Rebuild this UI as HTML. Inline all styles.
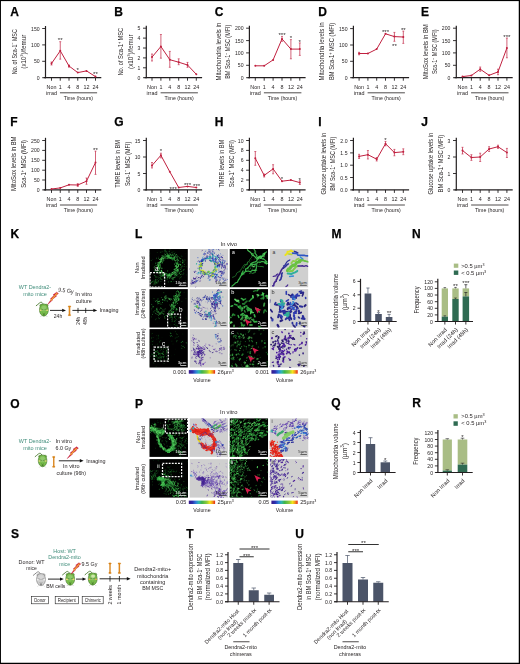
<!DOCTYPE html>
<html><head><meta charset="utf-8"><title>Figure</title>
<style>
html,body{margin:0;padding:0;background:#fff;}
body{width:520px;height:664px;overflow:hidden;position:relative;}
svg{display:block;position:absolute;left:0;top:0;font-family:"Liberation Sans",sans-serif;}
</style></head><body>
<svg width="520" height="664" viewBox="0 0 520 664">
<rect x="0" y="0" width="520" height="664" fill="#fff"/>
<g opacity="0.999">
<text x="10.30" y="16.25" font-size="12" font-weight="bold" fill="#000" stroke="#000" stroke-width="0.25">A</text>
<line x1="45.50" y1="26.00" x2="45.50" y2="78.30" stroke="#231f20" stroke-width="1.2" stroke-linecap="butt"/>
<line x1="43.70" y1="77.70" x2="101.30" y2="77.70" stroke="#231f20" stroke-width="1.2" stroke-linecap="butt"/>
<line x1="42.20" y1="28.50" x2="45.50" y2="28.50" stroke="#231f20" stroke-width="0.9" stroke-linecap="butt"/>
<text x="39.60" y="30.55" font-size="5.8" text-anchor="end" fill="#231f20" textLength="8.55" lengthAdjust="spacingAndGlyphs">150</text>
<line x1="42.20" y1="44.90" x2="45.50" y2="44.90" stroke="#231f20" stroke-width="0.9" stroke-linecap="butt"/>
<text x="39.60" y="46.95" font-size="5.8" text-anchor="end" fill="#231f20" textLength="8.55" lengthAdjust="spacingAndGlyphs">100</text>
<line x1="42.20" y1="61.30" x2="45.50" y2="61.30" stroke="#231f20" stroke-width="0.9" stroke-linecap="butt"/>
<text x="39.60" y="63.35" font-size="5.8" text-anchor="end" fill="#231f20" textLength="5.70" lengthAdjust="spacingAndGlyphs">50</text>
<line x1="42.20" y1="77.70" x2="45.50" y2="77.70" stroke="#231f20" stroke-width="0.9" stroke-linecap="butt"/>
<text x="39.60" y="79.75" font-size="5.8" text-anchor="end" fill="#231f20" textLength="2.85" lengthAdjust="spacingAndGlyphs">0</text>
<line x1="51.50" y1="77.70" x2="51.50" y2="80.70" stroke="#231f20" stroke-width="0.9" stroke-linecap="butt"/>
<line x1="60.25" y1="77.70" x2="60.25" y2="80.70" stroke="#231f20" stroke-width="0.9" stroke-linecap="butt"/>
<line x1="69.00" y1="77.70" x2="69.00" y2="80.70" stroke="#231f20" stroke-width="0.9" stroke-linecap="butt"/>
<line x1="77.75" y1="77.70" x2="77.75" y2="80.70" stroke="#231f20" stroke-width="0.9" stroke-linecap="butt"/>
<line x1="86.50" y1="77.70" x2="86.50" y2="80.70" stroke="#231f20" stroke-width="0.9" stroke-linecap="butt"/>
<line x1="95.50" y1="77.70" x2="95.50" y2="80.70" stroke="#231f20" stroke-width="0.9" stroke-linecap="butt"/>
<text x="51.50" y="88.50" font-size="5.4" text-anchor="middle" fill="#231f20">Non</text>
<text x="60.25" y="88.50" font-size="5.4" text-anchor="middle" fill="#231f20">1</text>
<text x="69.00" y="88.50" font-size="5.4" text-anchor="middle" fill="#231f20">4</text>
<text x="77.75" y="88.50" font-size="5.4" text-anchor="middle" fill="#231f20">8</text>
<text x="86.50" y="88.50" font-size="5.4" text-anchor="middle" fill="#231f20">12</text>
<text x="95.50" y="88.50" font-size="5.4" text-anchor="middle" fill="#231f20">24</text>
<text x="51.50" y="94.50" font-size="5.4" text-anchor="middle" fill="#231f20">irrad</text>
<line x1="59.95" y1="92.80" x2="97.10" y2="92.80" stroke="#231f20" stroke-width="0.8" stroke-linecap="butt"/>
<text x="78.38" y="100.10" font-size="5.4" text-anchor="middle" fill="#231f20" textLength="29.40" lengthAdjust="spacingAndGlyphs">Time (hours)</text>
<line x1="51.50" y1="62.00" x2="51.50" y2="65.00" stroke="#c0203f" stroke-width="0.7" stroke-linecap="butt"/>
<line x1="50.50" y1="62.00" x2="52.50" y2="62.00" stroke="#c0203f" stroke-width="0.6" stroke-linecap="butt"/>
<line x1="50.50" y1="65.00" x2="52.50" y2="65.00" stroke="#c0203f" stroke-width="0.6" stroke-linecap="butt"/>
<line x1="60.25" y1="41.70" x2="60.25" y2="59.20" stroke="#c0203f" stroke-width="0.7" stroke-linecap="butt"/>
<line x1="59.25" y1="41.70" x2="61.25" y2="41.70" stroke="#c0203f" stroke-width="0.6" stroke-linecap="butt"/>
<line x1="59.25" y1="59.20" x2="61.25" y2="59.20" stroke="#c0203f" stroke-width="0.6" stroke-linecap="butt"/>
<line x1="69.00" y1="65.00" x2="69.00" y2="67.20" stroke="#c0203f" stroke-width="0.7" stroke-linecap="butt"/>
<line x1="68.00" y1="65.00" x2="70.00" y2="65.00" stroke="#c0203f" stroke-width="0.6" stroke-linecap="butt"/>
<line x1="68.00" y1="67.20" x2="70.00" y2="67.20" stroke="#c0203f" stroke-width="0.6" stroke-linecap="butt"/>
<path d="M51.50 63.50 L60.25 50.80 L69.00 66.00 L77.75 72.60 L86.50 70.90 L95.50 76.60" fill="none" stroke="#c0203f" stroke-width="1.0" stroke-linejoin="round"/>
<circle cx="51.50" cy="63.50" r="1.0" fill="#c0203f"/>
<circle cx="60.25" cy="50.80" r="1.0" fill="#c0203f"/>
<circle cx="69.00" cy="66.00" r="1.0" fill="#c0203f"/>
<circle cx="77.75" cy="72.60" r="1.0" fill="#c0203f"/>
<circle cx="86.50" cy="70.90" r="1.0" fill="#c0203f"/>
<circle cx="95.50" cy="76.60" r="1.0" fill="#c0203f"/>
<text x="60.25" y="42.20" font-size="6.2" text-anchor="middle" fill="#231f20">**</text>
<text x="77.75" y="72.10" font-size="6.2" text-anchor="middle" fill="#231f20">*</text>
<text x="95.50" y="75.90" font-size="6.2" text-anchor="middle" fill="#231f20">**</text>
<text x="16.90" y="51.70" font-size="7.7" text-anchor="middle" fill="#231f20" textLength="45.00" lengthAdjust="spacingAndGlyphs" transform="rotate(-90 16.90 51.70)">No. of Sca-1<tspan font-size="4.8" dy="-2.6">−</tspan><tspan dy="2.6"> MSC</tspan></text>
<text x="26.10" y="51.70" font-size="7.7" text-anchor="middle" fill="#231f20" textLength="34.00" lengthAdjust="spacingAndGlyphs" transform="rotate(-90 26.10 51.70)">(x10<tspan font-size="4.4" dy="-2.6">3</tspan><tspan dy="2.6">)/femur</tspan></text>
<text x="114.20" y="16.25" font-size="12" font-weight="bold" fill="#000" stroke="#000" stroke-width="0.25">B</text>
<line x1="146.30" y1="25.80" x2="146.30" y2="78.30" stroke="#231f20" stroke-width="1.2" stroke-linecap="butt"/>
<line x1="144.50" y1="77.70" x2="202.10" y2="77.70" stroke="#231f20" stroke-width="1.2" stroke-linecap="butt"/>
<line x1="143.00" y1="28.20" x2="146.30" y2="28.20" stroke="#231f20" stroke-width="0.9" stroke-linecap="butt"/>
<text x="140.40" y="30.25" font-size="5.8" text-anchor="end" fill="#231f20" textLength="2.85" lengthAdjust="spacingAndGlyphs">5</text>
<line x1="143.00" y1="38.10" x2="146.30" y2="38.10" stroke="#231f20" stroke-width="0.9" stroke-linecap="butt"/>
<text x="140.40" y="40.15" font-size="5.8" text-anchor="end" fill="#231f20" textLength="2.85" lengthAdjust="spacingAndGlyphs">4</text>
<line x1="143.00" y1="48.00" x2="146.30" y2="48.00" stroke="#231f20" stroke-width="0.9" stroke-linecap="butt"/>
<text x="140.40" y="50.05" font-size="5.8" text-anchor="end" fill="#231f20" textLength="2.85" lengthAdjust="spacingAndGlyphs">3</text>
<line x1="143.00" y1="57.90" x2="146.30" y2="57.90" stroke="#231f20" stroke-width="0.9" stroke-linecap="butt"/>
<text x="140.40" y="59.95" font-size="5.8" text-anchor="end" fill="#231f20" textLength="2.85" lengthAdjust="spacingAndGlyphs">2</text>
<line x1="143.00" y1="67.80" x2="146.30" y2="67.80" stroke="#231f20" stroke-width="0.9" stroke-linecap="butt"/>
<text x="140.40" y="69.85" font-size="5.8" text-anchor="end" fill="#231f20" textLength="2.85" lengthAdjust="spacingAndGlyphs">1</text>
<line x1="143.00" y1="77.70" x2="146.30" y2="77.70" stroke="#231f20" stroke-width="0.9" stroke-linecap="butt"/>
<text x="140.40" y="79.75" font-size="5.8" text-anchor="end" fill="#231f20" textLength="2.85" lengthAdjust="spacingAndGlyphs">0</text>
<line x1="152.00" y1="77.70" x2="152.00" y2="80.70" stroke="#231f20" stroke-width="0.9" stroke-linecap="butt"/>
<line x1="160.90" y1="77.70" x2="160.90" y2="80.70" stroke="#231f20" stroke-width="0.9" stroke-linecap="butt"/>
<line x1="169.80" y1="77.70" x2="169.80" y2="80.70" stroke="#231f20" stroke-width="0.9" stroke-linecap="butt"/>
<line x1="178.70" y1="77.70" x2="178.70" y2="80.70" stroke="#231f20" stroke-width="0.9" stroke-linecap="butt"/>
<line x1="187.50" y1="77.70" x2="187.50" y2="80.70" stroke="#231f20" stroke-width="0.9" stroke-linecap="butt"/>
<line x1="196.30" y1="77.70" x2="196.30" y2="80.70" stroke="#231f20" stroke-width="0.9" stroke-linecap="butt"/>
<text x="152.00" y="88.50" font-size="5.4" text-anchor="middle" fill="#231f20">Non</text>
<text x="160.90" y="88.50" font-size="5.4" text-anchor="middle" fill="#231f20">1</text>
<text x="169.80" y="88.50" font-size="5.4" text-anchor="middle" fill="#231f20">4</text>
<text x="178.70" y="88.50" font-size="5.4" text-anchor="middle" fill="#231f20">8</text>
<text x="187.50" y="88.50" font-size="5.4" text-anchor="middle" fill="#231f20">12</text>
<text x="196.30" y="88.50" font-size="5.4" text-anchor="middle" fill="#231f20">24</text>
<text x="152.00" y="94.50" font-size="5.4" text-anchor="middle" fill="#231f20">irrad</text>
<line x1="160.60" y1="92.80" x2="197.90" y2="92.80" stroke="#231f20" stroke-width="0.8" stroke-linecap="butt"/>
<text x="179.10" y="100.10" font-size="5.4" text-anchor="middle" fill="#231f20" textLength="29.40" lengthAdjust="spacingAndGlyphs">Time (hours)</text>
<line x1="152.00" y1="54.00" x2="152.00" y2="61.00" stroke="#c0203f" stroke-width="0.7" stroke-linecap="butt"/>
<line x1="151.00" y1="54.00" x2="153.00" y2="54.00" stroke="#c0203f" stroke-width="0.6" stroke-linecap="butt"/>
<line x1="151.00" y1="61.00" x2="153.00" y2="61.00" stroke="#c0203f" stroke-width="0.6" stroke-linecap="butt"/>
<line x1="160.90" y1="34.50" x2="160.90" y2="58.20" stroke="#c0203f" stroke-width="0.7" stroke-linecap="butt"/>
<line x1="159.90" y1="34.50" x2="161.90" y2="34.50" stroke="#c0203f" stroke-width="0.6" stroke-linecap="butt"/>
<line x1="159.90" y1="58.20" x2="161.90" y2="58.20" stroke="#c0203f" stroke-width="0.6" stroke-linecap="butt"/>
<line x1="169.80" y1="51.40" x2="169.80" y2="67.30" stroke="#c0203f" stroke-width="0.7" stroke-linecap="butt"/>
<line x1="168.80" y1="51.40" x2="170.80" y2="51.40" stroke="#c0203f" stroke-width="0.6" stroke-linecap="butt"/>
<line x1="168.80" y1="67.30" x2="170.80" y2="67.30" stroke="#c0203f" stroke-width="0.6" stroke-linecap="butt"/>
<line x1="178.70" y1="58.80" x2="178.70" y2="64.70" stroke="#c0203f" stroke-width="0.7" stroke-linecap="butt"/>
<line x1="177.70" y1="58.80" x2="179.70" y2="58.80" stroke="#c0203f" stroke-width="0.6" stroke-linecap="butt"/>
<line x1="177.70" y1="64.70" x2="179.70" y2="64.70" stroke="#c0203f" stroke-width="0.6" stroke-linecap="butt"/>
<line x1="187.50" y1="62.40" x2="187.50" y2="67.30" stroke="#c0203f" stroke-width="0.7" stroke-linecap="butt"/>
<line x1="186.50" y1="62.40" x2="188.50" y2="62.40" stroke="#c0203f" stroke-width="0.6" stroke-linecap="butt"/>
<line x1="186.50" y1="67.30" x2="188.50" y2="67.30" stroke="#c0203f" stroke-width="0.6" stroke-linecap="butt"/>
<path d="M152.00 57.10 L160.90 46.50 L169.80 59.70 L178.70 62.20 L187.50 65.00 L196.30 74.30" fill="none" stroke="#c0203f" stroke-width="1.0" stroke-linejoin="round"/>
<circle cx="152.00" cy="57.10" r="1.0" fill="#c0203f"/>
<circle cx="160.90" cy="46.50" r="1.0" fill="#c0203f"/>
<circle cx="169.80" cy="59.70" r="1.0" fill="#c0203f"/>
<circle cx="178.70" cy="62.20" r="1.0" fill="#c0203f"/>
<circle cx="187.50" cy="65.00" r="1.0" fill="#c0203f"/>
<circle cx="196.30" cy="74.30" r="1.0" fill="#c0203f"/>
<text x="123.40" y="51.70" font-size="7.7" text-anchor="middle" fill="#231f20" textLength="47.80" lengthAdjust="spacingAndGlyphs" transform="rotate(-90 123.40 51.70)">No. of Sca-1<tspan font-size="4.8" dy="-2.6">+</tspan><tspan dy="2.6"> MSC</tspan></text>
<text x="132.60" y="51.70" font-size="7.7" text-anchor="middle" fill="#231f20" textLength="34.50" lengthAdjust="spacingAndGlyphs" transform="rotate(-90 132.60 51.70)">(x10<tspan font-size="4.4" dy="-2.6">3</tspan><tspan dy="2.6">)/femur</tspan></text>
<text x="214.80" y="16.25" font-size="12" font-weight="bold" fill="#000" stroke="#000" stroke-width="0.25">C</text>
<line x1="249.40" y1="25.80" x2="249.40" y2="78.30" stroke="#231f20" stroke-width="1.2" stroke-linecap="butt"/>
<line x1="247.60" y1="77.70" x2="305.60" y2="77.70" stroke="#231f20" stroke-width="1.2" stroke-linecap="butt"/>
<line x1="246.10" y1="28.20" x2="249.40" y2="28.20" stroke="#231f20" stroke-width="0.9" stroke-linecap="butt"/>
<text x="243.50" y="30.25" font-size="5.8" text-anchor="end" fill="#231f20" textLength="8.55" lengthAdjust="spacingAndGlyphs">200</text>
<line x1="246.10" y1="40.60" x2="249.40" y2="40.60" stroke="#231f20" stroke-width="0.9" stroke-linecap="butt"/>
<text x="243.50" y="42.65" font-size="5.8" text-anchor="end" fill="#231f20" textLength="8.55" lengthAdjust="spacingAndGlyphs">150</text>
<line x1="246.10" y1="52.90" x2="249.40" y2="52.90" stroke="#231f20" stroke-width="0.9" stroke-linecap="butt"/>
<text x="243.50" y="54.95" font-size="5.8" text-anchor="end" fill="#231f20" textLength="8.55" lengthAdjust="spacingAndGlyphs">100</text>
<line x1="246.10" y1="65.30" x2="249.40" y2="65.30" stroke="#231f20" stroke-width="0.9" stroke-linecap="butt"/>
<text x="243.50" y="67.35" font-size="5.8" text-anchor="end" fill="#231f20" textLength="5.70" lengthAdjust="spacingAndGlyphs">50</text>
<line x1="246.10" y1="77.70" x2="249.40" y2="77.70" stroke="#231f20" stroke-width="0.9" stroke-linecap="butt"/>
<text x="243.50" y="79.75" font-size="5.8" text-anchor="end" fill="#231f20" textLength="2.85" lengthAdjust="spacingAndGlyphs">0</text>
<line x1="255.30" y1="77.70" x2="255.30" y2="80.70" stroke="#231f20" stroke-width="0.9" stroke-linecap="butt"/>
<line x1="264.20" y1="77.70" x2="264.20" y2="80.70" stroke="#231f20" stroke-width="0.9" stroke-linecap="butt"/>
<line x1="273.10" y1="77.70" x2="273.10" y2="80.70" stroke="#231f20" stroke-width="0.9" stroke-linecap="butt"/>
<line x1="282.00" y1="77.70" x2="282.00" y2="80.70" stroke="#231f20" stroke-width="0.9" stroke-linecap="butt"/>
<line x1="290.90" y1="77.70" x2="290.90" y2="80.70" stroke="#231f20" stroke-width="0.9" stroke-linecap="butt"/>
<line x1="299.80" y1="77.70" x2="299.80" y2="80.70" stroke="#231f20" stroke-width="0.9" stroke-linecap="butt"/>
<text x="255.30" y="88.50" font-size="5.4" text-anchor="middle" fill="#231f20">Non</text>
<text x="264.20" y="88.50" font-size="5.4" text-anchor="middle" fill="#231f20">1</text>
<text x="273.10" y="88.50" font-size="5.4" text-anchor="middle" fill="#231f20">4</text>
<text x="282.00" y="88.50" font-size="5.4" text-anchor="middle" fill="#231f20">8</text>
<text x="290.90" y="88.50" font-size="5.4" text-anchor="middle" fill="#231f20">12</text>
<text x="299.80" y="88.50" font-size="5.4" text-anchor="middle" fill="#231f20">24</text>
<text x="255.30" y="94.50" font-size="5.4" text-anchor="middle" fill="#231f20">irrad</text>
<line x1="263.90" y1="92.80" x2="301.40" y2="92.80" stroke="#231f20" stroke-width="0.8" stroke-linecap="butt"/>
<text x="282.50" y="100.10" font-size="5.4" text-anchor="middle" fill="#231f20" textLength="29.40" lengthAdjust="spacingAndGlyphs">Time (hours)</text>
<line x1="282.00" y1="36.40" x2="282.00" y2="41.30" stroke="#c0203f" stroke-width="0.7" stroke-linecap="butt"/>
<line x1="281.00" y1="36.40" x2="283.00" y2="36.40" stroke="#c0203f" stroke-width="0.6" stroke-linecap="butt"/>
<line x1="281.00" y1="41.30" x2="283.00" y2="41.30" stroke="#c0203f" stroke-width="0.6" stroke-linecap="butt"/>
<line x1="290.90" y1="39.60" x2="290.90" y2="58.80" stroke="#c0203f" stroke-width="0.7" stroke-linecap="butt"/>
<line x1="289.90" y1="39.60" x2="291.90" y2="39.60" stroke="#c0203f" stroke-width="0.6" stroke-linecap="butt"/>
<line x1="289.90" y1="58.80" x2="291.90" y2="58.80" stroke="#c0203f" stroke-width="0.6" stroke-linecap="butt"/>
<line x1="299.80" y1="42.90" x2="299.80" y2="55.40" stroke="#c0203f" stroke-width="0.7" stroke-linecap="butt"/>
<line x1="298.80" y1="42.90" x2="300.80" y2="42.90" stroke="#c0203f" stroke-width="0.6" stroke-linecap="butt"/>
<line x1="298.80" y1="55.40" x2="300.80" y2="55.40" stroke="#c0203f" stroke-width="0.6" stroke-linecap="butt"/>
<path d="M255.30 65.80 L264.20 65.80 L273.10 59.90 L282.00 38.90 L290.90 49.10 L299.80 49.10" fill="none" stroke="#c0203f" stroke-width="1.0" stroke-linejoin="round"/>
<circle cx="255.30" cy="65.80" r="1.0" fill="#c0203f"/>
<circle cx="264.20" cy="65.80" r="1.0" fill="#c0203f"/>
<circle cx="273.10" cy="59.90" r="1.0" fill="#c0203f"/>
<circle cx="282.00" cy="38.90" r="1.0" fill="#c0203f"/>
<circle cx="290.90" cy="49.10" r="1.0" fill="#c0203f"/>
<circle cx="299.80" cy="49.10" r="1.0" fill="#c0203f"/>
<text x="282.00" y="36.70" font-size="6.2" text-anchor="middle" fill="#231f20">***</text>
<text x="290.90" y="39.90" font-size="6.2" text-anchor="middle" fill="#231f20">*</text>
<text x="299.80" y="43.70" font-size="6.2" text-anchor="middle" fill="#231f20">*</text>
<text x="220.70" y="51.70" font-size="7.7" text-anchor="middle" fill="#231f20" textLength="57.80" lengthAdjust="spacingAndGlyphs" transform="rotate(-90 220.70 51.70)">Mitochondria levels in</text>
<text x="230.30" y="51.70" font-size="7.7" text-anchor="middle" fill="#231f20" textLength="54.20" lengthAdjust="spacingAndGlyphs" transform="rotate(-90 230.30 51.70)">BM Sca-1<tspan font-size="4.8" dy="-2.6">−</tspan><tspan dy="2.6"> MSC (MFI)</tspan></text>
<text x="318.30" y="16.25" font-size="12" font-weight="bold" fill="#000" stroke="#000" stroke-width="0.25">D</text>
<line x1="353.40" y1="25.80" x2="353.40" y2="78.30" stroke="#231f20" stroke-width="1.2" stroke-linecap="butt"/>
<line x1="351.60" y1="77.70" x2="409.10" y2="77.70" stroke="#231f20" stroke-width="1.2" stroke-linecap="butt"/>
<line x1="350.10" y1="28.60" x2="353.40" y2="28.60" stroke="#231f20" stroke-width="0.9" stroke-linecap="butt"/>
<text x="347.50" y="30.65" font-size="5.8" text-anchor="end" fill="#231f20" textLength="8.55" lengthAdjust="spacingAndGlyphs">150</text>
<line x1="350.10" y1="45.00" x2="353.40" y2="45.00" stroke="#231f20" stroke-width="0.9" stroke-linecap="butt"/>
<text x="347.50" y="47.05" font-size="5.8" text-anchor="end" fill="#231f20" textLength="8.55" lengthAdjust="spacingAndGlyphs">100</text>
<line x1="350.10" y1="61.30" x2="353.40" y2="61.30" stroke="#231f20" stroke-width="0.9" stroke-linecap="butt"/>
<text x="347.50" y="63.35" font-size="5.8" text-anchor="end" fill="#231f20" textLength="5.70" lengthAdjust="spacingAndGlyphs">50</text>
<line x1="350.10" y1="77.70" x2="353.40" y2="77.70" stroke="#231f20" stroke-width="0.9" stroke-linecap="butt"/>
<text x="347.50" y="79.75" font-size="5.8" text-anchor="end" fill="#231f20" textLength="2.85" lengthAdjust="spacingAndGlyphs">0</text>
<line x1="359.10" y1="77.70" x2="359.10" y2="80.70" stroke="#231f20" stroke-width="0.9" stroke-linecap="butt"/>
<line x1="367.90" y1="77.70" x2="367.90" y2="80.70" stroke="#231f20" stroke-width="0.9" stroke-linecap="butt"/>
<line x1="376.70" y1="77.70" x2="376.70" y2="80.70" stroke="#231f20" stroke-width="0.9" stroke-linecap="butt"/>
<line x1="385.50" y1="77.70" x2="385.50" y2="80.70" stroke="#231f20" stroke-width="0.9" stroke-linecap="butt"/>
<line x1="394.40" y1="77.70" x2="394.40" y2="80.70" stroke="#231f20" stroke-width="0.9" stroke-linecap="butt"/>
<line x1="403.30" y1="77.70" x2="403.30" y2="80.70" stroke="#231f20" stroke-width="0.9" stroke-linecap="butt"/>
<text x="359.10" y="88.50" font-size="5.4" text-anchor="middle" fill="#231f20">Non</text>
<text x="367.90" y="88.50" font-size="5.4" text-anchor="middle" fill="#231f20">1</text>
<text x="376.70" y="88.50" font-size="5.4" text-anchor="middle" fill="#231f20">4</text>
<text x="385.50" y="88.50" font-size="5.4" text-anchor="middle" fill="#231f20">8</text>
<text x="394.40" y="88.50" font-size="5.4" text-anchor="middle" fill="#231f20">12</text>
<text x="403.30" y="88.50" font-size="5.4" text-anchor="middle" fill="#231f20">24</text>
<text x="359.10" y="94.50" font-size="5.4" text-anchor="middle" fill="#231f20">irrad</text>
<line x1="367.60" y1="92.80" x2="404.90" y2="92.80" stroke="#231f20" stroke-width="0.8" stroke-linecap="butt"/>
<text x="386.10" y="100.10" font-size="5.4" text-anchor="middle" fill="#231f20" textLength="29.40" lengthAdjust="spacingAndGlyphs">Time (hours)</text>
<line x1="359.10" y1="52.30" x2="359.10" y2="54.80" stroke="#c0203f" stroke-width="0.7" stroke-linecap="butt"/>
<line x1="358.10" y1="52.30" x2="360.10" y2="52.30" stroke="#c0203f" stroke-width="0.6" stroke-linecap="butt"/>
<line x1="358.10" y1="54.80" x2="360.10" y2="54.80" stroke="#c0203f" stroke-width="0.6" stroke-linecap="butt"/>
<line x1="394.40" y1="32.40" x2="394.40" y2="41.30" stroke="#c0203f" stroke-width="0.7" stroke-linecap="butt"/>
<line x1="393.40" y1="32.40" x2="395.40" y2="32.40" stroke="#c0203f" stroke-width="0.6" stroke-linecap="butt"/>
<line x1="393.40" y1="41.30" x2="395.40" y2="41.30" stroke="#c0203f" stroke-width="0.6" stroke-linecap="butt"/>
<line x1="403.30" y1="31.10" x2="403.30" y2="43.40" stroke="#c0203f" stroke-width="0.7" stroke-linecap="butt"/>
<line x1="402.30" y1="31.10" x2="404.30" y2="31.10" stroke="#c0203f" stroke-width="0.6" stroke-linecap="butt"/>
<line x1="402.30" y1="43.40" x2="404.30" y2="43.40" stroke="#c0203f" stroke-width="0.6" stroke-linecap="butt"/>
<path d="M359.10 53.50 L367.90 53.50 L376.70 49.10 L385.50 33.80 L394.40 36.60 L403.30 37.00" fill="none" stroke="#c0203f" stroke-width="1.0" stroke-linejoin="round"/>
<circle cx="359.10" cy="53.50" r="1.0" fill="#c0203f"/>
<circle cx="367.90" cy="53.50" r="1.0" fill="#c0203f"/>
<circle cx="376.70" cy="49.10" r="1.0" fill="#c0203f"/>
<circle cx="385.50" cy="33.80" r="1.0" fill="#c0203f"/>
<circle cx="394.40" cy="36.60" r="1.0" fill="#c0203f"/>
<circle cx="403.30" cy="37.00" r="1.0" fill="#c0203f"/>
<text x="385.50" y="33.80" font-size="6.2" text-anchor="middle" fill="#231f20">***</text>
<text x="394.40" y="48.30" font-size="6.2" text-anchor="middle" fill="#231f20">**</text>
<text x="403.30" y="32.10" font-size="6.2" text-anchor="middle" fill="#231f20">**</text>
<text x="324.40" y="51.40" font-size="7.7" text-anchor="middle" fill="#231f20" textLength="58.10" lengthAdjust="spacingAndGlyphs" transform="rotate(-90 324.40 51.40)">Mitochondria levels in</text>
<text x="334.30" y="51.40" font-size="7.7" text-anchor="middle" fill="#231f20" textLength="57.40" lengthAdjust="spacingAndGlyphs" transform="rotate(-90 334.30 51.40)">BM Sca-1<tspan font-size="4.8" dy="-2.6">+</tspan><tspan dy="2.6"> MSC (MFI)</tspan></text>
<text x="421.00" y="16.25" font-size="12" font-weight="bold" fill="#000" stroke="#000" stroke-width="0.25">E</text>
<line x1="456.30" y1="25.80" x2="456.30" y2="78.30" stroke="#231f20" stroke-width="1.2" stroke-linecap="butt"/>
<line x1="454.50" y1="77.70" x2="512.70" y2="77.70" stroke="#231f20" stroke-width="1.2" stroke-linecap="butt"/>
<line x1="453.00" y1="28.20" x2="456.30" y2="28.20" stroke="#231f20" stroke-width="0.9" stroke-linecap="butt"/>
<text x="450.40" y="30.25" font-size="5.8" text-anchor="end" fill="#231f20" textLength="8.55" lengthAdjust="spacingAndGlyphs">200</text>
<line x1="453.00" y1="40.60" x2="456.30" y2="40.60" stroke="#231f20" stroke-width="0.9" stroke-linecap="butt"/>
<text x="450.40" y="42.65" font-size="5.8" text-anchor="end" fill="#231f20" textLength="8.55" lengthAdjust="spacingAndGlyphs">150</text>
<line x1="453.00" y1="52.90" x2="456.30" y2="52.90" stroke="#231f20" stroke-width="0.9" stroke-linecap="butt"/>
<text x="450.40" y="54.95" font-size="5.8" text-anchor="end" fill="#231f20" textLength="8.55" lengthAdjust="spacingAndGlyphs">100</text>
<line x1="453.00" y1="65.30" x2="456.30" y2="65.30" stroke="#231f20" stroke-width="0.9" stroke-linecap="butt"/>
<text x="450.40" y="67.35" font-size="5.8" text-anchor="end" fill="#231f20" textLength="5.70" lengthAdjust="spacingAndGlyphs">50</text>
<line x1="453.00" y1="77.70" x2="456.30" y2="77.70" stroke="#231f20" stroke-width="0.9" stroke-linecap="butt"/>
<text x="450.40" y="79.75" font-size="5.8" text-anchor="end" fill="#231f20" textLength="2.85" lengthAdjust="spacingAndGlyphs">0</text>
<line x1="462.50" y1="77.70" x2="462.50" y2="80.70" stroke="#231f20" stroke-width="0.9" stroke-linecap="butt"/>
<line x1="471.40" y1="77.70" x2="471.40" y2="80.70" stroke="#231f20" stroke-width="0.9" stroke-linecap="butt"/>
<line x1="480.20" y1="77.70" x2="480.20" y2="80.70" stroke="#231f20" stroke-width="0.9" stroke-linecap="butt"/>
<line x1="489.10" y1="77.70" x2="489.10" y2="80.70" stroke="#231f20" stroke-width="0.9" stroke-linecap="butt"/>
<line x1="498.00" y1="77.70" x2="498.00" y2="80.70" stroke="#231f20" stroke-width="0.9" stroke-linecap="butt"/>
<line x1="506.90" y1="77.70" x2="506.90" y2="80.70" stroke="#231f20" stroke-width="0.9" stroke-linecap="butt"/>
<text x="462.50" y="88.50" font-size="5.4" text-anchor="middle" fill="#231f20">Non</text>
<text x="471.40" y="88.50" font-size="5.4" text-anchor="middle" fill="#231f20">1</text>
<text x="480.20" y="88.50" font-size="5.4" text-anchor="middle" fill="#231f20">4</text>
<text x="489.10" y="88.50" font-size="5.4" text-anchor="middle" fill="#231f20">8</text>
<text x="498.00" y="88.50" font-size="5.4" text-anchor="middle" fill="#231f20">12</text>
<text x="506.90" y="88.50" font-size="5.4" text-anchor="middle" fill="#231f20">24</text>
<text x="462.50" y="94.50" font-size="5.4" text-anchor="middle" fill="#231f20">irrad</text>
<line x1="471.10" y1="92.80" x2="508.50" y2="92.80" stroke="#231f20" stroke-width="0.8" stroke-linecap="butt"/>
<text x="489.65" y="100.10" font-size="5.4" text-anchor="middle" fill="#231f20" textLength="29.40" lengthAdjust="spacingAndGlyphs">Time (hours)</text>
<line x1="480.20" y1="67.00" x2="480.20" y2="71.30" stroke="#c0203f" stroke-width="0.7" stroke-linecap="butt"/>
<line x1="479.20" y1="67.00" x2="481.20" y2="67.00" stroke="#c0203f" stroke-width="0.6" stroke-linecap="butt"/>
<line x1="479.20" y1="71.30" x2="481.20" y2="71.30" stroke="#c0203f" stroke-width="0.6" stroke-linecap="butt"/>
<line x1="498.00" y1="69.20" x2="498.00" y2="74.70" stroke="#c0203f" stroke-width="0.7" stroke-linecap="butt"/>
<line x1="497.00" y1="69.20" x2="499.00" y2="69.20" stroke="#c0203f" stroke-width="0.6" stroke-linecap="butt"/>
<line x1="497.00" y1="74.70" x2="499.00" y2="74.70" stroke="#c0203f" stroke-width="0.6" stroke-linecap="butt"/>
<line x1="506.90" y1="38.00" x2="506.90" y2="57.80" stroke="#c0203f" stroke-width="0.7" stroke-linecap="butt"/>
<line x1="505.90" y1="38.00" x2="507.90" y2="38.00" stroke="#c0203f" stroke-width="0.6" stroke-linecap="butt"/>
<line x1="505.90" y1="57.80" x2="507.90" y2="57.80" stroke="#c0203f" stroke-width="0.6" stroke-linecap="butt"/>
<path d="M462.50 76.60 L471.40 75.50 L480.20 69.20 L489.10 75.30 L498.00 71.90 L506.90 48.00" fill="none" stroke="#c0203f" stroke-width="1.0" stroke-linejoin="round"/>
<circle cx="462.50" cy="76.60" r="1.0" fill="#c0203f"/>
<circle cx="471.40" cy="75.50" r="1.0" fill="#c0203f"/>
<circle cx="480.20" cy="69.20" r="1.0" fill="#c0203f"/>
<circle cx="489.10" cy="75.30" r="1.0" fill="#c0203f"/>
<circle cx="498.00" cy="71.90" r="1.0" fill="#c0203f"/>
<circle cx="506.90" cy="48.00" r="1.0" fill="#c0203f"/>
<text x="506.90" y="39.00" font-size="6.2" text-anchor="middle" fill="#231f20">***</text>
<text x="427.90" y="51.70" font-size="7.7" text-anchor="middle" fill="#231f20" textLength="55.00" lengthAdjust="spacingAndGlyphs" transform="rotate(-90 427.90 51.70)">MitoSox levels in BM</text>
<text x="437.30" y="51.70" font-size="7.7" text-anchor="middle" fill="#231f20" textLength="44.70" lengthAdjust="spacingAndGlyphs" transform="rotate(-90 437.30 51.70)">Sca-1<tspan font-size="4.8" dy="-2.6">−</tspan><tspan dy="2.6"> MSC (MFI)</tspan></text>
<text x="10.30" y="126.05" font-size="12" font-weight="bold" fill="#000" stroke="#000" stroke-width="0.25">F</text>
<line x1="45.50" y1="137.80" x2="45.50" y2="190.50" stroke="#231f20" stroke-width="1.2" stroke-linecap="butt"/>
<line x1="43.70" y1="189.90" x2="101.30" y2="189.90" stroke="#231f20" stroke-width="1.2" stroke-linecap="butt"/>
<line x1="42.20" y1="140.50" x2="45.50" y2="140.50" stroke="#231f20" stroke-width="0.9" stroke-linecap="butt"/>
<text x="39.60" y="142.55" font-size="5.8" text-anchor="end" fill="#231f20" textLength="8.55" lengthAdjust="spacingAndGlyphs">250</text>
<line x1="42.20" y1="150.40" x2="45.50" y2="150.40" stroke="#231f20" stroke-width="0.9" stroke-linecap="butt"/>
<text x="39.60" y="152.45" font-size="5.8" text-anchor="end" fill="#231f20" textLength="8.55" lengthAdjust="spacingAndGlyphs">200</text>
<line x1="42.20" y1="160.30" x2="45.50" y2="160.30" stroke="#231f20" stroke-width="0.9" stroke-linecap="butt"/>
<text x="39.60" y="162.35" font-size="5.8" text-anchor="end" fill="#231f20" textLength="8.55" lengthAdjust="spacingAndGlyphs">150</text>
<line x1="42.20" y1="170.20" x2="45.50" y2="170.20" stroke="#231f20" stroke-width="0.9" stroke-linecap="butt"/>
<text x="39.60" y="172.25" font-size="5.8" text-anchor="end" fill="#231f20" textLength="8.55" lengthAdjust="spacingAndGlyphs">100</text>
<line x1="42.20" y1="180.00" x2="45.50" y2="180.00" stroke="#231f20" stroke-width="0.9" stroke-linecap="butt"/>
<text x="39.60" y="182.05" font-size="5.8" text-anchor="end" fill="#231f20" textLength="5.70" lengthAdjust="spacingAndGlyphs">50</text>
<line x1="42.20" y1="189.90" x2="45.50" y2="189.90" stroke="#231f20" stroke-width="0.9" stroke-linecap="butt"/>
<text x="39.60" y="191.95" font-size="5.8" text-anchor="end" fill="#231f20" textLength="2.85" lengthAdjust="spacingAndGlyphs">0</text>
<line x1="51.50" y1="189.90" x2="51.50" y2="192.90" stroke="#231f20" stroke-width="0.9" stroke-linecap="butt"/>
<line x1="60.25" y1="189.90" x2="60.25" y2="192.90" stroke="#231f20" stroke-width="0.9" stroke-linecap="butt"/>
<line x1="69.00" y1="189.90" x2="69.00" y2="192.90" stroke="#231f20" stroke-width="0.9" stroke-linecap="butt"/>
<line x1="77.75" y1="189.90" x2="77.75" y2="192.90" stroke="#231f20" stroke-width="0.9" stroke-linecap="butt"/>
<line x1="86.50" y1="189.90" x2="86.50" y2="192.90" stroke="#231f20" stroke-width="0.9" stroke-linecap="butt"/>
<line x1="95.50" y1="189.90" x2="95.50" y2="192.90" stroke="#231f20" stroke-width="0.9" stroke-linecap="butt"/>
<text x="51.50" y="200.70" font-size="5.4" text-anchor="middle" fill="#231f20">Non</text>
<text x="60.25" y="200.70" font-size="5.4" text-anchor="middle" fill="#231f20">1</text>
<text x="69.00" y="200.70" font-size="5.4" text-anchor="middle" fill="#231f20">4</text>
<text x="77.75" y="200.70" font-size="5.4" text-anchor="middle" fill="#231f20">8</text>
<text x="86.50" y="200.70" font-size="5.4" text-anchor="middle" fill="#231f20">12</text>
<text x="95.50" y="200.70" font-size="5.4" text-anchor="middle" fill="#231f20">24</text>
<text x="51.50" y="206.70" font-size="5.4" text-anchor="middle" fill="#231f20">irrad</text>
<line x1="59.95" y1="205.00" x2="97.10" y2="205.00" stroke="#231f20" stroke-width="0.8" stroke-linecap="butt"/>
<text x="78.38" y="212.30" font-size="5.4" text-anchor="middle" fill="#231f20" textLength="29.40" lengthAdjust="spacingAndGlyphs">Time (hours)</text>
<line x1="77.75" y1="183.60" x2="77.75" y2="186.40" stroke="#c0203f" stroke-width="0.7" stroke-linecap="butt"/>
<line x1="76.75" y1="183.60" x2="78.75" y2="183.60" stroke="#c0203f" stroke-width="0.6" stroke-linecap="butt"/>
<line x1="76.75" y1="186.40" x2="78.75" y2="186.40" stroke="#c0203f" stroke-width="0.6" stroke-linecap="butt"/>
<line x1="86.50" y1="178.00" x2="86.50" y2="184.30" stroke="#c0203f" stroke-width="0.7" stroke-linecap="butt"/>
<line x1="85.50" y1="178.00" x2="87.50" y2="178.00" stroke="#c0203f" stroke-width="0.6" stroke-linecap="butt"/>
<line x1="85.50" y1="184.30" x2="87.50" y2="184.30" stroke="#c0203f" stroke-width="0.6" stroke-linecap="butt"/>
<line x1="95.50" y1="151.10" x2="95.50" y2="174.40" stroke="#c0203f" stroke-width="0.7" stroke-linecap="butt"/>
<line x1="94.50" y1="151.10" x2="96.50" y2="151.10" stroke="#c0203f" stroke-width="0.6" stroke-linecap="butt"/>
<line x1="94.50" y1="174.40" x2="96.50" y2="174.40" stroke="#c0203f" stroke-width="0.6" stroke-linecap="butt"/>
<path d="M51.50 189.00 L60.25 187.90 L69.00 184.80 L77.75 185.00 L86.50 181.20 L95.50 162.50" fill="none" stroke="#c0203f" stroke-width="1.0" stroke-linejoin="round"/>
<circle cx="51.50" cy="189.00" r="1.0" fill="#c0203f"/>
<circle cx="60.25" cy="187.90" r="1.0" fill="#c0203f"/>
<circle cx="69.00" cy="184.80" r="1.0" fill="#c0203f"/>
<circle cx="77.75" cy="185.00" r="1.0" fill="#c0203f"/>
<circle cx="86.50" cy="181.20" r="1.0" fill="#c0203f"/>
<circle cx="95.50" cy="162.50" r="1.0" fill="#c0203f"/>
<text x="95.50" y="152.30" font-size="6.2" text-anchor="middle" fill="#231f20">**</text>
<text x="16.40" y="163.80" font-size="7.7" text-anchor="middle" fill="#231f20" textLength="54.60" lengthAdjust="spacingAndGlyphs" transform="rotate(-90 16.40 163.80)">MitoSox levels in BM</text>
<text x="26.30" y="163.80" font-size="7.7" text-anchor="middle" fill="#231f20" textLength="47.70" lengthAdjust="spacingAndGlyphs" transform="rotate(-90 26.30 163.80)">Sca-1<tspan font-size="4.8" dy="-2.6">+</tspan><tspan dy="2.6"> MSC (MFI)</tspan></text>
<text x="114.20" y="126.05" font-size="12" font-weight="bold" fill="#000" stroke="#000" stroke-width="0.25">G</text>
<line x1="146.30" y1="137.80" x2="146.30" y2="190.50" stroke="#231f20" stroke-width="1.2" stroke-linecap="butt"/>
<line x1="144.50" y1="189.90" x2="202.10" y2="189.90" stroke="#231f20" stroke-width="1.2" stroke-linecap="butt"/>
<line x1="143.00" y1="140.50" x2="146.30" y2="140.50" stroke="#231f20" stroke-width="0.9" stroke-linecap="butt"/>
<text x="140.40" y="142.55" font-size="5.8" text-anchor="end" fill="#231f20" textLength="5.70" lengthAdjust="spacingAndGlyphs">15</text>
<line x1="143.00" y1="157.00" x2="146.30" y2="157.00" stroke="#231f20" stroke-width="0.9" stroke-linecap="butt"/>
<text x="140.40" y="159.05" font-size="5.8" text-anchor="end" fill="#231f20" textLength="5.70" lengthAdjust="spacingAndGlyphs">10</text>
<line x1="143.00" y1="173.50" x2="146.30" y2="173.50" stroke="#231f20" stroke-width="0.9" stroke-linecap="butt"/>
<text x="140.40" y="175.55" font-size="5.8" text-anchor="end" fill="#231f20" textLength="2.85" lengthAdjust="spacingAndGlyphs">5</text>
<line x1="143.00" y1="189.90" x2="146.30" y2="189.90" stroke="#231f20" stroke-width="0.9" stroke-linecap="butt"/>
<text x="140.40" y="191.95" font-size="5.8" text-anchor="end" fill="#231f20" textLength="2.85" lengthAdjust="spacingAndGlyphs">0</text>
<line x1="152.00" y1="189.90" x2="152.00" y2="192.90" stroke="#231f20" stroke-width="0.9" stroke-linecap="butt"/>
<line x1="160.90" y1="189.90" x2="160.90" y2="192.90" stroke="#231f20" stroke-width="0.9" stroke-linecap="butt"/>
<line x1="169.80" y1="189.90" x2="169.80" y2="192.90" stroke="#231f20" stroke-width="0.9" stroke-linecap="butt"/>
<line x1="178.70" y1="189.90" x2="178.70" y2="192.90" stroke="#231f20" stroke-width="0.9" stroke-linecap="butt"/>
<line x1="187.50" y1="189.90" x2="187.50" y2="192.90" stroke="#231f20" stroke-width="0.9" stroke-linecap="butt"/>
<line x1="196.30" y1="189.90" x2="196.30" y2="192.90" stroke="#231f20" stroke-width="0.9" stroke-linecap="butt"/>
<text x="152.00" y="200.70" font-size="5.4" text-anchor="middle" fill="#231f20">Non</text>
<text x="160.90" y="200.70" font-size="5.4" text-anchor="middle" fill="#231f20">1</text>
<text x="169.80" y="200.70" font-size="5.4" text-anchor="middle" fill="#231f20">4</text>
<text x="178.70" y="200.70" font-size="5.4" text-anchor="middle" fill="#231f20">8</text>
<text x="187.50" y="200.70" font-size="5.4" text-anchor="middle" fill="#231f20">12</text>
<text x="196.30" y="200.70" font-size="5.4" text-anchor="middle" fill="#231f20">24</text>
<text x="152.00" y="206.70" font-size="5.4" text-anchor="middle" fill="#231f20">irrad</text>
<line x1="160.60" y1="205.00" x2="197.90" y2="205.00" stroke="#231f20" stroke-width="0.8" stroke-linecap="butt"/>
<text x="179.10" y="212.30" font-size="5.4" text-anchor="middle" fill="#231f20" textLength="29.40" lengthAdjust="spacingAndGlyphs">Time (hours)</text>
<line x1="152.00" y1="162.50" x2="152.00" y2="168.00" stroke="#c0203f" stroke-width="0.7" stroke-linecap="butt"/>
<line x1="151.00" y1="162.50" x2="153.00" y2="162.50" stroke="#c0203f" stroke-width="0.6" stroke-linecap="butt"/>
<line x1="151.00" y1="168.00" x2="153.00" y2="168.00" stroke="#c0203f" stroke-width="0.6" stroke-linecap="butt"/>
<line x1="160.90" y1="153.20" x2="160.90" y2="157.90" stroke="#c0203f" stroke-width="0.7" stroke-linecap="butt"/>
<line x1="159.90" y1="153.20" x2="161.90" y2="153.20" stroke="#c0203f" stroke-width="0.6" stroke-linecap="butt"/>
<line x1="159.90" y1="157.90" x2="161.90" y2="157.90" stroke="#c0203f" stroke-width="0.6" stroke-linecap="butt"/>
<path d="M152.00 165.50 L160.90 155.30 L169.80 171.80 L178.70 187.50 L187.50 186.40 L196.30 187.50" fill="none" stroke="#c0203f" stroke-width="1.0" stroke-linejoin="round"/>
<circle cx="152.00" cy="165.50" r="1.0" fill="#c0203f"/>
<circle cx="160.90" cy="155.30" r="1.0" fill="#c0203f"/>
<circle cx="169.80" cy="171.80" r="1.0" fill="#c0203f"/>
<circle cx="178.70" cy="187.50" r="1.0" fill="#c0203f"/>
<circle cx="187.50" cy="186.40" r="1.0" fill="#c0203f"/>
<circle cx="196.30" cy="187.50" r="1.0" fill="#c0203f"/>
<text x="160.90" y="152.90" font-size="6.2" text-anchor="middle" fill="#231f20">*</text>
<text x="173.20" y="191.10" font-size="6.2" text-anchor="middle" fill="#231f20">***</text>
<text x="187.50" y="186.50" font-size="6.2" text-anchor="middle" fill="#231f20">***</text>
<text x="196.60" y="188.10" font-size="6.2" text-anchor="middle" fill="#231f20">***</text>
<text x="120.40" y="163.90" font-size="7.7" text-anchor="middle" fill="#231f20" textLength="47.70" lengthAdjust="spacingAndGlyphs" transform="rotate(-90 120.40 163.90)">TMRE levels in BM</text>
<text x="129.80" y="163.90" font-size="7.7" text-anchor="middle" fill="#231f20" textLength="44.20" lengthAdjust="spacingAndGlyphs" transform="rotate(-90 129.80 163.90)">Sca-1<tspan font-size="4.8" dy="-2.6">−</tspan><tspan dy="2.6"> MSC (MFI)</tspan></text>
<text x="214.80" y="126.05" font-size="12" font-weight="bold" fill="#000" stroke="#000" stroke-width="0.25">H</text>
<line x1="249.40" y1="137.80" x2="249.40" y2="190.50" stroke="#231f20" stroke-width="1.2" stroke-linecap="butt"/>
<line x1="247.60" y1="189.90" x2="305.60" y2="189.90" stroke="#231f20" stroke-width="1.2" stroke-linecap="butt"/>
<line x1="246.10" y1="140.50" x2="249.40" y2="140.50" stroke="#231f20" stroke-width="0.9" stroke-linecap="butt"/>
<text x="243.50" y="142.55" font-size="5.8" text-anchor="end" fill="#231f20" textLength="5.70" lengthAdjust="spacingAndGlyphs">10</text>
<line x1="246.10" y1="150.40" x2="249.40" y2="150.40" stroke="#231f20" stroke-width="0.9" stroke-linecap="butt"/>
<text x="243.50" y="152.45" font-size="5.8" text-anchor="end" fill="#231f20" textLength="2.85" lengthAdjust="spacingAndGlyphs">8</text>
<line x1="246.10" y1="160.30" x2="249.40" y2="160.30" stroke="#231f20" stroke-width="0.9" stroke-linecap="butt"/>
<text x="243.50" y="162.35" font-size="5.8" text-anchor="end" fill="#231f20" textLength="2.85" lengthAdjust="spacingAndGlyphs">6</text>
<line x1="246.10" y1="170.20" x2="249.40" y2="170.20" stroke="#231f20" stroke-width="0.9" stroke-linecap="butt"/>
<text x="243.50" y="172.25" font-size="5.8" text-anchor="end" fill="#231f20" textLength="2.85" lengthAdjust="spacingAndGlyphs">4</text>
<line x1="246.10" y1="180.00" x2="249.40" y2="180.00" stroke="#231f20" stroke-width="0.9" stroke-linecap="butt"/>
<text x="243.50" y="182.05" font-size="5.8" text-anchor="end" fill="#231f20" textLength="2.85" lengthAdjust="spacingAndGlyphs">2</text>
<line x1="246.10" y1="189.90" x2="249.40" y2="189.90" stroke="#231f20" stroke-width="0.9" stroke-linecap="butt"/>
<text x="243.50" y="191.95" font-size="5.8" text-anchor="end" fill="#231f20" textLength="2.85" lengthAdjust="spacingAndGlyphs">0</text>
<line x1="255.30" y1="189.90" x2="255.30" y2="192.90" stroke="#231f20" stroke-width="0.9" stroke-linecap="butt"/>
<line x1="264.20" y1="189.90" x2="264.20" y2="192.90" stroke="#231f20" stroke-width="0.9" stroke-linecap="butt"/>
<line x1="273.10" y1="189.90" x2="273.10" y2="192.90" stroke="#231f20" stroke-width="0.9" stroke-linecap="butt"/>
<line x1="282.00" y1="189.90" x2="282.00" y2="192.90" stroke="#231f20" stroke-width="0.9" stroke-linecap="butt"/>
<line x1="290.90" y1="189.90" x2="290.90" y2="192.90" stroke="#231f20" stroke-width="0.9" stroke-linecap="butt"/>
<line x1="299.80" y1="189.90" x2="299.80" y2="192.90" stroke="#231f20" stroke-width="0.9" stroke-linecap="butt"/>
<text x="255.30" y="200.70" font-size="5.4" text-anchor="middle" fill="#231f20">Non</text>
<text x="264.20" y="200.70" font-size="5.4" text-anchor="middle" fill="#231f20">1</text>
<text x="273.10" y="200.70" font-size="5.4" text-anchor="middle" fill="#231f20">4</text>
<text x="282.00" y="200.70" font-size="5.4" text-anchor="middle" fill="#231f20">8</text>
<text x="290.90" y="200.70" font-size="5.4" text-anchor="middle" fill="#231f20">12</text>
<text x="299.80" y="200.70" font-size="5.4" text-anchor="middle" fill="#231f20">24</text>
<text x="255.30" y="206.70" font-size="5.4" text-anchor="middle" fill="#231f20">irrad</text>
<line x1="263.90" y1="205.00" x2="301.40" y2="205.00" stroke="#231f20" stroke-width="0.8" stroke-linecap="butt"/>
<text x="282.50" y="212.30" font-size="5.4" text-anchor="middle" fill="#231f20" textLength="29.40" lengthAdjust="spacingAndGlyphs">Time (hours)</text>
<line x1="255.30" y1="151.50" x2="255.30" y2="165.30" stroke="#c0203f" stroke-width="0.7" stroke-linecap="butt"/>
<line x1="254.30" y1="151.50" x2="256.30" y2="151.50" stroke="#c0203f" stroke-width="0.6" stroke-linecap="butt"/>
<line x1="254.30" y1="165.30" x2="256.30" y2="165.30" stroke="#c0203f" stroke-width="0.6" stroke-linecap="butt"/>
<line x1="264.20" y1="174.00" x2="264.20" y2="177.00" stroke="#c0203f" stroke-width="0.7" stroke-linecap="butt"/>
<line x1="263.20" y1="174.00" x2="265.20" y2="174.00" stroke="#c0203f" stroke-width="0.6" stroke-linecap="butt"/>
<line x1="263.20" y1="177.00" x2="265.20" y2="177.00" stroke="#c0203f" stroke-width="0.6" stroke-linecap="butt"/>
<line x1="273.10" y1="164.70" x2="273.10" y2="173.80" stroke="#c0203f" stroke-width="0.7" stroke-linecap="butt"/>
<line x1="272.10" y1="164.70" x2="274.10" y2="164.70" stroke="#c0203f" stroke-width="0.6" stroke-linecap="butt"/>
<line x1="272.10" y1="173.80" x2="274.10" y2="173.80" stroke="#c0203f" stroke-width="0.6" stroke-linecap="butt"/>
<line x1="299.80" y1="180.70" x2="299.80" y2="184.50" stroke="#c0203f" stroke-width="0.7" stroke-linecap="butt"/>
<line x1="298.80" y1="180.70" x2="300.80" y2="180.70" stroke="#c0203f" stroke-width="0.6" stroke-linecap="butt"/>
<line x1="298.80" y1="184.50" x2="300.80" y2="184.50" stroke="#c0203f" stroke-width="0.6" stroke-linecap="butt"/>
<path d="M255.30 158.30 L264.20 175.40 L273.10 168.90 L282.00 181.20 L290.90 180.10 L299.80 182.60" fill="none" stroke="#c0203f" stroke-width="1.0" stroke-linejoin="round"/>
<circle cx="255.30" cy="158.30" r="1.0" fill="#c0203f"/>
<circle cx="264.20" cy="175.40" r="1.0" fill="#c0203f"/>
<circle cx="273.10" cy="168.90" r="1.0" fill="#c0203f"/>
<circle cx="282.00" cy="181.20" r="1.0" fill="#c0203f"/>
<circle cx="290.90" cy="180.10" r="1.0" fill="#c0203f"/>
<circle cx="299.80" cy="182.60" r="1.0" fill="#c0203f"/>
<text x="282.00" y="181.10" font-size="6.2" text-anchor="middle" fill="#231f20">*</text>
<text x="299.80" y="181.90" font-size="6.2" text-anchor="middle" fill="#231f20">*</text>
<text x="224.40" y="163.70" font-size="7.7" text-anchor="middle" fill="#231f20" textLength="47.70" lengthAdjust="spacingAndGlyphs" transform="rotate(-90 224.40 163.70)">TMRE levels in BM</text>
<text x="233.60" y="163.70" font-size="7.7" text-anchor="middle" fill="#231f20" textLength="47.20" lengthAdjust="spacingAndGlyphs" transform="rotate(-90 233.60 163.70)">Sca-1<tspan font-size="4.8" dy="-2.6">+</tspan><tspan dy="2.6"> MSC (MFI)</tspan></text>
<text x="318.30" y="126.05" font-size="12" font-weight="bold" fill="#000" stroke="#000" stroke-width="0.25">I</text>
<line x1="353.40" y1="137.80" x2="353.40" y2="190.50" stroke="#231f20" stroke-width="1.2" stroke-linecap="butt"/>
<line x1="351.60" y1="189.90" x2="409.10" y2="189.90" stroke="#231f20" stroke-width="1.2" stroke-linecap="butt"/>
<line x1="350.10" y1="140.50" x2="353.40" y2="140.50" stroke="#231f20" stroke-width="0.9" stroke-linecap="butt"/>
<text x="347.50" y="142.55" font-size="5.8" text-anchor="end" fill="#231f20" textLength="7.15" lengthAdjust="spacingAndGlyphs">2.0</text>
<line x1="350.10" y1="152.90" x2="353.40" y2="152.90" stroke="#231f20" stroke-width="0.9" stroke-linecap="butt"/>
<text x="347.50" y="154.95" font-size="5.8" text-anchor="end" fill="#231f20" textLength="7.15" lengthAdjust="spacingAndGlyphs">1.5</text>
<line x1="350.10" y1="165.20" x2="353.40" y2="165.20" stroke="#231f20" stroke-width="0.9" stroke-linecap="butt"/>
<text x="347.50" y="167.25" font-size="5.8" text-anchor="end" fill="#231f20" textLength="7.15" lengthAdjust="spacingAndGlyphs">1.0</text>
<line x1="350.10" y1="177.50" x2="353.40" y2="177.50" stroke="#231f20" stroke-width="0.9" stroke-linecap="butt"/>
<text x="347.50" y="179.55" font-size="5.8" text-anchor="end" fill="#231f20" textLength="7.15" lengthAdjust="spacingAndGlyphs">0.5</text>
<line x1="350.10" y1="189.90" x2="353.40" y2="189.90" stroke="#231f20" stroke-width="0.9" stroke-linecap="butt"/>
<text x="347.50" y="191.95" font-size="5.8" text-anchor="end" fill="#231f20" textLength="7.15" lengthAdjust="spacingAndGlyphs">0.0</text>
<line x1="359.10" y1="189.90" x2="359.10" y2="192.90" stroke="#231f20" stroke-width="0.9" stroke-linecap="butt"/>
<line x1="367.90" y1="189.90" x2="367.90" y2="192.90" stroke="#231f20" stroke-width="0.9" stroke-linecap="butt"/>
<line x1="376.70" y1="189.90" x2="376.70" y2="192.90" stroke="#231f20" stroke-width="0.9" stroke-linecap="butt"/>
<line x1="385.50" y1="189.90" x2="385.50" y2="192.90" stroke="#231f20" stroke-width="0.9" stroke-linecap="butt"/>
<line x1="394.40" y1="189.90" x2="394.40" y2="192.90" stroke="#231f20" stroke-width="0.9" stroke-linecap="butt"/>
<line x1="403.30" y1="189.90" x2="403.30" y2="192.90" stroke="#231f20" stroke-width="0.9" stroke-linecap="butt"/>
<text x="359.10" y="200.70" font-size="5.4" text-anchor="middle" fill="#231f20">Non</text>
<text x="367.90" y="200.70" font-size="5.4" text-anchor="middle" fill="#231f20">1</text>
<text x="376.70" y="200.70" font-size="5.4" text-anchor="middle" fill="#231f20">4</text>
<text x="385.50" y="200.70" font-size="5.4" text-anchor="middle" fill="#231f20">8</text>
<text x="394.40" y="200.70" font-size="5.4" text-anchor="middle" fill="#231f20">12</text>
<text x="403.30" y="200.70" font-size="5.4" text-anchor="middle" fill="#231f20">24</text>
<text x="359.10" y="206.70" font-size="5.4" text-anchor="middle" fill="#231f20">irrad</text>
<line x1="367.60" y1="205.00" x2="404.90" y2="205.00" stroke="#231f20" stroke-width="0.8" stroke-linecap="butt"/>
<text x="386.10" y="212.30" font-size="5.4" text-anchor="middle" fill="#231f20" textLength="29.40" lengthAdjust="spacingAndGlyphs">Time (hours)</text>
<line x1="359.10" y1="154.30" x2="359.10" y2="158.50" stroke="#c0203f" stroke-width="0.7" stroke-linecap="butt"/>
<line x1="358.10" y1="154.30" x2="360.10" y2="154.30" stroke="#c0203f" stroke-width="0.6" stroke-linecap="butt"/>
<line x1="358.10" y1="158.50" x2="360.10" y2="158.50" stroke="#c0203f" stroke-width="0.6" stroke-linecap="butt"/>
<line x1="367.90" y1="150.50" x2="367.90" y2="159.00" stroke="#c0203f" stroke-width="0.7" stroke-linecap="butt"/>
<line x1="366.90" y1="150.50" x2="368.90" y2="150.50" stroke="#c0203f" stroke-width="0.6" stroke-linecap="butt"/>
<line x1="366.90" y1="159.00" x2="368.90" y2="159.00" stroke="#c0203f" stroke-width="0.6" stroke-linecap="butt"/>
<line x1="376.70" y1="157.50" x2="376.70" y2="161.00" stroke="#c0203f" stroke-width="0.7" stroke-linecap="butt"/>
<line x1="375.70" y1="157.50" x2="377.70" y2="157.50" stroke="#c0203f" stroke-width="0.6" stroke-linecap="butt"/>
<line x1="375.70" y1="161.00" x2="377.70" y2="161.00" stroke="#c0203f" stroke-width="0.6" stroke-linecap="butt"/>
<line x1="385.50" y1="141.40" x2="385.50" y2="145.80" stroke="#c0203f" stroke-width="0.7" stroke-linecap="butt"/>
<line x1="384.50" y1="141.40" x2="386.50" y2="141.40" stroke="#c0203f" stroke-width="0.6" stroke-linecap="butt"/>
<line x1="384.50" y1="145.80" x2="386.50" y2="145.80" stroke="#c0203f" stroke-width="0.6" stroke-linecap="butt"/>
<line x1="394.40" y1="149.40" x2="394.40" y2="155.80" stroke="#c0203f" stroke-width="0.7" stroke-linecap="butt"/>
<line x1="393.40" y1="149.40" x2="395.40" y2="149.40" stroke="#c0203f" stroke-width="0.6" stroke-linecap="butt"/>
<line x1="393.40" y1="155.80" x2="395.40" y2="155.80" stroke="#c0203f" stroke-width="0.6" stroke-linecap="butt"/>
<line x1="403.30" y1="148.80" x2="403.30" y2="154.70" stroke="#c0203f" stroke-width="0.7" stroke-linecap="butt"/>
<line x1="402.30" y1="148.80" x2="404.30" y2="148.80" stroke="#c0203f" stroke-width="0.6" stroke-linecap="butt"/>
<line x1="402.30" y1="154.70" x2="404.30" y2="154.70" stroke="#c0203f" stroke-width="0.6" stroke-linecap="butt"/>
<path d="M359.10 156.40 L367.90 154.70 L376.70 159.20 L385.50 143.70 L394.40 152.60 L403.30 151.80" fill="none" stroke="#c0203f" stroke-width="1.0" stroke-linejoin="round"/>
<circle cx="359.10" cy="156.40" r="1.0" fill="#c0203f"/>
<circle cx="367.90" cy="154.70" r="1.0" fill="#c0203f"/>
<circle cx="376.70" cy="159.20" r="1.0" fill="#c0203f"/>
<circle cx="385.50" cy="143.70" r="1.0" fill="#c0203f"/>
<circle cx="394.40" cy="152.60" r="1.0" fill="#c0203f"/>
<circle cx="403.30" cy="151.80" r="1.0" fill="#c0203f"/>
<text x="385.50" y="141.70" font-size="6.2" text-anchor="middle" fill="#231f20">*</text>
<text x="326.00" y="163.70" font-size="7.7" text-anchor="middle" fill="#231f20" textLength="61.60" lengthAdjust="spacingAndGlyphs" transform="rotate(-90 326.00 163.70)">Glucose uptake levels in</text>
<text x="335.30" y="163.70" font-size="7.7" text-anchor="middle" fill="#231f20" textLength="54.20" lengthAdjust="spacingAndGlyphs" transform="rotate(-90 335.30 163.70)">BM Sca-1<tspan font-size="4.8" dy="-2.6">−</tspan><tspan dy="2.6"> MSC (MFI)</tspan></text>
<text x="421.30" y="126.05" font-size="12" font-weight="bold" fill="#000" stroke="#000" stroke-width="0.25">J</text>
<line x1="456.30" y1="137.80" x2="456.30" y2="190.50" stroke="#231f20" stroke-width="1.2" stroke-linecap="butt"/>
<line x1="454.50" y1="189.90" x2="512.70" y2="189.90" stroke="#231f20" stroke-width="1.2" stroke-linecap="butt"/>
<line x1="453.00" y1="140.50" x2="456.30" y2="140.50" stroke="#231f20" stroke-width="0.9" stroke-linecap="butt"/>
<text x="450.40" y="142.55" font-size="5.8" text-anchor="end" fill="#231f20" textLength="2.85" lengthAdjust="spacingAndGlyphs">3</text>
<line x1="453.00" y1="157.00" x2="456.30" y2="157.00" stroke="#231f20" stroke-width="0.9" stroke-linecap="butt"/>
<text x="450.40" y="159.05" font-size="5.8" text-anchor="end" fill="#231f20" textLength="2.85" lengthAdjust="spacingAndGlyphs">2</text>
<line x1="453.00" y1="173.50" x2="456.30" y2="173.50" stroke="#231f20" stroke-width="0.9" stroke-linecap="butt"/>
<text x="450.40" y="175.55" font-size="5.8" text-anchor="end" fill="#231f20" textLength="2.85" lengthAdjust="spacingAndGlyphs">1</text>
<line x1="453.00" y1="189.90" x2="456.30" y2="189.90" stroke="#231f20" stroke-width="0.9" stroke-linecap="butt"/>
<text x="450.40" y="191.95" font-size="5.8" text-anchor="end" fill="#231f20" textLength="2.85" lengthAdjust="spacingAndGlyphs">0</text>
<line x1="462.50" y1="189.90" x2="462.50" y2="192.90" stroke="#231f20" stroke-width="0.9" stroke-linecap="butt"/>
<line x1="471.40" y1="189.90" x2="471.40" y2="192.90" stroke="#231f20" stroke-width="0.9" stroke-linecap="butt"/>
<line x1="480.20" y1="189.90" x2="480.20" y2="192.90" stroke="#231f20" stroke-width="0.9" stroke-linecap="butt"/>
<line x1="489.10" y1="189.90" x2="489.10" y2="192.90" stroke="#231f20" stroke-width="0.9" stroke-linecap="butt"/>
<line x1="498.00" y1="189.90" x2="498.00" y2="192.90" stroke="#231f20" stroke-width="0.9" stroke-linecap="butt"/>
<line x1="506.90" y1="189.90" x2="506.90" y2="192.90" stroke="#231f20" stroke-width="0.9" stroke-linecap="butt"/>
<text x="462.50" y="200.70" font-size="5.4" text-anchor="middle" fill="#231f20">Non</text>
<text x="471.40" y="200.70" font-size="5.4" text-anchor="middle" fill="#231f20">1</text>
<text x="480.20" y="200.70" font-size="5.4" text-anchor="middle" fill="#231f20">4</text>
<text x="489.10" y="200.70" font-size="5.4" text-anchor="middle" fill="#231f20">8</text>
<text x="498.00" y="200.70" font-size="5.4" text-anchor="middle" fill="#231f20">12</text>
<text x="506.90" y="200.70" font-size="5.4" text-anchor="middle" fill="#231f20">24</text>
<text x="462.50" y="206.70" font-size="5.4" text-anchor="middle" fill="#231f20">irrad</text>
<line x1="471.10" y1="205.00" x2="508.50" y2="205.00" stroke="#231f20" stroke-width="0.8" stroke-linecap="butt"/>
<text x="489.65" y="212.30" font-size="5.4" text-anchor="middle" fill="#231f20" textLength="29.40" lengthAdjust="spacingAndGlyphs">Time (hours)</text>
<line x1="462.50" y1="147.30" x2="462.50" y2="154.00" stroke="#c0203f" stroke-width="0.7" stroke-linecap="butt"/>
<line x1="461.50" y1="147.30" x2="463.50" y2="147.30" stroke="#c0203f" stroke-width="0.6" stroke-linecap="butt"/>
<line x1="461.50" y1="154.00" x2="463.50" y2="154.00" stroke="#c0203f" stroke-width="0.6" stroke-linecap="butt"/>
<line x1="471.40" y1="154.70" x2="471.40" y2="160.40" stroke="#c0203f" stroke-width="0.7" stroke-linecap="butt"/>
<line x1="470.40" y1="154.70" x2="472.40" y2="154.70" stroke="#c0203f" stroke-width="0.6" stroke-linecap="butt"/>
<line x1="470.40" y1="160.40" x2="472.40" y2="160.40" stroke="#c0203f" stroke-width="0.6" stroke-linecap="butt"/>
<line x1="480.20" y1="153.20" x2="480.20" y2="161.50" stroke="#c0203f" stroke-width="0.7" stroke-linecap="butt"/>
<line x1="479.20" y1="153.20" x2="481.20" y2="153.20" stroke="#c0203f" stroke-width="0.6" stroke-linecap="butt"/>
<line x1="479.20" y1="161.50" x2="481.20" y2="161.50" stroke="#c0203f" stroke-width="0.6" stroke-linecap="butt"/>
<line x1="489.10" y1="146.70" x2="489.10" y2="151.50" stroke="#c0203f" stroke-width="0.7" stroke-linecap="butt"/>
<line x1="488.10" y1="146.70" x2="490.10" y2="146.70" stroke="#c0203f" stroke-width="0.6" stroke-linecap="butt"/>
<line x1="488.10" y1="151.50" x2="490.10" y2="151.50" stroke="#c0203f" stroke-width="0.6" stroke-linecap="butt"/>
<line x1="498.00" y1="145.20" x2="498.00" y2="148.40" stroke="#c0203f" stroke-width="0.7" stroke-linecap="butt"/>
<line x1="497.00" y1="145.20" x2="499.00" y2="145.20" stroke="#c0203f" stroke-width="0.6" stroke-linecap="butt"/>
<line x1="497.00" y1="148.40" x2="499.00" y2="148.40" stroke="#c0203f" stroke-width="0.6" stroke-linecap="butt"/>
<line x1="506.90" y1="148.40" x2="506.90" y2="157.50" stroke="#c0203f" stroke-width="0.7" stroke-linecap="butt"/>
<line x1="505.90" y1="148.40" x2="507.90" y2="148.40" stroke="#c0203f" stroke-width="0.6" stroke-linecap="butt"/>
<line x1="505.90" y1="157.50" x2="507.90" y2="157.50" stroke="#c0203f" stroke-width="0.6" stroke-linecap="butt"/>
<path d="M462.50 150.50 L471.40 157.50 L480.20 157.00 L489.10 149.00 L498.00 146.70 L506.90 152.60" fill="none" stroke="#c0203f" stroke-width="1.0" stroke-linejoin="round"/>
<circle cx="462.50" cy="150.50" r="1.0" fill="#c0203f"/>
<circle cx="471.40" cy="157.50" r="1.0" fill="#c0203f"/>
<circle cx="480.20" cy="157.00" r="1.0" fill="#c0203f"/>
<circle cx="489.10" cy="149.00" r="1.0" fill="#c0203f"/>
<circle cx="498.00" cy="146.70" r="1.0" fill="#c0203f"/>
<circle cx="506.90" cy="152.60" r="1.0" fill="#c0203f"/>
<text x="433.50" y="163.60" font-size="7.7" text-anchor="middle" fill="#231f20" textLength="61.60" lengthAdjust="spacingAndGlyphs" transform="rotate(-90 433.50 163.60)">Glucose uptake levels in</text>
<text x="443.20" y="163.60" font-size="7.7" text-anchor="middle" fill="#231f20" textLength="57.60" lengthAdjust="spacingAndGlyphs" transform="rotate(-90 443.20 163.60)">BM Sca-1<tspan font-size="4.8" dy="-2.6">+</tspan><tspan dy="2.6"> MSC (MFI)</tspan></text>
<text x="331.50" y="238.15" font-size="12" font-weight="bold" fill="#000" stroke="#000" stroke-width="0.25">M</text>
<rect x="364.60" y="293.50" width="6.70" height="28.00" fill="#4b5468"/>
<line x1="367.95" y1="288.00" x2="367.95" y2="293.50" stroke="#4b5468" stroke-width="0.7" stroke-linecap="butt"/>
<line x1="366.35" y1="288.00" x2="369.55" y2="288.00" stroke="#4b5468" stroke-width="0.7" stroke-linecap="butt"/>
<rect x="375.20" y="314.00" width="6.60" height="7.50" fill="#4b5468"/>
<line x1="378.50" y1="312.70" x2="378.50" y2="314.00" stroke="#4b5468" stroke-width="0.7" stroke-linecap="butt"/>
<line x1="376.90" y1="312.70" x2="380.10" y2="312.70" stroke="#4b5468" stroke-width="0.7" stroke-linecap="butt"/>
<rect x="385.80" y="317.00" width="6.60" height="4.50" fill="#4b5468"/>
<line x1="389.10" y1="314.40" x2="389.10" y2="317.00" stroke="#4b5468" stroke-width="0.7" stroke-linecap="butt"/>
<line x1="387.50" y1="314.40" x2="390.70" y2="314.40" stroke="#4b5468" stroke-width="0.7" stroke-linecap="butt"/>
<line x1="360.50" y1="278.80" x2="360.50" y2="322.10" stroke="#231f20" stroke-width="1.2" stroke-linecap="butt"/>
<line x1="358.20" y1="321.50" x2="396.70" y2="321.50" stroke="#231f20" stroke-width="1.2" stroke-linecap="butt"/>
<line x1="357.50" y1="281.40" x2="360.50" y2="281.40" stroke="#231f20" stroke-width="0.9" stroke-linecap="butt"/>
<text x="355.60" y="283.45" font-size="5.8" text-anchor="end" fill="#231f20" textLength="2.85" lengthAdjust="spacingAndGlyphs">6</text>
<line x1="357.50" y1="294.80" x2="360.50" y2="294.80" stroke="#231f20" stroke-width="0.9" stroke-linecap="butt"/>
<text x="355.60" y="296.85" font-size="5.8" text-anchor="end" fill="#231f20" textLength="2.85" lengthAdjust="spacingAndGlyphs">4</text>
<line x1="357.50" y1="308.20" x2="360.50" y2="308.20" stroke="#231f20" stroke-width="0.9" stroke-linecap="butt"/>
<text x="355.60" y="310.25" font-size="5.8" text-anchor="end" fill="#231f20" textLength="2.85" lengthAdjust="spacingAndGlyphs">2</text>
<line x1="357.50" y1="321.50" x2="360.50" y2="321.50" stroke="#231f20" stroke-width="0.9" stroke-linecap="butt"/>
<text x="355.60" y="323.55" font-size="5.8" text-anchor="end" fill="#231f20" textLength="2.85" lengthAdjust="spacingAndGlyphs">0</text>
<line x1="367.95" y1="321.50" x2="367.95" y2="324.50" stroke="#231f20" stroke-width="0.9" stroke-linecap="butt"/>
<line x1="378.50" y1="321.50" x2="378.50" y2="324.50" stroke="#231f20" stroke-width="0.9" stroke-linecap="butt"/>
<line x1="389.10" y1="321.50" x2="389.10" y2="324.50" stroke="#231f20" stroke-width="0.9" stroke-linecap="butt"/>
<text x="378.50" y="314.00" font-size="6.2" text-anchor="middle" fill="#231f20">*</text>
<text x="389.10" y="315.20" font-size="6.2" text-anchor="middle" fill="#231f20">**</text>
<text x="370.45" y="330.20" font-size="5.7" text-anchor="end" fill="#231f20" transform="rotate(-45 370.45 330.20)">Non Irrad</text>
<text x="381.00" y="330.20" font-size="5.7" text-anchor="end" fill="#231f20" transform="rotate(-45 381.00 330.20)">Irrad (24h)</text>
<text x="391.60" y="330.20" font-size="5.7" text-anchor="end" fill="#231f20" transform="rotate(-45 391.60 330.20)">Irrad (48h)</text>
<text x="338.30" y="301.80" font-size="7.7" text-anchor="middle" fill="#231f20" textLength="55.90" lengthAdjust="spacingAndGlyphs" transform="rotate(-90 338.30 301.80)">Mitochondria volume</text>
<text x="346.60" y="302.00" font-size="7.7" text-anchor="middle" fill="#231f20" textLength="16.50" lengthAdjust="spacingAndGlyphs" transform="rotate(-90 346.60 302.00)">(µm<tspan font-size="4.6" dy="-2.6">3</tspan><tspan dy="2.6">)</tspan></text>
<text x="412.00" y="238.15" font-size="12" font-weight="bold" fill="#000" stroke="#000" stroke-width="0.25">N</text>
<rect x="441.70" y="288.40" width="6.30" height="28.20" fill="#a9bd85"/>
<rect x="441.70" y="316.60" width="6.30" height="4.90" fill="#2f6b52"/>
<rect x="452.30" y="288.40" width="6.40" height="10.60" fill="#a9bd85"/>
<rect x="452.30" y="299.00" width="6.40" height="22.50" fill="#2f6b52"/>
<rect x="462.60" y="288.40" width="6.50" height="8.00" fill="#a9bd85"/>
<rect x="462.60" y="296.40" width="6.50" height="25.10" fill="#2f6b52"/>
<line x1="444.85" y1="287.60" x2="444.85" y2="288.40" stroke="#222" stroke-width="0.6" stroke-linecap="butt"/>
<line x1="443.55" y1="287.60" x2="446.15" y2="287.60" stroke="#222" stroke-width="0.6" stroke-linecap="butt"/>
<line x1="444.85" y1="315.80" x2="444.85" y2="316.60" stroke="#222" stroke-width="0.6" stroke-linecap="butt"/>
<line x1="443.55" y1="315.80" x2="446.15" y2="315.80" stroke="#222" stroke-width="0.6" stroke-linecap="butt"/>
<line x1="455.50" y1="287.40" x2="455.50" y2="288.40" stroke="#222" stroke-width="0.6" stroke-linecap="butt"/>
<line x1="454.20" y1="287.40" x2="456.80" y2="287.40" stroke="#222" stroke-width="0.6" stroke-linecap="butt"/>
<line x1="455.50" y1="298.00" x2="455.50" y2="299.00" stroke="#222" stroke-width="0.6" stroke-linecap="butt"/>
<line x1="454.20" y1="298.00" x2="456.80" y2="298.00" stroke="#222" stroke-width="0.6" stroke-linecap="butt"/>
<line x1="465.85" y1="284.70" x2="465.85" y2="288.40" stroke="#222" stroke-width="0.7" stroke-linecap="butt"/>
<line x1="464.35" y1="284.70" x2="467.35" y2="284.70" stroke="#222" stroke-width="0.7" stroke-linecap="butt"/>
<line x1="465.85" y1="292.50" x2="465.85" y2="296.40" stroke="#222" stroke-width="0.7" stroke-linecap="butt"/>
<line x1="464.35" y1="292.50" x2="467.35" y2="292.50" stroke="#222" stroke-width="0.7" stroke-linecap="butt"/>
<line x1="437.80" y1="278.80" x2="437.80" y2="322.10" stroke="#231f20" stroke-width="1.2" stroke-linecap="butt"/>
<line x1="435.20" y1="321.50" x2="473.00" y2="321.50" stroke="#231f20" stroke-width="1.2" stroke-linecap="butt"/>
<line x1="434.80" y1="281.80" x2="437.80" y2="281.80" stroke="#231f20" stroke-width="0.9" stroke-linecap="butt"/>
<text x="432.90" y="283.85" font-size="5.8" text-anchor="end" fill="#231f20" textLength="8.55" lengthAdjust="spacingAndGlyphs">120</text>
<line x1="434.80" y1="288.40" x2="437.80" y2="288.40" stroke="#231f20" stroke-width="0.9" stroke-linecap="butt"/>
<text x="432.90" y="290.45" font-size="5.8" text-anchor="end" fill="#231f20" textLength="8.55" lengthAdjust="spacingAndGlyphs">100</text>
<line x1="434.80" y1="295.00" x2="437.80" y2="295.00" stroke="#231f20" stroke-width="0.9" stroke-linecap="butt"/>
<text x="432.90" y="297.05" font-size="5.8" text-anchor="end" fill="#231f20" textLength="5.70" lengthAdjust="spacingAndGlyphs">80</text>
<line x1="434.80" y1="301.70" x2="437.80" y2="301.70" stroke="#231f20" stroke-width="0.9" stroke-linecap="butt"/>
<text x="432.90" y="303.75" font-size="5.8" text-anchor="end" fill="#231f20" textLength="5.70" lengthAdjust="spacingAndGlyphs">60</text>
<line x1="434.80" y1="308.30" x2="437.80" y2="308.30" stroke="#231f20" stroke-width="0.9" stroke-linecap="butt"/>
<text x="432.90" y="310.35" font-size="5.8" text-anchor="end" fill="#231f20" textLength="5.70" lengthAdjust="spacingAndGlyphs">40</text>
<line x1="434.80" y1="314.90" x2="437.80" y2="314.90" stroke="#231f20" stroke-width="0.9" stroke-linecap="butt"/>
<text x="432.90" y="316.95" font-size="5.8" text-anchor="end" fill="#231f20" textLength="5.70" lengthAdjust="spacingAndGlyphs">20</text>
<line x1="434.80" y1="321.50" x2="437.80" y2="321.50" stroke="#231f20" stroke-width="0.9" stroke-linecap="butt"/>
<text x="432.90" y="323.55" font-size="5.8" text-anchor="end" fill="#231f20" textLength="2.85" lengthAdjust="spacingAndGlyphs">0</text>
<line x1="444.85" y1="321.50" x2="444.85" y2="324.50" stroke="#231f20" stroke-width="0.9" stroke-linecap="butt"/>
<line x1="455.50" y1="321.50" x2="455.50" y2="324.50" stroke="#231f20" stroke-width="0.9" stroke-linecap="butt"/>
<line x1="465.85" y1="321.50" x2="465.85" y2="324.50" stroke="#231f20" stroke-width="0.9" stroke-linecap="butt"/>
<text x="455.50" y="288.00" font-size="6.2" text-anchor="middle" fill="#231f20">**</text>
<text x="465.85" y="285.00" font-size="6.2" text-anchor="middle" fill="#231f20">***</text>
<text x="447.35" y="330.20" font-size="5.7" text-anchor="end" fill="#231f20" transform="rotate(-45 447.35 330.20)">Non Irrad</text>
<text x="458.00" y="330.20" font-size="5.7" text-anchor="end" fill="#231f20" transform="rotate(-45 458.00 330.20)">Irrad (24h)</text>
<text x="468.35" y="330.20" font-size="5.7" text-anchor="end" fill="#231f20" transform="rotate(-45 468.35 330.20)">Irrad (48h)</text>
<text x="419.30" y="300.00" font-size="7.7" text-anchor="middle" fill="#231f20" textLength="27.20" lengthAdjust="spacingAndGlyphs" transform="rotate(-90 419.30 300.00)">Frequency</text>
<rect x="453.80" y="263.60" width="4.50" height="4.20" fill="#a9bd85"/>
<rect x="453.80" y="270.50" width="4.50" height="4.40" fill="#2f6b52"/>
<text x="461.20" y="267.60" font-size="5.8" text-anchor="start" fill="#231f20">>0.5 µm<tspan font-size="3.6" dy="-2">3</tspan></text>
<text x="461.20" y="274.60" font-size="5.8" text-anchor="start" fill="#231f20">&lt; 0.5 µm<tspan font-size="3.8" dy="-2">3</tspan></text>
<text x="331.30" y="407.35" font-size="12" font-weight="bold" fill="#000" stroke="#000" stroke-width="0.25">Q</text>
<rect x="365.80" y="444.00" width="9.40" height="28.50" fill="#4b5468"/>
<line x1="370.50" y1="437.70" x2="370.50" y2="444.00" stroke="#4b5468" stroke-width="0.7" stroke-linecap="butt"/>
<line x1="368.50" y1="437.70" x2="372.50" y2="437.70" stroke="#4b5468" stroke-width="0.7" stroke-linecap="butt"/>
<rect x="380.60" y="462.30" width="9.40" height="10.20" fill="#4b5468"/>
<line x1="385.30" y1="461.00" x2="385.30" y2="462.30" stroke="#4b5468" stroke-width="0.7" stroke-linecap="butt"/>
<line x1="383.30" y1="461.00" x2="387.30" y2="461.00" stroke="#4b5468" stroke-width="0.7" stroke-linecap="butt"/>
<line x1="360.40" y1="430.00" x2="360.40" y2="473.10" stroke="#231f20" stroke-width="1.2" stroke-linecap="butt"/>
<line x1="357.90" y1="472.50" x2="395.60" y2="472.50" stroke="#231f20" stroke-width="1.2" stroke-linecap="butt"/>
<line x1="357.40" y1="432.50" x2="360.40" y2="432.50" stroke="#231f20" stroke-width="0.9" stroke-linecap="butt"/>
<text x="355.50" y="434.55" font-size="5.8" text-anchor="end" fill="#231f20" textLength="2.85" lengthAdjust="spacingAndGlyphs">4</text>
<line x1="357.40" y1="442.50" x2="360.40" y2="442.50" stroke="#231f20" stroke-width="0.9" stroke-linecap="butt"/>
<text x="355.50" y="444.55" font-size="5.8" text-anchor="end" fill="#231f20" textLength="2.85" lengthAdjust="spacingAndGlyphs">3</text>
<line x1="357.40" y1="452.50" x2="360.40" y2="452.50" stroke="#231f20" stroke-width="0.9" stroke-linecap="butt"/>
<text x="355.50" y="454.55" font-size="5.8" text-anchor="end" fill="#231f20" textLength="2.85" lengthAdjust="spacingAndGlyphs">2</text>
<line x1="357.40" y1="462.50" x2="360.40" y2="462.50" stroke="#231f20" stroke-width="0.9" stroke-linecap="butt"/>
<text x="355.50" y="464.55" font-size="5.8" text-anchor="end" fill="#231f20" textLength="2.85" lengthAdjust="spacingAndGlyphs">1</text>
<line x1="357.40" y1="472.50" x2="360.40" y2="472.50" stroke="#231f20" stroke-width="0.9" stroke-linecap="butt"/>
<text x="355.50" y="474.55" font-size="5.8" text-anchor="end" fill="#231f20" textLength="2.85" lengthAdjust="spacingAndGlyphs">0</text>
<line x1="370.50" y1="472.50" x2="370.50" y2="475.50" stroke="#231f20" stroke-width="0.9" stroke-linecap="butt"/>
<line x1="385.30" y1="472.50" x2="385.30" y2="475.50" stroke="#231f20" stroke-width="0.9" stroke-linecap="butt"/>
<text x="385.30" y="462.20" font-size="6.2" text-anchor="middle" fill="#231f20">*</text>
<text x="373.10" y="481.20" font-size="5.7" text-anchor="end" fill="#231f20" transform="rotate(-45 373.10 481.20)">Non Irrad</text>
<text x="387.90" y="481.20" font-size="5.7" text-anchor="end" fill="#231f20" transform="rotate(-45 387.90 481.20)">Irrad</text>
<text x="338.10" y="451.30" font-size="7.7" text-anchor="middle" fill="#231f20" textLength="55.90" lengthAdjust="spacingAndGlyphs" transform="rotate(-90 338.10 451.30)">Mitochondria volume</text>
<text x="346.80" y="451.30" font-size="7.7" text-anchor="middle" fill="#231f20" textLength="16.50" lengthAdjust="spacingAndGlyphs" transform="rotate(-90 346.80 451.30)">(µm<tspan font-size="4.6" dy="-2.6">3</tspan><tspan dy="2.6">)</tspan></text>
<text x="412.30" y="407.35" font-size="12" font-weight="bold" fill="#000" stroke="#000" stroke-width="0.25">R</text>
<rect x="442.70" y="439.50" width="9.20" height="31.10" fill="#a9bd85"/>
<rect x="442.70" y="470.60" width="9.20" height="1.90" fill="#2f6b52"/>
<rect x="457.70" y="439.50" width="9.60" height="25.10" fill="#a9bd85"/>
<rect x="457.70" y="464.60" width="9.60" height="7.90" fill="#2f6b52"/>
<line x1="447.30" y1="438.70" x2="447.30" y2="439.50" stroke="#222" stroke-width="0.6" stroke-linecap="butt"/>
<line x1="445.50" y1="438.70" x2="449.10" y2="438.70" stroke="#222" stroke-width="0.6" stroke-linecap="butt"/>
<line x1="447.30" y1="469.80" x2="447.30" y2="470.60" stroke="#222" stroke-width="0.6" stroke-linecap="butt"/>
<line x1="445.50" y1="469.80" x2="449.10" y2="469.80" stroke="#222" stroke-width="0.6" stroke-linecap="butt"/>
<line x1="462.50" y1="438.20" x2="462.50" y2="439.50" stroke="#222" stroke-width="0.6" stroke-linecap="butt"/>
<line x1="460.70" y1="438.20" x2="464.30" y2="438.20" stroke="#222" stroke-width="0.6" stroke-linecap="butt"/>
<line x1="462.50" y1="463.20" x2="462.50" y2="464.60" stroke="#222" stroke-width="0.6" stroke-linecap="butt"/>
<line x1="460.70" y1="463.20" x2="464.30" y2="463.20" stroke="#222" stroke-width="0.6" stroke-linecap="butt"/>
<line x1="437.90" y1="430.00" x2="437.90" y2="473.10" stroke="#231f20" stroke-width="1.2" stroke-linecap="butt"/>
<line x1="435.60" y1="472.50" x2="472.70" y2="472.50" stroke="#231f20" stroke-width="1.2" stroke-linecap="butt"/>
<line x1="434.90" y1="432.90" x2="437.90" y2="432.90" stroke="#231f20" stroke-width="0.9" stroke-linecap="butt"/>
<text x="433.00" y="434.95" font-size="5.8" text-anchor="end" fill="#231f20" textLength="8.55" lengthAdjust="spacingAndGlyphs">120</text>
<line x1="434.90" y1="439.50" x2="437.90" y2="439.50" stroke="#231f20" stroke-width="0.9" stroke-linecap="butt"/>
<text x="433.00" y="441.55" font-size="5.8" text-anchor="end" fill="#231f20" textLength="8.55" lengthAdjust="spacingAndGlyphs">100</text>
<line x1="434.90" y1="446.10" x2="437.90" y2="446.10" stroke="#231f20" stroke-width="0.9" stroke-linecap="butt"/>
<text x="433.00" y="448.15" font-size="5.8" text-anchor="end" fill="#231f20" textLength="5.70" lengthAdjust="spacingAndGlyphs">80</text>
<line x1="434.90" y1="452.70" x2="437.90" y2="452.70" stroke="#231f20" stroke-width="0.9" stroke-linecap="butt"/>
<text x="433.00" y="454.75" font-size="5.8" text-anchor="end" fill="#231f20" textLength="5.70" lengthAdjust="spacingAndGlyphs">60</text>
<line x1="434.90" y1="459.30" x2="437.90" y2="459.30" stroke="#231f20" stroke-width="0.9" stroke-linecap="butt"/>
<text x="433.00" y="461.35" font-size="5.8" text-anchor="end" fill="#231f20" textLength="5.70" lengthAdjust="spacingAndGlyphs">40</text>
<line x1="434.90" y1="465.90" x2="437.90" y2="465.90" stroke="#231f20" stroke-width="0.9" stroke-linecap="butt"/>
<text x="433.00" y="467.95" font-size="5.8" text-anchor="end" fill="#231f20" textLength="5.70" lengthAdjust="spacingAndGlyphs">20</text>
<line x1="434.90" y1="472.50" x2="437.90" y2="472.50" stroke="#231f20" stroke-width="0.9" stroke-linecap="butt"/>
<text x="433.00" y="474.55" font-size="5.8" text-anchor="end" fill="#231f20" textLength="2.85" lengthAdjust="spacingAndGlyphs">0</text>
<line x1="447.30" y1="472.50" x2="447.30" y2="475.50" stroke="#231f20" stroke-width="0.9" stroke-linecap="butt"/>
<line x1="462.50" y1="472.50" x2="462.50" y2="475.50" stroke="#231f20" stroke-width="0.9" stroke-linecap="butt"/>
<text x="462.50" y="438.60" font-size="6.2" text-anchor="middle" fill="#231f20">*</text>
<text x="449.90" y="481.20" font-size="5.7" text-anchor="end" fill="#231f20" transform="rotate(-45 449.90 481.20)">Non Irrad</text>
<text x="465.10" y="481.20" font-size="5.7" text-anchor="end" fill="#231f20" transform="rotate(-45 465.10 481.20)">Irrad</text>
<text x="418.40" y="451.10" font-size="7.7" text-anchor="middle" fill="#231f20" textLength="27.20" lengthAdjust="spacingAndGlyphs" transform="rotate(-90 418.40 451.10)">Frequency</text>
<rect x="453.50" y="414.20" width="4.30" height="4.30" fill="#a9bd85"/>
<rect x="453.50" y="421.30" width="4.30" height="4.50" fill="#2f6b52"/>
<text x="461.30" y="418.30" font-size="5.8" text-anchor="start" fill="#231f20">>0.5 µm<tspan font-size="3.8" dy="-2">3</tspan></text>
<text x="461.30" y="425.40" font-size="5.8" text-anchor="start" fill="#231f20">&lt; 0.5 µm<tspan font-size="3.8" dy="-2">3</tspan></text>
<text x="186.30" y="537.85" font-size="12" font-weight="bold" fill="#000" stroke="#000" stroke-width="0.25">T</text>
<rect x="233.25" y="563.00" width="10.00" height="38.75" fill="#4b5468"/>
<line x1="238.25" y1="559.50" x2="238.25" y2="563.00" stroke="#4b5468" stroke-width="0.7" stroke-linecap="butt"/>
<line x1="236.05" y1="559.50" x2="240.45" y2="559.50" stroke="#4b5468" stroke-width="0.7" stroke-linecap="butt"/>
<rect x="248.75" y="590.25" width="10.00" height="11.50" fill="#4b5468"/>
<line x1="253.75" y1="588.00" x2="253.75" y2="590.25" stroke="#4b5468" stroke-width="0.7" stroke-linecap="butt"/>
<line x1="251.55" y1="588.00" x2="255.95" y2="588.00" stroke="#4b5468" stroke-width="0.7" stroke-linecap="butt"/>
<rect x="264.25" y="594.75" width="9.75" height="7.00" fill="#4b5468"/>
<line x1="269.12" y1="593.00" x2="269.12" y2="594.75" stroke="#4b5468" stroke-width="0.7" stroke-linecap="butt"/>
<line x1="266.93" y1="593.00" x2="271.32" y2="593.00" stroke="#4b5468" stroke-width="0.7" stroke-linecap="butt"/>
<line x1="228.00" y1="552.00" x2="228.00" y2="602.35" stroke="#231f20" stroke-width="1.2" stroke-linecap="butt"/>
<line x1="225.00" y1="601.75" x2="279.50" y2="601.75" stroke="#231f20" stroke-width="1.2" stroke-linecap="butt"/>
<line x1="225.00" y1="554.75" x2="228.00" y2="554.75" stroke="#231f20" stroke-width="0.9" stroke-linecap="butt"/>
<text x="223.10" y="556.80" font-size="5.8" text-anchor="end" fill="#231f20" textLength="7.15" lengthAdjust="spacingAndGlyphs">1.2</text>
<line x1="225.00" y1="562.60" x2="228.00" y2="562.60" stroke="#231f20" stroke-width="0.9" stroke-linecap="butt"/>
<text x="223.10" y="564.65" font-size="5.8" text-anchor="end" fill="#231f20" textLength="7.15" lengthAdjust="spacingAndGlyphs">1.0</text>
<line x1="225.00" y1="570.40" x2="228.00" y2="570.40" stroke="#231f20" stroke-width="0.9" stroke-linecap="butt"/>
<text x="223.10" y="572.45" font-size="5.8" text-anchor="end" fill="#231f20" textLength="7.15" lengthAdjust="spacingAndGlyphs">0.8</text>
<line x1="225.00" y1="578.25" x2="228.00" y2="578.25" stroke="#231f20" stroke-width="0.9" stroke-linecap="butt"/>
<text x="223.10" y="580.30" font-size="5.8" text-anchor="end" fill="#231f20" textLength="7.15" lengthAdjust="spacingAndGlyphs">0.6</text>
<line x1="225.00" y1="586.10" x2="228.00" y2="586.10" stroke="#231f20" stroke-width="0.9" stroke-linecap="butt"/>
<text x="223.10" y="588.15" font-size="5.8" text-anchor="end" fill="#231f20" textLength="7.15" lengthAdjust="spacingAndGlyphs">0.4</text>
<line x1="225.00" y1="593.90" x2="228.00" y2="593.90" stroke="#231f20" stroke-width="0.9" stroke-linecap="butt"/>
<text x="223.10" y="595.95" font-size="5.8" text-anchor="end" fill="#231f20" textLength="7.15" lengthAdjust="spacingAndGlyphs">0.2</text>
<line x1="225.00" y1="601.75" x2="228.00" y2="601.75" stroke="#231f20" stroke-width="0.9" stroke-linecap="butt"/>
<text x="223.10" y="603.80" font-size="5.8" text-anchor="end" fill="#231f20" textLength="7.15" lengthAdjust="spacingAndGlyphs">0.0</text>
<line x1="238.25" y1="601.75" x2="238.25" y2="604.75" stroke="#231f20" stroke-width="0.9" stroke-linecap="butt"/>
<line x1="253.75" y1="601.75" x2="253.75" y2="604.75" stroke="#231f20" stroke-width="0.9" stroke-linecap="butt"/>
<line x1="269.12" y1="601.75" x2="269.12" y2="604.75" stroke="#231f20" stroke-width="0.9" stroke-linecap="butt"/>
<line x1="239.50" y1="549.00" x2="269.50" y2="549.00" stroke="#333" stroke-width="1.0" stroke-linecap="butt"/>
<text x="254.50" y="549.90" font-size="6.2" text-anchor="middle" fill="#231f20">***</text>
<line x1="239.50" y1="556.75" x2="253.75" y2="556.75" stroke="#333" stroke-width="1.0" stroke-linecap="butt"/>
<text x="246.62" y="557.65" font-size="6.2" text-anchor="middle" fill="#231f20">***</text>
<text x="239.45" y="611.60" font-size="5.5" text-anchor="end" fill="#231f20" transform="rotate(-45 239.45 611.60)">Dendra2-mito Host</text>
<text x="237.85" y="621.80" font-size="5.5" text-anchor="end" fill="#231f20" transform="rotate(-45 237.85 621.80)">(non Irrad)</text>
<text x="256.55" y="610.60" font-size="5.5" text-anchor="end" fill="#231f20" transform="rotate(-45 256.55 610.60)">2 weeks post-tx</text>
<text x="271.93" y="610.60" font-size="5.5" text-anchor="end" fill="#231f20" transform="rotate(-45 271.93 610.60)">1 month post-tx</text>
<line x1="233.25" y1="641.75" x2="249.50" y2="641.75" stroke="#231f20" stroke-width="0.8" stroke-linecap="butt"/>
<text x="240.75" y="649.40" font-size="5.4" text-anchor="middle" fill="#231f20">Dendra2-mito</text>
<text x="240.75" y="655.70" font-size="5.4" text-anchor="middle" fill="#231f20">chimeras</text>
<text x="193.40" y="577.00" font-size="7.7" text-anchor="middle" fill="#231f20" textLength="66.00" lengthAdjust="spacingAndGlyphs" transform="rotate(-90 193.40 577.00)">Dendra2-mito expression</text>
<text x="202.15" y="577.00" font-size="7.7" text-anchor="middle" fill="#231f20" textLength="46.50" lengthAdjust="spacingAndGlyphs" transform="rotate(-90 202.15 577.00)">in BM Sca-1<tspan font-size="4.5" dy="-2.2">−</tspan><tspan dy="2.2"> MSC</tspan></text>
<text x="210.40" y="577.00" font-size="7.7" text-anchor="middle" fill="#231f20" textLength="47.00" lengthAdjust="spacingAndGlyphs" transform="rotate(-90 210.40 577.00)">(normalized MFI)</text>
<text x="295.30" y="537.85" font-size="12" font-weight="bold" fill="#000" stroke="#000" stroke-width="0.25">U</text>
<rect x="342.50" y="563.00" width="10.00" height="38.75" fill="#4b5468"/>
<line x1="347.50" y1="555.50" x2="347.50" y2="563.00" stroke="#4b5468" stroke-width="0.7" stroke-linecap="butt"/>
<line x1="345.30" y1="555.50" x2="349.70" y2="555.50" stroke="#4b5468" stroke-width="0.7" stroke-linecap="butt"/>
<rect x="358.00" y="579.50" width="10.00" height="22.25" fill="#4b5468"/>
<line x1="363.00" y1="577.50" x2="363.00" y2="579.50" stroke="#4b5468" stroke-width="0.7" stroke-linecap="butt"/>
<line x1="360.80" y1="577.50" x2="365.20" y2="577.50" stroke="#4b5468" stroke-width="0.7" stroke-linecap="butt"/>
<rect x="373.25" y="582.75" width="10.00" height="19.00" fill="#4b5468"/>
<line x1="378.25" y1="581.75" x2="378.25" y2="582.75" stroke="#4b5468" stroke-width="0.7" stroke-linecap="butt"/>
<line x1="376.05" y1="581.75" x2="380.45" y2="581.75" stroke="#4b5468" stroke-width="0.7" stroke-linecap="butt"/>
<line x1="337.00" y1="552.00" x2="337.00" y2="602.35" stroke="#231f20" stroke-width="1.2" stroke-linecap="butt"/>
<line x1="334.25" y1="601.75" x2="388.75" y2="601.75" stroke="#231f20" stroke-width="1.2" stroke-linecap="butt"/>
<line x1="334.00" y1="554.75" x2="337.00" y2="554.75" stroke="#231f20" stroke-width="0.9" stroke-linecap="butt"/>
<text x="332.10" y="556.80" font-size="5.8" text-anchor="end" fill="#231f20" textLength="7.15" lengthAdjust="spacingAndGlyphs">1.2</text>
<line x1="334.00" y1="562.60" x2="337.00" y2="562.60" stroke="#231f20" stroke-width="0.9" stroke-linecap="butt"/>
<text x="332.10" y="564.65" font-size="5.8" text-anchor="end" fill="#231f20" textLength="7.15" lengthAdjust="spacingAndGlyphs">1.0</text>
<line x1="334.00" y1="570.40" x2="337.00" y2="570.40" stroke="#231f20" stroke-width="0.9" stroke-linecap="butt"/>
<text x="332.10" y="572.45" font-size="5.8" text-anchor="end" fill="#231f20" textLength="7.15" lengthAdjust="spacingAndGlyphs">0.8</text>
<line x1="334.00" y1="578.25" x2="337.00" y2="578.25" stroke="#231f20" stroke-width="0.9" stroke-linecap="butt"/>
<text x="332.10" y="580.30" font-size="5.8" text-anchor="end" fill="#231f20" textLength="7.15" lengthAdjust="spacingAndGlyphs">0.6</text>
<line x1="334.00" y1="586.10" x2="337.00" y2="586.10" stroke="#231f20" stroke-width="0.9" stroke-linecap="butt"/>
<text x="332.10" y="588.15" font-size="5.8" text-anchor="end" fill="#231f20" textLength="7.15" lengthAdjust="spacingAndGlyphs">0.4</text>
<line x1="334.00" y1="593.90" x2="337.00" y2="593.90" stroke="#231f20" stroke-width="0.9" stroke-linecap="butt"/>
<text x="332.10" y="595.95" font-size="5.8" text-anchor="end" fill="#231f20" textLength="7.15" lengthAdjust="spacingAndGlyphs">0.2</text>
<line x1="334.00" y1="601.75" x2="337.00" y2="601.75" stroke="#231f20" stroke-width="0.9" stroke-linecap="butt"/>
<text x="332.10" y="603.80" font-size="5.8" text-anchor="end" fill="#231f20" textLength="7.15" lengthAdjust="spacingAndGlyphs">0.0</text>
<line x1="347.50" y1="601.75" x2="347.50" y2="604.75" stroke="#231f20" stroke-width="0.9" stroke-linecap="butt"/>
<line x1="363.00" y1="601.75" x2="363.00" y2="604.75" stroke="#231f20" stroke-width="0.9" stroke-linecap="butt"/>
<line x1="378.25" y1="601.75" x2="378.25" y2="604.75" stroke="#231f20" stroke-width="0.9" stroke-linecap="butt"/>
<line x1="348.25" y1="544.50" x2="378.75" y2="544.50" stroke="#333" stroke-width="1.0" stroke-linecap="butt"/>
<text x="363.50" y="545.40" font-size="6.2" text-anchor="middle" fill="#231f20">**</text>
<line x1="348.25" y1="551.75" x2="363.00" y2="551.75" stroke="#333" stroke-width="1.0" stroke-linecap="butt"/>
<text x="355.62" y="552.65" font-size="6.2" text-anchor="middle" fill="#231f20">***</text>
<text x="348.70" y="611.60" font-size="5.5" text-anchor="end" fill="#231f20" transform="rotate(-45 348.70 611.60)">Dendra2-mito Host</text>
<text x="347.10" y="621.80" font-size="5.5" text-anchor="end" fill="#231f20" transform="rotate(-45 347.10 621.80)">(non Irrad)</text>
<text x="365.80" y="610.60" font-size="5.5" text-anchor="end" fill="#231f20" transform="rotate(-45 365.80 610.60)">2 weeks post-tx</text>
<text x="381.05" y="610.60" font-size="5.5" text-anchor="end" fill="#231f20" transform="rotate(-45 381.05 610.60)">1 month post-tx</text>
<line x1="342.50" y1="641.75" x2="358.75" y2="641.75" stroke="#231f20" stroke-width="0.8" stroke-linecap="butt"/>
<text x="350.00" y="649.40" font-size="5.4" text-anchor="middle" fill="#231f20">Dendra2-mito</text>
<text x="350.00" y="655.70" font-size="5.4" text-anchor="middle" fill="#231f20">chimeras</text>
<text x="302.15" y="577.00" font-size="7.7" text-anchor="middle" fill="#231f20" textLength="66.00" lengthAdjust="spacingAndGlyphs" transform="rotate(-90 302.15 577.00)">Dendra2-mito expression</text>
<text x="310.90" y="577.00" font-size="7.7" text-anchor="middle" fill="#231f20" textLength="46.50" lengthAdjust="spacingAndGlyphs" transform="rotate(-90 310.90 577.00)">in BM Sca-1<tspan font-size="4.5" dy="-2.2">+</tspan><tspan dy="2.2"> MSC</tspan></text>
<text x="319.65" y="577.00" font-size="7.7" text-anchor="middle" fill="#231f20" textLength="47.00" lengthAdjust="spacingAndGlyphs" transform="rotate(-90 319.65 577.00)">(normalized MFI)</text>
<text x="10.40" y="238.15" font-size="12" font-weight="bold" fill="#000" stroke="#000" stroke-width="0.25">K</text>
<text x="35.00" y="288.90" font-size="5.8" text-anchor="middle" fill="#3f8c7a" textLength="32.30" lengthAdjust="spacingAndGlyphs">WT Dendra2-</text>
<text x="35.00" y="296.00" font-size="5.8" text-anchor="middle" fill="#3f8c7a" textLength="23.50" lengthAdjust="spacingAndGlyphs">mito mice</text>
<g transform="translate(43.90 310.00) scale(0.98)"><path d="M-0.8 -6.0 C-1.6 -8.2 -3.0 -8.4 -4.4 -7.2 C-5.8 -6.0 -6.8 -5.2 -7.8 -4.4" fill="none" stroke="#44752a" stroke-width="0.9" stroke-linecap="round"/><ellipse cx="-2.6" cy="-4.6" rx="1.6" ry="1.3" fill="#79bd4c" stroke="#44752a" stroke-width="0.5"/><ellipse cx="2.6" cy="-4.6" rx="1.6" ry="1.3" fill="#79bd4c" stroke="#44752a" stroke-width="0.5"/><path d="M0 -6.1 C3.6 -6.1 4.6 -2.6 4.5 0.4 C4.4 3.2 2.6 6.0 0 6.3 C-2.6 6.0 -4.4 3.2 -4.5 0.4 C-4.6 -2.6 -3.6 -6.1 0 -6.1 Z" fill="#79bd4c" stroke="#44752a" stroke-width="0.6"/><ellipse cx="0" cy="-1.6" rx="2.6" ry="2.8" fill="#fff" opacity="0.18"/><ellipse cx="-3.3" cy="0.2" rx="1.1" ry="0.8" fill="#ecd77a"/><ellipse cx="3.3" cy="0.2" rx="1.1" ry="0.8" fill="#ecd77a"/><path d="M-2.4 -0.9 L-0.8 -0.3 M2.4 -0.9 L0.8 -0.3" stroke="#44752a" stroke-width="0.55" stroke-linecap="round"/><path d="M-1.5 3.0 Q0 4.6 1.5 3.0" fill="none" stroke="#44752a" stroke-width="0.5"/><ellipse cx="0" cy="4.9" rx="1.0" ry="0.9" fill="#44752a" opacity="0.85"/><path d="M-2.6 6.0 L-3.4 7.0 M2.6 6.0 L3.4 7.0" stroke="#888" stroke-width="0.4"/></g>
<path d="M47.60 304.60 L52.78 299.84 L51.86 299.72 L56.63 296.00 L55.64 295.63 L58.43 293.50 L56.68 292.16 L53.10 294.84 L54.08 295.21 L50.33 298.93 L51.23 299.23 Z" fill="#d4203c" stroke="#c01838" stroke-width="0.4" stroke-linejoin="round"/>
<path d="M50.89 300.33 L56.93 293.32" stroke="#f2b632" stroke-width="1.1" stroke-linecap="round" stroke-dasharray="1.4 0.9"/>
<text x="58.00" y="291.40" font-size="5.8" text-anchor="start" fill="#231f20" textLength="15.50" lengthAdjust="spacingAndGlyphs" transform="rotate(8 58.00 291.40)">9.5 Gy</text>
<line x1="50.00" y1="310.40" x2="62.80" y2="310.40" stroke="#111" stroke-width="0.9" stroke-linecap="butt"/>
<path d="M66.00 310.40 L62.20 308.70 L62.20 312.10 Z" fill="#111"/>
<text x="58.00" y="318.00" font-size="5.8" text-anchor="middle" fill="#231f20" textLength="8.40" lengthAdjust="spacingAndGlyphs">24h</text>
<g fill="#e08a1e" stroke="#c87410" stroke-width="0.2"><rect x="68.90" y="306.50" width="1.2" height="8.60"/><ellipse cx="68.95" cy="306.45" rx="0.8" ry="0.7"/><ellipse cx="70.05" cy="306.45" rx="0.8" ry="0.7"/><ellipse cx="68.95" cy="315.15" rx="0.8" ry="0.7"/><ellipse cx="70.05" cy="315.15" rx="0.8" ry="0.7"/></g>
<line x1="72.40" y1="310.40" x2="94.00" y2="310.40" stroke="#111" stroke-width="0.9" stroke-linecap="butt"/>
<path d="M97.20 310.40 L93.40 308.70 L93.40 312.10 Z" fill="#111"/>
<line x1="78.00" y1="307.90" x2="78.00" y2="313.00" stroke="#111" stroke-width="0.8" stroke-linecap="butt"/>
<line x1="85.70" y1="307.90" x2="85.70" y2="313.00" stroke="#111" stroke-width="0.8" stroke-linecap="butt"/>
<text x="79.60" y="320.80" font-size="4.6" text-anchor="middle" fill="#231f20" transform="rotate(-90 79.60 320.80)">24h</text>
<text x="87.30" y="320.80" font-size="4.6" text-anchor="middle" fill="#231f20" transform="rotate(-90 87.30 320.80)">48h</text>
<text x="83.70" y="296.00" font-size="5.8" text-anchor="middle" fill="#231f20" textLength="17.00" lengthAdjust="spacingAndGlyphs">In vitro</text>
<text x="83.70" y="302.70" font-size="5.8" text-anchor="middle" fill="#231f20" textLength="16.00" lengthAdjust="spacingAndGlyphs">culture</text>
<text x="99.40" y="312.30" font-size="5.8" text-anchor="start" fill="#231f20" textLength="19.20" lengthAdjust="spacingAndGlyphs">Imaging</text>
<text x="10.20" y="407.55" font-size="12" font-weight="bold" fill="#000" stroke="#000" stroke-width="0.25">O</text>
<text x="35.00" y="442.70" font-size="5.8" text-anchor="middle" fill="#3f8c7a" textLength="32.30" lengthAdjust="spacingAndGlyphs">WT Dendra2-</text>
<text x="35.00" y="449.50" font-size="5.8" text-anchor="middle" fill="#3f8c7a" textLength="23.50" lengthAdjust="spacingAndGlyphs">mito mice</text>
<text x="55.50" y="442.70" font-size="5.8" text-anchor="start" fill="#231f20" textLength="16.50" lengthAdjust="spacingAndGlyphs">In vitro</text>
<text x="55.50" y="449.50" font-size="5.8" text-anchor="start" fill="#231f20" textLength="15.80" lengthAdjust="spacingAndGlyphs">6.0 Gy</text>
<g transform="translate(42.60 460.80) scale(0.95)"><path d="M-0.8 -6.0 C-1.6 -8.2 -3.0 -8.4 -4.4 -7.2 C-5.8 -6.0 -6.8 -5.2 -7.8 -4.4" fill="none" stroke="#44752a" stroke-width="0.9" stroke-linecap="round"/><ellipse cx="-2.6" cy="-4.6" rx="1.6" ry="1.3" fill="#79bd4c" stroke="#44752a" stroke-width="0.5"/><ellipse cx="2.6" cy="-4.6" rx="1.6" ry="1.3" fill="#79bd4c" stroke="#44752a" stroke-width="0.5"/><path d="M0 -6.1 C3.6 -6.1 4.6 -2.6 4.5 0.4 C4.4 3.2 2.6 6.0 0 6.3 C-2.6 6.0 -4.4 3.2 -4.5 0.4 C-4.6 -2.6 -3.6 -6.1 0 -6.1 Z" fill="#79bd4c" stroke="#44752a" stroke-width="0.6"/><ellipse cx="0" cy="-1.6" rx="2.6" ry="2.8" fill="#fff" opacity="0.18"/><ellipse cx="-3.3" cy="0.2" rx="1.1" ry="0.8" fill="#ecd77a"/><ellipse cx="3.3" cy="0.2" rx="1.1" ry="0.8" fill="#ecd77a"/><path d="M-2.4 -0.9 L-0.8 -0.3 M2.4 -0.9 L0.8 -0.3" stroke="#44752a" stroke-width="0.55" stroke-linecap="round"/><path d="M-1.5 3.0 Q0 4.6 1.5 3.0" fill="none" stroke="#44752a" stroke-width="0.5"/><ellipse cx="0" cy="4.9" rx="1.0" ry="0.9" fill="#44752a" opacity="0.85"/><path d="M-2.6 6.0 L-3.4 7.0 M2.6 6.0 L3.4 7.0" stroke="#888" stroke-width="0.4"/></g>
<g fill="#e08a1e" stroke="#c87410" stroke-width="0.2"><rect x="53.10" y="457.00" width="1.2" height="9.70"/><ellipse cx="53.15" cy="456.95" rx="0.8" ry="0.7"/><ellipse cx="54.25" cy="456.95" rx="0.8" ry="0.7"/><ellipse cx="53.15" cy="466.75" rx="0.8" ry="0.7"/><ellipse cx="54.25" cy="466.75" rx="0.8" ry="0.7"/></g>
<line x1="58.80" y1="460.80" x2="80.40" y2="460.80" stroke="#111" stroke-width="0.9" stroke-linecap="butt"/>
<path d="M83.60 460.80 L79.80 459.10 L79.80 462.50 Z" fill="#111"/>
<path d="M67.20 458.60 L72.53 454.15 L71.62 453.99 L76.49 450.55 L75.53 450.13 L78.37 448.16 L76.69 446.74 L73.03 449.22 L73.99 449.63 L70.13 453.12 L71.01 453.47 Z" fill="#d4203c" stroke="#c01838" stroke-width="0.4" stroke-linejoin="round"/>
<path d="M70.63 454.54 L76.89 447.90" stroke="#f2b632" stroke-width="1.1" stroke-linecap="round" stroke-dasharray="1.4 0.9"/>
<text x="86.20" y="462.50" font-size="5.8" text-anchor="start" fill="#231f20" textLength="19.40" lengthAdjust="spacingAndGlyphs">Imaging</text>
<text x="71.30" y="468.30" font-size="5.8" text-anchor="middle" fill="#231f20" textLength="16.50" lengthAdjust="spacingAndGlyphs">In vitro</text>
<text x="71.30" y="475.00" font-size="5.8" text-anchor="middle" fill="#231f20" textLength="29.50" lengthAdjust="spacingAndGlyphs">culture (96h)</text>
<text x="10.90" y="537.75" font-size="12" font-weight="bold" fill="#000" stroke="#000" stroke-width="0.25">S</text>
<text x="31.60" y="564.20" font-size="5.8" text-anchor="middle" fill="#231f20" textLength="26.00" lengthAdjust="spacingAndGlyphs">Donor: WT</text>
<text x="31.60" y="570.40" font-size="5.8" text-anchor="middle" fill="#231f20" textLength="10.50" lengthAdjust="spacingAndGlyphs">mice</text>
<text x="64.60" y="553.00" font-size="5.8" text-anchor="middle" fill="#3f8c7a" textLength="22.50" lengthAdjust="spacingAndGlyphs">Host: WT</text>
<text x="64.60" y="559.40" font-size="5.8" text-anchor="middle" fill="#3f8c7a" textLength="32.50" lengthAdjust="spacingAndGlyphs">Dendra2-mito</text>
<text x="64.60" y="565.60" font-size="5.8" text-anchor="middle" fill="#3f8c7a" textLength="10.80" lengthAdjust="spacingAndGlyphs">mice</text>
<g transform="translate(41.00 579.60) scale(0.98)"><path d="M-0.8 -6.0 C-1.6 -8.2 -3.0 -8.4 -4.4 -7.2 C-5.8 -6.0 -6.8 -5.2 -7.8 -4.4" fill="none" stroke="#777" stroke-width="0.9" stroke-linecap="round"/><ellipse cx="-2.6" cy="-4.6" rx="1.6" ry="1.3" fill="#cfcfcf" stroke="#777" stroke-width="0.5"/><ellipse cx="2.6" cy="-4.6" rx="1.6" ry="1.3" fill="#cfcfcf" stroke="#777" stroke-width="0.5"/><path d="M0 -6.1 C3.6 -6.1 4.6 -2.6 4.5 0.4 C4.4 3.2 2.6 6.0 0 6.3 C-2.6 6.0 -4.4 3.2 -4.5 0.4 C-4.6 -2.6 -3.6 -6.1 0 -6.1 Z" fill="#cfcfcf" stroke="#777" stroke-width="0.6"/><ellipse cx="0" cy="-1.6" rx="2.6" ry="2.8" fill="#fff" opacity="0.18"/><ellipse cx="-3.3" cy="0.2" rx="1.1" ry="0.8" fill="#f2f2f2"/><ellipse cx="3.3" cy="0.2" rx="1.1" ry="0.8" fill="#f2f2f2"/><path d="M-2.4 -0.9 L-0.8 -0.3 M2.4 -0.9 L0.8 -0.3" stroke="#777" stroke-width="0.55" stroke-linecap="round"/><path d="M-1.5 3.0 Q0 4.6 1.5 3.0" fill="none" stroke="#777" stroke-width="0.5"/><ellipse cx="0" cy="4.9" rx="1.0" ry="0.9" fill="#777" opacity="0.85"/><path d="M-2.6 6.0 L-3.4 7.0 M2.6 6.0 L3.4 7.0" stroke="#888" stroke-width="0.4"/></g>
<line x1="48.00" y1="579.10" x2="60.60" y2="579.10" stroke="#111" stroke-width="0.9" stroke-linecap="butt"/>
<path d="M63.80 579.10 L60.00 577.40 L60.00 580.80 Z" fill="#111"/>
<g transform="translate(70.20 579.20) scale(0.98)"><path d="M-0.8 -6.0 C-1.6 -8.2 -3.0 -8.4 -4.4 -7.2 C-5.8 -6.0 -6.8 -5.2 -7.8 -4.4" fill="none" stroke="#44752a" stroke-width="0.9" stroke-linecap="round"/><ellipse cx="-2.6" cy="-4.6" rx="1.6" ry="1.3" fill="#79bd4c" stroke="#44752a" stroke-width="0.5"/><ellipse cx="2.6" cy="-4.6" rx="1.6" ry="1.3" fill="#79bd4c" stroke="#44752a" stroke-width="0.5"/><path d="M0 -6.1 C3.6 -6.1 4.6 -2.6 4.5 0.4 C4.4 3.2 2.6 6.0 0 6.3 C-2.6 6.0 -4.4 3.2 -4.5 0.4 C-4.6 -2.6 -3.6 -6.1 0 -6.1 Z" fill="#79bd4c" stroke="#44752a" stroke-width="0.6"/><ellipse cx="0" cy="-1.6" rx="2.6" ry="2.8" fill="#fff" opacity="0.18"/><ellipse cx="-3.3" cy="0.2" rx="1.1" ry="0.8" fill="#ecd77a"/><ellipse cx="3.3" cy="0.2" rx="1.1" ry="0.8" fill="#ecd77a"/><path d="M-2.4 -0.9 L-0.8 -0.3 M2.4 -0.9 L0.8 -0.3" stroke="#44752a" stroke-width="0.55" stroke-linecap="round"/><path d="M-1.5 3.0 Q0 4.6 1.5 3.0" fill="none" stroke="#44752a" stroke-width="0.5"/><ellipse cx="0" cy="4.9" rx="1.0" ry="0.9" fill="#44752a" opacity="0.85"/><path d="M-2.6 6.0 L-3.4 7.0 M2.6 6.0 L3.4 7.0" stroke="#888" stroke-width="0.4"/></g>
<path d="M71.00 574.20 L75.70 569.87 L74.81 569.73 L79.17 566.37 L78.20 566.00 L80.75 564.07 L78.98 562.76 L75.69 565.18 L76.66 565.55 L73.28 568.95 L74.16 569.26 Z" fill="#d4203c" stroke="#c01838" stroke-width="0.4" stroke-linejoin="round"/>
<path d="M73.91 570.28 L79.29 563.86" stroke="#f2b632" stroke-width="1.1" stroke-linecap="round" stroke-dasharray="1.4 0.9"/>
<text x="81.60" y="565.60" font-size="5.8" text-anchor="start" fill="#231f20" textLength="15.80" lengthAdjust="spacingAndGlyphs">9.5 Gy</text>
<line x1="76.00" y1="579.10" x2="83.10" y2="579.10" stroke="#111" stroke-width="0.9" stroke-linecap="butt"/>
<path d="M86.30 579.10 L82.50 577.40 L82.50 580.80 Z" fill="#111"/>
<g transform="translate(92.70 579.00) scale(0.98)"><path d="M-0.8 -6.0 C-1.6 -8.2 -3.0 -8.4 -4.4 -7.2 C-5.8 -6.0 -6.8 -5.2 -7.8 -4.4" fill="none" stroke="#44752a" stroke-width="0.9" stroke-linecap="round"/><ellipse cx="-2.6" cy="-4.6" rx="1.6" ry="1.3" fill="#79bd4c" stroke="#44752a" stroke-width="0.5"/><ellipse cx="2.6" cy="-4.6" rx="1.6" ry="1.3" fill="#79bd4c" stroke="#44752a" stroke-width="0.5"/><path d="M0 -6.1 C3.6 -6.1 4.6 -2.6 4.5 0.4 C4.4 3.2 2.6 6.0 0 6.3 C-2.6 6.0 -4.4 3.2 -4.5 0.4 C-4.6 -2.6 -3.6 -6.1 0 -6.1 Z" fill="#79bd4c" stroke="#44752a" stroke-width="0.6"/><ellipse cx="0" cy="-1.6" rx="2.6" ry="2.8" fill="#fff" opacity="0.18"/><ellipse cx="0.4" cy="-3.0" rx="2.0" ry="1.6" fill="#d4e8b0" opacity="0.9"/><ellipse cx="-3.3" cy="0.2" rx="1.1" ry="0.8" fill="#f0b050"/><ellipse cx="3.3" cy="0.2" rx="1.1" ry="0.8" fill="#f0b050"/><path d="M-2.4 -0.9 L-0.8 -0.3 M2.4 -0.9 L0.8 -0.3" stroke="#44752a" stroke-width="0.55" stroke-linecap="round"/><path d="M-1.5 3.0 Q0 4.6 1.5 3.0" fill="none" stroke="#44752a" stroke-width="0.5"/><ellipse cx="0" cy="4.9" rx="1.0" ry="0.9" fill="#44752a" opacity="0.85"/><path d="M-2.6 6.0 L-3.4 7.0 M2.6 6.0 L3.4 7.0" stroke="#888" stroke-width="0.4"/></g>
<text x="55.80" y="588.40" font-size="5.8" text-anchor="middle" fill="#231f20" textLength="19.20" lengthAdjust="spacingAndGlyphs">BM cells</text>
<rect x="31.60" y="596.50" width="16.80" height="7.30" fill="none" stroke="#222" stroke-width="0.6"/>
<text x="40.00" y="601.90" font-size="4.6" text-anchor="middle" fill="#231f20" textLength="11.50" lengthAdjust="spacingAndGlyphs">Donor</text>
<rect x="55.20" y="596.50" width="23.20" height="7.30" fill="none" stroke="#222" stroke-width="0.6"/>
<text x="66.80" y="601.90" font-size="4.6" text-anchor="middle" fill="#231f20" textLength="18.00" lengthAdjust="spacingAndGlyphs">Recipient</text>
<rect x="82.20" y="596.50" width="21.00" height="7.30" fill="none" stroke="#222" stroke-width="0.6"/>
<text x="92.70" y="601.90" font-size="4.6" text-anchor="middle" fill="#231f20" textLength="16.00" lengthAdjust="spacingAndGlyphs">Chimeric</text>
<line x1="99.60" y1="578.80" x2="127.40" y2="578.80" stroke="#111" stroke-width="0.9" stroke-linecap="butt"/>
<path d="M130.60 578.80 L126.80 577.10 L126.80 580.50 Z" fill="#111"/>
<line x1="110.00" y1="576.00" x2="110.00" y2="581.60" stroke="#111" stroke-width="0.8" stroke-linecap="butt"/>
<g fill="#e08a1e" stroke="#c87410" stroke-width="0.2"><rect x="109.40" y="563.50" width="1.2" height="9.40"/><ellipse cx="109.45" cy="563.45" rx="0.8" ry="0.7"/><ellipse cx="110.55" cy="563.45" rx="0.8" ry="0.7"/><ellipse cx="109.45" cy="572.95" rx="0.8" ry="0.7"/><ellipse cx="110.55" cy="572.95" rx="0.8" ry="0.7"/></g>
<text x="111.90" y="604.60" font-size="5.6" text-anchor="start" fill="#231f20" textLength="19.60" lengthAdjust="spacingAndGlyphs" transform="rotate(-90 111.90 604.60)">2 weeks</text>
<line x1="119.40" y1="576.00" x2="119.40" y2="581.60" stroke="#111" stroke-width="0.8" stroke-linecap="butt"/>
<g fill="#e08a1e" stroke="#c87410" stroke-width="0.2"><rect x="118.80" y="563.50" width="1.2" height="9.40"/><ellipse cx="118.85" cy="563.45" rx="0.8" ry="0.7"/><ellipse cx="119.95" cy="563.45" rx="0.8" ry="0.7"/><ellipse cx="118.85" cy="572.95" rx="0.8" ry="0.7"/><ellipse cx="119.95" cy="572.95" rx="0.8" ry="0.7"/></g>
<text x="121.30" y="604.60" font-size="5.6" text-anchor="start" fill="#231f20" textLength="19.60" lengthAdjust="spacingAndGlyphs" transform="rotate(-90 121.30 604.60)">1 month</text>
<text x="152.70" y="571.20" font-size="5.8" text-anchor="middle" fill="#231f20" textLength="37.00" lengthAdjust="spacingAndGlyphs">Dendra2-mito+</text>
<text x="152.70" y="577.60" font-size="5.8" text-anchor="middle" fill="#231f20" textLength="31.50" lengthAdjust="spacingAndGlyphs">mitochondria</text>
<text x="152.70" y="583.90" font-size="5.8" text-anchor="middle" fill="#231f20" textLength="25.50" lengthAdjust="spacingAndGlyphs">containing</text>
<text x="152.70" y="590.20" font-size="5.8" text-anchor="middle" fill="#231f20" textLength="21.00" lengthAdjust="spacingAndGlyphs">BM MSC</text>
<defs><filter id="b2" x="-5%" y="-5%" width="110%" height="110%"><feGaussianBlur stdDeviation="0.22"/></filter><filter id="bb5"><feGaussianBlur stdDeviation="0.5"/></filter><filter id="bb8"><feGaussianBlur stdDeviation="0.8"/></filter><filter id="bb12"><feGaussianBlur stdDeviation="1.2"/></filter><filter id="b3" x="-5%" y="-5%" width="110%" height="110%"><feGaussianBlur stdDeviation="0.3"/></filter><linearGradient id="cbar" x1="0" x2="1" y1="0" y2="0"><stop offset="0" stop-color="#3a1a8a"/><stop offset="0.14" stop-color="#2b2fb0"/><stop offset="0.27" stop-color="#2f7fd8"/><stop offset="0.38" stop-color="#2fb6b0"/><stop offset="0.5" stop-color="#3fb54a"/><stop offset="0.68" stop-color="#8fca3a"/><stop offset="0.8" stop-color="#f2e81c"/><stop offset="0.9" stop-color="#f39a1c"/><stop offset="1" stop-color="#e2231a"/></linearGradient></defs>
<text x="135.00" y="238.15" font-size="12" font-weight="bold" fill="#000" stroke="#000" stroke-width="0.25">L</text>
<text x="228.80" y="245.60" font-size="5.5" text-anchor="middle" fill="#231f20" textLength="16.50" lengthAdjust="spacingAndGlyphs">In vivo</text>
<text x="139.50" y="267.80" font-size="5.5" text-anchor="middle" fill="#231f20" textLength="10.90" lengthAdjust="spacingAndGlyphs" transform="rotate(-90 139.50 267.80)">Non</text>
<text x="145.40" y="267.80" font-size="5.5" text-anchor="middle" fill="#231f20" textLength="22.90" lengthAdjust="spacingAndGlyphs" transform="rotate(-90 145.40 267.80)">Irradiated</text>
<text x="139.50" y="303.60" font-size="5.5" text-anchor="middle" fill="#231f20" textLength="22.90" lengthAdjust="spacingAndGlyphs" transform="rotate(-90 139.50 303.60)">Irradiated</text>
<text x="145.40" y="303.60" font-size="5.5" text-anchor="middle" fill="#231f20" textLength="29.80" lengthAdjust="spacingAndGlyphs" transform="rotate(-90 145.40 303.60)">(24h culture)</text>
<text x="139.50" y="343.50" font-size="5.5" text-anchor="middle" fill="#231f20" textLength="22.90" lengthAdjust="spacingAndGlyphs" transform="rotate(-90 139.50 343.50)">Irradiated</text>
<text x="145.40" y="343.50" font-size="5.5" text-anchor="middle" fill="#231f20" textLength="30.20" lengthAdjust="spacingAndGlyphs" transform="rotate(-90 145.40 343.50)">(48h culture)</text>
<svg x="149.30" y="248.90" width="38.6" height="38.6" viewBox="0 0 38.6 38.6">
<rect width="38.6" height="38.6" fill="#000"/>
<g fill="none" stroke-linecap="round" stroke-linejoin="round" filter="url(#b2)">
<path d="M22.4 9.1l0.8 0.4M12.2 10.4l0.4 -0.4M8.2 22.5l-0.3 -0.6M20.5 8.7l0.9 0.2M21.7 6.8l0.7 0.2M9.5 15.8h0M25.4 25.8h0M24.9 4.8h0M28.0 10.2h0M25.3 7.5h0" stroke="#38b048" stroke-width="0.8"/>
<path d="M27.4 18.7l-0.2 0.7M25.8 23.9h0M29.1 15.8l0.1 0.8M26.0 17.3l-0.0 0.5" stroke="#5fd065" stroke-width="0.8"/>
<path d="M9.4 13.5h0M25.6 20.8h0M9.1 17.5l0.0 -0.7M29.1 16.7l-0.0 1.0M10.0 19.1l-0.2 -0.9M9.5 15.0l0.2 -0.8M9.8 24.3h0" stroke="#5fd065" stroke-width="1.2" opacity="0.75"/>
<path d="M10.4 13.4l0.2 -0.5M25.2 20.4h0M9.5 18.9l-0.1 -0.7M13.6 10.8l0.5 -0.4M10.9 14.2l0.2 -0.5M12.3 8.8l0.9 -0.6M27.7 17.7l-0.1 0.5M27.5 18.6h0M10.1 19.6h0M15.7 7.9h0M11.3 9.7l0.8 -0.7M19.8 9.0h0M20.2 8.5l0.8 0.2M19.9 26.6h0M27.5 14.4h0M26.6 24.9l-0.5 0.4M26.2 23.6l-0.6 0.6M22.7 25.9l-0.5 0.2M6.9 16.7h0M19.3 6.4l0.5 0.0" stroke="#5fd065" stroke-width="1" opacity="0.75"/>
<path d="M13.6 12.3l0.4 -0.4M26.9 19.1l-0.3 0.9M21.8 9.7l0.5 0.2M25.1 10.5h0M20.6 26.9h0M11.2 17.3l0.0 -0.6M14.3 12.0l0.4 -0.3M16.9 24.5l-0.5 -0.1M12.6 7.0h0M18.9 26.5h0M10.2 14.0h0M27.7 17.9h0M24.9 23.9l-0.7 0.6M18.6 27.7h0M10.1 20.0l-0.2 -0.7M12.6 8.9l0.6 -0.4M26.1 11.9h0M32.3 22.4h0M27.1 5.5l0.5 0.4M29.0 11.2l0.4 0.7M30.6 23.3h0M25.6 28.5l-0.4 0.2" stroke="#4cc457" stroke-width="0.8" opacity="0.75"/>
<path d="M15.2 9.7l0.5 -0.2M10.0 19.9l-0.2 -0.7M17.5 26.9h0M25.5 22.2l-0.5 0.6M25.7 23.2l-0.5 0.6M14.9 8.5l0.9 -0.4M30.2 15.5h0M14.0 27.6l-0.7 -0.3M15.5 25.6l-0.5 -0.2M28.2 20.4l-0.3 0.8M23.8 23.5h0M29.6 19.9l-0.2 0.6M28.3 12.7l0.3 0.7M30.8 15.4l0.1 0.7M8.2 16.2l0.1 -0.8M22.5 29.5h0M18.4 28.0l-0.5 -0.0M31.5 20.1l-0.2 0.7M28.1 11.0l0.4 0.7M35.0 15.5h0M5.3 26.7h0M34.8 17.5h0M6.6 30.5h0M10.8 26.4h0M7.7 34.3h0M9.1 31.8h0M2.3 33.1l-0.2 0.5M7.3 33.1l-0.4 0.5M6.3 32.2l-0.5 0.3" stroke="#38b048" stroke-width="0.8" opacity="0.75"/>
<path d="M28.0 14.4h0M8.4 19.4l-0.2 -0.9M14.2 9.6h0M22.6 25.3h0M27.5 14.9l0.2 0.7M10.4 13.5l0.2 -0.4" stroke="#4cc457" stroke-width="1"/>
<path d="M18.6 9.7h0M12.9 23.1h0M10.3 13.8l0.2 -0.4M24.1 9.0h0M22.1 8.6l0.4 0.2M18.9 25.4h0" stroke="#38b048" stroke-width="1.2" opacity="0.75"/>
<path d="M27.7 18.2l-0.1 0.6M11.4 13.0l0.5 -0.9M24.4 22.8l-0.5 0.5M27.0 16.9l-0.0 0.5M23.3 25.3h0" stroke="#5fd065" stroke-width="1"/>
<path d="M10.9 18.1h0M28.1 15.1h0M27.4 18.6l-0.1 0.4M15.2 25.3l-0.8 -0.4M27.2 18.3h0M26.6 17.7h0M12.8 19.4h0M23.9 25.0h0M10.0 14.2h0M23.6 9.4l0.8 0.6M21.0 9.5l1.0 0.4M26.2 19.9h0M28.1 14.1h0M8.4 15.3h0M18.4 22.1h0M23.1 10.8l0.4 0.3" stroke="#2b9a3a" stroke-width="1"/>
<path d="M18.6 26.5l-1.1 -0.1M9.7 16.2l0.1 -0.8M27.5 22.5h0M27.6 18.1l-0.2 0.9M25.1 8.3l0.7 0.5M14.6 8.9h0M22.3 25.9l-1.0 0.3M28.3 20.4h0M15.7 25.3l-0.9 -0.4M12.5 10.0l0.7 -0.6M28.9 21.2l-0.2 0.4M18.6 28.8h0M10.2 19.9l-0.2 -0.8M11.1 15.4h0M13.0 23.5h0M13.2 24.9l-0.4 -0.3M23.7 23.2l-0.7 0.5M17.4 9.2l0.8 -0.1M21.7 28.0l-0.5 0.1M11.7 25.0l-0.5 -0.5M19.9 2.8h0M23.8 28.9l-0.6 0.2M26.8 24.8l-0.6 0.6" stroke="#5fd065" stroke-width="0.8" opacity="0.75"/>
<path d="M29.3 15.4h0M20.6 25.3l-0.9 0.1M20.3 26.2l-0.8 0.1M27.8 21.2h0" stroke="#38b048" stroke-width="1.2"/>
<path d="M15.2 26.0l-1.0 -0.5M25.4 11.3l0.5 0.7M14.3 25.7h0M19.0 8.2l1.1 0.1M24.6 9.0l0.7 0.6M19.1 6.5l0.9 0.1M11.7 11.7l0.3 -0.4M10.1 10.7l0.3 -0.4M26.8 11.7h0M18.8 7.9l0.8 0.0M9.0 17.2l0.0 -0.9M9.4 18.4l-0.1 -0.7M21.2 27.9l-1.0 0.2M12.3 10.6l0.8 -0.7M20.1 26.8l-0.9 0.1M20.5 26.4l-0.7 0.1M25.1 24.3l-0.5 0.4M22.7 23.9l-0.5 0.3M13.5 26.6l-0.7 -0.4M25.2 8.6h0M9.7 21.5h0M28.6 22.7l-0.3 0.4M26.2 7.0l0.5 0.4M12.6 30.7h0" stroke="#4cc457" stroke-width="1" opacity="0.75"/>
<path d="M12.8 14.1l0.3 -0.6M17.1 7.6l0.7 -0.1M13.3 8.6h0" stroke="#2b9a3a" stroke-width="1.2" opacity="0.75"/>
<path d="M20.0 8.9l0.8 0.1M10.2 19.9l-0.1 -0.5M26.8 21.3l-0.4 0.7M26.7 16.6h0M9.1 17.6l-0.0 -0.8" stroke="#4cc457" stroke-width="1.2" opacity="0.75"/>
<path d="M17.9 7.4h0M23.4 23.6h0M11.9 19.5l-0.2 -0.6M28.1 18.2h0M20.0 29.3h0" stroke="#4cc457" stroke-width="0.8"/>
<path d="M26.5 23.0l-0.7 0.8M24.5 9.5h0M10.3 16.4l0.1 -0.6M17.3 25.0l-0.7 -0.2M18.8 26.3l-0.5 -0.0M18.4 8.9l0.7 -0.0M10.3 22.9l-0.4 -0.6M21.1 8.4l0.5 0.2M27.9 20.7l-0.3 0.7M21.5 27.3l-0.5 0.1M20.7 9.4h0M26.5 13.5l0.3 0.7M25.0 10.3l0.5 0.4M14.4 7.3h0M22.1 27.1h0M14.1 26.1l-0.4 -0.2M26.7 8.3l0.5 0.5M19.0 33.0h0M25.4 5.2l0.4 0.2M29.3 15.9h0M32.4 17.8l-0.0 0.5M14.3 7.5h0M24.3 6.3h0M28.3 22.7l-0.3 0.5M24.0 30.4l-0.5 0.2M12.1 27.1l-0.5 -0.4M26.2 7.4h0M33.4 10.8l0.2 0.5M20.6 29.2h0M24.2 29.9l-0.6 0.2M34.6 20.6h0M31.1 28.4h0M34.7 13.0h0M1.9 11.7h0M6.1 27.3h0M6.1 30.8h0M10.9 28.6h0" stroke="#2b9a3a" stroke-width="0.8" opacity="0.75"/>
<path d="M19.0 8.5h0M17.9 7.2l0.7 -0.0M27.8 10.5h0M28.3 18.7h0M22.8 5.9l0.9 0.3M21.0 25.1l-0.8 0.2M19.3 26.8h0M18.3 7.8l1.1 -0.0M11.9 23.3h0M12.5 23.6l-0.5 -0.5M9.7 24.0h0M27.2 26.7h0M33.2 13.2l0.2 0.8M15.8 2.9h0" stroke="#38b048" stroke-width="1" opacity="0.75"/>
<path d="M11.4 13.1l0.4 -0.7M18.9 26.9h0M20.4 26.4h0M15.5 25.2l-0.7 -0.3" stroke="#4cc457" stroke-width="1.2"/>
<path d="M25.0 20.2l-0.3 0.5M28.6 20.2l-0.3 0.8M28.2 17.5l-0.1 0.9M19.9 7.7l0.5 0.1M23.9 24.5l-0.4 0.3M17.9 26.3h0M13.7 10.8h0M14.0 8.0h0M18.1 6.1l0.5 -0.0M20.0 8.0l0.8 0.1M22.9 30.0h0M27.6 25.2h0M17.6 4.4l0.5 -0.0M27.1 25.4l-0.5 0.5" stroke="#2b9a3a" stroke-width="1" opacity="0.75"/>
<path d="M28.3 20.7l-0.2 0.5M15.0 24.2l-0.9 -0.6M28.9 21.6l-0.2 0.5M25.2 15.2h0M26.9 16.8h0M15.8 6.0l0.6 -0.1M17.6 6.5l0.7 -0.1M31.3 15.5l0.1 0.6M15.0 29.4h0" stroke="#38b048" stroke-width="1"/>
<path d="M11.6 10.6l0.5 -0.5M14.5 26.6h0M12.4 22.2l-0.5 -0.7" stroke="#5fd065" stroke-width="1.2"/>
<path d="M22.0 26.4l-1.0 0.3M24.6 10.2h0" stroke="#2b9a3a" stroke-width="1.2"/>
<path d="M16.1 8.3h0M26.2 16.8h0M18.3 25.3l-0.7 -0.1M26.8 14.3l0.2 0.6M20.4 5.0l0.6 0.1M30.4 24.3l-0.4 0.6M18.7 5.6h0M9.3 9.3h0M7.0 22.8h0" stroke="#2b9a3a" stroke-width="0.8"/>
<path d="M9.8 15.3h0M26.2 26.1l-0.6 0.5M13.3 11.8l0.5 -0.5M22.1 32.7l-0.6 0.1M30.8 9.5h0M18.4 5.3h0M8.4 20.6h0M6.3 14.7l0.2 -0.8M30.1 8.6l0.5 0.7" stroke="#1f7a2c" stroke-width="1" opacity="0.75"/>
<path d="M12.9 10.0h0M11.2 12.1l0.5 -0.7M27.7 26.0l-0.3 0.3M30.9 12.5l0.3 0.7M5.3 18.0l-0.0 -0.6" stroke="#4cc457" stroke-width="0.8" opacity="0.5"/>
<path d="M8.1 14.3l0.3 -0.8M19.0 7.9h0M31.5 9.7h0M4.7 18.4h0M25.0 28.3l-0.8 0.4M27.6 6.9l0.6 0.5" stroke="#5fd065" stroke-width="0.8" opacity="0.5"/>
<path d="M16.5 9.9h0M11.9 23.3h0M13.2 23.2l-0.6 -0.6M5.1 21.1h0M28.1 20.4l-0.3 0.8M18.0 28.5h0M31.6 25.3l-0.5 0.7" stroke="#5fd065" stroke-width="1" opacity="0.5"/>
<path d="M15.1 4.5h0M26.5 25.0l-0.4 0.4M10.3 22.9l-0.4 -0.6M9.9 20.8h0M27.7 14.7l0.1 0.6M25.7 20.8l-0.4 0.7M20.0 28.4l-0.6 0.0M15.2 28.6l-0.7 -0.2M17.4 6.9l0.5 -0.1M31.0 18.5h0M5.2 22.4l-0.2 -0.7M28.4 9.9l0.4 0.5M23.0 9.3l0.6 0.4M7.0 20.8l-0.2 -0.6M6.1 16.3h0M28.0 26.4l-0.6 0.6M33.3 14.2h0M34.0 13.2h0M30.5 29.6h0M33.8 25.8h0M3.5 32.5l-0.5 0.5M10.4 26.2h0M16.2 1.1h0" stroke="#2b9a3a" stroke-width="0.8" opacity="0.5"/>
<path d="M19.5 26.8l-0.8 0.0M11.5 11.4h0M11.0 3.3h0" stroke="#38b048" stroke-width="1" opacity="0.5"/>
<path d="M22.3 26.7h0M9.3 21.4l-0.3 -0.7M10.2 20.6l-0.2 -0.6M25.7 21.9l-0.5 0.7M24.3 7.9h0M9.8 18.6h0M22.5 3.8l0.6 0.2M29.7 23.9h0M25.6 26.6h0M27.8 25.3h0M28.0 23.0l-0.5 0.6M5.2 19.7l-0.1 -0.6M29.0 25.0h0M23.0 5.9l0.6 0.2M36.9 17.9h0M24.6 32.5h0M32.7 25.3h0M0.0 31.3h0M10.7 30.7h0M3.0 33.0h0M5.2 33.2h0M12.4 27.1l-0.7 0.1M9.7 29.0h0" stroke="#1f7a2c" stroke-width="0.8" opacity="0.75"/>
<path d="M11.7 23.4l-0.5 -0.6M23.2 24.0h0M28.8 7.2l0.3 0.3M16.3 29.2l-0.6 -0.1M9.3 23.9h0M26.2 28.2h0M33.0 16.9l-0.0 0.5M32.1 27.9h0M33.3 11.6h0M35.6 11.0h0M33.7 21.6h0M22.0 32.7h0M7.5 28.1l-0.7 0.1M5.3 34.9h0M11.6 32.6h0" stroke="#38b048" stroke-width="0.8" opacity="0.5"/>
<path d="M13.0 7.0l0.6 -0.3M20.9 5.6l0.5 0.1M7.3 9.3h0M27.7 8.0l0.5 0.5" stroke="#4cc457" stroke-width="1" opacity="0.5"/>
<path d="M19.8 9.2h0M17.4 3.0h0M18.2 30.1l-0.5 -0.0" stroke="#1f7a2c" stroke-width="0.8"/>
<path d="M20.6 24.7l-0.9 0.1M6.6 23.6l-0.2 -0.5M29.6 14.5l0.2 0.8M26.7 10.1l0.3 0.4" stroke="#1f7a2c" stroke-width="1" opacity="0.5"/>
<path d="M8.2 17.7l-0.0 -0.5M10.1 16.9l0.0 -0.7M27.3 13.9h0M28.7 27.9h0" stroke="#2b9a3a" stroke-width="1" opacity="0.5"/>
<path d="M14.7 6.4l0.7 -0.2M28.6 7.4h0M33.2 11.6h0M27.4 9.1l0.5 0.5M32.4 19.2h0M7.9 3.6h0M34.0 24.4h0M7.9 30.6h0M6.3 31.7l-0.5 0.2M6.2 28.7h0M11.0 25.8h0M13.6 3.0h0" stroke="#1f7a2c" stroke-width="0.8" opacity="0.5"/>
<path d="M31.9 22.7h0M11.2 29.7h0M30.0 23.8h0M15.1 1.2h0M20.6 0.5h0" stroke="#2b9a3a" stroke-width="0.6" opacity="0.75"/>
<path d="M35.4 20.3h0M33.9 12.0h0M8.8 27.8l-0.4 0.3M9.8 29.0l-0.4 0.2M3.9 32.3h0M11.9 29.7l-0.6 0.2M4.7 33.3h0" stroke="#38b048" stroke-width="0.6" opacity="0.5"/>
<path d="M34.3 21.2h0M30.9 22.5h0M9.2 32.9l-0.7 0.3M5.5 35.1h0M6.5 33.4h0" stroke="#38b048" stroke-width="0.6" opacity="0.75"/>
<path d="M30.9 25.8h0M32.7 7.7h0M7.1 34.0l-0.4 0.2" stroke="#1f7a2c" stroke-width="0.6" opacity="0.75"/>
<path d="M35.8 11.4h0M30.1 28.2h0M2.2 33.7l-0.2 0.6M6.4 34.6l-0.1 0.7M7.3 33.1l-0.3 0.5M7.9 31.3l-0.6 0.5M16.3 1.7h0M15.0 1.8h0M12.7 2.4h0M11.5 37.1h0M36.3 31.9h0M13.1 23.0h0M31.8 7.1h0" stroke="#2b9a3a" stroke-width="0.6" opacity="0.5"/>
<path d="M34.7 24.8h0M3.6 15.2h0M11.6 27.4l-0.4 0.4M4.0 35.3l-0.2 0.7M11.6 27.8l-0.3 0.3M7.5 33.0l-0.5 0.5M5.7 31.8h0M5.9 33.4l-0.5 0.3M4.7 34.7l-0.6 0.3M4.5 31.9h0M16.0 2.0h0M16.8 4.1h0M17.5 2.3h0M37.3 26.0h0M9.1 19.0h0M0.6 4.3h0M0.0 6.8h0" stroke="#1f7a2c" stroke-width="0.6" opacity="0.5"/>
<path d="M21.9 1.9h0M23.6 3.0h0M23.8 2.8h0M11.9 3.6h0M24.6 2.4h0M26.5 27.4h0M16.2 23.3h0M3.4 10.5h0M34.3 23.6h0M19.6 38.2h0" stroke="#17601f" stroke-width="0.6" opacity="0.5"/>
<path d="M18.6 4.3h0M25.9 3.5h0" stroke="#17601f" stroke-width="0.8" opacity="0.5"/>
<path d="M20.5 1.7h0" stroke="#17601f" stroke-width="0.6" opacity="0.75"/>
<path d="M23.4 3.1h0M32.6 23.9h0" stroke="#17601f" stroke-width="0.6" opacity="0.25"/>
<path d="M17.1 2.5h0M34.9 28.8h0M31.0 22.8h0M9.0 7.6h0M3.4 25.2h0M12.9 8.2h0M17.1 25.5h0M4.7 26.4h0M15.2 19.3h0M32.1 6.3h0" stroke="#1f7a2c" stroke-width="0.6" opacity="0.25"/>
<path d="M5.2 32.0h0M31.9 30.3h0M36.5 4.5h0M30.4 9.7h0M30.3 30.6h0M30.6 0.2h0M37.0 14.0h0" stroke="#2b9a3a" stroke-width="0.6" opacity="0.25"/>
</g>
<rect x="0.7" y="23.7" width="14.6" height="14.6" fill="none" stroke="#f6f6f6" stroke-width="1.25" stroke-dasharray="1.9 1.2"/>
<text x="5.6" y="22.4" font-size="6.4" fill="#fff">a</text>
<text x="37.0" y="35.2" font-size="4.4" text-anchor="end" fill="#fff">10µm</text>
<rect x="29.5" y="36.0" width="7.5" height="0.7" fill="#fff"/>
</svg>
<svg x="189.50" y="248.90" width="38.6" height="38.6" viewBox="0 0 38.6 38.6">
<rect width="38.6" height="38.6" fill="#cfcfcf"/>
<g fill="none" stroke-linecap="round" stroke-linejoin="round" filter="url(#b2)">
<path d="M25.6 17.9l-0.2 1.1M17.0 25.4h0M16.4 24.6l-0.5 -0.2M25.2 14.1l0.4 1.0M20.4 24.4h0M16.7 24.5l-0.6 -0.2" stroke="#69c243" stroke-width="1.4"/>
<path d="M12.8 22.1l-0.5 -0.6M23.1 23.6l-1.0 0.5M19.3 23.2l-0.9 -0.0M11.3 17.7l0.0 -1.3M24.7 22.3l-0.9 0.8M12.0 16.5l0.2 -1.0M19.5 22.7l-0.7 0.0M10.1 20.5l-0.2 -0.6" stroke="#69c243" stroke-width="1.6"/>
<path d="M13.5 11.5l0.4 -0.3M16.8 9.2l1.1 -0.2M15.9 12.0h0M20.4 11.5l1.2 0.4" stroke="#2b2f9a" stroke-width="1.4"/>
<path d="M26.0 12.5l0.5 0.8M20.2 9.0h0M16.4 9.7h0M23.0 7.1h0M25.5 25.2l-0.4 0.3M19.2 26.7h0M23.7 27.1l-0.9 0.4M28.4 13.1l0.3 0.6" stroke="#2f55c4" stroke-width="1.2"/>
<path d="M28.0 16.9l-0.0 0.9M24.9 12.8l0.3 0.4" stroke="#3c8ed2" stroke-width="1.6"/>
<path d="M25.3 20.0l-0.5 0.9M12.8 22.5l-0.7 -1.0M19.4 25.9h0M22.3 26.4l-0.5 0.2M12.6 14.7h0M11.4 14.4l0.2 -0.5M24.6 22.7l-0.5 0.4M14.1 23.1l-0.5 -0.5M9.9 18.5l-0.1 -0.9M26.0 19.3l-0.4 1.1M12.0 21.7h0M25.4 14.1l0.3 0.8M19.7 23.9h0" stroke="#b9d63a" stroke-width="1.4"/>
<path d="M15.1 23.9l-0.8 -0.6M15.4 23.7l-0.8 -0.5M12.0 21.9l-0.3 -0.5" stroke="#ece31f" stroke-width="1.4"/>
<path d="M14.5 22.3l-0.7 -0.8M10.9 15.1h0" stroke="#ece31f" stroke-width="1.2"/>
<path d="M13.4 12.0l0.9 -0.8M17.5 9.7l0.5 -0.1M26.5 17.2l-0.1 1.1M25.3 14.8l0.3 1.0M19.2 9.7l1.0 0.1M16.6 9.5l0.7 -0.2M13.1 10.6h0" stroke="#2fae9e" stroke-width="1.4"/>
<path d="M24.3 21.2l-0.5 0.6M15.1 24.9h0M23.9 25.8l-0.9 0.5M27.3 20.4l-0.5 1.0M26.0 14.6l0.3 0.9M13.8 23.6l-0.3 -0.3M11.9 22.7l-0.3 -0.4M12.0 17.6h0M16.3 23.7l-0.7 -0.3M21.7 27.6h0M26.0 21.4h0M17.6 25.3l-0.9 -0.2M28.7 14.4l0.2 1.0" stroke="#b9d63a" stroke-width="1.6"/>
<path d="M20.2 7.9l0.5 0.1M11.5 12.6l0.4 -0.7M23.6 10.1h0M15.8 9.8l0.8 -0.3M23.4 11.1l0.5 0.4M12.4 10.9l0.6 -0.5" stroke="#2f55c4" stroke-width="1.6"/>
<path d="M23.7 10.9l0.5 0.4M27.9 17.3l-0.0 0.7M32.8 12.9l0.3 1.1M9.2 24.1l-0.4 -0.6" stroke="#3c8ed2" stroke-width="1.2"/>
<path d="M23.1 9.2h0M12.3 12.5l0.6 -0.7M25.9 10.0l0.6 0.6" stroke="#2b2f9a" stroke-width="1.6"/>
<path d="M19.9 9.5l0.6 0.1M17.9 25.2l-0.7 -0.1M20.6 24.6l-0.5 0.1" stroke="#2fae9e" stroke-width="1.2"/>
<path d="M16.0 25.2h0M24.5 13.2h0M21.5 12.1l0.5 0.3M20.2 8.2l1.2 0.3M14.1 10.5l0.4 -0.3" stroke="#2fae9e" stroke-width="1.6"/>
<path d="M10.1 18.1l-0.0 -1.3M11.4 14.3l0.2 -0.5" stroke="#b9d63a" stroke-width="1.2"/>
<path d="M12.9 11.1l0.8 -0.7" stroke="#2f55c4" stroke-width="1.4"/>
<path d="M10.8 14.9h0" stroke="#ece31f" stroke-width="1.6"/>
<path d="M14.4 25.3l-0.9 -0.6" stroke="#69c243" stroke-width="1.2"/>
<path d="M25.3 10.1h0M18.8 26.6h0M24.7 20.2l-0.2 0.4M19.5 7.5h0M12.9 15.3l0.3 -0.7M8.2 25.4l-0.7 -0.9M23.0 7.6l0.6 0.3" stroke="#3c8ed2" stroke-width="0.8"/>
<path d="M26.2 10.7l0.4 0.4M14.4 22.9h0M12.4 28.3l-0.6 -0.4M10.1 13.7l0.3 -0.7M9.7 16.0l0.1 -0.5M21.3 10.3h0M22.6 5.0l0.9 0.3M28.0 7.8l0.7 0.8M27.0 22.4h0M23.5 7.9l0.5 0.3" stroke="#3c8ed2" stroke-width="1"/>
<path d="M11.5 15.5l0.1 -0.6M15.5 25.4l-0.6 -0.3M32.9 23.1l-0.5 1.0M27.4 25.6l-0.5 0.4M33.5 16.6l0.0 0.5M32.7 22.5l-0.3 0.8M34.6 14.4h0M33.9 11.4h0M11.3 29.3l-0.5 0.4M20.9 4.1l0.5 0.6M22.6 1.0h0M24.9 4.5h0M23.2 2.3l0.5 -0.0" stroke="#2b2f9a" stroke-width="0.8"/>
<path d="M21.5 23.4l-0.9 0.3M19.5 9.8h0M25.8 12.8l0.4 0.7M25.9 20.1l-0.3 0.6M13.0 8.5l0.7 -0.4" stroke="#3c8ed2" stroke-width="1" opacity="0.75"/>
<path d="M12.9 16.8l0.0 -0.5M25.8 12.8l0.3 0.5M16.3 24.5l-0.4 -0.2M14.6 9.3l0.7 -0.3M27.2 12.3h0M32.0 22.6l-0.2 0.4M36.0 17.2l-0.0 0.5M34.4 17.7l-0.1 1.0M12.5 1.8l0.4 -0.2M34.5 24.6l-0.3 0.6M33.1 9.0h0M28.5 7.8l0.5 0.5M20.7 30.8l-0.6 0.1M35.4 20.3l-0.1 0.6M33.0 13.4l0.2 1.0M29.0 5.8l0.5 0.4M33.7 25.0h0M10.5 31.2h0M34.7 13.0l0.1 0.6M30.1 22.4l-0.4 0.8M26.7 29.0h0M32.9 17.0l-0.0 0.7M10.2 28.8h0M7.5 28.0l-1.0 0.3M6.4 32.9l-0.8 0.0M5.3 34.2h0M5.5 29.9h0M6.2 38.1l-0.2 0.5M2.9 31.9l-0.7 0.5M10.9 28.2l-0.4 0.7M2.0 34.8l0.0 0.5M13.3 26.3l-0.8 0.2M10.8 32.1l-0.5 0.7M5.0 30.1h0M6.4 29.4l-1.0 0.3M4.4 33.6l-0.8 0.8M3.2 34.4h0M2.8 33.2h0M2.9 33.4h0M6.3 33.1l-0.1 0.8M21.0 3.1h0M19.5 2.9h0M15.8 5.3l0.6 -0.1M27.6 31.0l0.6 0.2M30.5 31.4h0M26.2 31.2l0.8 0.2M26.0 32.5l0.2 0.7" stroke="#43268f" stroke-width="0.8" opacity="0.75"/>
<path d="M27.7 14.0l0.2 0.7M10.1 19.0h0M26.7 13.9h0M6.3 22.7l-0.2 -0.5M25.7 29.0l-0.5 0.3M19.1 3.0l0.7 0.0M32.2 18.5l-0.1 0.9M28.8 0.6l0.8 0.5M31.0 14.8l0.2 1.0M29.0 27.4l-0.7 0.7M9.1 28.6l-0.6 0.7M4.4 32.8l-0.3 1.1" stroke="#2b2f9a" stroke-width="1" opacity="0.75"/>
<path d="M14.9 23.6l-0.7 -0.5M28.8 15.9l0.1 0.7M13.0 14.9l0.2 -0.5M19.9 28.0l-0.9 0.0M30.7 12.5l0.4 1.1M31.2 22.2l-0.5 1.0M22.4 5.4l1.0 0.3M29.3 10.6h0M27.6 25.5h0M3.2 33.5h0" stroke="#2b2f9a" stroke-width="1"/>
<path d="M21.5 9.4l0.4 0.2M20.0 6.0l0.9 0.1M16.8 7.3l1.0 -0.2M21.6 26.9l-0.5 0.1M30.0 17.5h0M35.4 16.1l0.0 0.8M32.7 8.3l0.4 0.6M4.7 34.1l-0.3 0.4M7.4 32.0l-0.6 0.4M5.3 32.3l-0.7 0.7M9.3 28.4l-0.5 0.5" stroke="#43268f" stroke-width="1" opacity="0.75"/>
<path d="M23.4 25.5h0M11.2 22.6l-0.5 -0.7M18.8 25.5h0M25.5 10.9h0M12.1 19.5l-0.2 -0.7M22.9 6.3l0.9 0.4M23.3 11.7h0M29.1 15.8l0.1 0.5M30.8 30.3l-0.6 0.5M35.3 11.6l0.3 0.9M33.3 15.6h0M31.8 26.2l-0.5 0.6M29.9 9.4l0.4 0.6M7.8 32.1h0M18.2 4.3h0M31.1 34.7l0.5 0.5M33.6 33.3l0.6 -0.6" stroke="#2f55c4" stroke-width="0.8"/>
<path d="M14.8 6.0h0M25.2 14.7l0.2 0.6M23.5 12.4h0M26.2 27.6l-0.8 0.5M29.9 15.2l0.1 0.9M30.2 16.5l0.0 0.7M32.4 14.7l0.1 0.7M37.5 14.5l0.1 0.8M5.1 23.6l-0.3 -0.8M5.9 29.6l-1.1 0.3" stroke="#43268f" stroke-width="1"/>
<path d="M26.4 15.4l0.1 0.7M18.6 23.8l-0.9 -0.1M19.3 29.4l-0.9 -0.0M29.2 23.3l-0.3 0.4M33.4 6.5h0M28.0 7.4l0.7 0.7M37.6 20.1h0M28.8 6.0l0.7 0.6M30.9 4.8l0.5 0.5M30.3 8.1l0.6 0.8M34.9 18.2h0M28.8 6.7h0M34.2 29.7l-0.4 0.5M15.3 4.9l0.8 -0.2M30.7 31.2l-0.6 0.5M3.5 31.3l-0.4 0.5M23.4 0.8l0.9 -0.3M26.5 -0.2l0.6 0.5M13.8 5.3l0.8 -0.3M14.1 5.2l0.7 -0.5M20.3 4.0h0M33.6 30.3h0M37.4 31.0l0.6 -0.4M29.6 27.9l0.3 0.4M33.9 30.6h0" stroke="#2f55c4" stroke-width="0.8" opacity="0.75"/>
<path d="M10.5 18.6h0M24.4 21.0l-0.5 0.6M8.5 19.4h0M12.5 25.1h0M11.7 19.2h0M26.9 26.6l-0.6 0.5M27.4 6.3l0.8 0.7M26.4 8.9l0.4 0.3M23.6 11.1h0M12.4 22.9l-0.6 -0.7M11.0 24.9h0M29.5 11.3l0.4 0.8M29.4 15.3h0M27.4 27.9l-1.0 0.7M8.4 8.8h0M33.8 23.9l-0.2 0.5M32.5 26.1l-0.5 0.8" stroke="#2f55c4" stroke-width="1"/>
<path d="M15.1 10.0l0.5 -0.3M17.6 7.4l0.5 -0.1M8.4 12.8l0.5 -1.0M26.2 27.9l-0.9 0.6M31.6 22.3l-0.3 0.7M34.9 13.3h0M35.0 16.6l0.0 0.6M34.5 21.4l-0.2 0.8M32.6 11.3l0.4 0.9M31.5 7.3l0.3 0.4M35.0 23.2l-0.2 0.6M33.4 14.2l0.1 0.5M8.6 31.1l-0.3 0.6M6.2 30.7l0.0 0.5M13.0 26.7l-1.0 0.5M6.9 31.5l-0.4 0.2M3.5 34.7l-0.8 0.2M17.9 4.0h0M18.7 4.6h0M23.4 4.7h0M20.2 2.4l0.6 0.5M32.4 29.2l0.8 -0.1" stroke="#2b2f9a" stroke-width="0.8" opacity="0.75"/>
<path d="M18.0 8.2l0.7 -0.1M22.7 9.5h0M26.4 21.5l-0.5 0.7M29.7 12.4l0.3 0.6M29.3 21.9h0M26.1 25.0l-0.5 0.4M21.3 26.7l-1.1 0.2M11.9 24.1l-0.6 -0.7M29.0 17.9h0M25.9 25.5l-0.7 0.6M26.8 8.0h0M37.3 15.7h0M33.2 10.8h0M32.0 8.5h0M4.3 33.7l-0.5 0.2M7.2 32.4l-0.8 0.3" stroke="#2f55c4" stroke-width="1" opacity="0.75"/>
<path d="M25.5 11.1l0.5 0.6M10.0 12.7l0.4 -0.7M15.0 25.9h0M23.0 24.8l-0.6 0.3M28.8 8.0l0.7 0.8M-0.4 20.4l-0.1 -0.7M32.3 17.4h0M35.9 18.5l-0.1 1.0M30.7 10.5l0.3 0.6M32.0 24.8l-0.3 0.5M28.8 8.1l0.7 0.8M27.8 6.6h0M32.1 7.9l0.5 0.7M31.7 27.9l-0.7 0.8M32.8 24.2l-0.3 0.6M4.0 28.9l-0.0 1.1M2.3 31.2h0M14.2 27.6l-0.5 0.3M1.8 34.2l-0.5 0.1M12.2 27.8l-0.5 0.1M3.9 33.6l-1.1 -0.0M35.6 31.2h0" stroke="#43268f" stroke-width="0.8"/>
<path d="M28.0 16.2l0.1 1.0M32.5 15.8l0.1 0.7" stroke="#2b2f9a" stroke-width="1.2"/>
<path d="M23.0 6.5l0.8 0.3M25.2 7.4l0.6 0.4M7.0 15.2l0.1 -0.6M9.3 24.2l-0.3 -0.4" stroke="#2fae9e" stroke-width="1"/>
<path d="M19.1 0.9l0.7 0.0M25.8 29.2l-0.4 0.2M29.4 20.1h0M24.3 24.4l-0.6 0.4" stroke="#2f55c4" stroke-width="1.2" opacity="0.75"/>
<path d="M28.1 9.6l0.4 0.6M32.3 13.5l0.2 0.9M23.7 27.9l-0.5 0.2" stroke="#2fae9e" stroke-width="1" opacity="0.75"/>
<path d="M24.6 27.3l-0.9 0.4M22.2 4.7l0.9 0.3" stroke="#2fae9e" stroke-width="0.8" opacity="0.75"/>
<path d="M11.0 24.1l-0.7 -0.9M26.6 22.7l-0.3 0.4M27.4 8.3l0.8 0.8" stroke="#2fae9e" stroke-width="1.2" opacity="0.75"/>
<path d="M34.3 18.4l-0.0 0.4M27.2 25.8h0" stroke="#2b2f9a" stroke-width="1.2" opacity="0.75"/>
<path d="M20.5 31.2l-0.7 0.1M28.1 25.9l-0.8 0.8" stroke="#3c8ed2" stroke-width="1.2" opacity="0.75"/>
<path d="M25.6 7.7l0.6 0.4M30.2 18.4h0" stroke="#2fae9e" stroke-width="0.8"/>
<path d="M26.0 7.6l0.9 0.7" stroke="#3c8ed2" stroke-width="0.8" opacity="0.75"/>
<path d="M15.1 4.1h0M36.3 31.0h0M29.3 28.4l0.8 0.4" stroke="#43268f" stroke-width="0.6"/>
<path d="M25.2 3.5h0M22.1 3.4l0.9 -0.5M15.7 2.5l0.6 -0.3M26.6 30.9l0.6 0.2M27.2 29.6h0" stroke="#2f55c4" stroke-width="0.6"/>
<path d="M17.7 3.5h0M20.5 1.0l0.9 0.4M34.6 29.1h0M34.5 32.0l0.3 -0.5M35.0 32.0l0.6 -0.2M36.4 29.9h0M39.1 32.4l0.6 -0.0" stroke="#2b2f9a" stroke-width="0.6" opacity="0.75"/>
<path d="M23.1 3.3l0.6 0.2M26.5 31.2l0.9 0.3" stroke="#43268f" stroke-width="0.6" opacity="0.75"/>
</g>
<text x="37.0" y="35.2" font-size="4.4" text-anchor="end" fill="#333">10µm</text>
<rect x="29.5" y="36.0" width="7.5" height="0.7" fill="#333"/>
</svg>
<svg x="229.50" y="248.90" width="38.6" height="38.6" viewBox="0 0 38.6 38.6">
<rect width="38.6" height="38.6" fill="#000"/>
<g fill="none" stroke-linecap="round" stroke-linejoin="round" filter="url(#b3)">
<path d="M2.3 37.3L5.5 34.7L5.7 34.1L7.9 33.4L9.1 30.5L9.7 30.3L11.2 27.1L13.2 25.5L12.2 24.7L13.5 22.0M11.9 26.4L12.0 25.2L14.5 24.0L15.1 23.6L16.2 21.7L16.0 20.3L18.7 19.0L19.0 18.0L20.9 16.5L21.2 14.8L23.2 13.7L25.5 13.0L27.0 12.4L27.7 10.7L29.0 9.2L28.9 8.0L30.9 7.2L33.0 7.1L33.7 4.9L35.9 3.9L37.0 3.0M15.8 22.8L19.0 22.1L20.8 22.9L22.7 21.7L22.6 21.3L25.5 21.6L26.9 19.4L26.9 18.8L26.7 16.1L26.7 14.9L25.4 15.5L22.8 15.3L23.0 15.4L20.9 15.9L19.3 17.7L18.0 19.0M24.4 0.1L25.7 2.1L25.4 4.2L27.0 6.0M27.5 14.3L28.3 13.1L30.8 13.4L32.2 12.5L35.6 13.3L36.3 14.7L38.0 14.5M31.7 8.8L33.3 10.2L34.4 10.2L36.4 12.0L37.5 13.0M27.1 7.2h0M13.4 24.4h0M30.5 8.0h0" stroke="#38b048" stroke-width="1.2"/>
<path d="M3.2 28.6L2.9 28.3L4.8 27.8L6.5 26.5L7.2 24.2L9.6 22.7L10.5 22.9L10.6 21.8L12.3 19.5L13.2 17.9L15.1 15.3L16.9 15.8L18.0 13.5M14.2 19.4L15.5 16.5L16.6 15.9L18.0 15.6L18.3 12.8L19.9 12.3L20.4 10.2L22.2 8.4L22.6 6.9L22.5 5.0" stroke="#2b9a3a" stroke-width="0.8" opacity="0.75"/>
<path d="M17.9 0.8L18.8 1.9L21.2 3.6L21.7 4.4L21.9 4.8L24.3 7.0L24.5 6.9L25.8 8.3L27.8 10.1L30.0 9.0M28.0 8.6L29.8 8.4L30.5 7.5L31.9 7.7L33.6 7.2L35.0 5.5M36.4 12.8l0.1 0.8M37.0 14.3l0.2 0.8" stroke="#4cc457" stroke-width="1.2"/>
<path d="M26.6 16.6L28.5 17.4L29.7 17.5L32.5 17.6L34.0 18.0M20.0 24.5L21.7 23.8L22.5 24.6L24.5 24.0L26.0 23.5M26.5 7.3l0.9 0.2M33.6 5.3l0.3 0.7M24.0 17.5l0.3 0.3M16.2 20.1l0.4 -0.8" stroke="#2b9a3a" stroke-width="1" opacity="0.75"/>
<path d="M22.8 4.5l-0.2 0.4M35.0 4.3l0.1 1.0" stroke="#4cc457" stroke-width="1"/>
<path d="M23.4 4.7l-0.2 0.5M35.8 4.8h0M36.3 13.3l-0.1 0.5M23.3 17.7l0.5 0.1" stroke="#2b9a3a" stroke-width="1.2" opacity="0.75"/>
<path d="M23.3 6.0l-0.5 0.2M35.0 4.7l-0.5 0.6M22.9 16.8h0" stroke="#5fd065" stroke-width="1.4" opacity="0.75"/>
<path d="M22.7 5.4l0.6 0.4M24.9 17.2l-0.3 0.4" stroke="#4cc457" stroke-width="1" opacity="0.75"/>
<path d="M23.6 5.3l-0.5 0.1M13.5 23.2h0" stroke="#2b9a3a" stroke-width="1.4"/>
<path d="M27.6 6.8l-0.1 0.5M36.2 13.6l-0.9 0.2" stroke="#38b048" stroke-width="1.2" opacity="0.75"/>
<path d="M26.4 8.4h0M14.1 24.9h0" stroke="#38b048" stroke-width="1"/>
<path d="M27.0 9.7l0.8 0.1M27.1 21.2h0M14.3 25.0h0" stroke="#38b048" stroke-width="1.4"/>
<path d="M34.9 7.1l-0.5 0.4M31.7 8.4l0.5 0.4" stroke="#5fd065" stroke-width="1.2" opacity="0.75"/>
<path d="M35.6 14.1h0" stroke="#5fd065" stroke-width="1.4"/>
<path d="M26.6 21.6l-0.4 0.2" stroke="#2b9a3a" stroke-width="1.2"/>
<path d="M26.1 21.1l-0.7 0.1M30.7 9.0l0.4 0.4M31.0 9.3h0" stroke="#5fd065" stroke-width="1"/>
<path d="M25.6 21.7l-0.0 0.5M31.4 8.9l-0.5 0.3" stroke="#4cc457" stroke-width="1.4"/>
<path d="M26.2 20.4l0.2 0.5" stroke="#2b9a3a" stroke-width="1.4" opacity="0.75"/>
<path d="M23.7 17.8l0.9 0.0" stroke="#5fd065" stroke-width="1.2"/>
<path d="M12.5 24.6l-0.0 0.5" stroke="#38b048" stroke-width="1.4" opacity="0.75"/>
<path d="M21.0 19.6l0.1 -0.6M30.0 12.3l0.3 -0.5M30.7 12.5h0" stroke="#1f7a2c" stroke-width="1" opacity="0.75"/>
<path d="M31.9 6.4h0M18.7 21.2l0.4 -0.2" stroke="#1f7a2c" stroke-width="0.8" opacity="0.75"/>
<path d="M26.0 3.7l0.7 -0.5M33.6 9.8l0.6 -0.8M23.9 24.2l0.3 -0.4M21.6 17.7l0.7 -0.2M35.4 14.1l0.3 -0.4M25.0 10.2h0" stroke="#38b048" stroke-width="0.8" opacity="0.5"/>
<path d="M23.0 19.7h0M29.8 11.1l0.4 -0.2M20.1 20.5l0.5 -0.7M25.5 8.0h0" stroke="#1f7a2c" stroke-width="0.8" opacity="0.5"/>
<path d="M31.9 9.8l0.5 -0.2" stroke="#38b048" stroke-width="1" opacity="0.75"/>
<path d="M26.3 13.3h0M24.8 17.0l0.1 -1.0M18.1 20.0h0M28.5 11.3l0.6 -0.6M34.0 9.7l0.3 -0.7M21.8 16.7l0.3 -0.4" stroke="#38b048" stroke-width="0.8" opacity="0.75"/>
<path d="M21.8 11.0h0M29.7 15.5l0.5 -0.3" stroke="#1f7a2c" stroke-width="1" opacity="0.5"/>
<path d="M29.7 8.9h0M20.0 13.6l0.4 -0.7M36.8 13.7h0M20.9 17.7h0" stroke="#2b9a3a" stroke-width="0.8" opacity="0.5"/>
<path d="M27.2 15.2l0.7 -0.1" stroke="#38b048" stroke-width="1" opacity="0.5"/>
</g>
<text x="2.6" y="5.0" font-size="5.0" fill="#fff">a</text>
<text x="37.0" y="35.2" font-size="4.4" text-anchor="end" fill="#fff">3µm</text>
<rect x="30.0" y="36.0" width="7.0" height="0.7" fill="#fff"/>
</svg>
<svg x="269.80" y="248.90" width="38.6" height="38.6" viewBox="0 0 38.6 38.6">
<rect width="38.6" height="38.6" fill="#cfcfcf"/>
<g fill="none" stroke-linecap="round" stroke-linejoin="round" filter="url(#b3)">
<path d="M3.0 37.0L3.9 36.8L4.2 34.6L5.7 32.3L6.4 32.4L6.5 30.7L7.2 30.1L7.9 27.6L8.6 26.7L9.7 25.4L10.9 22.8L11.2 21.9L12.0 20.4L12.8 19.6L14.0 18.0" stroke="#43268f" stroke-width="1.6"/>
<path d="M3.4 27.6L4.6 27.2L6.2 26.9L6.6 25.8L8.0 25.0M16.2 37.7L17.1 37.2L18.0 36.0" stroke="#43268f" stroke-width="1.2"/>
<path d="M10.0 31.4L11.2 30.1L11.4 28.5L11.9 27.6L11.9 25.1L12.5 24.0M13.6 19.3L14.8 18.1L15.5 17.7L17.2 15.9L18.5 15.0M24.4 2.5L26.1 3.1L28.0 4.0" stroke="#2b2f9a" stroke-width="1.6"/>
<path d="M17.6 21.7L18.6 20.0L20.4 19.5L20.8 18.1L22.4 17.0L23.1 16.1L24.4 16.6L25.9 15.1L26.7 13.6L29.9 12.9L29.7 11.9L32.0 11.2" stroke="#69c243" stroke-width="3"/>
<path d="M19.2 22.4L22.2 22.2L22.8 22.0L23.7 20.5L25.2 19.1L26.2 17.8L27.5 17.4" stroke="#7fcc4a" stroke-width="2"/>
<path d="M21.4 14.3L23.1 12.0L25.4 12.4L25.9 12.2L26.6 10.6L29.0 9.6" stroke="#8fd04a" stroke-width="1.6"/>
<path d="M15.6 6.1L17.4 4.6L17.7 2.9L19.9 2.5L21.2 1.6L23.0 3.0" stroke="#ece31f" stroke-width="2"/>
<path d="M18.7 5.1L20.1 5.2L22.0 5.5" stroke="#b9d63a" stroke-width="1.6"/>
<path d="M22.8 4.2L25.6 4.6L27.4 4.9L28.2 6.4L30.0 6.4L32.0 6.5L34.2 6.3L35.7 6.9L38.0 7.0" stroke="#2f55c4" stroke-width="1.6"/>
<path d="M30.4 7.9L31.0 8.7L33.0 10.0" stroke="#3c8ed2" stroke-width="1.4"/>
<path d="M17.9 24.7L20.2 24.8L21.4 25.1L23.2 24.2L24.8 23.7L26.6 22.8L27.5 22.0" stroke="#2fae9e" stroke-width="2"/>
<path d="M19.9 27.6L21.8 27.3L23.5 27.2" stroke="#3c8ed2" stroke-width="1.6"/>
<path d="M28.2 17.1L31.2 17.1L33.0 16.9L34.2 17.4L36.2 16.8L38.0 17.5" stroke="#43268f" stroke-width="1.4"/>
<path d="M33.5 11.4L34.2 11.9L35.4 12.1L38.5 13.0" stroke="#69c243" stroke-width="1.8"/>
<path d="M13.7 17.0L15.3 16.0L16.2 14.4L17.4 12.6L18.6 11.8L20.0 11.0" stroke="#2b2f9a" stroke-width="1.2"/>
</g>
<text x="2.6" y="5.0" font-size="5.0" fill="#333">a</text>
<text x="37.0" y="35.2" font-size="4.4" text-anchor="end" fill="#333">3µm</text>
<rect x="30.0" y="36.0" width="7.0" height="0.7" fill="#333"/>
</svg>
<svg x="149.30" y="289.10" width="38.6" height="38.6" viewBox="0 0 38.6 38.6">
<rect width="38.6" height="38.6" fill="#000"/>
<g fill="none" stroke-linecap="round" stroke-linejoin="round" filter="url(#b2)">
<path d="M26.2 16.3h0M24.5 14.9h0M31.2 2.8l-0.6 1.0" stroke="#38b048" stroke-width="0.8"/>
<path d="M8.3 22.4l-0.4 -0.8M12.5 15.1h0M13.8 21.0l-0.4 -0.4M10.7 24.7l-0.7 -0.6M22.9 23.3h0M10.2 20.2h0M12.2 24.6l-0.7 -0.5M26.4 14.7h0M30.3 9.7h0M30.7 3.6l-0.1 0.6" stroke="#2b9a3a" stroke-width="1" opacity="0.5"/>
<path d="M24.3 22.8h0M26.6 14.6l0.2 0.6M22.3 24.5h0M7.4 22.7l-0.4 -0.8M23.5 16.8l0.0 0.8M23.5 23.8l-0.3 0.4M8.5 9.6l0.5 -0.5M20.3 24.2h0M21.6 23.9l-0.6 0.4M30.3 6.9h0M20.5 22.1h0M23.1 16.0h0M25.3 28.0h0M3.8 17.4h0M6.9 29.7h0M2.0 27.8h0M3.8 18.2h0M6.3 30.6h0" stroke="#2b9a3a" stroke-width="0.8" opacity="0.5"/>
<path d="M15.7 9.8l0.6 -0.0M25.5 18.2l-0.1 0.5M25.0 17.5h0M19.9 24.3l-0.4 0.2M24.1 17.8l-0.1 1.0M12.4 8.5h0M7.8 19.1h0M21.6 24.9h0M13.0 23.7l-0.6 -0.4M10.9 24.4l-0.5 -0.4M29.2 9.7l-0.2 0.5M25.3 11.4l-0.6 0.9M23.6 17.0h0M23.1 25.2l-0.5 0.7M27.9 36.9h0M4.0 17.5h0M3.2 25.3h0" stroke="#38b048" stroke-width="0.8" opacity="0.75"/>
<path d="M27.2 19.6l-0.2 0.8M9.5 12.5l0.3 -0.4M24.0 22.7h0M21.6 9.6h0M8.3 13.0l0.3 -0.6M29.5 10.0l-0.0 1.1M26.8 4.1h0" stroke="#38b048" stroke-width="1"/>
<path d="M10.1 29.4l-0.7 -0.4M9.3 26.2l-0.5 -0.4M18.7 8.6h0M23.6 19.6h0M15.7 11.7h0M8.7 14.9l0.3 -0.7M17.6 11.8l0.7 0.2M20.8 23.7h0M26.4 13.6h0" stroke="#38b048" stroke-width="1" opacity="0.5"/>
<path d="M11.0 15.0h0M14.6 11.2l1.0 -0.2M8.9 26.0l-0.4 -0.3M13.5 22.2l-0.6 -0.5M7.8 11.4l0.6 -0.8M27.4 8.7l-0.1 0.5M27.2 11.1h0M25.4 10.5h0M27.7 6.2l-0.4 0.6" stroke="#1f7a2c" stroke-width="1" opacity="0.75"/>
<path d="M20.6 15.7l0.2 0.8M15.9 29.0l-0.7 -0.1" stroke="#5fd065" stroke-width="0.8" opacity="0.5"/>
<path d="M14.8 24.9h0M27.1 20.4l-0.1 0.5M15.1 20.8l-0.4 -0.2M10.3 25.4l-0.4 -0.3M25.9 13.8h0M16.7 8.8l0.8 0.1M29.3 2.1l-0.3 0.5M20.0 21.5l-0.5 0.3M23.7 16.0h0M23.2 25.4h0M25.9 31.1l-0.1 0.8M23.1 31.9l-0.6 0.1M22.4 28.1l-0.4 0.4M22.5 30.1l0.2 0.4M23.3 29.6h0M3.4 17.8h0M2.5 19.3h0" stroke="#38b048" stroke-width="0.8" opacity="0.5"/>
<path d="M14.5 3.6h0M28.1 20.1l-0.2 0.7M26.8 21.8h0M11.4 24.0h0M23.7 23.9l-0.6 0.6M21.7 17.0l-0.0 0.9M26.4 8.2l-0.0 0.8M22.6 18.6l0.3 0.9M21.2 17.3h0M30.2 28.2l-0.7 0.4M22.2 24.8h0M25.4 27.7l0.0 0.5M21.4 26.9h0M25.4 35.0l-0.5 0.5M2.3 15.3h0" stroke="#2b9a3a" stroke-width="0.8" opacity="0.75"/>
<path d="M22.6 20.8h0M20.7 28.5h0M6.4 12.4l0.4 -0.7M24.7 17.5l-0.0 0.8M15.9 9.2l0.9 -0.0M15.3 27.6h0M20.7 26.1l-0.8 0.4M22.3 10.4l0.4 0.3M9.5 23.0l-0.3 -0.5M11.7 19.5l-0.2 -0.7M19.6 23.0l-0.5 0.3M16.2 6.9l0.8 0.0M28.1 1.7l-0.6 0.9M29.2 3.6h0M22.5 19.3l-0.1 0.9M23.1 15.2l-0.2 0.9M25.2 16.5l-0.2 0.6" stroke="#38b048" stroke-width="1" opacity="0.75"/>
<path d="M9.7 12.7l0.5 -0.7M21.2 21.2h0M7.3 20.3l-0.1 -0.5M24.6 18.8h0M26.3 9.3l-0.4 0.6" stroke="#4cc457" stroke-width="0.8" opacity="0.75"/>
<path d="M15.9 19.8h0M21.4 21.0h0M23.0 25.5l-0.4 0.3M29.7 5.5l-0.7 0.4M27.8 11.9l-0.6 1.0" stroke="#5fd065" stroke-width="1" opacity="0.5"/>
<path d="M24.6 22.8l-0.5 0.7M31.0 6.4l-0.6 0.8M29.4 5.7l-0.4 0.2M22.2 17.5h0" stroke="#1f7a2c" stroke-width="0.8"/>
<path d="M12.2 22.9h0M24.6 6.6l-0.2 0.6M24.2 9.5h0M28.3 9.0l-0.7 0.7" stroke="#1f7a2c" stroke-width="1"/>
<path d="M17.2 8.3h0M26.2 18.8h0M28.2 7.5l-0.3 0.7" stroke="#1f7a2c" stroke-width="1" opacity="0.5"/>
<path d="M14.4 25.1h0M10.4 14.1l0.3 -0.4M24.9 17.1h0M22.9 17.0l0.0 0.7M27.8 7.4l-0.1 0.7M22.5 23.6h0M22.9 18.2l-0.5 0.6M22.9 16.8h0M21.8 21.6l-0.3 0.4M23.3 28.4h0M22.4 26.5h0M24.9 32.2l0.6 0.7M5.3 21.7h0" stroke="#1f7a2c" stroke-width="0.8" opacity="0.75"/>
<path d="M23.3 23.0l-0.4 0.5M26.9 7.8l-0.5 0.8M29.3 2.5h0" stroke="#2b9a3a" stroke-width="1"/>
<path d="M11.6 23.8h0M24.5 19.7l-0.3 0.9M9.5 14.2h0M17.4 26.4l-0.6 0.0M13.0 13.6l0.4 -0.4M28.8 9.6h0M30.2 5.7l-0.3 0.8M25.1 9.9l0.1 0.8" stroke="#2b9a3a" stroke-width="1" opacity="0.75"/>
<path d="M19.9 9.7l0.6 0.3M22.3 15.6l0.2 0.7" stroke="#5fd065" stroke-width="1"/>
<path d="M6.8 24.9l-0.5 -0.8M14.9 22.5l-0.5 -0.2M14.1 24.7l-0.5 -0.2M27.1 10.2l-0.2 0.5" stroke="#4cc457" stroke-width="1" opacity="0.5"/>
<path d="M20.4 10.4l0.6 0.4M10.7 25.0h0M26.8 6.0l-1.0 0.7" stroke="#5fd065" stroke-width="1" opacity="0.75"/>
<path d="M24.3 16.5l0.1 0.9M24.3 23.3h0M9.0 23.8l-0.5 -0.7M24.1 13.7l0.3 0.6" stroke="#5fd065" stroke-width="0.8" opacity="0.75"/>
<path d="M8.2 14.2l0.3 -0.6M8.4 21.4l-0.3 -0.7M22.2 14.3h0M27.3 12.0l-0.3 0.7M25.5 6.9l0.0 0.5M25.9 9.4l-0.2 0.5M25.0 11.4l-0.2 0.5M30.6 4.4l-0.3 0.6M23.9 14.6l0.0 1.0M24.7 20.0h0M23.8 16.7h0M27.6 27.0l-0.6 0.2M26.7 36.0h0M27.1 30.5h0M23.0 32.0h0M22.5 27.6h0M4.7 23.3h0M2.3 20.7h0" stroke="#1f7a2c" stroke-width="0.8" opacity="0.5"/>
<path d="M21.7 25.8l-0.5 0.3M20.3 22.5h0" stroke="#4cc457" stroke-width="0.8" opacity="0.5"/>
<path d="M22.1 24.9h0M22.8 22.1l-0.5 0.6M27.0 10.7l-0.8 0.4" stroke="#4cc457" stroke-width="0.8"/>
<path d="M7.7 20.4h0M28.7 7.7h0M26.6 12.2l-0.2 0.4" stroke="#2b9a3a" stroke-width="0.8"/>
<path d="M19.1 9.7h0M29.3 10.5l-0.5 1.1M25.7 10.5l-0.4 0.6" stroke="#4cc457" stroke-width="1" opacity="0.75"/>
<path d="M15.2 8.0l0.7 -0.1M27.3 12.6l-0.6 0.7" stroke="#5fd065" stroke-width="0.8"/>
<path d="M13.1 10.7l0.5 -0.2" stroke="#4cc457" stroke-width="1"/>
<path d="M27.6 5.3l-0.3 0.3M28.8 8.5l0.4 0.9M28.2 14.2h0" stroke="#2b9a3a" stroke-width="1.2" opacity="0.75"/>
<path d="M28.7 6.8l-0.7 0.5" stroke="#4cc457" stroke-width="1.2" opacity="0.75"/>
<path d="M25.0 9.9l-0.0 0.8M29.7 4.7h0" stroke="#38b048" stroke-width="1.2" opacity="0.5"/>
<path d="M27.5 9.8h0" stroke="#2b9a3a" stroke-width="1.2"/>
<path d="M26.7 11.2l-0.2 1.1" stroke="#1f7a2c" stroke-width="1.2" opacity="0.5"/>
<path d="M25.4 7.7l-0.6 0.4" stroke="#1f7a2c" stroke-width="1.2" opacity="0.75"/>
<path d="M26.5 6.5l-0.1 0.6" stroke="#38b048" stroke-width="1.2" opacity="0.75"/>
<path d="M26.1 12.9l-0.2 0.5" stroke="#1f7a2c" stroke-width="1.2"/>
<path d="M24.0 13.2l0.0 0.7" stroke="#38b048" stroke-width="1.2"/>
<path d="M26.3 29.3h0M7.4 21.5h0M4.4 22.5h0" stroke="#1f7a2c" stroke-width="0.6" opacity="0.75"/>
<path d="M26.6 36.5h0" stroke="#38b048" stroke-width="0.6" opacity="0.5"/>
<path d="M22.7 27.1h0M22.4 27.6h0M25.7 27.0h0" stroke="#2b9a3a" stroke-width="0.6" opacity="0.75"/>
<path d="M20.2 25.3h0M22.4 26.5h0M32.6 12.4h0M33.6 33.9h0M34.8 3.2h0M32.7 36.4h0M20.4 29.5h0M19.3 34.5h0M36.7 9.6h0M36.9 29.0h0" stroke="#2b9a3a" stroke-width="0.6" opacity="0.5"/>
<path d="M18.6 32.5h0M6.1 21.2h0M4.8 11.2h0M3.3 15.9h0M12.2 19.5h0M38.2 35.8h0M21.6 35.9h0M37.9 3.9h0" stroke="#1f7a2c" stroke-width="0.6" opacity="0.5"/>
<path d="M7.4 19.8h0M4.7 9.5h0" stroke="#38b048" stroke-width="0.6" opacity="0.75"/>
<path d="M10.6 6.0h0M4.2 23.0h0M24.5 32.6h0" stroke="#17601f" stroke-width="0.6" opacity="0.25"/>
<path d="M15.5 27.5h0M36.1 37.5h0M34.4 21.7h0M28.0 25.1h0M24.0 24.8h0M35.3 36.6h0M33.7 35.9h0" stroke="#17601f" stroke-width="0.6" opacity="0.5"/>
<path d="M13.3 13.0h0M24.1 18.9h0M20.2 22.4h0M7.9 33.2h0" stroke="#1f7a2c" stroke-width="0.6" opacity="0.25"/>
<path d="M35.9 27.8h0M24.5 15.4h0M11.0 28.4h0M2.8 23.0h0" stroke="#2b9a3a" stroke-width="0.6" opacity="0.25"/>
</g>
<rect x="18.3" y="24.9" width="12.9" height="13.5" fill="none" stroke="#f6f6f6" stroke-width="1.25" stroke-dasharray="1.9 1.2"/>
<text x="29.6" y="22.6" font-size="6.4" fill="#fff">b</text>
<text x="37.0" y="35.2" font-size="4.4" text-anchor="end" fill="#fff">3µm</text>
<rect x="31.0" y="36.0" width="6.0" height="0.7" fill="#fff"/>
</svg>
<svg x="189.50" y="289.10" width="38.6" height="38.6" viewBox="0 0 38.6 38.6">
<rect width="38.6" height="38.6" fill="#cfcfcf"/>
<g fill="none" stroke-linecap="round" stroke-linejoin="round" filter="url(#b2)">
<path d="M12.0 11.8l0.6 -0.4M25.5 14.3l0.3 0.6M25.8 13.3l0.3 0.5M25.1 8.5l0.8 0.7M20.8 22.9l-0.5 0.4M25.6 13.2l0.4 0.8M21.9 24.1l-0.7 0.6M22.4 16.9l0.2 1.1M15.9 27.0l-0.9 -0.1M14.7 7.8l1.0 -0.1M25.9 18.2l-0.0 1.0M12.3 27.3l-0.8 -0.4M21.4 26.6l-1.1 0.5M19.0 9.0l1.2 0.4M11.3 26.4l-0.5 -0.4M30.6 12.0l0.4 0.4M25.6 9.2l0.3 -1.2M26.2 14.8h0M27.6 5.5l0.3 -0.4M25.8 10.4l-0.1 -0.6M25.0 14.6l0.2 -0.4M27.7 2.0l1.0 -0.6M26.7 11.3l0.3 -0.9M26.9 31.9l0.0 0.9M24.6 30.0h0M21.4 28.0l0.6 0.9M26.2 34.2l0.3 0.8" stroke="#2b2f9a" stroke-width="0.8"/>
<path d="M25.4 11.5l0.4 0.5M27.8 16.9l0.1 0.7M17.4 7.6l0.7 0.1M10.0 26.0l-0.4 -0.4M16.7 29.5l-0.9 -0.0M11.1 22.2h0M20.4 28.7h0M26.7 6.0l0.6 -0.4" stroke="#25288a" stroke-width="1" opacity="0.75"/>
<path d="M26.3 21.9l-0.4 1.0M19.9 24.0l-0.8 0.4M25.9 17.4l0.0 0.6M11.3 24.6h0M13.5 8.6h0M26.5 17.3l0.1 0.7M16.9 9.0h0M25.0 14.5l0.2 0.5M18.0 27.3l-0.6 0.1M19.6 23.9l-0.9 0.4M29.8 9.8l-0.0 0.7M25.4 8.0h0M25.7 8.6l0.2 -0.6M24.4 28.2l0.2 0.8" stroke="#43268f" stroke-width="0.8"/>
<path d="M17.8 25.6l-0.8 0.1M23.1 14.7l0.4 0.7M24.5 14.4l0.5 1.0M21.9 15.4l0.4 0.8M26.0 8.8h0M27.2 7.7l0.5 -1.0M2.2 12.7h0M7.8 12.4l0.7 0.6M8.1 14.0h0M7.6 11.4h0" stroke="#25288a" stroke-width="0.8"/>
<path d="M27.6 14.8l0.3 1.1M23.2 14.8l0.2 0.5M17.7 25.9l-0.5 0.0M16.9 9.5l0.6 0.0M10.5 10.7l0.5 -0.4M19.2 10.0l1.1 0.4M9.6 24.1l-0.6 -0.8M17.6 27.4h0M20.7 11.7l0.8 0.5M9.4 18.6l0.0 -0.6M13.1 25.6l-0.7 -0.4" stroke="#25288a" stroke-width="1"/>
<path d="M22.0 26.9l-0.6 0.3M20.4 25.5l-1.0 0.4M13.8 10.3h0M17.0 25.2l-1.3 -0.1M11.9 26.2h0M9.0 9.1l0.5 -0.4M11.0 26.7l-0.4 -0.3M15.2 23.2l-0.5 -0.2M19.3 11.0h0M20.7 23.7l-0.5 0.4M7.0 22.2h0M8.8 19.9l-0.1 -0.6M21.0 25.4l-1.1 0.5M26.5 16.4h0M24.6 16.0l0.2 0.8M16.8 10.4l1.3 0.1M31.6 11.3l-0.9 0.3M30.4 7.6l-0.6 0.3M23.7 13.0h0M24.6 10.0l0.0 -0.6M28.4 4.3l0.4 -0.8M25.3 29.9l0.1 0.4" stroke="#2b2f9a" stroke-width="1" opacity="0.75"/>
<path d="M10.0 12.1l0.7 -0.7M21.6 13.8l0.8 1.0M21.2 19.2l-0.1 0.5M22.0 8.5l1.0 0.6M8.3 12.7l0.6 -0.8M25.5 11.2l0.3 0.5M31.7 15.5h0M10.8 26.0l-0.5 -0.4M6.5 14.1l0.2 -0.5M27.2 8.2l0.4 0.4M29.1 9.2l0.6 0.2M27.6 2.0l0.5 -0.7M24.4 10.3h0M27.4 33.5l-0.1 0.9M27.2 36.9h0M25.8 36.4h0M26.0 37.3h0M5.3 10.9h0M6.5 11.9l0.7 0.7M7.3 9.3l0.7 0.6M10.0 15.6l0.3 0.4M12.0 20.9l-0.2 0.7" stroke="#43268f" stroke-width="0.8" opacity="0.75"/>
<path d="M25.3 20.8l-0.2 0.7M13.7 30.2l-0.7 -0.2M19.3 27.4h0M22.8 14.6l0.4 0.6M16.9 30.3l-0.9 -0.0M15.8 6.3h0M28.0 3.7l-0.8 0.6M29.1 12.0l1.0 0.3M28.0 7.9l-0.2 0.5M31.2 12.5l-0.3 0.9M28.2 13.6l0.2 0.9M28.3 8.6h0M23.2 14.6h0M27.4 4.7l0.9 0.4" stroke="#2b2f9a" stroke-width="1"/>
<path d="M26.0 19.1l-0.1 0.8M26.6 24.3l-0.3 0.5M23.9 12.3l0.6 0.8M21.5 9.6l1.0 0.6M21.3 26.6l-0.5 0.3M5.2 21.7l-0.3 -1.1M8.7 19.3h0M23.5 22.7h0M18.8 25.8l-0.6 0.1M21.0 23.9l-0.9 0.6M18.1 28.0h0M25.2 15.3l0.3 1.0M21.9 14.0l0.6 0.8M17.4 25.8l-1.1 0.0M24.0 25.1l-0.9 0.9M23.0 17.2l0.1 0.8M8.1 14.3l0.3 -0.5M27.0 13.6l0.4 1.0M30.0 19.3l-0.7 0.4M24.4 13.0l0.4 -0.7M23.7 34.1h0" stroke="#43268f" stroke-width="1" opacity="0.75"/>
<path d="M15.7 25.8l-0.8 -0.2M17.2 10.2h0M19.9 8.0l0.7 0.3M25.0 16.1l0.2 1.1M7.9 23.6h0M10.0 15.9l0.4 -0.8M14.6 8.6l0.8 -0.1M27.6 9.1h0M24.8 10.0l0.3 1.2M25.2 5.5l0.4 0.6M33.2 16.5l0.0 0.6M30.0 7.2l0.8 0.7M25.9 11.9l0.9 0.8M28.1 11.6l0.3 -1.0M31.0 3.2h0M26.6 6.6l0.2 -0.8" stroke="#2f55c4" stroke-width="1" opacity="0.75"/>
<path d="M22.1 21.2l-0.6 1.0M7.4 9.1l0.7 -0.7M17.2 8.7l0.7 0.1M21.8 8.4h0M24.7 18.9l-0.2 1.2M25.0 18.4l-0.1 0.9M24.4 26.0l-0.9 0.8M17.5 27.8l-0.9 0.0M8.8 12.5l0.4 -0.5M26.8 4.3l0.4 -0.4M23.6 13.4l0.2 -0.4M26.5 6.1h0M4.4 14.9l0.9 0.0" stroke="#25288a" stroke-width="0.8" opacity="0.75"/>
<path d="M22.1 9.5l0.8 0.5M19.9 23.3l-0.7 0.4M14.1 8.3l1.1 -0.2M14.0 27.9h0M9.2 10.3l0.9 -0.8M25.5 21.6l-0.4 0.9M29.0 0.9l0.7 -0.6M28.8 0.2l0.2 -1.0M26.6 11.1l-0.0 -0.8M24.1 9.4l0.2 -0.5M29.7 1.9l0.8 -0.6M24.4 29.0l0.1 0.5M27.3 32.8l0.4 1.0M9.1 13.1l0.3 0.6M10.5 15.4l0.6 0.7M9.6 14.2l0.5 0.2" stroke="#2b2f9a" stroke-width="0.8" opacity="0.75"/>
<path d="M27.3 11.2h0M6.1 15.4l0.2 -0.7M28.4 18.4l-0.0 0.7M18.2 11.9l1.2 0.4M30.8 8.8l0.5 0.2" stroke="#2f55c4" stroke-width="0.8" opacity="0.75"/>
<path d="M11.4 10.7h0M7.2 18.2l0.1 -1.2M22.9 15.4h0M24.2 18.6h0M27.1 15.3l0.3 1.0M10.6 24.4l-0.4 -0.4M31.9 2.6l0.2 0.7M23.0 8.4h0M26.8 15.3l-0.3 0.5M31.3 14.3l-0.8 0.1M26.0 7.2l0.2 -0.8M23.9 27.0l0.4 0.7" stroke="#43268f" stroke-width="1"/>
<path d="M23.1 26.9h0M28.1 9.9l1.0 0.2M26.6 6.3l0.0 1.1M27.7 4.2l0.2 1.1M22.6 13.2h0M9.7 16.5h0" stroke="#2f55c4" stroke-width="0.8"/>
<path d="M6.1 24.1l-0.4 -0.8M30.5 8.2l0.1 0.7M24.0 5.9l0.1 0.9M26.0 6.5l-1.1 0.0M25.3 7.5l-0.6 0.1M26.5 12.6l-0.4 0.7M27.0 5.5l0.5 0.4M25.2 5.2l1.1 0.6M23.1 3.0h0" stroke="#2f55c4" stroke-width="1"/>
<path d="M27.8 3.3l1.0 0.3M33.4 7.9h0M28.9 7.3l-0.2 0.4M27.0 13.5l-1.0 0.2M30.6 3.7l-1.0 0.1M10.2 18.9l0.1 0.5M5.5 17.4h0M6.4 17.2l0.5 0.8M6.6 17.0l0.7 0.2M19.7 25.8l-0.9 0.1M16.4 22.0l-0.0 0.7M20.0 24.7l-0.9 0.1M17.2 25.3h0M20.4 24.6l0.4 0.6M19.6 28.6l0.8 0.1M25.5 37.3h0" stroke="#2fae9e" stroke-width="1"/>
<path d="M24.4 7.6l-0.3 1.1M30.5 10.3l0.7 1.0M26.4 8.4l-0.5 0.9M28.9 8.7l0.4 0.9M19.5 23.7h0M21.9 27.5l0.0 0.8M21.5 31.0l0.1 0.4" stroke="#3c8ed2" stroke-width="1"/>
<path d="M31.0 2.4l1.0 0.0" stroke="#2fae9e" stroke-width="0.8" opacity="0.75"/>
<path d="M30.4 6.2l0.0 0.6M20.5 24.8h0M19.1 26.5l-0.5 0.0M19.1 23.4l0.6 0.0M25.7 32.5l0.2 0.8" stroke="#2fae9e" stroke-width="0.8"/>
<path d="M28.9 4.4l-0.4 1.1M29.6 12.6l0.5 0.6" stroke="#3c8ed2" stroke-width="1" opacity="0.75"/>
<path d="M26.5 5.7l0.9 0.1M26.6 13.4l-0.5 0.1M20.8 24.0l-0.5 0.8M25.0 29.3l0.4 0.3M26.5 33.2l-0.4 1.0M21.8 29.3l0.5 1.0M26.9 36.5h0" stroke="#3c8ed2" stroke-width="0.8"/>
<path d="M29.0 7.5l-0.6 0.3M24.8 8.9l0.0 1.1M19.7 24.8h0M25.2 37.5h0M25.7 34.4l0.2 0.7" stroke="#2fae9e" stroke-width="1" opacity="0.75"/>
<path d="M7.2 17.5l0.5 0.3" stroke="#2fae9e" stroke-width="1.2"/>
<path d="M8.8 18.4l-0.7 0.1M7.0 17.6l0.5 0.6M7.6 16.4l-0.0 0.8" stroke="#69c243" stroke-width="1"/>
<path d="M7.9 17.4h0" stroke="#b9d63a" stroke-width="1"/>
<path d="M26.5 35.5h0M24.7 32.4h0" stroke="#3c8ed2" stroke-width="0.8" opacity="0.75"/>
<path d="M2.9 8.7h0M3.2 10.8l0.7 0.6" stroke="#25288a" stroke-width="0.6" opacity="0.75"/>
<path d="M4.8 14.1l0.4 0.2M17.6 19.2h0M11.1 19.0l0.6 0.6M13.6 18.2l0.6 0.3M18.0 13.7h0M15.1 18.7l0.6 0.3" stroke="#43268f" stroke-width="0.6" opacity="0.75"/>
<path d="M7.7 12.3l0.5 0.6M10.1 14.0h0" stroke="#2b2f9a" stroke-width="0.6" opacity="0.75"/>
<path d="M10.0 15.6l0.4 0.4M2.4 10.1l0.5 0.3" stroke="#2b2f9a" stroke-width="0.6"/>
<path d="M12.7 20.7l-0.4 0.6M13.5 18.2h0M12.0 19.1l0.5 0.2" stroke="#6a48b0" stroke-width="0.6" opacity="0.75"/>
<path d="M18.4 20.2h0M11.6 13.8h0M8.7 14.5h0" stroke="#6a48b0" stroke-width="0.6" opacity="0.5"/>
<path d="M8.3 18.0h0M15.6 24.3h0M11.2 10.5h0" stroke="#43268f" stroke-width="0.6" opacity="0.5"/>
<path d="M16.3 12.8h0" stroke="#6a48b0" stroke-width="0.8" opacity="0.5"/>
</g>
<text x="37.0" y="35.2" font-size="4.4" text-anchor="end" fill="#333">3µm</text>
<rect x="31.0" y="36.0" width="6.0" height="0.7" fill="#333"/>
</svg>
<svg x="229.50" y="289.10" width="38.6" height="38.6" viewBox="0 0 38.6 38.6">
<rect width="38.6" height="38.6" fill="#000"/>
<g fill="none" stroke-linecap="round" stroke-linejoin="round" filter="url(#b3)">
<path d="M5.1 15.2l2.4 0.8M15.2 25.5l-2.3 1.5M29.0 0.2l-1.4 1.5M21.2 32.1l-0.1 1.2M22.7 9.3l-1.4 1.3" stroke="#2b9a3a" stroke-width="1.6"/>
<path d="M13.2 14.8l1.8 0.1M17.3 16.7l-2.1 1.0M12.9 21.1l-1.0 0.7M-0.5 28.1l2.0 0.3M3.3 25.7l-0.5 0.9M13.4 19.4l-1.6 0.8M20.7 11.3l-1.0 0.8" stroke="#38b048" stroke-width="1.6" opacity="0.75"/>
<path d="M16.1 9.8l-2.5 1.2M15.2 36.0l-1.1 1.0M33.6 5.5l-1.9 0.4M30.5 -1.4l-0.0 1.1" stroke="#2b9a3a" stroke-width="1.4"/>
<path d="M19.4 19.5l-1.3 2.4M11.2 17.1l-2.2 1.1M15.0 21.5l0.7 1.5M33.9 7.3l-0.1 2.6" stroke="#38b048" stroke-width="1.4" opacity="0.75"/>
<path d="M12.9 28.4l-1.6 1.9" stroke="#5fd065" stroke-width="1.4" opacity="0.75"/>
<path d="M17.6 27.1l-1.6 1.6" stroke="#4cc457" stroke-width="2"/>
<path d="M24.8 25.7l0.6 1.9M17.6 17.9l2.1 1.7M8.7 17.3l0.7 0.9M14.7 17.6l0.1 1.1M3.1 16.6l-1.5 0.5" stroke="#38b048" stroke-width="1.6"/>
<path d="M10.8 17.3l-0.2 2.1M18.7 18.3l-1.6 1.5M11.2 18.3l0.5 1.5M13.6 28.6l-1.3 2.1M29.3 6.1l-1.1 1.5M35.5 20.6l1.3 1.7M26.1 1.6l-2.1 0.6" stroke="#2b9a3a" stroke-width="1.4" opacity="0.75"/>
<path d="M12.4 18.2l0.5 1.1M22.2 30.2l1.3 0.9" stroke="#4cc457" stroke-width="1.4" opacity="0.75"/>
<path d="M11.8 33.7l0.8 2.4M23.9 30.2l0.4 1.9M37.4 6.5l-1.5 0.5M40.1 12.9l1.5 0.5" stroke="#38b048" stroke-width="1.8" opacity="0.75"/>
<path d="M13.5 24.5l-2.0 1.3M20.9 20.1l-2.0 1.1M27.2 32.6l-2.4 0.1" stroke="#38b048" stroke-width="1.8"/>
<path d="M22.4 22.0l-1.1 0.8" stroke="#5fd065" stroke-width="1.6"/>
<path d="M3.5 25.0l1.6 0.9M8.0 11.1l1.5 2.2M10.1 38.5l-1.0 1.0M13.9 36.0l-1.7 0.6" stroke="#2b9a3a" stroke-width="1.8" opacity="0.75"/>
<path d="M21.7 20.4l-0.5 1.7M24.0 23.5l-1.9 0.0M17.4 26.4l-2.0 0.4M21.4 22.1l-0.3 2.5" stroke="#4cc457" stroke-width="1.4"/>
<path d="M10.5 16.5l-0.1 2.5M17.5 12.1l-2.0 1.7M34.8 21.3l-0.5 2.3" stroke="#2b9a3a" stroke-width="1.6" opacity="0.75"/>
<path d="M19.0 28.3l-1.2 0.8M27.7 20.9l2.0 1.8" stroke="#2b9a3a" stroke-width="1.8"/>
<path d="M18.1 20.1l1.9 1.0" stroke="#2b9a3a" stroke-width="2"/>
<path d="M8.6 26.3l0.8 2.2M11.8 9.3l2.2 1.3M33.0 3.7l0.8 2.7" stroke="#38b048" stroke-width="1.4"/>
<path d="M16.6 30.0l-2.0 1.6M37.5 6.6l0.4 2.4" stroke="#5fd065" stroke-width="1.8" opacity="0.75"/>
<path d="M29.4 37.3l2.0 1.6M34.9 14.2l-0.5 2.6" stroke="#4cc457" stroke-width="1.8" opacity="0.75"/>
<path d="M21.4 28.5l-1.7 1.3" stroke="#4cc457" stroke-width="1.6" opacity="0.75"/>
<path d="M4.6 36.3l-0.1 1.4" stroke="#5fd065" stroke-width="1.6" opacity="0.75"/>
<path d="M8.9 11.7l-1.1 0.3M2.1 33.2l-2.0 0.7" stroke="#5fd065" stroke-width="2"/>
<path d="M23.3 6.8l0.3 1.7M34.0 4.5l-0.8 0.6" stroke="#4cc457" stroke-width="1.8"/>
<path d="M5.5 10.3l1.8 1.5" stroke="#5fd065" stroke-width="1.8"/>
<path d="M22.4 36.0l-1.8 0.0" stroke="#4cc457" stroke-width="2" opacity="0.75"/>
<path d="M26.3 19.8l2.3 0.1" stroke="#4cc457" stroke-width="1.6"/>
<path d="M27.6 5.7l1.5 0.4" stroke="#5fd065" stroke-width="1.4"/>
<path d="M34.3 8.8l-2.6 0.7" stroke="#2b9a3a" stroke-width="2" opacity="0.75"/>
</g>
<path transform="translate(25.4 18.0)" d="M-0.3 -0.3 L6.6 3.0 L3.5 3.9 L2.7 6.7 Z" fill="#d41d4c"/>
<path transform="translate(15.4 30.2)" d="M-0.3 -0.3 L6.6 3.0 L3.5 3.9 L2.7 6.7 Z" fill="#d41d4c"/>
<text x="1.8" y="5.4" font-size="5.6" fill="#fff">b</text>
<text x="37.0" y="35.2" font-size="4.4" text-anchor="end" fill="#fff">2µm</text>
<rect x="31.0" y="36.0" width="6.0" height="0.7" fill="#fff"/>
</svg>
<svg x="269.80" y="289.10" width="38.6" height="38.6" viewBox="0 0 38.6 38.6">
<rect width="38.6" height="38.6" fill="#cfcfcf"/>
<g fill="none" stroke-linecap="round" stroke-linejoin="round" filter="url(#b3)">
<path d="M2.7 30.3l-0.1 1.1M24.2 26.0l0.0 1.2M24.7 28.5l-0.2 1.4" stroke="#2f3bb0" stroke-width="2.2"/>
<path d="M23.6 36.2l1.7 1.8M20.4 25.9l-0.3 2.4M33.7 37.0l1.2 0.6M17.5 22.5l-2.5 0.6M24.2 15.4l-1.1 1.1M26.7 17.9l1.4 1.2M12.8 16.3l-0.3 2.7M0.8 20.7l1.5 2.0" stroke="#2a2380" stroke-width="1.8"/>
<path d="M10.6 27.1l1.0 2.2M20.6 28.4l0.9 1.6M18.3 13.5l-0.8 2.1" stroke="#25288a" stroke-width="2"/>
<path d="M31.3 23.5l-2.3 0.6M10.3 18.6l-0.2 1.6M18.6 13.9l0.7 1.5M19.5 18.8l-1.6 1.0M6.3 15.6l2.1 0.1M10.1 20.7l1.0 2.1M35.9 16.0l-1.2 1.1M24.5 14.4l0.7 2.2" stroke="#2a2380" stroke-width="2"/>
<path d="M33.4 3.5l-2.4 0.4M12.4 15.0l1.3 2.2M22.5 5.5l-1.1 2.3M9.1 25.6l-0.7 2.5M13.7 23.5l2.5 0.5" stroke="#25288a" stroke-width="2.2"/>
<path d="M18.6 5.5l2.1 1.1M1.2 28.3l0.6 1.1M33.4 4.7l-0.9 2.0M18.7 27.4l-0.6 2.0M12.7 12.8l-0.1 1.8" stroke="#2a2380" stroke-width="1.6"/>
<path d="M22.3 19.8l-1.6 1.7M31.7 1.9l-2.2 0.8" stroke="#2b2f9a" stroke-width="1.6"/>
<path d="M30.1 33.6l0.0 1.1M10.9 11.3l0.3 1.3M26.9 33.7l-0.3 2.6M27.6 19.5l-1.2 0.8" stroke="#2f3bb0" stroke-width="1.8"/>
<path d="M32.0 29.4l2.7 0.4M33.1 27.0l0.6 1.8M11.2 16.7l2.0 1.3M19.5 22.8l-0.3 1.9M29.0 21.6l0.2 1.0M18.6 18.6l1.5 0.5M14.1 23.0l0.4 2.2" stroke="#2b2f9a" stroke-width="2.2"/>
<path d="M10.3 21.9l-0.8 1.0M16.9 28.9l-1.1 1.4M22.6 33.5l0.1 1.2M5.9 13.6l-0.9 1.7M18.7 28.6l1.1 2.5M14.2 23.6l1.8 0.2M10.9 15.8l-1.0 1.6" stroke="#2b2f9a" stroke-width="1.8"/>
<path d="M29.7 6.5l-2.2 0.3M16.5 2.5l-0.0 2.7M35.8 8.4l0.1 1.0M18.6 10.7l-2.1 1.4" stroke="#2f3bb0" stroke-width="1.6"/>
<path d="M12.3 31.2l-1.5 0.7M7.8 35.9l0.9 1.7M24.6 7.7l-0.3 1.0M14.6 -6.9l1.7 2.2M-0.4 10.9l-0.2 2.5" stroke="#2a2380" stroke-width="2.2"/>
<path d="M30.0 17.2l2.5 0.5M26.4 6.2l-0.1 2.7M26.6 21.9l-1.2 0.7M14.9 21.5l-2.6 0.6" stroke="#2b2f9a" stroke-width="2"/>
<path d="M26.3 23.9l-2.3 0.0M18.6 22.4l1.6 1.2M27.6 5.1l-0.9 1.5M11.0 26.2l1.3 1.5" stroke="#2f3bb0" stroke-width="2"/>
<path d="M26.1 13.8l2.1 1.6M28.7 28.0l0.8 0.8M23.1 39.6l-0.3 1.0" stroke="#25288a" stroke-width="1.6"/>
<path d="M21.6 22.5l-1.6 0.7M25.6 16.5l1.6 1.4" stroke="#25288a" stroke-width="1.8"/>
<path d="M14.4 14.2l-1.0 1.7M12.7 12.7l-1.0 0.9M11.9 13.5l0.0 1.2M16.9 24.0l0.5 1.6" stroke="#35b58a" stroke-width="2"/>
<path d="M12.4 19.2l-1.3 0.4M12.4 17.5l-0.0 1.3" stroke="#3c8ed2" stroke-width="2.2"/>
<path d="M11.4 11.1l1.1 0.5M8.8 14.9l1.2 0.2" stroke="#2fae9e" stroke-width="2.2"/>
<path d="M12.5 15.0l-1.4 1.2M23.4 14.0l-1.3 1.5" stroke="#3c8ed2" stroke-width="1.8"/>
<path d="M11.5 15.2l2.0 0.4" stroke="#2f9fb0" stroke-width="1.8"/>
<path d="M16.2 25.4l1.3 1.2" stroke="#35b58a" stroke-width="1.8"/>
<path d="M18.9 23.5l-0.4 1.8" stroke="#35b58a" stroke-width="2.2"/>
<path d="M17.1 25.5l-2.2 0.4" stroke="#2fae9e" stroke-width="2"/>
<path d="M18.5 26.7l-1.1 0.7" stroke="#2fae9e" stroke-width="1.8"/>
<path d="M23.7 6.2l0.6 1.4M22.2 7.8l0.9 1.8M23.1 19.3l1.2 1.1M20.4 17.4l2.0 0.4M24.3 18.6l-1.0 0.2" stroke="#2f55c4" stroke-width="1.8"/>
<path d="M24.8 9.8l-1.6 0.1" stroke="#2f55c4" stroke-width="2"/>
<path d="M23.2 12.5l0.8 0.9M24.4 9.1l0.4 1.4" stroke="#3c8ed2" stroke-width="1.6"/>
<path d="M20.7 13.4l0.2 2.2" stroke="#2f55c4" stroke-width="1.6"/>
</g>
<text x="1.8" y="5.4" font-size="5.6" fill="#333">b</text>
<text x="37.0" y="35.2" font-size="4.4" text-anchor="end" fill="#333">2µm</text>
<rect x="31.0" y="36.0" width="6.0" height="0.7" fill="#333"/>
</svg>
<svg x="149.30" y="329.10" width="38.6" height="38.6" viewBox="0 0 38.6 38.6">
<rect width="38.6" height="38.6" fill="#000"/>
<g fill="none" stroke-linecap="round" stroke-linejoin="round" filter="url(#b2)">
<path d="M17.1 23.0l0.4 0.3M6.6 26.8l-0.3 0.5M17.7 22.3h0M5.0 24.9h0M14.5 27.9h0M7.1 26.3l0.2 0.5M15.4 18.3h0M5.3 26.9l-0.1 0.6M17.2 27.6h0M18.2 30.5h0M6.7 22.7h0M5.7 22.0l0.4 0.5M5.2 24.1l-0.7 0.4" stroke="#38b048" stroke-width="0.8" opacity="0.75"/>
<path d="M8.5 18.9l0.5 0.2M1.0 27.1h0M11.6 28.0l0.5 0.1M8.8 31.9h0M12.8 24.3l0.6 0.5M18.1 19.4l-0.3 0.6M14.9 26.9h0M4.6 33.9h0M9.0 28.8l0.5 0.2M8.2 18.8h0M27.4 12.6h0M21.0 6.8l0.3 0.5M33.1 12.4h0" stroke="#38b048" stroke-width="0.8" opacity="0.5"/>
<path d="M-1.9 22.3h0M10.7 26.0l0.2 0.5M13.5 14.8h0M14.8 34.4h0M5.4 31.2h0M4.2 29.9h0M17.5 29.1h0M13.3 23.9h0M3.8 8.5h0M3.9 11.9h0M26.0 8.9h0M22.6 12.0h0" stroke="#1f7a2c" stroke-width="0.8" opacity="0.5"/>
<path d="M14.4 27.6l-0.2 0.6M14.6 25.2l-0.7 0.4M11.0 28.2l0.5 0.5M10.5 24.2h0" stroke="#38b048" stroke-width="0.6" opacity="0.5"/>
<path d="M-3.9 27.1h0M10.5 17.8h0M11.1 31.6h0M5.2 27.0l0.0 0.6M10.8 18.9h0M11.8 29.6h0M13.9 27.9h0M8.2 21.6h0M12.3 20.1h0M4.2 28.7h0M2.1 8.9h0M35.1 18.5h0M32.4 13.2h0" stroke="#2b9a3a" stroke-width="0.8" opacity="0.75"/>
<path d="M16.3 19.0l0.2 0.5M8.2 29.9h0M14.4 30.0l0.5 0.3M6.3 23.0h0M12.0 27.5l0.1 0.6M13.9 22.9h0M13.7 22.3l0.5 0.4M32.4 19.1l0.2 0.5" stroke="#2b9a3a" stroke-width="0.6" opacity="0.75"/>
<path d="M9.0 25.5h0M10.6 24.7h0M7.3 27.8l0.7 0.1M8.9 6.7h0M29.0 7.3h0M33.7 17.3h0M22.0 6.7h0" stroke="#1f7a2c" stroke-width="0.6" opacity="0.75"/>
<path d="M16.9 24.6l-0.0 0.6M6.5 22.1l0.7 0.1M10.1 28.9h0M10.5 12.6l-0.5 0.4M19.7 31.8h0M11.5 11.6h0M3.2 12.4h0M3.3 15.3h0M21.1 7.0h0M31.8 13.5h0" stroke="#2b9a3a" stroke-width="0.8" opacity="0.5"/>
<path d="M6.0 30.7h0M5.2 27.7l-0.5 0.1M6.4 25.1l0.7 0.3M9.0 6.1h0M7.5 10.0h0M32.1 13.2h0M6.8 37.4h0M2.5 20.1h0M23.7 14.9h0" stroke="#1f7a2c" stroke-width="0.6" opacity="0.5"/>
<path d="M8.5 23.6h0M2.6 24.9h0M5.6 26.8l-0.2 0.7M2.9 25.7h0M3.8 25.7h0M11.4 24.9h0M11.8 24.3l0.5 0.1M9.5 28.6h0M10.5 27.7h0M27.7 8.1h0M21.4 4.2l0.3 0.4M27.4 4.8l0.4 0.6" stroke="#1f7a2c" stroke-width="0.8" opacity="0.75"/>
<path d="M17.3 21.5h0M13.7 25.1h0" stroke="#38b048" stroke-width="0.8"/>
<path d="M9.1 24.2l0.6 0.1" stroke="#2b9a3a" stroke-width="0.6"/>
<path d="M8.7 23.0h0M14.4 19.9h0" stroke="#2b9a3a" stroke-width="0.8"/>
<path d="M14.1 25.5h0M4.8 21.2l0.3 0.4M19.5 16.2h0M6.0 30.5l-0.2 0.5M9.4 23.8l0.4 0.6M-2.3 5.6h0M3.0 4.4h0M34.1 17.0l0.3 0.7M0.5 15.5h0M8.3 15.0h0M11.1 21.2h0M26.2 2.3h0M11.0 30.6h0" stroke="#2b9a3a" stroke-width="0.6" opacity="0.5"/>
<path d="M13.5 27.6h0M9.8 25.0l-0.4 0.5M13.1 24.2l0.5 0.5M22.3 6.5l0.5 0.5M33.3 12.3l0.4 0.3M36.9 13.7l0.6 0.2M32.4 16.6l0.4 0.5" stroke="#38b048" stroke-width="0.6" opacity="0.75"/>
<path d="M9.1 7.1h0M0.6 13.1h0M8.7 8.9h0M2.5 4.9h0M38.4 19.2h0M2.4 12.0h0M25.7 9.0h0" stroke="#17601f" stroke-width="0.6" opacity="0.5"/>
<path d="M9.3 9.1h0" stroke="#17601f" stroke-width="0.6" opacity="0.75"/>
<path d="M6.8 15.7h0" stroke="#17601f" stroke-width="0.8" opacity="0.5"/>
<path d="M21.2 3.9l0.2 0.5M27.7 11.6h0" stroke="#1f7a2c" stroke-width="0.8"/>
<path d="M13.4 15.2h0M13.8 34.5h0M33.9 4.9h0M17.3 32.2h0M26.0 3.7h0M9.6 34.9h0M22.5 26.8h0" stroke="#17601f" stroke-width="0.6" opacity="0.25"/>
<path d="M15.6 22.1h0M12.7 8.6h0M26.0 20.1h0" stroke="#1f7a2c" stroke-width="0.6" opacity="0.25"/>
<path d="M0.4 36.0h0M25.1 25.6h0M33.1 4.9h0M7.4 6.4h0" stroke="#2b9a3a" stroke-width="0.6" opacity="0.25"/>
</g>
<rect x="4.8" y="18.1" width="14.2" height="13.9" fill="none" stroke="#f6f6f6" stroke-width="1.25" stroke-dasharray="1.9 1.2"/>
<text x="12.6" y="16.8" font-size="6.4" fill="#fff">c</text>
<text x="37.0" y="35.2" font-size="4.4" text-anchor="end" fill="#fff">3µm</text>
<rect x="31.0" y="36.0" width="6.0" height="0.7" fill="#fff"/>
</svg>
<svg x="189.50" y="329.10" width="38.6" height="38.6" viewBox="0 0 38.6 38.6">
<rect width="38.6" height="38.6" fill="#cfcfcf"/>
<g fill="none" stroke-linecap="round" stroke-linejoin="round" filter="url(#b2)">
<path d="M4.8 25.2l0.3 0.5M8.4 22.4l0.0 1.3M8.3 27.1l0.6 0.0M10.8 33.2l-0.7 0.1M4.4 24.5l-0.3 1.0M5.2 22.4l-0.6 0.6M5.3 32.2l1.2 0.1M9.7 23.4l1.0 0.7M9.4 28.2l1.2 0.6M29.6 21.4h0M31.3 19.0l0.8 -0.1" stroke="#3f1d8c" stroke-width="0.8"/>
<path d="M7.9 22.9l0.5 0.6M7.9 24.1l0.6 0.6M9.2 22.8l-1.0 0.8M10.3 23.5l0.9 0.1M12.2 21.3l-0.8 0.3M11.4 22.4l-0.4 0.8M3.4 10.1l0.8 0.3M11.4 34.5l-0.8 0.0M13.8 34.4l0.2 1.2M13.1 34.8l-0.2 0.5" stroke="#5a2aa8" stroke-width="0.8"/>
<path d="M10.3 21.6l0.8 1.0M8.9 34.1h0M11.9 28.8h0M8.5 23.8l0.9 0.2M9.2 19.2l0.4 0.7M9.2 26.0l-0.4 0.6M12.6 28.2l1.0 0.3M2.6 27.9l-0.2 1.2M13.5 28.0l-0.3 0.7M5.3 22.3l0.7 0.9M9.1 25.3l0.6 0.5M8.5 24.6l0.3 0.9M2.3 11.6h0M27.3 22.6l0.5 -0.1M26.1 22.2l0.9 -0.2M30.1 19.7h0M31.5 16.4h0M10.8 34.5l0.5 0.8" stroke="#3f1d8c" stroke-width="0.8" opacity="0.75"/>
<path d="M14.5 22.9l-0.9 0.6M5.9 24.6l0.7 0.8M8.5 16.7l-0.4 0.5M11.6 23.9l-0.3 0.6M10.5 18.6l-0.1 1.1M12.1 22.6h0M22.8 23.6l0.8 -0.3M17.6 18.7l0.5 0.8M6.4 33.4l0.6 0.9M9.4 34.7h0" stroke="#35207f" stroke-width="0.8"/>
<path d="M7.1 19.0l0.3 0.5" stroke="#35207f" stroke-width="1"/>
<path d="M12.8 25.9l-0.4 0.2M13.4 19.6h0M12.3 22.2l-0.4 1.0M10.6 21.2l-0.1 0.6M9.1 22.8l-0.1 0.7M9.6 23.0l0.4 0.5M5.1 22.9l-0.1 0.6M6.2 10.1h0M4.0 11.6l-0.5 0.4M27.3 7.9h0M29.1 9.3l0.5 0.2M19.9 21.6h0" stroke="#43268f" stroke-width="0.8" opacity="0.75"/>
<path d="M15.6 25.8l-0.4 0.3M4.2 15.8l0.2 0.5M8.7 18.9l0.6 0.1M10.9 17.9l0.6 0.8M12.1 29.3l-0.1 1.0M8.4 22.5l0.8 0.1M10.3 31.1l-0.2 0.7M11.4 17.9l0.8 0.7M5.7 25.0l-0.1 0.9" stroke="#5a2aa8" stroke-width="1" opacity="0.75"/>
<path d="M9.8 22.1l-0.3 0.8M9.8 26.9l0.6 0.7M10.9 23.5l-0.8 0.4M8.4 19.9h0M9.3 11.2l0.4 1.1M18.1 19.2h0M10.0 25.3l-0.5 0.5M8.6 15.9h0M10.9 19.7l-0.8 0.1M9.3 22.6l-0.7 0.5M13.2 24.3l1.1 0.2M11.8 19.5l0.8 0.0M11.9 28.0l-0.4 0.3M13.2 17.9l0.9 0.1M5.7 31.8l-0.8 0.3" stroke="#35207f" stroke-width="0.8" opacity="0.75"/>
<path d="M11.3 24.2l0.9 0.4M13.9 20.4l-0.4 0.2M7.2 25.5h0" stroke="#5a2aa8" stroke-width="1"/>
<path d="M7.7 22.3l0.1 1.0M9.3 25.9h0" stroke="#4b1f9a" stroke-width="1" opacity="0.75"/>
<path d="M8.7 26.4l0.3 0.6M12.5 21.5h0M12.6 19.3h0" stroke="#4b1f9a" stroke-width="1"/>
<path d="M8.2 15.6h0M20.7 28.7h0M9.9 22.2l0.1 0.8M15.1 18.8l0.4 1.2M6.4 27.1h0M4.6 20.5l-0.1 0.7M9.5 19.1l-0.1 0.9M8.8 18.4l-0.3 1.2M9.0 19.7l-0.1 0.9M12.4 20.9l0.9 0.8M29.9 19.9l1.0 0.3M24.8 20.3l0.8 -0.3" stroke="#4b1f9a" stroke-width="0.8" opacity="0.75"/>
<path d="M15.4 16.5l0.3 0.5M2.3 21.6h0M8.2 25.5l1.0 0.1M10.8 21.3l0.7 0.7M15.0 25.5h0M4.7 9.2l0.0 0.8M31.6 20.2h0M11.1 35.9l0.5 0.9" stroke="#4b1f9a" stroke-width="0.8"/>
<path d="M9.8 21.3l-0.6 1.1M9.3 24.5l-0.1 0.7M16.3 15.0h0M10.9 33.0l-0.7 0.5M11.3 25.0h0M3.2 8.4l-0.2 0.4M19.8 15.8l0.8 0.3M15.9 33.3l-0.9 0.7" stroke="#5a2aa8" stroke-width="0.8" opacity="0.75"/>
<path d="M13.3 30.4l-0.7 0.7M13.6 22.7l-0.9 0.8M12.0 26.3h0M4.1 13.6l0.7 0.3M9.0 22.6l-0.2 0.5M7.6 13.4h0" stroke="#3f1d8c" stroke-width="1"/>
<path d="M6.4 23.3l0.5 0.9M9.5 16.9l0.1 0.4M12.7 25.4l-0.1 0.7M10.1 32.8l1.3 0.1" stroke="#43268f" stroke-width="0.8"/>
<path d="M14.6 24.9h0M6.8 19.3l0.3 0.7M7.8 26.7l-0.9 0.7M8.0 25.8l0.9 0.1M4.0 20.1l0.3 1.0M8.8 24.5l1.0 0.3M5.4 20.4l0.3 0.9M12.4 24.3l-1.0 0.5M11.7 20.7l0.4 0.6M28.6 4.5h0" stroke="#43268f" stroke-width="1" opacity="0.75"/>
<path d="M8.9 25.0l0.1 0.5M14.5 20.0l0.7 0.4M8.4 17.1l-0.5 0.6M6.2 28.5l0.4 0.9" stroke="#3f1d8c" stroke-width="1" opacity="0.75"/>
<path d="M10.3 21.2l-0.9 0.7M10.8 31.1l1.0 0.4M3.9 18.9l0.5 0.9" stroke="#35207f" stroke-width="1" opacity="0.75"/>
<path d="M10.2 22.0l-0.5 0.3M8.9 27.4h0M28.5 6.4h0" stroke="#43268f" stroke-width="1"/>
<path d="M3.8 6.0l0.2 0.4M32.2 21.3l0.4 -0.5M19.2 15.9l0.6 0.4M31.7 24.6l1.0 -0.0" stroke="#43268f" stroke-width="0.6" opacity="0.75"/>
<path d="M6.9 9.9h0M32.4 19.0h0M34.7 20.3l0.7 -0.5M33.7 18.8l0.9 0.5M22.7 17.2l0.6 -0.1" stroke="#5a2aa8" stroke-width="0.6" opacity="0.75"/>
<path d="M4.5 8.8l0.6 0.6" stroke="#3f1d8c" stroke-width="0.6" opacity="0.75"/>
<path d="M31.1 10.9l0.2 0.5M31.2 9.8h0M28.2 9.7l0.0 0.5M32.0 11.8h0M28.0 7.4l0.4 0.4" stroke="#2b2f9a" stroke-width="0.8"/>
<path d="M27.8 6.2l0.5 1.0M26.6 7.7h0M28.6 12.4l0.6 0.8" stroke="#2b2f9a" stroke-width="0.8" opacity="0.75"/>
<path d="M25.7 5.4l0.3 0.8M26.2 8.6l0.2 0.5" stroke="#3c8ed2" stroke-width="0.8"/>
<path d="M26.3 5.2l0.4 0.6M30.3 12.6l0.5 0.1" stroke="#2b2f9a" stroke-width="1"/>
<path d="M25.6 7.1l1.0 0.7" stroke="#3c8ed2" stroke-width="0.8" opacity="0.75"/>
<path d="M29.7 12.6l-0.1 0.5" stroke="#3c8ed2" stroke-width="1" opacity="0.75"/>
<path d="M20.3 22.3l1.0 0.4M19.6 21.2h0" stroke="#35207f" stroke-width="0.6"/>
<path d="M34.1 18.7l0.6 0.0M29.7 23.7l0.9 -0.1M34.0 20.4l0.8 -0.3" stroke="#35207f" stroke-width="0.6" opacity="0.75"/>
<path d="M26.7 14.7h0M30.1 19.3l0.5 -0.1" stroke="#4b1f9a" stroke-width="0.6" opacity="0.75"/>
<path d="M34.4 18.0h0" stroke="#5a2aa8" stroke-width="0.6"/>
<path d="M16.7 18.3l0.6 0.4M23.8 20.2l0.8 0.5" stroke="#4b1f9a" stroke-width="0.6"/>
</g>
<text x="37.0" y="35.2" font-size="4.4" text-anchor="end" fill="#333">3µm</text>
<rect x="31.0" y="36.0" width="6.0" height="0.7" fill="#333"/>
</svg>
<svg x="229.50" y="329.10" width="38.6" height="38.6" viewBox="0 0 38.6 38.6">
<rect width="38.6" height="38.6" fill="#000"/>
<g fill="none" stroke-linecap="round" stroke-linejoin="round" filter="url(#b3)">
<path d="M22.0 19.3h0M10.2 21.5h0M7.3 25.3l-0.6 0.5M0.1 17.8l-0.6 0.1M3.0 26.2h0" stroke="#4cc457" stroke-width="1.4" opacity="0.75"/>
<path d="M6.0 13.7h0M19.7 7.9l-0.2 1.2M15.8 33.4l-0.4 0.4M19.5 16.2h0M-2.6 26.7l0.9 0.4M13.7 6.0l-0.2 0.7" stroke="#5fd065" stroke-width="1.6" opacity="0.75"/>
<path d="M21.4 16.6h0" stroke="#2b9a3a" stroke-width="1.2" opacity="0.25"/>
<path d="M11.9 35.6l0.2 0.4M4.9 30.4l-1.1 0.3M20.8 19.8l-0.1 0.6" stroke="#38b048" stroke-width="1.2" opacity="0.25"/>
<path d="M20.5 26.5h0M25.1 28.3l-0.6 0.3M2.7 28.4l0.9 0.7M37.7 32.7h0M2.1 29.8l1.1 0.6M10.6 8.9l-0.7 0.2" stroke="#2b9a3a" stroke-width="1.4" opacity="0.5"/>
<path d="M20.6 23.7l0.1 0.6M35.6 13.9l-0.2 0.4M24.2 32.6h0M11.4 4.8l0.4 0.5M13.3 25.1l-0.8 1.0M12.8 38.3l-0.1 0.7" stroke="#2b9a3a" stroke-width="1.6" opacity="0.75"/>
<path d="M20.2 0.5l-0.3 1.1M10.6 15.1h0M10.6 14.0h0" stroke="#2b9a3a" stroke-width="1.6" opacity="0.5"/>
<path d="M9.3 37.8h0" stroke="#38b048" stroke-width="1.4" opacity="0.25"/>
<path d="M1.6 4.2l0.3 0.9M31.7 4.7l-0.6 0.2M2.7 24.9l0.6 0.1" stroke="#2b9a3a" stroke-width="1.2" opacity="0.5"/>
<path d="M23.5 16.7l-1.0 0.7M17.0 31.4h0M3.1 25.4l-0.6 0.7M28.9 17.9h0M6.0 8.6h0M36.1 17.7l-0.7 0.1M6.7 6.7l-0.7 0.0" stroke="#2b9a3a" stroke-width="1.2" opacity="0.75"/>
<path d="M2.4 15.7l-0.0 0.9M3.1 15.5l1.0 0.3" stroke="#5fd065" stroke-width="1.2" opacity="0.25"/>
<path d="M15.9 5.0h0M19.6 2.3l-0.8 1.0M3.9 29.4l0.3 0.5M7.5 12.7h0" stroke="#38b048" stroke-width="1.2" opacity="0.5"/>
<path d="M32.5 11.4l0.0 0.7M20.0 11.8h0M34.9 13.8h0M4.7 6.5l-0.5 1.1M17.7 28.3l-0.4 0.6M8.5 12.1l-0.3 0.6" stroke="#38b048" stroke-width="1.6" opacity="0.5"/>
<path d="M27.0 13.7h0M0.1 37.1h0M10.4 7.3l-1.2 0.3M2.2 36.7l0.8 0.6" stroke="#38b048" stroke-width="1.4" opacity="0.75"/>
<path d="M16.8 19.9h0" stroke="#38b048" stroke-width="1.6" opacity="0.25"/>
<path d="M6.9 36.1l0.4 0.9M28.4 29.6l-0.9 0.3M16.9 38.0l-0.5 0.3" stroke="#4cc457" stroke-width="1.6" opacity="0.75"/>
<path d="M27.0 14.9h0" stroke="#1f7a2c" stroke-width="1.6" opacity="0.5"/>
<path d="M6.2 35.1h0M4.2 28.0l0.0 0.7" stroke="#5fd065" stroke-width="1.4" opacity="0.5"/>
<path d="M14.9 34.7l0.5 0.4M10.9 12.1l0.5 0.3M0.5 29.4h0" stroke="#1f7a2c" stroke-width="1.2" opacity="0.5"/>
<path d="M29.6 0.8h0" stroke="#1f7a2c" stroke-width="1.6" opacity="0.75"/>
<path d="M15.0 32.4h0M34.4 0.9l-0.5 0.1M22.4 29.3h0M12.3 8.4h0M1.9 29.6h0M7.1 9.2h0" stroke="#1f7a2c" stroke-width="1.2" opacity="0.75"/>
<path d="M22.9 35.3l1.1 0.1M20.6 35.1h0M10.8 29.7l-0.8 1.0" stroke="#38b048" stroke-width="1.6" opacity="0.75"/>
<path d="M16.9 36.7l-0.5 0.3M21.6 27.5l0.9 0.7" stroke="#5fd065" stroke-width="1.4" opacity="0.75"/>
<path d="M9.2 15.2l0.5 0.7M28.2 34.7l0.9 0.1M12.1 17.6h0" stroke="#38b048" stroke-width="1.2" opacity="0.75"/>
<path d="M38.3 24.5l-0.1 0.9M22.2 11.5l0.8 1.0M7.8 16.3h0M8.7 24.4l0.8 0.9" stroke="#1f7a2c" stroke-width="1.4" opacity="0.75"/>
<path d="M-0.1 25.2l0.6 0.4M20.8 22.3l0.4 0.3" stroke="#4cc457" stroke-width="1.2" opacity="0.5"/>
<path d="M25.1 4.4l-0.9 0.4" stroke="#5fd065" stroke-width="1.6" opacity="0.25"/>
<path d="M21.3 8.3l0.9 0.6M14.7 8.3l-0.7 0.7" stroke="#5fd065" stroke-width="1.6" opacity="0.5"/>
<path d="M23.9 19.5l0.2 0.9M10.6 19.0l0.5 0.3" stroke="#4cc457" stroke-width="1.2" opacity="0.75"/>
<path d="M0.8 26.5h0" stroke="#4cc457" stroke-width="1.4" opacity="0.5"/>
<path d="M16.9 17.6h0M6.7 21.1h0" stroke="#2b9a3a" stroke-width="1.4" opacity="0.75"/>
<path d="M5.4 20.6h0" stroke="#4cc457" stroke-width="1.6" opacity="0.5"/>
<path d="M18.8 9.5l0.4 0.3M7.5 17.7h0" stroke="#38b048" stroke-width="1.4" opacity="0.5"/>
<path d="M14.6 16.7l0.9 0.7M7.9 3.8l0.8 1.0" stroke="#1f7a2c" stroke-width="1.4" opacity="0.5"/>
<path d="M19.3 17.9h0" stroke="#2b9a3a" stroke-width="1.6" opacity="0.25"/>
<path d="M5.6 12.8h0" stroke="#5fd065" stroke-width="1.2" opacity="0.5"/>
<path d="M32.0 12.9h0M19.9 22.2h0M7.4 36.6h0M6.1 5.9h0" stroke="#17601f" stroke-width="1" opacity="0.5"/>
<path d="M4.7 13.6l-0.0 0.5M8.4 15.0h0M24.4 37.6l0.4 0.4M14.4 33.4h0M25.9 21.6h0M5.9 34.8l-0.1 0.5M15.8 12.5h0" stroke="#2b9a3a" stroke-width="1" opacity="0.75"/>
<path d="M28.2 37.9h0M1.7 20.7l-0.5 0.3M30.9 28.1l-0.3 0.4M35.3 11.5h0" stroke="#2b9a3a" stroke-width="1" opacity="0.5"/>
<path d="M7.5 14.3h0M38.8 33.4l-0.4 0.3M17.8 9.0l0.3 0.6M36.6 23.6h0" stroke="#17601f" stroke-width="1" opacity="0.75"/>
<path d="M8.2 28.4l-0.3 0.3M37.5 22.8l-0.3 0.6M2.9 34.8l-0.4 0.2M6.4 7.0l0.6 0.2M1.3 16.8l0.7 0.0M33.6 18.5l-0.1 0.7M10.0 6.7h0" stroke="#1f7a2c" stroke-width="1" opacity="0.5"/>
<path d="M16.2 34.2h0M37.2 35.9l0.7 0.1" stroke="#2b9a3a" stroke-width="0.8" opacity="0.5"/>
<path d="M29.8 26.1h0M4.1 16.9h0M28.4 25.8l-0.3 0.4M31.3 5.4h0" stroke="#17601f" stroke-width="0.8" opacity="0.5"/>
<path d="M9.5 30.8l0.3 0.4M18.3 1.4h0" stroke="#1f7a2c" stroke-width="0.8" opacity="0.5"/>
<path d="M24.5 19.6l-0.1 0.6M18.7 22.9l-0.6 0.1" stroke="#1f7a2c" stroke-width="1" opacity="0.75"/>
<path d="M25.7 22.5l0.6 0.4" stroke="#17601f" stroke-width="1.2" opacity="0.5"/>
<path d="M13.9 21.0h0" stroke="#17601f" stroke-width="1.2" opacity="0.75"/>
<path d="M19.5 39.4l0.1 0.5" stroke="#4cc457" stroke-width="1.4"/>
<path d="M17.7 35.9l-0.5 0.5" stroke="#2b9a3a" stroke-width="1.4"/>
<path d="M18.3 36.9l-0.7 0.4" stroke="#5fd065" stroke-width="1.8"/>
<path d="M19.4 37.9h0" stroke="#2b9a3a" stroke-width="1.6"/>
</g>
<path transform="translate(22.8 18.5)" d="M-0.3 -0.3 L6.6 3.0 L3.5 3.9 L2.7 6.7 Z" fill="#d41d4c"/>
<path transform="translate(18.7 26.7)" d="M-0.3 -0.3 L6.6 3.0 L3.5 3.9 L2.7 6.7 Z" fill="#d41d4c"/>
<text x="1.8" y="5.4" font-size="5.6" fill="#fff">c</text>
<text x="37.0" y="35.2" font-size="4.4" text-anchor="end" fill="#fff">2µm</text>
<rect x="31.0" y="36.0" width="6.0" height="0.7" fill="#fff"/>
</svg>
<svg x="269.80" y="329.10" width="38.6" height="38.6" viewBox="0 0 38.6 38.6">
<rect width="38.6" height="38.6" fill="#cfcfcf"/>
<g fill="none" stroke-linecap="round" stroke-linejoin="round" filter="url(#b3)">
<path d="M31.6 18.7l-0.4 0.6M12.7 22.1h0M3.4 32.9l-0.2 0.4M13.8 31.4l-0.6 0.3" stroke="#35207f" stroke-width="1.2"/>
<path d="M17.2 21.7l0.9 1.1M30.5 15.1l-1.1 0.9M19.3 20.0h0M5.3 15.5h0M23.3 22.4l-0.2 1.3M12.7 17.0l0.1 0.5M11.9 25.4h0M10.0 17.6l0.3 0.3" stroke="#5a2aa8" stroke-width="1.2"/>
<path d="M8.5 32.1l-0.2 1.5M36.4 12.6l0.2 1.3M22.8 8.8l-1.3 0.3M9.2 35.4h0M16.7 20.2h0M30.2 35.0l-0.3 0.8M10.5 15.4l-0.6 0.0M23.5 9.9l-0.8 0.2" stroke="#3f1d8c" stroke-width="1.4"/>
<path d="M12.4 11.2l0.7 1.2M34.2 36.5l-0.1 0.5M9.4 19.5l0.4 0.8M1.3 15.5h0M13.6 28.9l0.0 1.4M5.6 14.6h0M27.7 39.9l-1.3 0.5M14.8 17.5l-0.6 0.0M25.9 20.1l-0.9 0.4M9.6 16.7l-0.3 0.6M4.1 16.3l0.9 0.1M11.6 18.1h0M20.5 8.4l-1.3 0.4M8.8 7.9l-0.2 1.2" stroke="#2a1a6a" stroke-width="1.8"/>
<path d="M19.8 6.4l0.1 0.7M20.1 24.5l0.6 0.2M9.5 20.3l0.8 1.1M3.6 36.4l0.3 0.6M17.3 14.3h0M16.9 11.8l0.3 0.5" stroke="#35207f" stroke-width="1.4"/>
<path d="M13.5 14.4l0.6 1.3M6.4 27.1l0.4 1.3M3.4 19.1h0M31.1 6.9h0M6.1 12.2h0M19.1 29.4h0M19.5 15.1h0M26.6 20.9h0M10.3 22.6l-1.3 0.2M18.4 9.8l-0.9 0.0M18.2 11.5l0.4 1.0M14.7 9.6l-0.7 1.1" stroke="#5a2aa8" stroke-width="1.4"/>
<path d="M2.6 33.3h0M14.1 25.6l-0.8 0.1M31.0 3.4h0M15.8 8.4l-1.1 1.0M36.9 9.6h0M-0.8 37.2l0.4 0.3" stroke="#4b1f9a" stroke-width="1.4"/>
<path d="M28.3 35.5h0M20.6 30.8l-0.8 0.0M7.6 32.6l-0.0 1.3M21.3 15.6h0M12.4 21.8l1.2 0.8M15.5 7.0l-0.2 0.8M9.1 28.0l-1.2 0.4" stroke="#3f1d8c" stroke-width="1.6"/>
<path d="M12.4 17.6h0M10.9 18.7l-1.1 0.9M24.1 15.4l1.2 0.6M9.6 29.2l0.1 1.2" stroke="#4b1f9a" stroke-width="1.2"/>
<path d="M15.2 27.8l-0.5 0.3M8.2 29.9l-0.3 0.6M12.9 31.9l0.9 1.0M23.0 2.1l-0.5 0.3M12.1 2.8l0.4 0.5M25.9 21.8l-1.0 0.0M3.9 18.4h0M9.0 14.7h0M14.5 16.2l0.8 0.5M9.0 25.1l-0.7 0.9" stroke="#5a2aa8" stroke-width="1.6"/>
<path d="M9.7 20.1l0.8 0.2M34.5 4.4l-1.0 0.6M10.4 27.7l-0.4 0.5M19.1 4.4h0M19.5 23.1h0" stroke="#3f1d8c" stroke-width="1.8"/>
<path d="M6.3 29.3h0M28.9 35.8l0.3 0.7M3.3 12.7l-0.0 1.0M34.3 3.0l0.1 0.8M7.2 6.7l-1.1 0.7M15.3 0.4h0M7.8 17.5l1.0 1.0M-3.2 18.3l0.9 0.4" stroke="#2a1a6a" stroke-width="1.6"/>
<path d="M9.9 37.0l-1.0 0.3M19.1 18.7l-0.5 0.4M15.6 10.4l0.8 0.5M5.3 12.2l0.6 0.1" stroke="#35207f" stroke-width="1.8"/>
<path d="M32.3 13.4l-0.3 1.0M17.5 22.6l1.0 0.8M16.9 24.5h0M7.0 23.5h0M2.3 8.7l-0.2 0.5" stroke="#4b1f9a" stroke-width="1.8"/>
<path d="M12.5 23.6h0M14.2 13.9h0M12.9 16.6h0M13.9 14.6l0.6 1.0" stroke="#3f1d8c" stroke-width="1.2"/>
<path d="M30.6 19.0l-0.7 0.1M19.3 12.4l-0.4 0.7M27.9 18.7l-0.3 0.4M23.6 8.7l-0.1 1.0M3.0 17.0h0M16.4 10.0l-0.8 0.1M16.3 13.1h0M11.6 13.9l0.9 0.3M23.7 9.1l1.0 1.1" stroke="#2a1a6a" stroke-width="1.4"/>
<path d="M8.7 13.2h0M33.3 24.0l-0.0 0.7M18.9 11.2h0M11.2 34.9l-0.2 0.4M29.6 26.0h0M9.9 15.3h0M12.0 23.5l-0.3 0.3M8.0 10.8l-0.0 1.0M13.1 18.9h0" stroke="#35207f" stroke-width="1.6"/>
<path d="M2.5 19.5l1.0 0.8M36.1 15.6l-0.4 0.3M9.7 26.1l-0.4 0.8M12.8 24.7l1.1 0.1M18.6 14.5h0" stroke="#4b1f9a" stroke-width="1.6"/>
<path d="M11.0 24.8l-1.1 0.3M13.8 15.8l-0.1 0.7M14.6 21.3h0M12.2 21.9h0M8.3 14.4h0M20.3 18.5h0M19.2 8.3l-0.6 0.4M14.2 28.2h0M8.4 35.2h0M27.3 19.5l-1.3 0.4M21.0 6.6h0" stroke="#5a2aa8" stroke-width="1.8"/>
<path d="M19.8 38.3l1.1 0.4" stroke="#2a1a6a" stroke-width="1.2"/>
</g>
<text x="1.8" y="5.4" font-size="5.6" fill="#333">c</text>
<text x="37.0" y="35.2" font-size="4.4" text-anchor="end" fill="#333">2µm</text>
<rect x="31.0" y="36.0" width="6.0" height="0.7" fill="#333"/>
</svg>
<rect x="188.80" y="370.10" width="26.30" height="3.60" fill="url(#cbar)"/>
<text x="186.40" y="373.70" font-size="5.6" text-anchor="end" fill="#231f20" textLength="13.40" lengthAdjust="spacingAndGlyphs">0.001</text>
<text x="217.60" y="373.70" font-size="5.6" text-anchor="start" fill="#231f20">26µm<tspan font-size="3.6" dy="-2">3</tspan></text>
<text x="201.90" y="381.80" font-size="5.6" text-anchor="middle" fill="#231f20" textLength="17.40" lengthAdjust="spacingAndGlyphs">Volume</text>
<rect x="271.40" y="370.10" width="26.30" height="3.60" fill="url(#cbar)"/>
<text x="269.00" y="373.70" font-size="5.6" text-anchor="end" fill="#231f20" textLength="13.40" lengthAdjust="spacingAndGlyphs">0.001</text>
<text x="300.20" y="373.70" font-size="5.6" text-anchor="start" fill="#231f20">26µm<tspan font-size="3.6" dy="-2">3</tspan></text>
<text x="284.50" y="381.80" font-size="5.6" text-anchor="middle" fill="#231f20" textLength="17.40" lengthAdjust="spacingAndGlyphs">Volume</text>
<text x="135.00" y="407.55" font-size="12" font-weight="bold" fill="#000" stroke="#000" stroke-width="0.25">P</text>
<text x="228.80" y="414.20" font-size="5.5" text-anchor="middle" fill="#231f20" textLength="17.50" lengthAdjust="spacingAndGlyphs">In vitro</text>
<text x="139.50" y="437.50" font-size="5.5" text-anchor="middle" fill="#231f20" textLength="10.90" lengthAdjust="spacingAndGlyphs" transform="rotate(-90 139.50 437.50)">Non</text>
<text x="145.40" y="437.50" font-size="5.5" text-anchor="middle" fill="#231f20" textLength="23.10" lengthAdjust="spacingAndGlyphs" transform="rotate(-90 145.40 437.50)">Irradiated</text>
<text x="139.50" y="478.80" font-size="5.5" text-anchor="middle" fill="#231f20" textLength="23.10" lengthAdjust="spacingAndGlyphs" transform="rotate(-90 139.50 478.80)">Irradiated</text>
<text x="145.40" y="478.80" font-size="5.5" text-anchor="middle" fill="#231f20" textLength="29.80" lengthAdjust="spacingAndGlyphs" transform="rotate(-90 145.40 478.80)">(96h culture)</text>
<svg x="149.30" y="418.20" width="38.7" height="38.7" viewBox="0 0 38.7 38.7">
<rect width="38.7" height="38.7" fill="#000"/>
<path d="M1.2 10.2Q0.5 8.0 3.2 8.3Q6.0 8.6 10.4 9.8Q14.9 10.9 15.9 12.4Q17.0 14.0 15.0 15.8Q13.0 17.5 11.9 18.6Q10.8 19.8 8.4 18.1Q6.0 16.5 4.0 14.5Q2.0 12.5 1.2 10.2Z" fill="#2fa63e" fill-rule="evenodd" opacity="0.45" filter="url(#bb5)"/>
<path d="M17.8 15.8Q17.0 14.0 19.0 14.8Q21.0 15.5 22.8 17.5Q24.5 19.5 25.8 22.4Q27.0 25.4 26.2 28.2Q25.5 31.0 23.2 32.9Q21.0 34.8 18.0 34.0Q15.0 33.2 15.8 32.1Q16.5 31.0 18.5 30.8Q20.5 30.6 21.4 28.3Q22.4 26.0 21.9 23.5Q21.4 21.0 19.9 19.2Q18.5 17.5 17.8 15.8Z" fill="#2fa63e" fill-rule="evenodd" opacity="0.4" filter="url(#bb5)"/>
<g fill="none" stroke-linecap="round" stroke-linejoin="round" filter="url(#b2)">
<path d="M7.9 17.1L9.0 19.0L9.3 20.7L9.2 22.1L9.7 23.8L10.6 25.5L11.7 26.8L12.7 28.5L13.4 29.9L15.0 31.2L16.6 32.3L18.0 33.2" stroke="#2fa63e" stroke-width="1.6" opacity="0.75"/>
<path d="M8.8 15.4l0.3 0.7M3.7 11.9l0.4 0.6M2.6 9.1l1.4 0.7M3.3 9.8l1.0 0.3M1.2 11.8l1.4 -0.1M10.8 13.7l1.0 0.4M12.9 13.2l0.6 -0.3M19.7 32.3h0M21.6 31.0l-0.5 0.5M18.8 17.2l1.2 0.7M21.4 30.5l-1.4 0.5M23.2 28.0l-0.3 0.9M12.0 28.0l0.4 0.5M12.3 27.9h0M10.9 27.2l0.3 1.1M10.2 26.3l0.5 0.8" stroke="#4cc457" stroke-width="1"/>
<path d="M14.2 14.2l0.4 -0.3M12.8 16.4l0.5 -0.5M13.9 12.6l0.6 -0.8M6.8 13.4l0.9 0.0M3.6 9.7l0.5 0.2M19.7 20.2l0.5 1.2M20.6 16.4l0.7 0.9M21.1 33.3l-1.1 0.9M18.7 32.6l-0.7 0.8M19.2 33.5l-1.0 0.2M15.3 29.7l0.4 0.7M9.2 21.2l0.6 0.9M9.9 23.0l-0.1 0.5M9.3 22.7l0.2 0.6" stroke="#5fd065" stroke-width="1"/>
<path d="M4.3 13.2l0.4 0.7M2.4 9.4h0M7.6 12.0l1.4 0.6M9.8 13.3l0.5 0.1M1.7 12.3l1.4 -0.0M2.7 10.5l0.5 0.0M1.2 12.7l1.4 0.6M24.7 32.3l-0.4 0.2M19.3 31.8l-0.8 1.2M22.5 29.7l-1.1 0.3M18.9 32.1l-1.2 0.3M20.4 18.9l0.8 0.4M9.1 23.4l-0.4 1.3M14.7 29.9l0.0 0.9M8.8 23.2l0.9 0.4M25.0 8.6l0.2 0.8M26.4 8.0l0.6 0.9M19.3 2.5l-0.2 0.6" stroke="#38b048" stroke-width="1" opacity="0.75"/>
<path d="M11.3 12.3l1.1 0.3M1.5 8.3l0.8 0.7M9.7 13.7l0.8 0.1M13.2 12.7l0.6 -0.5M8.8 16.2l0.9 1.1M19.7 15.0h0M22.0 24.2l-0.3 0.6M21.9 17.4h0M23.9 19.3l0.2 0.6M22.0 18.0l0.5 0.4M22.1 19.1l1.2 1.0M10.0 22.3l0.3 1.3M16.7 31.2l-0.6 0.2M20.1 28.5h0M23.2 24.6l-0.4 0.5M19.4 10.7L21.4 10.8L23.3 10.8L24.9 10.3L25.8 11.1M32.4 6.8h0M33.9 6.3l0.3 0.7M28.3 9.4l0.0 0.9M31.0 2.0l-0.4 0.3M26.0 6.5h0M24.9 7.1l0.5 0.2M38.4 5.0l-0.8 0.6M32.1 26.7h0M33.0 19.8l-0.1 0.7M30.5 19.5l0.7 0.1M31.8 33.7l0.5 0.3M32.0 33.4l0.4 0.4M31.3 33.2l0.9 0.1M33.1 35.0h0" stroke="#2b9a3a" stroke-width="0.8" opacity="0.75"/>
<path d="M3.4 11.2h0M5.1 10.8l1.0 -0.3M13.4 14.0l0.7 -0.3M6.9 14.1l0.3 0.4M22.6 17.2l1.0 0.4M23.2 31.4h0M22.2 29.4l-0.7 0.7M25.8 25.9l-0.4 1.2" stroke="#4cc457" stroke-width="1.2" opacity="0.75"/>
<path d="M11.7 12.1l0.5 0.6M11.0 12.9l0.6 1.4M5.6 12.2h0M8.2 13.2l0.5 0.4M7.4 12.1l1.6 0.2M10.0 12.7h0M20.8 32.6l-1.1 0.3M23.3 22.5l0.7 1.2M19.5 30.9l-0.4 0.7M19.6 33.8l-1.4 0.4M23.6 22.4l0.2 0.5M22.2 20.1l-0.2 1.5" stroke="#38b048" stroke-width="1.2" opacity="0.75"/>
<path d="M8.5 13.7l0.8 0.9M8.5 12.4l0.2 0.7M8.8 15.9l0.5 0.1M23.5 28.0l-0.3 1.4M22.5 32.3l-0.5 0.2M23.6 25.3l0.4 0.7M23.5 22.0l0.2 1.5M21.9 30.1l-1.1 0.8M23.7 19.3l-0.0 1.1M17.8 31.9h0M10.6 28.4l1.1 0.4" stroke="#2b9a3a" stroke-width="1"/>
<path d="M7.4 10.3l0.8 0.2M8.5 13.5l1.1 0.1M5.4 10.6h0M2.1 7.3h0M5.8 11.1l1.0 0.6M21.8 17.6l0.8 0.9" stroke="#2b9a3a" stroke-width="1.2" opacity="0.75"/>
<path d="M6.4 11.6l0.1 0.5M13.6 14.6l0.4 -1.2M9.8 13.0l0.9 0.6M24.4 26.9l-1.0 0.3M19.9 33.0l-0.5 0.6M24.0 23.7l-0.1 1.6M12.1 26.2l-0.4 1.1M11.5 28.2h0M10.8 25.0h0M7.7 17.5l0.3 1.3M29.7 3.7L32.4 3.2L34.1 2.8M30.5 8.5L31.7 8.6L32.9 7.5L34.1 8.0L35.5 7.2M25.0 11.8l-1.2 0.5M30.1 12.1l-0.9 0.1M27.7 5.8l-0.5 0.7M29.2 12.3l-1.4 0.1M20.9 6.3l-1.2 0.3M26.8 8.1l0.1 0.5M34.7 11.8l-0.2 1.0M35.7 29.6h0M36.6 22.3h0M31.2 29.2h0M35.7 23.8h0M32.5 27.3l0.5 0.7M26.8 31.7h0M28.7 33.0l0.5 0.5M29.9 35.1l0.4 0.3" stroke="#38b048" stroke-width="0.8" opacity="0.75"/>
<path d="M9.6 12.7l0.7 0.3M14.0 13.0l1.0 -0.3M6.7 12.6h0M12.6 11.4l0.5 -0.0M13.5 14.2l1.3 -0.8M5.4 6.8l1.2 0.0M12.8 9.8l0.9 0.3M3.4 10.1l1.3 0.8M13.5 13.5l0.7 -0.7M20.9 17.1l0.6 1.4M23.5 30.8l-0.6 0.1M25.0 21.1l0.8 1.3M22.2 18.6l0.6 0.7M24.3 19.9l-0.3 0.7M24.4 28.7l-0.5 1.5M27.2 20.2l-0.3 1.5M25.3 21.1l0.7 0.6M23.5 29.8l-0.1 0.5M7.8 17.6l-0.3 1.1M13.9 30.4l0.4 1.2M13.4 29.7l1.0 0.3M33.0 10.7l-0.9 0.8M28.0 1.8l-0.0 0.5M29.2 5.1l0.5 0.5M32.7 2.4l-0.7 0.0" stroke="#5fd065" stroke-width="1" opacity="0.75"/>
<path d="M10.3 12.5l0.6 0.5M10.8 13.7l0.5 1.1M7.8 13.3l0.7 0.6M9.2 14.5l1.0 0.3M4.9 8.2l0.9 -0.1M4.3 12.2l1.1 0.5M26.1 22.8l0.9 1.2M22.6 18.8l1.3 0.5M20.8 32.7l-1.3 -0.0M21.9 17.9l1.1 1.2M22.9 17.9l0.9 1.2M19.1 30.8l-1.0 0.5M23.8 19.9l0.1 0.8M20.9 17.7l0.5 1.2M10.1 24.5l0.1 0.5M10.9 27.5l0.9 0.6M17.3 6.1l0.8 1.0M26.1 16.6l-0.7 0.9M18.3 7.8l0.7 0.7" stroke="#2b9a3a" stroke-width="1" opacity="0.75"/>
<path d="M0.9 10.0l0.6 -0.1M5.6 11.9l0.9 0.4M0.5 9.1l0.8 1.4M10.5 12.5l0.4 -0.2M12.9 15.7l1.0 -0.5M8.4 11.9l1.0 1.2M1.9 7.4l0.5 0.4M22.0 28.0l-1.0 0.7M14.1 30.5h0M7.5 21.5l0.0 0.6M11.7 26.6l0.4 0.4M24.6 4.0L26.2 3.5L28.6 3.1M42.3 8.0l0.5 0.2M27.1 10.1h0M28.7 7.2l-0.9 0.3M31.5 2.0h0M30.5 2.7l0.4 0.9" stroke="#5fd065" stroke-width="0.8" opacity="0.75"/>
<path d="M13.8 13.6l1.1 -1.0M4.1 11.2l0.6 0.5M9.8 13.2l0.9 0.9M22.6 20.3l0.4 0.3M25.6 29.5l-0.4 0.6M22.2 28.9l-0.6 1.2M21.1 16.7l0.5 0.2M22.3 31.6l-0.3 0.3M24.3 27.1l-0.7 1.4M27.2 25.4l-0.9 1.1M20.9 31.1l-1.1 1.1M23.0 30.0l-0.3 0.3M21.2 31.8l-1.0 0.5M20.6 33.2l-1.0 1.1M10.5 28.9l0.4 0.3M11.8 25.6l0.0 0.6M7.7 18.8l0.4 1.0M7.9 18.4l0.4 0.7M9.8 25.0l0.0 0.7M27.8 5.2l0.4 1.2" stroke="#4cc457" stroke-width="1" opacity="0.75"/>
<path d="M1.1 14.2l0.5 0.6M10.3 13.2l0.6 1.2M25.6 22.9l-0.0 0.7M23.2 27.8l0.1 1.4M22.4 21.2l0.6 1.3M12.8 28.8l0.2 1.1M13.6 31.3l0.3 0.6M13.8 30.0h0M29.1 13.8h0M25.9 10.9l0.9 0.8M32.5 6.3h0M30.6 4.6l-0.5 0.5M18.4 9.6l-0.1 0.5" stroke="#4cc457" stroke-width="0.8" opacity="0.75"/>
<path d="M12.9 13.3l1.4 -0.8M9.5 15.0h0M2.8 8.7l0.5 0.2M9.9 12.9l0.4 0.9M25.5 30.2l-0.3 0.7M22.7 28.3l-0.1 0.6M24.2 31.5l-1.4 0.6M26.6 24.5l0.2 0.6M13.0 28.2l0.4 0.5M8.7 21.4l0.2 1.2M9.3 25.4l0.2 0.7M25.5 7.0h0" stroke="#38b048" stroke-width="1"/>
<path d="M5.5 10.0l1.3 0.6M1.2 9.4l0.4 0.5M10.3 14.4l1.4 0.1M7.1 14.2l1.0 0.8M24.6 25.6l-0.4 1.1M19.9 33.0l-0.7 -0.0M8.2 18.8l0.5 0.9M9.8 21.1l-0.2 1.1" stroke="#5fd065" stroke-width="0.8"/>
<path d="M14.3 12.6h0M22.2 20.4l0.1 1.1M21.3 20.2l0.4 0.3M18.7 32.8l-0.6 0.3M26.5 4.0L28.8 4.3L31.2 3.0M40.0 13.5l1.2 0.5" stroke="#2b9a3a" stroke-width="0.8"/>
<path d="M5.0 11.4l1.3 -0.0M7.9 13.4l0.7 0.5M12.9 15.3l0.7 -0.1M20.0 31.7l-0.4 0.5M22.8 22.7l0.7 1.4M24.9 26.5l-0.3 0.7M26.1 23.8l0.3 0.7" stroke="#5fd065" stroke-width="1.2" opacity="0.75"/>
<path d="M7.5 15.0l1.1 0.9M18.2 31.7l-0.6 1.0M23.5 25.4l-0.3 1.3M9.2 20.4l-0.0 0.7" stroke="#4cc457" stroke-width="0.8"/>
<path d="M8.8 14.1l1.0 0.5M4.8 6.4l1.1 -0.6M4.1 12.1h0M19.3 17.0l0.6 0.5M23.3 19.5h0M23.7 24.6l0.2 0.8M19.7 33.5l-1.0 0.6" stroke="#38b048" stroke-width="1.2"/>
<path d="M10.0 14.5l1.4 0.4M0.9 9.6l1.2 0.0M23.9 21.7l0.3 1.4M23.1 29.4l-0.7 0.3" stroke="#5fd065" stroke-width="1.2"/>
<path d="M20.3 14.1l0.6 0.9M22.9 29.8l-0.6 1.4M21.3 18.5l0.9 1.0M23.7 29.3l0.0 0.8M9.9 22.1l0.1 0.5M22.6 3.7L23.6 3.6L25.7 4.3L26.5 3.4L27.8 3.3M24.4 14.4l0.8 0.9" stroke="#38b048" stroke-width="0.8"/>
<path d="M24.6 22.9h0M24.2 27.0l-0.0 1.5M19.5 32.6l-0.9 0.3M19.4 31.8l-0.9 0.5M21.9 19.2l0.4 0.9" stroke="#4cc457" stroke-width="1.2"/>
<path d="M24.0 28.9l-0.8 0.3M20.5 19.2h0M22.5 32.3l-0.8 0.2M19.4 33.4l-0.9 0.0M24.5 24.5l0.1 0.5M24.0 28.4l-0.0 0.8" stroke="#2b9a3a" stroke-width="1.2"/>
<path d="M13.6 30.2h0M35.8 26.1l-0.6 0.4M31.4 25.4l0.7 0.5M26.3 21.9l0.4 0.4M27.2 32.0l0.5 0.3M9.3 4.3h0M24.2 34.6h0M36.6 1.5h0M32.5 31.0h0M17.2 25.0h0M7.4 25.8h0M3.8 12.6h0M34.8 2.4h0M27.3 9.5h0" stroke="#1f7a2c" stroke-width="0.6" opacity="0.5"/>
<path d="M18.0 23.4h0M15.0 26.2h0M8.4 2.5h0" stroke="#17601f" stroke-width="0.8" opacity="0.5"/>
<path d="M14.1 25.6h0M19.3 21.0h0" stroke="#17601f" stroke-width="0.8" opacity="0.25"/>
<path d="M11.1 20.3l0.1 0.9M32.8 12.3L34.3 11.3L35.2 10.0L36.4 9.6L37.6 8.6M25.5 2.8l0.8 0.0M20.7 10.2l0.5 0.6M28.0 19.8l-0.1 1.0M38.1 25.0l-0.8 0.3M32.3 34.5l-0.9 0.5M28.4 24.5l0.6 0.7M29.9 26.3h0M25.0 22.2l-0.6 0.1M32.2 29.5h0M29.9 27.9h0M38.4 23.4h0M36.3 29.3l0.1 0.6M5.2 4.8h0M16.6 4.4h0M11.2 5.0h0" stroke="#1f7a2c" stroke-width="0.8" opacity="0.5"/>
<path d="M15.2 26.9h0M5.2 5.5h0M8.4 4.5h0M14.7 38.0h0M22.0 3.6h0M11.0 31.7h0M16.7 23.2h0M26.7 10.8h0M12.4 15.2h0M34.9 24.2h0" stroke="#17601f" stroke-width="0.6" opacity="0.5"/>
<path d="M17.2 19.3h0M13.1 19.2h0M17.3 23.6h0M23.8 5.3L25.6 5.2L26.3 4.5L27.4 3.6L28.7 3.2M29.6 4.8h0M29.3 4.1l-0.8 0.3M30.3 16.7l-0.7 0.2M29.9 6.2l0.1 0.9M32.4 7.5l0.6 1.1M29.5 0.5h0M27.4 0.5l-0.9 1.0M30.1 27.7l-0.9 0.1M33.5 21.8l-0.7 0.6M27.6 22.1l-0.6 0.7M22.9 27.9l-0.2 0.7M31.5 26.3h0M24.9 28.7l-0.0 0.7M29.1 27.7h0M25.7 30.0l0.6 0.1M27.6 33.5l0.5 0.1M29.6 33.7l0.3 0.6" stroke="#38b048" stroke-width="0.8" opacity="0.5"/>
<path d="M12.7 16.5l-0.8 0.1M18.6 17.6l0.1 0.5M30.8 5.6l0.5 0.2M19.2 9.7l0.1 1.3M27.1 24.1l-0.6 0.2M32.3 20.3h0M30.9 37.8h0M29.5 35.1h0" stroke="#1f7a2c" stroke-width="0.8" opacity="0.75"/>
<path d="M14.6 25.6l0.5 0.2M16.4 22.1l0.3 0.7M14.7 19.3h0M32.0 33.0l-0.5 0.1M34.5 34.1l0.4 0.4M13.6 4.8h0M6.1 30.0h0M7.5 10.2h0M12.0 22.7h0M29.4 17.4h0M3.2 7.7h0M26.1 24.3h0M33.3 0.1h0M18.9 4.4h0" stroke="#2b9a3a" stroke-width="0.6" opacity="0.5"/>
<path d="M16.1 33.0l0.1 0.5M13.5 22.5l-0.7 0.5M18.2 27.9l-0.6 0.0M28.0 6.8h0M34.7 15.4l-0.3 0.7M27.2 11.1h0M34.1 6.8l-0.9 0.3M17.8 8.0h0M30.8 6.4h0M31.7 5.2l-0.5 0.7M28.8 33.2l0.3 0.6M37.1 20.2l0.5 0.6M33.7 26.1l0.2 0.8M29.8 28.0l0.0 0.8M32.4 25.4l0.4 0.3M35.9 23.4h0M32.9 19.2l-0.2 0.6M29.1 30.1h0M27.1 25.9h0M27.7 32.3h0M25.3 32.0h0M16.1 3.4h0M2.9 5.6h0" stroke="#2b9a3a" stroke-width="0.8" opacity="0.5"/>
<path d="M16.0 19.8l0.7 0.3M33.8 27.5l-0.5 0.2M29.7 24.7l0.7 0.7M32.4 34.6h0M26.1 33.4h0" stroke="#38b048" stroke-width="0.6" opacity="0.5"/>
<path d="M26.7 10.3L28.3 11.2L29.3 11.4L30.6 10.2L31.9 11.3M23.4 5.7L24.3 5.0L25.7 4.1L26.1 2.4L27.8 1.8M30.1 6.2h0" stroke="#4cc457" stroke-width="0.8" opacity="0.5"/>
<path d="M26.3 8.9L27.3 8.9L28.6 8.1L30.3 8.2L31.1 7.4M30.7 9.1L31.6 9.5L33.5 9.2L34.9 8.7L35.9 9.0" stroke="#1f7a2c" stroke-width="0.8"/>
<path d="M26.0 3.8L27.1 4.2L29.1 3.1M22.7 11.2l-1.0 0.4M29.8 11.3l-1.0 0.3" stroke="#5fd065" stroke-width="0.8" opacity="0.5"/>
<path d="M30.3 16.6h0" stroke="#4cc457" stroke-width="1" opacity="0.5"/>
<path d="M32.2 7.1l-0.5 0.1M25.0 5.6l0.8 0.1M27.5 9.1h0" stroke="#2b9a3a" stroke-width="1" opacity="0.5"/>
<path d="M32.4 7.2l-1.1 0.4M33.0 11.8l-1.1 0.4M19.8 11.8h0" stroke="#38b048" stroke-width="1" opacity="0.5"/>
<path d="M30.0 6.2h0M5.7 13.9l-0.5 0.3" stroke="#1f7a2c" stroke-width="1" opacity="0.75"/>
<path d="M33.1 13.2l-0.5 0.1" stroke="#5fd065" stroke-width="1" opacity="0.5"/>
<path d="M31.5 4.6l0.9 0.4" stroke="#1f7a2c" stroke-width="1" opacity="0.5"/>
<path d="M25.3 24.9l0.9 0.6M27.3 29.8h0M31.3 30.3l0.4 0.6M34.7 18.6l-0.4 0.6M28.6 27.7l-0.8 0.5M31.5 23.0h0" stroke="#38b048" stroke-width="0.6" opacity="0.75"/>
<path d="M35.7 21.6l0.7 0.3M30.4 22.9h0M32.1 24.3h0M31.9 22.8h0M27.5 26.9l-0.9 0.1M30.2 15.2l-0.8 0.2M34.1 27.4l0.7 0.8M31.3 34.2h0" stroke="#1f7a2c" stroke-width="0.6" opacity="0.75"/>
<path d="M25.9 30.0l0.3 0.7M31.7 28.5l0.0 0.5M30.8 25.4l0.4 0.8M28.8 30.7l0.0 0.7M28.6 34.4l0.5 0.3M30.6 38.1l0.6 0.3" stroke="#2b9a3a" stroke-width="0.6" opacity="0.75"/>
<path d="M11.7 5.3h0" stroke="#1f7a2c" stroke-width="0.8" opacity="0.25"/>
<path d="M11.3 3.8h0M10.3 9.0h0M10.9 8.1h0M31.6 29.9h0M12.0 14.7h0M0.7 20.2h0M0.7 34.2h0M34.0 6.3h0" stroke="#2b9a3a" stroke-width="0.6" opacity="0.25"/>
<path d="M10.6 1.4h0M34.4 30.4h0M5.8 20.7h0M8.4 4.5h0" stroke="#1f7a2c" stroke-width="0.6" opacity="0.25"/>
<path d="M14.4 10.4h0M5.8 25.4h0M37.3 17.7h0M10.9 34.0h0" stroke="#17601f" stroke-width="0.6" opacity="0.25"/>
</g>
<rect x="16.1" y="1.0" width="22.2" height="13.9" fill="none" stroke="#f6f6f6" stroke-width="1.25" stroke-dasharray="1.9 1.2"/>
<text x="13.4" y="9.5" font-size="5.0" fill="#fff">i</text>
<text x="37.1" y="35.3" font-size="4.4" text-anchor="end" fill="#fff">10µm</text>
<rect x="29.6" y="36.1" width="7.5" height="0.7" fill="#fff"/>
</svg>
<svg x="189.50" y="418.20" width="38.7" height="38.7" viewBox="0 0 38.7 38.7">
<rect width="38.7" height="38.7" fill="#cfcfcf"/>
<path d="M1.1 10.7Q0.5 9.3 4.0 10.1Q7.4 10.9 11.1 10.5Q14.7 10.1 17.3 10.5Q19.9 10.9 20.9 12.9Q21.9 14.9 19.5 16.1Q17.1 17.4 13.9 17.8Q10.6 18.2 8.2 16.6Q5.8 14.9 3.8 13.5Q1.7 12.1 1.1 10.7Z" fill="#df261c" fill-rule="evenodd" opacity="0.8" filter="url(#bb5)"/>
<g fill="none" stroke-linecap="round" stroke-linejoin="round" filter="url(#b2)">
<path d="M21.0 16.0L21.6 16.8L22.9 17.9L24.1 19.4L25.1 21.0L26.2 23.1L25.2 24.5L24.5 25.5L24.1 27.6L23.1 29.2L22.1 30.9L20.2 30.8L19.2 30.7L17.4 30.0L16.4 28.7L14.5 28.3L13.0 27.6L11.8 25.6" stroke="#df261c" stroke-width="2.8" opacity="0.75"/>
<path d="M14.7 14.3l0.9 -0.1M10.9 10.6h0M7.6 14.7h0M9.3 13.7l1.1 0.4M6.7 11.8l1.3 0.1M12.1 12.1l1.1 -0.4M17.5 15.3l1.1 -0.3M3.1 14.2l1.2 0.4M18.2 12.3l0.7 -0.8M4.6 12.0h0M4.9 11.7l1.4 0.4M4.4 12.2l0.7 -0.2M16.1 12.2l1.3 -0.6M4.5 12.3l1.6 0.1M14.5 13.2l0.6 -0.1M9.7 12.2l0.8 0.2M10.8 11.9l1.0 -0.5M4.0 10.0l1.3 0.6M7.5 12.7l0.8 -0.4M3.5 11.3l0.6 0.1M18.2 13.2l1.3 -0.6M2.3 9.6l1.1 -0.1M8.6 10.9l0.5 0.4M3.0 9.5l0.9 0.3M14.7 14.6l0.9 -0.9M17.0 14.1l0.5 -0.5M12.3 12.7l0.9 0.2M18.0 31.8l-1.5 0.5M16.1 29.7l-0.3 -0.9M23.5 30.7l-0.9 1.1M21.8 18.1l0.5 0.7M26.1 24.8l-0.4 1.5M25.0 26.0l0.1 0.5M24.9 25.5l-0.8 1.3M25.2 26.2l-0.7 0.8M24.3 28.2l-0.0 0.8M25.8 23.1l0.0 1.3M25.0 30.7l-0.1 0.9M12.3 27.3l-0.5 -0.9M24.4 25.7l-0.3 0.6M24.5 28.5l-0.8 0.4M25.1 29.3l-0.3 1.4M26.2 27.0l-0.4 0.5M24.8 24.1l-0.2 0.4M16.6 30.0l-0.9 -0.1M21.5 15.7l1.1 0.9M21.8 17.1h0M23.9 19.5l0.2 1.5M17.8 29.8l-1.1 -0.5M15.5 27.6l-0.8 -0.5M25.6 21.2l0.5 1.4M24.2 30.6h0M23.9 19.2h0M19.7 31.2l-0.6 -0.3M14.6 30.4l-0.6 -0.1M25.8 25.3l-0.5 0.4" stroke="#e3241b" stroke-width="1.2"/>
<path d="M13.2 14.4l1.0 0.2M11.8 15.3l1.0 0.3M2.8 11.8l1.1 0.1M15.3 12.8l1.0 0.7M4.5 9.5l1.0 0.7M11.8 16.8l1.2 0.1M3.1 8.3h0M9.4 14.1l1.4 0.5M15.3 13.1l0.9 -0.4M11.2 14.9l0.3 0.5M4.6 13.2l0.4 0.9M3.9 13.6l0.5 0.3M7.2 11.2l0.5 -0.0M2.6 12.7l1.2 -0.4M9.8 14.5l0.8 0.8M3.2 8.3l0.7 -0.1M0.9 11.8l0.6 0.3M13.9 15.7l0.9 -0.1M17.5 12.0l1.5 0.5M11.4 12.6l0.9 0.2M9.1 12.4l0.6 -0.1M12.2 13.9l0.5 -0.2M8.5 11.6l0.8 -0.1M16.4 16.2l0.9 -0.7M2.5 10.9l0.6 -0.2M3.9 12.9l0.4 -0.1M14.1 13.0l1.5 0.0M25.4 21.4l0.5 1.0M13.9 25.6l-1.1 -0.5M25.2 23.9l-0.7 1.0M12.9 25.5l-1.2 -0.5M16.5 26.3l-0.3 -0.9M18.6 31.4l-0.8 -0.5M25.0 28.4l-0.6 0.4M23.2 13.9l1.1 0.5M21.6 31.7l-0.9 0.2M21.7 28.7l-0.3 1.6M22.3 15.6l0.7 1.0M19.8 30.6l-0.8 -0.7M21.4 17.8l1.0 1.1M20.0 28.0l-1.0 0.1M23.9 26.4h0M26.8 24.8l-0.5 1.4M15.8 29.2l-0.7 -0.6M25.9 28.3l-0.5 0.3M23.7 27.8h0M19.3 30.7l-1.1 -0.5M17.3 32.6l-1.0 -0.6M23.1 31.2l-0.5 0.4M20.6 31.0l-1.1 -0.4M24.6 27.1l-0.5 1.3M17.7 31.3l-0.5 -0.4M26.1 22.3l-0.1 1.1M20.6 28.4l-0.8 0.8M24.0 22.3l-0.5 0.7M24.7 20.9l0.4 0.3M21.3 16.3l0.8 0.4M25.0 21.4l0.4 0.8M22.9 32.7l-0.3 0.7M22.2 33.7l0.2 1.1M23.0 34.4l-0.1 0.6M22.3 33.6l0.7 0.1M21.1 32.1l0.6 0.9M22.7 32.2l-0.2 0.5" stroke="#e3241b" stroke-width="1"/>
<path d="M6.8 11.1l1.3 0.8M9.5 14.1l0.5 0.7M14.6 12.4l1.0 0.3M16.9 15.8l0.6 -0.3M10.9 17.0l0.5 0.0M11.5 11.4l1.1 0.4M14.4 11.9l1.0 -0.5M6.2 12.7l0.5 0.1M18.6 17.5l0.6 -0.3M0.4 11.6l0.5 0.0M17.9 10.7l1.3 0.3M15.5 11.0l0.8 0.5M12.9 12.9l0.9 -0.7M9.7 14.6l1.4 0.0M24.0 27.7l-0.6 0.2M24.8 28.5l-0.6 1.3M22.0 15.6l0.5 0.5M19.7 15.6l1.0 0.5M24.5 19.8l-0.1 0.9M24.8 20.8l0.5 0.5M21.2 18.3l0.9 1.1M17.9 31.5h0M14.7 26.7h0M23.8 18.4l0.2 1.1M21.6 16.3l0.5 0.6M17.1 28.2l-0.4 -1.4M27.3 25.7l0.2 0.4M23.4 30.5l-0.4 0.4M20.6 31.3l-0.6 -0.3M21.7 32.9l0.4 0.7M21.8 35.1l0.2 0.6" stroke="#ee3424" stroke-width="1"/>
<path d="M17.1 16.0l1.2 0.2M12.8 16.2l0.7 0.2M7.9 13.9h0M10.4 14.7l1.1 0.6M10.8 12.9l1.0 0.1M7.7 13.3l0.9 0.3M5.9 11.2l1.3 0.7M5.6 14.0l1.3 -0.3M18.2 10.7l0.8 0.0M0.5 11.8l0.4 0.2M16.8 12.2l0.5 0.2M10.3 14.6l1.1 0.8M15.5 28.7l-0.4 -1.0M17.8 30.4l-0.3 -0.7M24.8 19.9l1.0 0.9M15.2 29.4l-1.2 -0.5M24.4 24.8l0.1 1.2M18.5 28.3h0M24.2 22.6h0M24.8 27.9l-0.9 0.8M24.0 30.1l-0.3 0.3M14.2 27.5l-0.7 -0.8M22.5 30.8l-1.4 -0.2M22.8 20.7l0.8 0.7M17.0 29.7l-0.5 -0.5M18.8 16.9l1.2 1.0M13.9 29.4l-0.8 -0.7M22.1 32.6l-1.3 -0.4M21.5 32.1l0.8 0.8M22.5 33.6l0.6 0.9" stroke="#d81f16" stroke-width="1.2"/>
<path d="M9.6 13.5l1.0 0.2M12.3 14.2l1.5 0.1M2.7 12.9l0.6 -0.1M16.3 13.5l0.9 -0.0M15.2 11.6l1.3 0.2M11.8 14.1h0M14.6 13.0l0.5 0.0M10.0 12.5l1.0 0.4M13.4 11.3l0.9 -0.1M6.4 11.2l1.3 0.7M8.1 12.2l0.5 0.5M11.1 13.1l1.3 0.6M5.9 15.0l1.0 0.0M5.1 13.4l1.5 0.0M3.4 14.1l0.9 0.2M5.4 12.5l0.9 0.3M7.3 9.3l0.5 0.1M21.9 30.2l-0.7 1.0M22.9 25.9l-0.8 1.0M17.0 30.1l-1.5 -0.4M13.6 28.3l-0.3 -1.1M12.5 28.0l-0.4 -0.9M23.0 17.7l0.4 0.7M22.0 30.8l-1.2 -0.0M26.8 26.5l-0.0 1.3M18.4 30.0l-1.3 -0.6M22.8 15.5l1.1 1.1M21.3 17.1l0.3 0.9M13.4 30.3l-1.0 -1.1M20.3 16.5l0.9 0.4M22.5 27.9h0M19.2 16.5l0.9 0.5M21.5 29.1l-1.4 0.6M24.2 22.3l0.5 1.5M24.6 26.9l-0.2 0.5M21.7 35.2l0.2 0.5M20.9 32.2l0.9 0.7" stroke="#d81f16" stroke-width="1"/>
<path d="M8.2 11.6l1.0 -0.7M10.2 14.0l0.9 0.2M3.9 11.2l1.1 0.5M7.1 14.1l0.7 0.5M12.7 12.1l1.2 -0.1M0.9 11.9l1.2 0.1M2.4 10.6l0.4 0.1M6.8 15.5l1.2 0.8M10.1 11.9l0.8 0.1M6.3 6.1l0.5 0.6M14.7 14.9l0.7 -0.1M11.5 12.4l0.3 0.7M6.3 14.5l1.5 0.2M19.0 31.2l-0.6 -1.0M13.2 26.5l-0.4 -0.7M13.5 27.8l-0.1 -1.5M14.6 30.7h0M21.5 30.2l-0.7 0.3M18.7 31.2l-0.9 -0.9M18.2 28.6l-0.7 -0.3M19.4 31.5l-1.5 0.0M24.6 20.3l0.6 0.1M22.9 28.7l-0.3 0.4M22.0 30.1h0" stroke="#ee3424" stroke-width="1.2"/>
<path d="M7.7 17.8L8.2 19.5L8.3 21.0L9.4 22.5L10.2 23.8" stroke="#e6d21f" stroke-width="1.6"/>
<path d="M25.4 10.3L27.3 9.8L28.1 9.1L29.6 8.1L30.8 7.3" stroke="#5cba4a" stroke-width="2.2"/>
<path d="M21.9 9.3L23.7 9.0L24.7 7.4L26.8 6.5" stroke="#3aa86a" stroke-width="1.6"/>
<path d="M4.2 10.0h0M3.6 9.8l0.2 0.6M0.9 13.1l0.4 0.2M1.5 12.0h0M1.3 11.8l-0.8 0.3" stroke="#22b8d8" stroke-width="1.2"/>
<path d="M4.2 10.3l-0.5 0.4" stroke="#22b8d8" stroke-width="1"/>
<path d="M3.1 9.9l0.6 0.1" stroke="#2fae9e" stroke-width="1.2"/>
<path d="M27.5 23.5l-0.7 0.4" stroke="#2fae9e" stroke-width="1"/>
<path d="M26.6 23.4l-0.3 0.8M1.2 12.8l-0.7 0.1" stroke="#3c8ed2" stroke-width="1.2"/>
<path d="M27.0 23.4h0M26.6 23.1l0.1 0.5" stroke="#3c8ed2" stroke-width="1"/>
<path d="M21.2 9.2l1.0 0.5M14.8 3.5l0.8 1.0M17.3 6.9l0.7 -0.1M22.2 16.7l1.2 -0.3M27.0 11.8h0M32.7 6.0h0M27.3 13.2l0.8 0.0M32.9 9.5l0.8 -1.1M23.9 12.3l0.6 -0.7M23.7 10.4l0.9 0.3M32.1 3.7l1.0 -0.3M31.3 4.5l1.0 -0.1M33.8 11.5l0.5 -0.0M33.9 10.9l0.5 -0.1M31.8 12.9l0.9 -0.8M33.8 10.8l1.2 -0.5M33.4 28.7l0.7 0.4M23.6 28.1l0.9 0.1M28.8 26.5l1.0 0.3M28.0 40.0l0.5 -0.0M29.1 34.2h0M12.4 18.8l0.5 -0.4M15.6 27.8l-0.9 -0.1M4.0 6.2h0M4.2 6.7l0.4 0.9" stroke="#43268f" stroke-width="0.8" opacity="0.75"/>
<path d="M13.5 -0.6l0.1 0.5M12.3 0.3l0.2 0.6" stroke="#7a60c0" stroke-width="1" opacity="0.75"/>
<path d="M16.6 3.3l0.3 0.4M19.2 5.0l0.5 0.6M17.5 5.9l0.6 0.4M22.4 11.5l0.7 -0.1M29.5 29.4l0.6 0.8M26.8 31.0l0.7 0.1M29.5 31.8l0.8 0.3M10.5 18.5l0.6 -0.7" stroke="#43268f" stroke-width="0.8"/>
<path d="M15.0 1.0l0.3 0.6M16.3 3.0l0.4 0.7M15.5 5.1l0.7 0.6M31.5 9.0l1.0 -0.8M10.0 25.1l-0.2 -0.6M11.6 16.8l0.5 -0.4M14.6 28.8l-0.8 -0.2" stroke="#3440b8" stroke-width="0.8" opacity="0.75"/>
<path d="M15.1 1.7l0.4 1.1M21.1 7.5l0.8 0.3" stroke="#43268f" stroke-width="1" opacity="0.75"/>
<path d="M21.8 8.4l0.9 0.7M20.3 6.2l0.9 0.4" stroke="#2f55c4" stroke-width="1" opacity="0.75"/>
<path d="M19.1 6.6l0.8 0.1M17.4 4.2l0.5 0.4M22.5 16.3l0.4 0.3M29.1 12.0l1.2 -0.1M25.0 3.4l0.6 -0.1M29.7 5.1l0.7 -0.5M25.4 3.9h0M24.2 4.9l0.4 -0.8M30.3 14.4l0.7 -0.1M35.5 10.1h0M27.8 23.8l0.8 0.3M34.0 32.0l0.5 0.2M27.5 29.0l0.2 0.6M27.9 24.5h0M24.2 31.4l0.8 0.7M28.9 33.6h0M6.4 7.9l0.6 0.2" stroke="#8a74c8" stroke-width="0.8" opacity="0.75"/>
<path d="M13.2 0.1l0.6 0.3M13.9 1.6l0.4 0.6M33.1 10.3l0.7 -1.1M29.4 39.1l0.5 0.2M30.0 35.1l1.3 -0.0M24.4 33.3h0M15.2 14.2l0.9 -0.0M12.2 26.5l-0.6 -0.6M9.3 25.2h0M18.7 16.6l0.7 0.4M11.3 25.8l-0.4 -0.6" stroke="#2b2f9a" stroke-width="0.8" opacity="0.75"/>
<path d="M14.6 2.5h0M32.9 26.8l0.2 0.4" stroke="#2b2f9a" stroke-width="1"/>
<path d="M18.1 3.7l0.9 0.9M17.0 5.1l0.3 0.4M20.0 6.4l0.4 0.6M26.5 3.4l0.8 -0.8M28.6 4.3l0.6 -0.3M30.9 11.2l0.7 0.1M35.4 10.8l0.6 0.1M33.7 9.5l0.7 -0.4M35.1 12.5l0.9 -0.3M31.0 11.7l1.1 -0.3M24.6 32.1l0.4 0.9M29.9 36.1l1.2 0.5M26.7 33.0l-0.0 0.8M27.1 34.6l0.9 0.8" stroke="#7a60c0" stroke-width="0.8" opacity="0.75"/>
<path d="M19.5 5.7l1.3 0.6M20.0 6.7l1.2 0.9" stroke="#2b2f9a" stroke-width="1" opacity="0.75"/>
<path d="M12.8 2.1l1.2 0.8" stroke="#8a74c8" stroke-width="1"/>
<path d="M15.5 2.0l0.5 0.3M13.5 0.5l0.5 1.0" stroke="#43268f" stroke-width="1"/>
<path d="M13.2 2.9l1.2 0.1M22.3 7.3l0.6 0.2M29.1 29.2l0.8 0.9" stroke="#6a48b0" stroke-width="0.8"/>
<path d="M22.4 8.3l0.7 0.3M19.1 7.5l0.4 0.9M24.4 10.2l0.5 -0.1M27.1 13.1l0.8 -0.8M21.8 11.3l1.1 -0.1M20.3 15.6l0.4 0.3M16.4 15.0l0.5 0.1M9.4 21.4l0.2 -0.9" stroke="#2b2f9a" stroke-width="0.8"/>
<path d="M18.7 5.8l1.4 0.4M33.8 26.5l-0.7 0.1M32.1 25.8l0.3 0.4" stroke="#2f55c4" stroke-width="1"/>
<path d="M16.8 4.3l0.8 0.6M32.2 9.1l0.3 -0.5M34.8 5.5l0.8 -0.2M28.1 23.7l0.7 0.5M26.8 25.5l0.6 0.8M24.2 31.6l0.4 0.7" stroke="#7a60c0" stroke-width="0.8"/>
<path d="M28.2 12.3l0.7 -0.3M22.7 32.2l-0.0 0.5" stroke="#2b2f9a" stroke-width="0.8" opacity="0.5"/>
<path d="M33.4 6.2l1.3 -0.3M24.3 12.6l0.6 -0.0M28.6 9.8l0.3 -0.8M22.2 15.0l0.6 -0.0M36.5 7.9l0.9 -0.4M31.6 11.7l0.5 -0.2M36.9 11.1l0.9 -0.5M27.8 38.2l0.6 0.2M22.5 32.2h0M14.1 25.9h0M11.9 19.9l0.7 0.4M16.2 29.2l-0.6 -0.0" stroke="#43268f" stroke-width="0.6" opacity="0.75"/>
<path d="M36.2 8.2l0.3 -0.6M23.4 14.0h0M29.8 9.6l0.5 -0.4M28.6 29.1h0M28.8 23.2l0.8 0.8M27.5 26.9l0.5 0.4M29.2 28.3l0.3 0.3M17.7 31.0l-0.7 0.1M12.4 29.0l-0.6 -0.3" stroke="#2f55c4" stroke-width="0.8" opacity="0.75"/>
<path d="M30.7 10.2l1.0 -0.7M31.8 4.2l1.1 -0.0M31.3 2.5h0M30.1 1.4l0.7 0.7M35.3 3.1l1.0 -0.7M31.1 27.8l0.7 0.8M27.5 35.1l0.5 1.0M16.5 22.7h0M4.4 5.9l0.3 0.7" stroke="#7a60c0" stroke-width="0.6" opacity="0.75"/>
<path d="M26.7 9.4l1.1 -0.7M10.9 21.4h0M21.3 26.7l-0.6 0.6" stroke="#2f55c4" stroke-width="0.8"/>
<path d="M30.5 8.2l0.8 -0.6M32.6 7.3l0.0 -0.5M26.4 12.0l0.5 -0.7M31.9 4.2l0.7 0.2M36.0 4.9l0.5 -0.2M29.1 5.2l0.7 -0.4M31.1 13.4l0.7 0.0M27.8 36.1h0" stroke="#6a48b0" stroke-width="0.6" opacity="0.75"/>
<path d="M23.7 12.5l0.8 -0.0M28.5 10.3l1.0 -0.8M10.9 17.9l0.4 -0.4" stroke="#43268f" stroke-width="0.6"/>
<path d="M25.9 11.3l1.3 0.2M27.8 12.7h0M36.6 12.7l0.7 0.2M32.6 14.5l0.7 -0.5M16.0 21.1h0M4.4 5.7l0.5 0.5M5.5 7.5l0.5 0.7M5.3 7.1h0" stroke="#8a74c8" stroke-width="0.6" opacity="0.75"/>
<path d="M33.6 5.9l0.6 -0.4" stroke="#2f55c4" stroke-width="0.6" opacity="0.75"/>
<path d="M31.4 9.5l0.6 -0.6M31.1 12.9l0.5 0.2M31.8 29.7l0.8 0.2M30.1 23.0l1.0 0.5M26.4 27.4l0.4 0.4M18.5 19.3h0M15.4 16.9l-0.6 0.2" stroke="#7a60c0" stroke-width="0.8" opacity="0.5"/>
<path d="M27.4 7.1l0.4 -0.5M30.8 2.6l1.0 -0.1M30.4 1.5l0.5 -0.2M34.5 3.7h0M33.6 30.3l0.6 0.7M34.7 29.4l0.5 0.7M29.3 29.7l0.5 0.5M23.5 31.0l1.0 0.5" stroke="#43268f" stroke-width="0.8" opacity="0.5"/>
<path d="M34.5 8.6l0.9 -0.4M10.6 21.9l0.1 -0.9M21.1 15.4h0M12.4 27.5l-0.4 -0.3" stroke="#2b2f9a" stroke-width="0.6"/>
<path d="M24.5 13.7l1.3 0.1" stroke="#2f55c4" stroke-width="0.6"/>
<path d="M34.0 7.1l0.3 -0.4M29.9 35.9h0" stroke="#8a74c8" stroke-width="0.6"/>
<path d="M32.6 4.4h0M27.0 6.3l0.9 -0.4M32.6 6.4l1.2 -0.3M34.1 2.7l0.6 -0.3M35.7 -0.0l0.8 0.5M25.5 3.7l0.6 -0.2M24.7 4.3l0.8 -0.7M27.0 5.5l1.0 -0.5M24.2 5.6l0.6 0.1M34.7 12.6h0M37.6 11.5h0M26.6 25.0l0.5 0.5M30.0 22.4l0.3 0.5M29.0 29.8l0.9 0.8M34.3 29.2l0.6 0.5M28.7 27.4l0.2 0.5M33.8 27.0h0M30.8 24.8l1.1 0.2M30.4 38.0h0M24.3 32.1h0M30.4 36.5l0.3 0.5" stroke="#6a48b0" stroke-width="0.8" opacity="0.75"/>
<path d="M36.0 1.4h0M28.0 23.6l0.4 0.8" stroke="#6a48b0" stroke-width="0.8" opacity="0.5"/>
<path d="M25.0 5.6l0.5 -0.2M33.1 13.4l0.8 -0.9M26.8 28.2l0.8 0.5M18.6 26.3l-0.1 0.7" stroke="#8a74c8" stroke-width="0.8" opacity="0.5"/>
<path d="M30.1 13.4l0.7 -0.2" stroke="#6a48b0" stroke-width="0.6"/>
<path d="M37.5 11.5h0M12.6 17.6l-0.5 0.1M5.4 6.8l0.7 0.6" stroke="#6a48b0" stroke-width="0.6" opacity="0.5"/>
<path d="M28.0 26.6l0.5 0.5M16.4 24.1l-0.8 0.0M10.1 25.2l-0.3 0.7" stroke="#43268f" stroke-width="0.6" opacity="0.5"/>
<path d="M29.6 27.4l0.8 0.4" stroke="#2f55c4" stroke-width="0.6" opacity="0.5"/>
<path d="M31.5 27.8l0.1 1.2M27.4 36.0l1.0 0.2" stroke="#8a74c8" stroke-width="0.8"/>
<path d="M30.9 34.6l0.6 0.3M19.4 29.5l-0.8 0.3" stroke="#2b2f9a" stroke-width="0.6" opacity="0.75"/>
<path d="M32.6 27.0l0.5 0.5" stroke="#2b2f9a" stroke-width="1.2"/>
<path d="M17.8 24.7h0" stroke="#8a74c8" stroke-width="0.6" opacity="0.5"/>
<path d="M12.0 23.2h0M14.8 18.4l0.1 0.8M20.3 21.5h0" stroke="#7a60c0" stroke-width="0.6" opacity="0.5"/>
<path d="M13.7 15.2l0.5 -0.1M20.1 16.8h0" stroke="#3440b8" stroke-width="0.8"/>
<path d="M11.3 20.4h0M24.7 20.0h0" stroke="#3440b8" stroke-width="0.6" opacity="0.75"/>
<path d="M16.7 26.9l-0.8 0.1M8.6 20.2l0.2 -0.6" stroke="#3440b8" stroke-width="0.6"/>
</g>
<text x="37.1" y="35.3" font-size="4.4" text-anchor="end" fill="#333">10µm</text>
<rect x="29.6" y="36.1" width="7.5" height="0.7" fill="#333"/>
</svg>
<svg x="229.50" y="418.20" width="38.7" height="38.7" viewBox="0 0 38.7 38.7">
<rect width="38.7" height="38.7" fill="#000"/>
<g fill="none" stroke-linecap="round" stroke-linejoin="round" filter="url(#b2)">
<path d="M2.9 23.4l1.4 -1.0M17.6 19.6l0.8 -1.6M10.0 38.1l0.5 -1.6M31.2 15.4l1.6 0.1M5.3 5.7l0.8 0.0M0.5 27.1l0.8 -1.2M26.8 6.1l1.6 -0.8M13.1 29.4l0.1 -0.7M7.4 23.9l-0.0 -0.8M23.7 17.0l1.1 -0.3M23.8 14.9l0.8 -0.1M35.8 7.9l1.1 -0.1M9.2 20.6l0.2 -1.0M1.8 12.0l0.8 -1.1M17.9 9.0l0.5 -0.7M8.9 6.7l0.8 -0.6M2.3 17.2l0.1 -1.3M1.7 12.3l0.8 -0.9" stroke="#2b9a3a" stroke-width="1"/>
<path d="M26.2 12.1l2.0 -0.1M15.1 33.0l0.4 -2.0M15.9 20.4l0.6 -0.8M9.3 17.1l1.4 -1.4M19.2 13.4l1.6 -0.6M26.1 7.4l1.4 -0.7" stroke="#38b048" stroke-width="1.2"/>
<path d="M20.5 9.8l1.0 -1.1M32.5 6.3l1.4 -0.3M0.3 30.2l0.4 -1.1M8.8 25.9l-0.6 -1.4M27.6 11.3l0.6 -0.3M4.5 39.0l0.0 -1.7M0.5 24.9l0.4 -1.5" stroke="#4cc457" stroke-width="1" opacity="0.5"/>
<path d="M11.0 10.1l1.0 -1.0M14.4 16.4l0.2 -0.9M16.1 22.4l0.9 -1.6M10.7 17.6l1.6 -0.7M17.4 26.9l1.3 -1.3M26.2 13.3l1.3 -0.8M30.2 1.3l1.1 -0.4M6.8 34.6l-0.2 -1.8M2.4 18.0l-0.3 -0.8M11.8 30.2l0.6 -1.2M22.0 20.4l1.9 -0.1M12.6 24.6l0.1 -1.5" stroke="#5fd065" stroke-width="1" opacity="0.75"/>
<path d="M28.6 9.1l1.4 -1.0M5.2 31.8l0.4 -1.9M-0.0 36.0l0.3 -2.0M24.7 12.7l0.5 -0.8M7.2 27.7l0.4 -0.8M3.6 30.4l-0.3 -1.1M13.9 31.9l0.9 -1.6M0.5 24.1l0.1 -0.8M9.0 20.5l-0.3 -1.5M1.0 18.4l1.1 -1.3" stroke="#4cc457" stroke-width="1"/>
<path d="M6.4 9.9l0.7 -1.0M16.3 9.4l0.8 0.1M8.7 22.1l-0.1 -1.7M2.0 11.7l0.8 -0.7M17.2 4.9l1.7 -0.4M4.1 12.6l0.3 -1.3M2.4 3.4l1.6 -1.1M14.9 13.1l0.6 -0.9M16.0 34.8l0.2 -1.2M18.3 17.8l1.6 -1.1M16.2 24.0l0.1 -1.2M2.9 34.1l0.1 -1.3M1.4 28.0l0.8 -1.0M35.1 7.1l0.9 0.1M12.5 20.5l1.3 -0.4M9.6 34.6l-0.1 -0.8M22.4 17.4l1.0 -0.7M8.5 20.5l0.4 -0.9M2.7 31.7l0.5 -1.0M6.4 16.8l0.5 -0.7M29.1 6.0l0.6 -0.4M22.2 10.7l1.1 -0.5M19.8 11.9l1.8 -0.8M0.5 34.0l0.7 -1.0M32.1 15.2l1.2 -0.7M20.0 20.5l1.1 -1.1" stroke="#38b048" stroke-width="1" opacity="0.75"/>
<path d="M9.5 3.2l0.8 -0.7M12.0 13.1l0.5 -1.7M25.3 6.0l1.1 -1.0M36.5 1.3l1.0 -0.3M9.6 34.6l1.1 -1.3M13.7 20.7l0.8 -1.1M11.2 15.0l0.6 -0.5M13.0 29.0l1.6 -0.9M6.6 17.3l0.4 -0.9M0.2 6.1l1.8 0.6M2.5 32.2l0.2 -1.9" stroke="#4cc457" stroke-width="0.8" opacity="0.75"/>
<path d="M16.4 15.5l1.3 -0.5M5.4 8.3l0.9 -1.2M10.7 28.8l0.4 -0.8M0.4 32.9l-0.3 -1.0M1.2 4.0l0.6 -0.8M16.8 21.9l1.6 -0.9M25.0 22.2l0.4 -1.0M12.2 32.1l0.7 -1.4M14.8 9.2l0.7 -1.0M25.1 0.6l1.5 -0.9M3.8 17.0l0.5 -0.6M16.4 35.5l0.0 -0.9" stroke="#1f7a2c" stroke-width="1" opacity="0.75"/>
<path d="M12.0 35.3l0.4 -0.7M15.9 26.2l0.8 -1.6M18.7 4.4l1.0 -0.3M14.0 26.7l0.5 -1.1M20.3 23.1l0.3 -1.1M22.4 7.4l0.4 -0.7M27.5 10.3l1.1 0.0M11.4 25.5l0.6 -1.3M12.4 14.6l0.5 -0.6M2.4 38.6l0.8 -0.9M8.4 39.0l-0.5 -0.8M22.2 7.5l0.8 -0.4M11.1 22.8l0.8 -0.8M32.5 19.0l1.2 -0.3M13.9 29.7l0.5 -1.8M18.8 32.4l1.2 -1.4M22.4 22.2l1.6 -1.0" stroke="#4cc457" stroke-width="1" opacity="0.75"/>
<path d="M15.0 32.1l0.5 -1.8M22.3 20.1l0.6 -1.6M10.8 12.1l0.4 -0.7M37.5 13.7l1.1 -0.5M0.9 32.0l0.3 -0.9" stroke="#5fd065" stroke-width="1.2" opacity="0.5"/>
<path d="M24.1 4.9l1.4 -0.7M15.2 5.8l0.7 -0.8M11.4 38.1l0.5 -1.2M14.7 5.5l1.2 -0.4M29.9 17.5l1.6 -0.7" stroke="#4cc457" stroke-width="1.2"/>
<path d="M14.9 32.6l0.8 -1.6M13.4 34.3l0.1 -1.9M13.3 27.3l-0.0 -1.3M3.8 18.2l-0.1 -0.9M23.6 8.7l1.1 -0.7M24.8 7.3l1.4 -0.2M4.8 38.5l1.1 -0.4M3.4 5.4l1.9 -0.5" stroke="#38b048" stroke-width="0.8" opacity="0.5"/>
<path d="M22.0 16.8l0.5 -1.3M21.8 6.2l1.4 -0.9M4.3 33.6l-0.2 -1.4M7.6 7.2l1.1 -0.8M29.0 12.0l0.9 -0.1M19.5 15.6l1.2 -0.2M4.9 15.1l0.4 -1.1" stroke="#5fd065" stroke-width="1"/>
<path d="M3.6 27.9l1.0 -1.7M11.0 13.3l0.4 -0.6M3.0 20.0l0.2 -0.9M9.2 14.3l0.6 -0.5M21.6 16.7l0.8 -0.3M7.4 3.6l0.4 -0.7M25.5 12.2l1.0 -0.2" stroke="#4cc457" stroke-width="1.2" opacity="0.75"/>
<path d="M3.6 5.3l1.3 -0.7M11.9 29.9l0.5 -1.5M8.4 26.7l-0.0 -1.4M2.5 2.5l0.8 -0.4M24.7 17.3l0.3 -0.7" stroke="#5fd065" stroke-width="0.8" opacity="0.5"/>
<path d="M12.8 34.9l0.3 -0.9M28.0 14.6l0.5 -0.6M20.3 8.4l1.2 -0.1M18.2 18.4l0.4 -0.7M7.2 21.9l-0.2 -2.0M5.1 23.4l-0.0 -1.0M19.7 28.7l1.2 -0.4M3.8 5.0l0.6 -0.5" stroke="#5fd065" stroke-width="0.8" opacity="0.75"/>
<path d="M7.3 7.1l1.6 -0.6M23.6 17.3l0.6 -1.2M11.1 33.5l0.3 -1.1M2.1 39.2l1.6 -1.0M2.1 19.8l0.9 -0.9M12.0 34.4l0.7 -1.7M29.0 2.6l1.4 -1.1M5.3 12.7l0.5 -1.7M3.6 31.1l0.5 -0.8M17.8 36.4l-0.5 -1.9M2.5 38.3l0.7 -1.5" stroke="#1f7a2c" stroke-width="1"/>
<path d="M9.3 14.0l0.6 -0.4M28.6 21.5l0.6 -0.4M29.6 15.0l1.3 -0.5M33.3 6.7l1.8 -0.7M34.4 8.5l1.0 -0.7" stroke="#2b9a3a" stroke-width="1.2"/>
<path d="M3.6 24.3l0.2 -1.9M28.2 7.3l1.1 0.8M3.0 3.9l1.3 -0.5M10.2 16.0l1.3 -1.4M17.2 10.2l1.7 -0.3M7.6 18.3l0.3 -0.7M19.3 2.4l0.6 -0.7M6.1 21.4l0.3 -1.2" stroke="#2b9a3a" stroke-width="0.8" opacity="0.75"/>
<path d="M13.1 26.1l-0.4 -1.3M4.5 0.8l0.6 -0.3M6.2 1.3l0.6 -0.5M7.4 21.2l0.7 -1.8M19.7 17.8l1.3 -1.3M18.4 11.1l1.3 -1.1M6.1 16.3l0.6 -0.6M14.3 30.8l0.4 -1.7M18.5 8.7l1.0 -1.0M36.9 13.1l1.4 1.0M8.3 33.8l1.1 -1.2M5.1 21.6l0.4 -1.0M8.1 29.3l0.6 -1.6M31.4 18.4l1.3 -0.5M19.0 7.5l0.9 -0.0" stroke="#2b9a3a" stroke-width="1.2" opacity="0.75"/>
<path d="M1.5 37.6l-0.3 -0.9M17.0 6.0l0.6 -0.6M10.8 23.7l0.5 -1.0" stroke="#1f7a2c" stroke-width="0.8" opacity="0.5"/>
<path d="M20.0 13.5l0.4 -1.2M8.4 36.0l-0.2 -1.6M0.3 35.0l0.5 -1.2M33.9 12.8l0.8 -0.1M10.0 17.2l0.3 -0.8M1.8 33.5l0.6 -0.7M18.7 20.3l1.0 -0.7M3.8 3.6l1.7 -0.4M26.8 3.5l1.0 -0.9M4.1 9.1l1.5 -1.2M20.5 20.0l1.9 -0.7M11.3 18.7l0.3 -0.7M5.1 29.9l0.7 -1.1M12.1 15.5l0.7 -1.0M10.4 31.2l0.2 -0.8M1.3 30.6l1.1 -1.2M32.8 4.1l1.6 -0.1M11.2 17.2l0.3 -1.1" stroke="#38b048" stroke-width="0.8" opacity="0.75"/>
<path d="M1.3 14.8l0.7 -0.3M13.6 18.9l0.7 -0.8M1.5 11.1l0.8 -1.0M4.9 31.7l0.7 -1.1M15.8 18.2l0.5 -0.7M14.2 19.3l1.4 -1.0M10.5 38.3l0.6 -0.7M9.6 28.3l-0.2 -1.6M6.8 13.5l0.4 -0.7M31.0 14.5l1.6 0.0M27.3 1.2l1.0 -0.9M7.7 2.9l0.7 -1.3M8.6 12.1l1.4 -1.0M1.8 3.8l1.0 -0.8" stroke="#38b048" stroke-width="1"/>
<path d="M15.0 34.3l0.8 -0.6M22.1 10.9l1.2 -1.3M25.8 17.7l1.2 -1.1M21.3 22.2l0.7 -1.2M3.2 25.4l0.1 -1.6M14.4 8.1l1.9 -0.3M6.6 4.4l0.9 -0.5M28.6 2.7l1.4 -0.2M25.7 22.1l1.0 -1.3M34.9 17.5l1.7 -0.6M2.6 28.6l1.0 -1.4M9.1 9.1l1.0 -1.6" stroke="#38b048" stroke-width="1.2" opacity="0.75"/>
<path d="M3.7 20.1l1.3 -0.7M21.1 20.5l0.7 -0.6M5.4 16.5l0.1 -1.1M32.0 12.8l1.6 -0.7M7.9 32.9l0.8 -1.7M2.2 6.9l1.0 -0.4M1.1 35.1l0.1 -1.0M19.9 15.6l1.0 -0.7M8.6 36.7l0.0 -1.5M17.0 24.5l0.6 -1.3M0.2 16.5l0.6 -0.7M4.5 23.4l-1.2 -1.4M24.2 7.9l1.0 -0.2" stroke="#2b9a3a" stroke-width="1" opacity="0.5"/>
<path d="M31.2 12.1l1.3 -0.0M2.5 29.4l0.0 -0.8M13.1 37.4l0.8 -0.6M14.4 28.3l0.4 -0.7M2.5 1.3l0.8 -1.8" stroke="#1f7a2c" stroke-width="0.8" opacity="0.75"/>
<path d="M10.7 34.4l1.5 -1.0M18.9 4.0l0.7 -0.7M-0.0 14.6l1.0 -0.4M16.6 16.8l0.9 -1.0M-0.5 23.6l1.4 -0.9" stroke="#2b9a3a" stroke-width="0.8" opacity="0.5"/>
<path d="M0.2 38.9l0.6 -0.8M0.3 17.0l0.3 -0.7M32.5 15.5l1.2 -0.8M12.3 25.4l0.8 -1.0M16.5 27.3l0.9 -1.5M2.9 35.3l0.7 -0.7M7.3 10.6l1.3 -1.4M24.1 17.7l0.6 -0.6M29.5 5.8l0.7 0.0M14.9 11.6l0.9 -1.5M4.6 17.0l0.1 -1.1M10.2 31.1l-0.7 -1.7M2.0 32.0l0.8 -1.3M11.9 14.1l1.1 -1.2M18.3 25.5l1.4 -1.1M8.9 34.2l0.6 -1.8M9.8 28.3l1.0 -1.0M36.2 16.4l1.0 -0.4M24.9 6.1l0.9 -0.5M2.8 33.7l0.4 -1.1M13.7 3.3l1.0 -0.7M0.5 12.3l0.4 -1.0M14.0 9.4l0.9 -1.0M7.1 20.4l0.4 -1.8M9.3 10.5l0.8 -0.4M34.0 6.8l0.6 -0.4M12.3 29.3l-0.3 -1.2M10.8 12.4l0.8 -1.3M27.7 16.7l0.6 -1.5" stroke="#2b9a3a" stroke-width="1" opacity="0.75"/>
<path d="M10.9 27.6l1.0 -1.0M11.4 33.0l0.9 -1.7M32.4 14.4l0.7 0.2M5.1 23.3l0.4 -0.6M4.1 6.9l0.7 -0.8" stroke="#4cc457" stroke-width="1.2" opacity="0.5"/>
<path d="M8.9 33.8l1.6 -0.6M5.9 24.9l1.2 -0.9M4.9 24.0l0.3 -1.7M10.6 37.1l-0.1 -0.9M26.0 18.9l1.1 -0.6M8.7 29.7l-0.0 -1.2M28.8 9.5l1.6 -0.1M22.3 20.7l0.8 -0.1" stroke="#2b9a3a" stroke-width="1.2" opacity="0.5"/>
<path d="M17.4 25.8l0.0 -0.7M24.3 3.3l0.8 -0.3M7.4 1.9l1.0 -0.6M16.2 16.2l1.2 -0.7M20.3 15.9l1.8 -0.4M27.7 1.2l1.0 -1.0M12.6 7.2l1.1 -0.4M3.0 12.2l1.3 -1.0" stroke="#1f7a2c" stroke-width="1" opacity="0.5"/>
<path d="M14.6 14.0l1.0 -1.4M2.3 4.9l1.3 -1.1M20.2 15.3l1.6 -0.8M32.8 15.9l0.6 -1.1M18.1 18.2l0.0 -1.3M14.8 1.0l1.7 0.0M28.3 12.8l1.1 -0.3M5.3 2.1l0.8 -0.5" stroke="#38b048" stroke-width="1.2" opacity="0.5"/>
<path d="M3.2 20.1l0.8 -0.8M33.4 17.2l1.0 -0.1M25.0 12.2l1.6 -0.5M5.3 4.7l1.0 -0.4M12.6 37.7l0.4 -0.9" stroke="#2b9a3a" stroke-width="0.8"/>
<path d="M10.2 17.9l0.2 -1.2M33.3 4.4l1.1 -0.2M16.1 22.5l1.3 -1.5M5.0 38.8l-0.0 -1.7M17.0 12.5l0.6 -1.1M26.9 1.1l1.4 1.2M10.7 15.2l1.1 -1.0M20.6 16.6l1.0 -1.2" stroke="#1f7a2c" stroke-width="1.2" opacity="0.75"/>
<path d="M12.1 22.7l1.2 -0.1M8.4 25.9l1.0 -1.6M30.6 7.7l1.8 -0.3M28.8 6.4l1.4 -0.7M0.8 3.4l0.5 -0.7M3.1 2.3l1.0 -0.5M19.8 5.4l1.4 -0.6" stroke="#5fd065" stroke-width="1.2" opacity="0.75"/>
<path d="M10.6 21.4l0.3 -1.4M26.6 11.7l1.8 -0.9M17.2 34.7l1.2 -1.0M19.3 13.3l0.9 -0.6M3.4 38.4l0.5 -1.1M17.6 13.8l1.1 -0.9M21.1 13.3l1.4 -1.1" stroke="#38b048" stroke-width="0.8"/>
<path d="M29.8 8.7l1.1 -0.6M8.5 23.5l0.3 -1.6" stroke="#1f7a2c" stroke-width="0.8"/>
<path d="M4.5 17.3l0.7 -1.2M1.0 6.9l1.1 -1.0M2.6 29.3l1.1 -1.3M10.3 39.0l0.2 -0.7M7.2 32.0l-0.0 -1.6" stroke="#4cc457" stroke-width="0.8" opacity="0.5"/>
<path d="M11.2 36.5l0.5 -1.8M36.6 10.3l1.2 -0.5M14.2 2.2l0.8 -0.7M3.7 39.4l0.1 -1.4M3.1 36.5l0.0 -1.0M15.1 7.0l1.0 -1.3M9.5 35.7l0.2 -0.8" stroke="#5fd065" stroke-width="1" opacity="0.5"/>
<path d="M25.4 11.5l0.4 -0.9" stroke="#1f7a2c" stroke-width="1.2" opacity="0.5"/>
<path d="M10.6 3.2l1.4 -0.0M8.4 13.3l0.6 -0.6M15.1 36.6l0.3 -0.8M2.9 12.2l1.2 -1.1M5.0 28.2l0.7 -0.5M18.0 21.5l0.3 -1.6M36.0 4.9l0.6 -0.4M28.9 11.3l1.2 -0.6M12.6 14.0l1.1 -0.5" stroke="#38b048" stroke-width="1" opacity="0.5"/>
<path d="M37.9 7.5l0.9 -0.3" stroke="#5fd065" stroke-width="0.8"/>
<path d="M34.7 16.1l0.8 -0.3M25.8 20.3l1.9 -0.7" stroke="#1f7a2c" stroke-width="1.2"/>
<path d="M8.0 32.2l0.4 -1.9M10.8 4.7l0.8 -0.7" stroke="#5fd065" stroke-width="1.2"/>
</g>
<text x="1.8" y="5.0" font-size="5.0" fill="#fff">i</text>
<text x="37.1" y="35.3" font-size="4.4" text-anchor="end" fill="#fff">5µm</text>
<rect x="30.6" y="36.1" width="6.5" height="0.7" fill="#fff"/>
</svg>
<svg x="269.80" y="418.20" width="38.7" height="38.7" viewBox="0 0 38.7 38.7">
<rect width="38.7" height="38.7" fill="#cfcfcf"/>
<g fill="none" stroke-linecap="round" stroke-linejoin="round" filter="url(#b3)">
<path d="M8.5 35.0l-1.3 0.1M6.8 28.1h0M5.5 27.6l0.0 0.6M5.9 33.0l-0.7 1.1M10.6 33.7l0.7 0.1M4.1 32.5l-0.6 0.7M7.4 28.3h0M2.7 29.9l-0.0 1.8M6.2 34.2l0.7 0.5M-2.9 27.4l1.1 0.0M2.4 32.3l-1.5 0.0M4.6 31.0l-0.2 1.2M5.0 28.8l0.5 0.2M4.3 33.1l-1.3 1.3M4.5 38.4l-1.5 0.4M5.8 35.4l1.5 0.7M5.6 37.1l0.6 0.8M2.2 23.1l-0.0 0.5M2.1 24.9h0M0.2 26.3l0.3 0.4M-0.1 25.6l-0.3 0.8M-0.1 24.5l-0.1 0.6M2.5 22.2l-0.5 0.8M11.8 37.2l0.8 0.6M11.7 38.7l1.3 0.2M10.9 38.2h0M11.9 36.9h0M10.4 35.9l1.3 0.2M11.0 37.4l0.8 -0.1M9.5 38.8l1.0 -0.2" stroke="#e3241b" stroke-width="1.2"/>
<path d="M7.0 31.3l0.4 0.4M8.7 34.5l-0.3 0.7M4.5 38.8l-1.1 0.6M3.8 27.7l1.1 0.6M6.2 34.1l-0.1 1.1M7.3 32.8l-0.9 0.5M9.1 37.1l1.2 0.1M3.8 29.6l0.4 0.7M4.4 33.1l0.4 0.5M0.6 25.8l1.3 0.9M2.3 29.7l0.4 0.8" stroke="#e3241b" stroke-width="1.4"/>
<path d="M6.1 34.3l-0.2 0.9M7.0 26.5l-1.6 0.2M-3.0 33.7l0.6 1.1M9.5 30.4l-0.9 0.6M3.8 24.4l-1.5 0.1M7.6 24.0h0M5.9 37.0l0.8 1.4M5.7 41.6l-0.5 1.0M5.5 30.9l0.0 1.4M4.5 30.0l1.2 0.4M1.9 26.0l-0.2 1.2M7.9 35.2l1.1 -0.1M9.2 38.5l0.6 -0.1M10.6 37.2l0.5 0.2" stroke="#ee3424" stroke-width="1.2"/>
<path d="M-2.2 36.6l0.0 0.6M5.4 36.1l-0.4 0.8M-3.9 34.3l-0.3 0.7M1.9 35.2h0M9.8 34.2l-0.5 1.0M7.3 34.7l-0.3 0.5M1.9 38.4h0M6.2 32.2l-1.4 0.7M-0.7 29.8l-0.8 0.8M-0.3 29.6l0.1 0.8M11.8 34.0l-0.6 0.1M2.5 23.8l0.0 0.5M7.7 35.6l1.3 -0.2" stroke="#ee3424" stroke-width="1"/>
<path d="M6.6 34.3l-0.1 0.5M8.8 32.6l-0.9 0.9M1.0 25.9l-0.3 0.7M3.7 34.8l-0.3 1.3M5.5 28.5l-0.1 0.7M0.4 37.5l0.6 0.1M8.5 38.8l0.1 1.5M2.4 35.2l0.7 1.4M-1.1 24.8l-0.6 0.9M1.4 27.8l-0.0 0.5M2.1 23.9l-0.2 1.2M1.8 26.5l0.2 0.6M1.0 26.4l0.2 0.5M10.1 36.5l0.6 -0.2M8.9 35.3l0.9 -0.3M7.7 37.3l0.9 0.5" stroke="#e3241b" stroke-width="1"/>
<path d="M-0.2 23.1l-0.1 1.8M7.6 36.5l-0.4 0.3M5.8 32.8l0.7 0.5M5.5 30.3l-0.8 0.3M8.3 28.5l-1.2 0.5M2.5 31.5l0.4 0.8M7.6 36.7l-0.6 0.4M5.1 39.5l-1.1 0.7M1.1 34.1l-0.9 0.9M8.1 37.7l-1.6 0.1M-0.7 26.6l0.1 1.6M3.8 25.4l-0.2 1.1M8.0 29.7l-0.6 0.7M5.4 34.3l-0.1 0.6M0.7 25.2l-0.9 1.1M2.3 26.4l-0.8 1.3M8.5 37.8l1.1 -0.5" stroke="#d81f16" stroke-width="1.2"/>
<path d="M4.8 23.2l-1.2 0.2M-0.5 38.7h0M2.2 32.4l0.3 1.7M6.9 29.0l-1.5 0.2M6.1 37.5h0" stroke="#ee3424" stroke-width="1.4"/>
<path d="M3.6 33.6l0.6 0.1M5.5 27.0l-0.2 1.0M2.3 40.3h0M0.0 37.6l-1.2 0.2M8.3 28.0l-0.6 0.6" stroke="#d81f16" stroke-width="1.4"/>
<path d="M5.6 39.3l-0.5 0.2M5.1 43.3l1.7 0.4M5.5 29.8l-0.5 0.7M1.2 24.0l0.5 0.8M1.9 24.2l0.2 1.1M10.9 37.2l0.9 0.3" stroke="#d81f16" stroke-width="1"/>
<path d="M7.8 17.0L8.9 15.8L10.4 14.8L11.7 14.3L13.0 13.2" stroke="#3aa86a" stroke-width="2.4"/>
<path d="M13.7 20.1L15.2 18.9L16.8 18.1L17.4 16.8L18.7 16.5L20.3 14.9L22.1 14.3L23.2 13.8" stroke="#86cc66" stroke-width="3.2"/>
<path d="M14.8 16.7L16.5 15.1L18.0 14.5" stroke="#6fc05a" stroke-width="1.6"/>
<path d="M22.3 17.4l0.5 -0.6M34.5 9.9l1.2 -0.4M33.6 14.7l0.5 -0.4M34.8 14.7l1.3 0.8M36.7 16.8l0.7 -0.6M29.8 18.2l0.8 -0.7M35.4 14.4l1.3 0.6M22.4 21.8l1.2 -0.6M17.9 22.3l1.8 0.1M13.3 28.4l0.7 -0.6M11.6 27.6l1.3 -0.5M17.2 26.1l0.8 -0.4M11.2 33.9l1.7 -1.0M16.0 33.1l-0.1 -1.2M24.5 10.0l0.7 -0.1M27.6 9.1l1.0 -0.2" stroke="#2f55c4" stroke-width="1.2"/>
<path d="M25.1 17.4l1.5 -1.0M35.6 10.9l1.0 -0.5M21.6 24.2l1.9 -0.2M20.9 22.2l1.6 -0.2M10.3 23.8l2.0 -0.4M16.8 22.2l0.5 -1.1M9.2 29.0l1.5 -0.4M17.8 24.7l1.8 -0.6M18.6 24.6l0.5 -0.3M13.1 32.9l0.7 -1.0M15.9 32.1l0.1 -1.1M10.9 32.4l1.3 -0.5M34.2 7.3l1.4 -0.8" stroke="#2b2f9a" stroke-width="1.2"/>
<path d="M33.5 14.4l0.6 -0.4M14.5 25.6l0.5 -0.4" stroke="#3440b8" stroke-width="1.2" opacity="0.75"/>
<path d="M22.2 18.0l0.8 -0.5M27.6 15.1l1.2 -0.4M24.5 16.7l0.9 -0.2M22.9 17.0l0.2 -0.5M27.3 8.3l1.3 -0.5" stroke="#3440b8" stroke-width="1"/>
<path d="M30.7 12.8l1.6 0.4M36.9 11.8l0.8 -0.9M33.4 15.1l1.8 0.1M26.0 19.7l1.5 -0.5M12.8 27.5l0.9 -0.7M13.3 26.1l0.6 -0.1M15.7 30.7l0.1 -0.6M15.6 29.2l-0.4 -0.9M29.0 9.2l0.9 -0.1M-0.2 13.3l0.1 0.9" stroke="#3c8ed2" stroke-width="1.2"/>
<path d="M34.3 11.0l0.7 -0.6M13.2 26.4l1.7 -0.1M13.1 31.1l0.8 -0.7M15.2 31.8l0.7 -0.1" stroke="#3c8ed2" stroke-width="1.2" opacity="0.75"/>
<path d="M24.8 17.0l0.5 -0.5M25.1 15.1l0.5 -0.8M36.8 11.9l0.6 -1.1M34.1 9.9l0.4 -0.8M22.2 20.6l1.5 -0.5M22.4 19.9l1.5 -1.3M12.6 24.6l1.9 -0.0M18.0 25.0l1.6 -0.6" stroke="#2b2f9a" stroke-width="1"/>
<path d="M31.9 15.1l0.6 -1.2M24.5 16.8l0.8 -0.9M28.2 18.3l1.3 -0.9" stroke="#3c8ed2" stroke-width="1" opacity="0.75"/>
<path d="M29.3 13.0l1.4 -1.2M28.7 14.4l1.5 -0.7M32.4 11.9l1.8 0.2M27.8 13.1l1.2 0.6M36.3 15.0l1.4 -1.3M18.3 20.9l1.4 -0.6M18.4 19.6l1.8 -0.0M11.8 29.5l0.5 -0.1M16.3 30.0l0.5 -0.5M35.1 7.6l0.6 -0.4" stroke="#2f55c4" stroke-width="1"/>
<path d="M31.4 12.5l0.7 -0.3M26.6 19.4l1.1 -0.6M37.6 16.6l1.1 -1.3M13.7 22.3l0.5 -0.5M17.1 32.6l0.5 -1.2M34.0 8.3l0.7 -0.2" stroke="#2b2f9a" stroke-width="1.2" opacity="0.75"/>
<path d="M35.6 10.6l0.5 -0.6M16.7 20.2l1.1 -0.0M12.3 26.5l0.9 0.1M32.5 5.9l0.9 -0.0" stroke="#3440b8" stroke-width="1" opacity="0.75"/>
<path d="M30.9 15.3l0.9 -0.2M23.6 19.7l1.1 -0.4M11.7 23.6l1.8 -0.9M14.5 26.2l1.0 -0.8M15.4 32.3l0.9 -0.7M28.8 10.2l0.4 -0.7M28.6 7.9l1.6 0.6" stroke="#2f55c4" stroke-width="1" opacity="0.75"/>
<path d="M27.4 18.8l0.8 -0.6M34.1 15.7l0.6 -0.2M36.4 16.7l0.9 -0.4M11.3 25.0l1.5 -0.4M14.4 23.3l0.6 -0.8M29.4 8.5l1.0 -0.2M2.9 13.0h0M6.0 13.3l-0.9 0.3" stroke="#3c8ed2" stroke-width="1"/>
<path d="M30.4 18.3l0.5 -0.7M11.8 24.0l1.0 -0.4M16.3 30.2l1.9 -0.2" stroke="#2b2f9a" stroke-width="1" opacity="0.75"/>
<path d="M15.4 22.8l0.6 -0.2M15.5 22.6l1.2 -0.7M14.8 30.4l1.6 -1.0M31.1 8.4l1.3 -0.3M31.0 8.8l0.7 0.3M26.7 8.9l2.0 -0.3" stroke="#2f55c4" stroke-width="1.2" opacity="0.75"/>
<path d="M11.9 24.2l1.3 -0.3M9.5 28.0l0.8 -1.1M9.9 27.5l1.4 -1.0M10.6 28.8l1.6 0.3M29.8 8.2l0.8 -0.2" stroke="#3440b8" stroke-width="1.2"/>
<path d="M16.6 7.5l0.4 -1.1M5.5 12.3l0.3 -0.5M25.4 1.5l0.7 -0.2M15.3 6.4l0.8 -0.4M20.6 4.2h0M15.7 10.0l1.0 0.3M20.6 7.2h0M23.2 6.1l0.6 -0.3M32.6 4.9l1.4 0.4M32.6 5.4l1.2 -0.9M30.0 20.1l0.7 -0.0M5.0 12.5l0.7 0.1" stroke="#5a3ab0" stroke-width="0.8" opacity="0.75"/>
<path d="M6.6 11.5l0.7 -1.0M10.1 6.6l0.5 -0.9M20.2 4.3l1.2 0.9M23.1 5.7h0M32.6 6.2l1.0 -0.1" stroke="#4b2a9a" stroke-width="0.8"/>
<path d="M12.5 7.0l1.3 -0.2M17.6 4.7l0.3 -0.4M11.5 7.8l0.5 0.0M6.1 10.2l0.5 -0.0M25.8 0.7l1.2 -0.8M14.8 12.0l1.0 -0.3M35.9 5.5l0.8 0.4M30.1 4.2l1.2 -0.4" stroke="#6a48b8" stroke-width="1" opacity="0.75"/>
<path d="M4.6 10.4l0.9 -0.2M6.1 9.8h0M27.5 5.8l1.3 -0.7M28.3 4.1l1.2 0.2M34.3 20.3l1.0 0.5" stroke="#5a3ab0" stroke-width="1" opacity="0.75"/>
<path d="M21.9 4.7l0.8 -0.1M15.8 5.9l1.0 -0.8M33.8 19.6h0" stroke="#6a48b8" stroke-width="1"/>
<path d="M14.8 6.4l0.8 -0.4M18.2 3.5l0.9 -0.1M4.4 8.4l1.1 -0.5" stroke="#4b2a9a" stroke-width="1" opacity="0.75"/>
<path d="M23.1 1.5h0M16.8 6.7l0.4 -0.3M12.8 6.2l0.6 -0.1M21.6 7.9l1.1 -0.7M29.4 6.3l1.3 -0.2M37.2 19.8l1.2 0.8M37.5 18.7l1.3 0.7M33.7 17.7l0.9 0.2M2.1 14.1l1.2 0.1M2.7 12.1l1.0 0.2M2.4 11.9l0.9 0.1" stroke="#5a3ab0" stroke-width="0.8"/>
<path d="M25.5 2.3l1.0 -0.2M17.3 5.5l0.7 -0.2M21.7 4.3l0.8 -0.1M3.5 10.7l1.0 -0.6M25.4 2.2l1.0 0.1M22.5 10.3h0M22.8 8.3l0.9 -0.9M19.6 8.3l0.5 0.0M35.6 17.4l1.0 -0.5M32.8 22.3l0.7 -0.1M34.3 19.4l1.3 0.4" stroke="#4b2a9a" stroke-width="0.8" opacity="0.75"/>
<path d="M11.4 8.4l0.8 -0.1M24.3 3.5l0.8 -0.6M6.8 8.6l0.8 -0.7M22.0 5.2l0.7 0.0M14.2 10.1l0.5 -0.5M19.4 7.8l1.2 -0.0M22.0 8.4l1.4 -0.5M4.9 15.1l1.1 -0.1M5.0 15.1l0.5 0.1" stroke="#5a3ab0" stroke-width="1"/>
<path d="M22.8 3.0l1.2 0.1M9.9 9.5l0.4 -0.3M22.5 7.4h0M34.3 3.1h0M5.1 14.4l0.8 0.1" stroke="#6a48b8" stroke-width="0.8"/>
<path d="M20.1 6.3l0.8 -0.3M16.3 9.2l1.0 -0.4M15.2 14.5l1.4 -0.4" stroke="#4b2a9a" stroke-width="1"/>
<path d="M13.7 11.2l0.5 -0.2M23.2 7.8l0.8 0.3M29.2 3.0l1.3 -0.7M36.7 4.2l0.7 0.2M28.4 3.3l0.6 -0.5M36.6 5.1l0.6 -0.1M35.0 4.9l0.6 0.1M35.8 19.3l0.7 0.6M5.6 16.4l0.7 -0.4" stroke="#6a48b8" stroke-width="0.8" opacity="0.75"/>
<path d="M1.8 13.4l0.8 0.2M2.0 12.1h0M2.0 11.8h0M1.5 12.2l-0.5 0.6M6.0 13.1l-0.1 0.8" stroke="#2fae9e" stroke-width="1"/>
<path d="M2.4 13.2h0" stroke="#2fae9e" stroke-width="1.2"/>
</g>
<text x="1.8" y="5.0" font-size="5.0" fill="#333">i</text>
<text x="37.1" y="35.3" font-size="4.4" text-anchor="end" fill="#333">5µm</text>
<rect x="30.6" y="36.1" width="6.5" height="0.7" fill="#333"/>
</svg>
<svg x="149.30" y="459.10" width="38.7" height="38.7" viewBox="0 0 38.7 38.7">
<rect width="38.7" height="38.7" fill="#000"/>
<path d="M7.5 20.8Q7.0 19.8 8.8 18.8Q10.5 17.8 12.2 17.9Q14.0 18.0 14.9 19.2Q15.8 20.5 15.5 22.2Q15.2 24.0 14.4 25.9Q13.6 27.8 12.6 27.1Q11.6 26.4 12.0 24.6Q12.4 22.8 11.4 22.0Q10.5 21.2 9.2 21.5Q8.0 21.8 7.5 20.8Z" fill="#38b048" fill-rule="evenodd" opacity="0.7" filter="url(#bb5)"/>
<path d="M7.5 20.5Q6.0 18.0 10.0 17.5Q14.0 17.0 17.0 18.5Q20.0 20.0 23.5 23.5Q27.0 27.0 29.5 30.5Q32.0 34.0 30.0 34.5Q28.0 35.0 24.5 32.5Q21.0 30.0 18.0 28.5Q15.0 27.0 12.0 25.0Q9.0 23.0 7.5 20.5Z" fill="#1f7a2c" fill-rule="evenodd" opacity="0.25" filter="url(#bb12)"/>
<g fill="none" stroke-linecap="round" stroke-linejoin="round" filter="url(#b2)">
<path d="M15.0 19.9l0.0 0.6M13.8 18.7l0.8 0.2" stroke="#2b9a3a" stroke-width="1.2" opacity="0.75"/>
<path d="M9.8 19.3l0.9 -0.3M11.4 20.7l0.5 0.2M8.3 19.4l1.1 -0.5M11.2 18.6l0.8 0.3M12.5 20.5l0.8 0.4M13.5 24.7l-0.2 0.5M11.8 20.4l0.6 0.2M16.4 20.1L19.1 20.3L19.0 21.0L21.0 22.1L22.3 23.0L23.3 24.9L24.0 26.0M22.5 23.6h0M24.7 31.4l0.2 0.5" stroke="#5fd065" stroke-width="1" opacity="0.75"/>
<path d="M14.1 22.1l-0.6 1.3M12.9 19.5l0.9 0.3M13.7 19.8h0" stroke="#38b048" stroke-width="1.2" opacity="0.75"/>
<path d="M9.0 20.2l0.7 0.0M14.4 21.5l0.1 1.0M14.0 19.1l0.6 0.3M20.2 22.1l-0.4 0.5M15.3 28.3l0.6 0.5M19.1 18.6h0M17.4 30.0h0M21.8 19.1h0M26.1 28.8l0.6 0.5M22.4 23.9l-1.1 0.3M23.9 25.1h0M27.8 29.3l-0.8 0.1M32.4 25.5h0M38.9 34.7l-0.5 0.1M32.2 40.5l0.4 0.5M28.2 30.8h0M3.3 19.0h0" stroke="#2b9a3a" stroke-width="0.8" opacity="0.75"/>
<path d="M15.6 26.3l-1.4 0.2M14.7 20.9l0.1 1.1M11.1 18.4l1.1 0.2M14.4 19.7l-0.6 1.1M7.4 18.7l0.9 -0.2M12.3 18.0l0.7 -0.2M15.4 25.5L15.9 26.7L17.8 27.5L18.4 27.8L19.7 28.9L20.1 30.2L21.0 32.0M23.1 28.6L24.3 29.2L24.3 30.8L25.7 31.6L27.0 32.7L28.1 33.9L29.3 35.6L30.0 36.0M18.7 27.1h0M12.1 21.5h0M23.4 36.5l0.9 0.5" stroke="#2b9a3a" stroke-width="1" opacity="0.75"/>
<path d="M12.0 25.4l-0.5 0.9M15.2 24.8l-0.4 0.7M8.4 19.8l1.0 -0.4" stroke="#2b9a3a" stroke-width="1.2"/>
<path d="M16.1 19.7l-0.4 0.9M13.7 20.0l0.1 0.6" stroke="#5fd065" stroke-width="0.8"/>
<path d="M9.2 19.4l0.9 -0.6M14.5 24.8l-0.4 0.3M14.2 19.9l-0.2 0.5M14.6 24.4l-0.4 0.4M12.4 25.7l-0.5 0.5M22.0 25.5h0M25.3 24.1h0M20.3 26.7h0" stroke="#4cc457" stroke-width="0.8" opacity="0.75"/>
<path d="M14.3 25.7l-0.6 0.6M10.1 19.7l1.4 0.4M9.4 18.7l0.5 -0.5M13.3 19.4l0.9 0.0M16.9 30.8h0M16.7 26.4h0M28.1 26.2l-0.0 0.8M28.6 23.9l0.1 1.3M29.5 29.0l-0.7 0.8M21.5 22.6l-0.0 1.1" stroke="#4cc457" stroke-width="1" opacity="0.75"/>
<path d="M11.0 20.1l0.7 0.0M17.0 25.6l0.9 0.0M16.7 25.6l1.2 0.3M18.0 18.4l0.8 0.9M22.0 30.4l0.3 0.7M10.0 30.2h0M29.1 24.7h0M29.1 36.4l-0.2 0.6M29.3 27.1h0M27.7 30.6h0M29.3 33.1l-0.6 0.1M36.3 39.8l-0.6 0.3M32.1 37.1h0M35.1 36.4l0.1 0.8M2.2 17.1l0.3 0.7M3.8 15.7l0.5 0.5M2.8 18.5l0.3 0.5M1.9 12.4l-0.3 0.4" stroke="#38b048" stroke-width="0.8" opacity="0.75"/>
<path d="M13.8 25.0l-0.4 1.2M13.4 18.4l0.7 0.1" stroke="#4cc457" stroke-width="1"/>
<path d="M14.2 23.1l-0.2 0.5M10.9 20.0l0.7 0.2M27.5 36.0l-0.6 0.2" stroke="#5fd065" stroke-width="1"/>
<path d="M9.3 19.1l0.8 -0.5" stroke="#5fd065" stroke-width="0.8" opacity="0.75"/>
<path d="M13.0 21.1l1.5 0.0M8.6 19.8l1.1 -0.5M13.8 26.6l0.1 0.5M15.6 21.9h0M25.3 24.9h0" stroke="#2b9a3a" stroke-width="0.8"/>
<path d="M14.7 24.6l-0.6 1.2M8.9 18.2l0.7 -0.7M12.8 19.9l0.2 0.6M12.5 26.2h0M9.5 19.1l0.9 -0.9M13.7 26.5l-0.3 0.5M10.5 19.9l0.7 0.1M14.0 26.5l-0.6 1.3M24.8 37.0l0.3 0.9" stroke="#2b9a3a" stroke-width="1"/>
<path d="M9.2 18.3l1.1 -0.6M9.1 20.0l0.7 -0.8M13.5 20.0l0.7 0.7M15.8 26.5l-0.9 0.9M11.9 19.8l0.9 1.0" stroke="#38b048" stroke-width="0.8"/>
<path d="M11.7 19.0l0.8 0.4M9.2 18.3l1.3 -0.5M21.9 23.6l0.8 0.6M26.0 36.2l1.0 0.5" stroke="#38b048" stroke-width="1"/>
<path d="M12.8 24.7l-0.6 0.8M14.6 25.8l0.1 0.7M15.1 24.8l-0.3 0.8M13.4 24.4l-1.0 0.9M10.2 20.7h0" stroke="#4cc457" stroke-width="0.8"/>
<path d="M14.2 25.0l-0.4 0.6M13.8 19.9h0" stroke="#5fd065" stroke-width="1.2" opacity="0.75"/>
<path d="M14.5 24.1l-0.1 1.0M28.7 36.9l0.4 0.3" stroke="#38b048" stroke-width="1.2"/>
<path d="M14.2 20.5h0M13.7 24.9l-0.0 0.6M8.0 20.3l1.2 -0.3M15.3 21.3L17.0 20.7L18.4 21.9L18.9 23.6L20.0 23.3L19.7 25.2L21.0 27.1L23.1 28.0L23.5 29.8L25.5 31.0M20.8 20.4L20.7 22.6L22.4 22.9L24.5 22.7L25.7 23.5L24.9 25.4L27.0 27.0M12.1 14.4L13.4 15.6L14.7 15.4L14.5 15.1L18.0 17.0M18.9 26.3l0.6 0.0M12.5 28.8l1.0 0.6M19.0 16.5h0M25.7 31.1l-1.1 0.0M20.2 23.9l0.5 0.9M25.0 36.6l-0.5 0.9" stroke="#38b048" stroke-width="1" opacity="0.75"/>
<path d="M9.9 19.7l0.4 -0.5" stroke="#4cc457" stroke-width="1.2" opacity="0.75"/>
<path d="M20.4 24.2l0.3 0.4M14.4 18.9l0.5 0.4M22.9 24.2l0.1 0.8M22.3 26.1l-1.0 0.4M17.8 24.8l1.1 0.2M17.6 28.8h0M18.4 24.5l-0.6 0.8M16.4 31.9l-0.6 0.3M23.2 25.5l0.1 0.9M24.9 26.8l-1.1 0.5M29.5 36.0l0.0 0.6M31.8 26.7h0M35.4 28.9l0.3 0.4M26.3 32.1h0M29.8 29.0h0M33.2 36.5l-0.8 0.3M34.1 32.2h0M27.6 29.3l0.4 0.4M33.5 30.6l0.2 0.5M2.9 12.5h0M1.3 11.8h0M7.0 11.9l0.5 0.3M6.0 17.2h0M5.5 15.8h0M6.4 17.6h0M19.7 8.7h0M18.6 7.9h0M21.6 15.4l0.5 0.5" stroke="#38b048" stroke-width="0.8" opacity="0.5"/>
<path d="M14.1 20.3l0.1 0.8M18.0 25.8l-0.5 0.3M20.7 23.1l-0.5 0.4M21.5 23.8l-0.9 0.3M21.0 31.8h0M16.7 34.5l0.2 1.1M19.2 31.7l-0.3 0.8M37.1 37.6l-0.4 0.8M23.4 35.3l0.5 0.8M27.5 30.8l0.8 0.1M37.3 28.6h0M42.6 28.2l-0.7 0.4M31.1 36.9h0M9.2 6.7l-0.1 0.5M5.5 13.2l0.2 0.8M2.1 14.3h0M2.9 16.8h0M24.5 11.0h0M19.3 12.0l-0.3 0.5M20.5 13.5l-0.8 0.2M8.5 13.2h0M25.2 12.4h0M16.6 13.2l-0.3 0.6M22.2 12.9h0M12.4 17.0h0M26.5 13.1h0M21.0 13.1l-0.4 0.3" stroke="#1f7a2c" stroke-width="0.8" opacity="0.5"/>
<path d="M22.0 41.5h0M18.9 27.1l0.1 1.3" stroke="#5fd065" stroke-width="1" opacity="0.5"/>
<path d="M19.0 31.3h0M21.2 24.5l-0.3 1.1M18.8 32.4l-1.0 0.5M34.4 22.2l0.3 0.4M24.9 19.9l0.8 0.4M18.7 26.3h0M24.1 23.4l-0.3 0.7M29.2 34.0h0M25.6 30.4l0.5 0.0M34.8 29.5l-0.2 0.5M33.9 27.8h0M35.0 34.6l-0.2 0.6M33.2 36.3h0M4.5 17.4l-0.6 0.2M0.3 15.5h0M5.5 15.1h0M5.7 14.2h0M3.3 22.7h0M22.3 15.1h0M16.1 14.3h0M15.4 14.9l-0.8 0.2M27.3 11.9l-0.2 0.4M21.2 12.6l-0.6 0.0M21.1 12.3l0.2 0.5M22.1 12.0h0" stroke="#2b9a3a" stroke-width="0.8" opacity="0.5"/>
<path d="M15.2 26.2h0M19.4 25.7l-0.4 0.7M24.3 34.2h0" stroke="#1f7a2c" stroke-width="1" opacity="0.75"/>
<path d="M21.2 34.3h0M17.6 19.8h0" stroke="#4cc457" stroke-width="1" opacity="0.5"/>
<path d="M9.9 24.7l-0.5 0.8M19.6 19.4l0.4 0.9M22.4 22.4l0.9 0.1M17.7 28.6l-0.8 1.0M26.9 22.9h0M23.5 28.7h0M15.6 23.8h0M17.6 24.9h0" stroke="#1f7a2c" stroke-width="1" opacity="0.5"/>
<path d="M14.8 34.2h0M14.3 13.6h0M22.4 29.5h0M27.9 34.7h0M23.6 33.0h0M38.9 31.5l0.4 0.6M31.4 31.0h0M31.0 29.5h0M30.6 31.6l-0.6 0.4M5.7 16.0h0M0.8 16.1h0M5.6 16.4h0M20.6 10.5h0M15.8 10.7l-0.3 0.5M22.0 11.1h0" stroke="#1f7a2c" stroke-width="0.8" opacity="0.75"/>
<path d="M19.7 19.4h0M13.6 23.2l-1.0 0.3M21.8 33.2l-0.5 0.9M12.3 26.5h0M23.6 21.4l0.8 0.8" stroke="#5fd065" stroke-width="0.8" opacity="0.5"/>
<path d="M20.9 23.9l-0.3 0.4M23.5 26.9h0M19.4 34.6l-0.1 0.8" stroke="#2b9a3a" stroke-width="1" opacity="0.5"/>
<path d="M18.9 16.8l0.7 0.6M30.7 20.0l-1.0 0.5M26.2 22.1l-0.0 0.5M18.7 25.9h0" stroke="#38b048" stroke-width="1" opacity="0.5"/>
<path d="M19.3 22.6l0.3 0.6" stroke="#4cc457" stroke-width="0.8" opacity="0.5"/>
<path d="M25.3 31.4h0M29.4 31.8l-0.3 0.7" stroke="#38b048" stroke-width="0.6" opacity="0.75"/>
<path d="M23.9 33.8l0.7 0.4M35.5 39.1h0M18.0 14.5l0.5 0.3M21.1 15.6h0M18.8 14.1h0" stroke="#1f7a2c" stroke-width="0.8" opacity="0.25"/>
<path d="M37.0 30.9l0.5 0.4M36.1 37.2l0.4 0.4M26.3 41.6h0M38.0 33.2l-0.5 0.2M25.9 28.2l0.4 0.4M5.3 18.3l-0.5 0.1M2.4 17.6l-0.5 0.2M0.4 10.4l0.3 0.9M6.3 15.2l-0.4 0.5M4.6 19.0h0M18.5 12.1h0M15.4 22.9h0M17.6 11.1h0M6.4 12.9h0M24.5 12.9h0M2.3 20.2h0M29.8 28.0h0M13.5 29.7h0M0.0 1.3h0M34.3 16.9h0M26.4 29.7h0" stroke="#1f7a2c" stroke-width="0.6" opacity="0.5"/>
<path d="M31.1 28.4h0M7.7 14.5l-0.8 0.2M7.7 11.5l-0.8 0.4M3.1 25.8h0M16.1 11.6l0.0 0.7M18.1 15.9h0" stroke="#38b048" stroke-width="0.6" opacity="0.5"/>
<path d="M31.2 32.0h0M8.8 11.8l0.6 0.2M16.0 17.1h0" stroke="#38b048" stroke-width="0.8" opacity="0.25"/>
<path d="M33.3 29.4l0.7 0.3M29.6 32.5h0M25.8 29.7h0M34.7 35.1h0M4.7 11.3h0M2.8 20.2l-0.8 0.2M3.7 16.7l0.3 0.6M1.0 11.8h0M5.5 14.4l-0.8 0.5M5.4 19.8l-0.2 0.4M15.5 13.9l0.4 0.5M30.1 13.4h0M22.8 26.2h0M19.3 12.1h0M25.7 4.4h0M27.7 5.6h0" stroke="#2b9a3a" stroke-width="0.6" opacity="0.5"/>
<path d="M38.9 28.9l-0.6 0.1M6.4 16.3h0M3.4 20.5h0M24.0 12.4h0" stroke="#2b9a3a" stroke-width="0.6" opacity="0.75"/>
<path d="M31.6 25.6h0" stroke="#38b048" stroke-width="0.6" opacity="0.25"/>
<path d="M32.6 34.1l0.4 0.5M36.9 37.4l-0.3 0.3M36.7 27.8l0.3 0.6M3.4 11.3l-0.5 0.7M2.3 19.1l-0.7 0.1" stroke="#1f7a2c" stroke-width="0.6" opacity="0.75"/>
<path d="M3.9 17.9h0M6.2 11.3l0.1 0.8M27.4 8.8h0M1.3 5.7h0M36.7 3.9h0M9.2 0.9h0M4.1 20.6h0M8.5 4.4h0M22.4 5.8h0" stroke="#1f7a2c" stroke-width="0.6" opacity="0.25"/>
<path d="M4.5 17.6l-0.8 0.4M7.5 20.5h0M32.1 29.9h0M23.6 33.1h0M18.0 20.5h0M1.6 25.8h0M8.7 9.1h0M20.4 30.0h0M3.6 37.9h0" stroke="#2b9a3a" stroke-width="0.6" opacity="0.25"/>
<path d="M18.7 8.0h0" stroke="#17601f" stroke-width="0.8" opacity="0.25"/>
<path d="M13.5 8.6l0.4 0.5" stroke="#17601f" stroke-width="0.8" opacity="0.75"/>
<path d="M23.1 10.4l0.4 0.7M17.6 12.9h0M18.9 14.3h0M4.2 1.3h0M17.7 21.9h0M38.3 2.6h0M26.1 23.8h0M26.2 30.9h0M9.1 1.8h0M3.5 15.7h0M14.7 29.3h0M8.7 1.1h0M33.1 2.6h0" stroke="#17601f" stroke-width="0.6" opacity="0.5"/>
<path d="M20.8 7.5h0M23.5 12.2l0.2 0.6" stroke="#17601f" stroke-width="0.8" opacity="0.5"/>
<path d="M19.3 17.4h0M35.9 33.8h0M11.5 10.6h0M33.9 18.0h0M34.0 37.8h0M5.3 10.2h0M31.3 23.9h0M6.4 12.0h0M20.5 8.4h0M30.0 24.1h0M17.8 33.1h0" stroke="#17601f" stroke-width="0.6" opacity="0.25"/>
</g>
<rect x="13.2" y="4.3" width="19.1" height="13.1" fill="none" stroke="#f6f6f6" stroke-width="1.25" stroke-dasharray="1.9 1.2"/>
<text x="8.0" y="9.0" font-size="5.0" fill="#fff">ii</text>
<text x="37.1" y="35.3" font-size="4.4" text-anchor="end" fill="#fff">10µm</text>
<rect x="29.6" y="36.1" width="7.5" height="0.7" fill="#fff"/>
</svg>
<svg x="189.50" y="459.10" width="38.7" height="38.7" viewBox="0 0 38.7 38.7">
<rect width="38.7" height="38.7" fill="#cfcfcf"/>
<path d="M7.5 20.6Q7.0 19.6 8.8 18.6Q10.5 17.6 12.2 17.7Q14.0 17.8 14.9 19.1Q15.8 20.3 15.5 22.1Q15.2 23.8 14.4 25.6Q13.6 27.4 12.6 26.7Q11.6 26.0 12.0 24.3Q12.4 22.6 11.4 21.8Q10.5 21.0 9.2 21.3Q8.0 21.6 7.5 20.6Z" fill="#4a2a96" fill-rule="evenodd" opacity="0.8" filter="url(#bb5)"/>
<g fill="none" stroke-linecap="round" stroke-linejoin="round" filter="url(#b2)">
<path d="M14.0 23.2l-0.1 0.5M12.4 25.8l-0.5 0.9M14.2 24.4l-0.8 1.1M14.1 24.3l-0.4 1.2M15.2 21.4l-0.5 1.1M12.9 18.5l0.8 0.2M14.1 22.0l-0.2 0.7M13.4 19.6l1.0 0.9M13.8 20.1l1.0 0.2M15.0 24.2h0M15.8 23.3l0.3 0.9M30.3 35.9h0M28.4 37.3l0.6 1.0" stroke="#43268f" stroke-width="1"/>
<path d="M12.2 19.9l0.4 0.3M13.6 21.8l-0.1 0.9M13.9 19.7h0M8.7 19.0l0.9 -0.9M13.4 23.3l-0.8 0.9M26.8 25.2l1.1 0.4M19.1 27.6l0.6 0.4M18.8 22.0h0M21.9 28.8l0.5 1.2M29.8 34.8l-0.1 0.7M24.8 32.9l-0.3 1.2M27.2 33.6l0.2 1.0" stroke="#4b1f9a" stroke-width="1" opacity="0.75"/>
<path d="M12.2 18.7l1.0 0.5M14.9 20.2l-0.4 1.1M13.6 19.7l0.2 1.1M12.7 23.5l-0.3 0.7M17.9 35.9l-0.3 0.9M28.0 23.9l0.2 0.7M34.6 31.6h0" stroke="#43268f" stroke-width="1" opacity="0.75"/>
<path d="M15.7 20.7l-0.5 1.3M13.6 23.2l-0.7 0.4M9.4 21.2l1.0 -0.3M13.2 19.9l0.8 0.2M13.1 27.4l0.2 0.5M29.3 35.0l0.6 0.0M25.5 36.4l-0.5 0.9" stroke="#4b1f9a" stroke-width="0.8"/>
<path d="M9.1 19.9l1.3 -0.5M12.6 17.6l1.0 0.4M14.0 19.4l0.4 0.3M10.6 19.7l0.7 -0.1M13.3 26.6h0M17.5 21.5l0.4 0.2M30.5 23.5l-0.2 0.5M22.1 24.5l0.9 0.1M27.8 17.2l1.2 0.5M20.1 23.4l0.8 0.9M33.9 38.4l-0.3 0.7M24.7 35.5h0" stroke="#43268f" stroke-width="0.8"/>
<path d="M15.7 19.9l-0.6 0.9M8.6 19.1l1.1 -0.8M14.3 24.9l-0.3 0.8M14.3 20.4l0.2 0.9M13.8 22.8l0.1 0.8M15.9 24.6l-0.6 1.0M12.3 25.8h0M23.9 17.2h0M16.4 22.2l0.4 0.2M20.4 23.8l-0.9 0.0M30.6 30.0l-0.9 0.9M30.7 34.9h0M31.2 32.7h0M32.0 38.1h0M26.2 34.7l0.4 0.8" stroke="#54309c" stroke-width="1" opacity="0.75"/>
<path d="M14.9 22.2l0.1 0.6M13.7 18.0l0.6 0.6M14.0 19.7l0.4 0.3M18.6 27.6h0M28.0 25.3l-0.6 0.9M30.1 16.7l-0.4 0.9M27.6 32.7l0.0 0.9M35.4 34.2h0M30.7 35.4l0.0 1.0M31.5 34.6h0M29.9 29.6l1.0 0.4M27.5 32.7h0M4.6 14.8l0.7 0.2M6.2 18.1h0" stroke="#54309c" stroke-width="0.8"/>
<path d="M15.5 19.7l-0.4 0.6M14.3 19.4l-0.0 1.3M14.7 19.9l0.3 1.0M13.0 18.7h0M9.3 17.6l0.8 -0.8M22.3 21.0l0.4 1.2M30.7 37.7l0.6 0.6M29.7 30.5l0.6 0.4" stroke="#4b1f9a" stroke-width="1"/>
<path d="M12.8 19.7l0.6 0.0M12.0 18.6l0.8 0.3M20.1 23.5h0M23.8 24.7l-0.6 0.2M22.6 19.8l0.1 0.9M18.4 21.1l-0.7 0.2M30.3 34.8l1.0 0.8" stroke="#43268f" stroke-width="0.8" opacity="0.75"/>
<path d="M7.3 19.2l0.7 -0.4M17.9 24.8l-0.8 0.1M18.9 20.1l-0.2 0.6M20.7 21.9l-1.1 0.5M16.4 26.6l-1.3 0.2M16.6 22.4l0.3 1.1M26.9 22.4l-0.6 1.1M18.3 16.0l0.5 0.6M20.2 20.3h0M34.0 17.5l-0.4 0.9M30.1 16.4l0.2 0.8M20.3 25.5l-0.0 0.6M28.9 17.9l0.1 1.2M29.9 26.0l-0.5 0.4M30.0 29.5h0M33.6 23.4l-0.8 0.8M38.2 29.7l-1.0 0.4M21.3 26.6l0.1 0.6M37.0 31.2l-0.6 0.2M24.9 28.7h0M27.8 28.9l0.7 0.2M28.3 33.8h0M32.4 35.9l-0.4 0.6M26.6 32.9l0.8 0.6M35.9 35.0l0.5 0.4M29.8 31.8l0.5 0.7M25.7 35.9l-0.5 0.8M35.8 35.1l-0.3 0.6M27.2 7.7h0" stroke="#54309c" stroke-width="0.8" opacity="0.75"/>
<path d="M14.6 24.6l-0.3 0.3M13.3 23.2l0.1 1.2M8.4 18.7l1.4 0.0M19.7 23.8l0.7 0.8M21.6 22.4l0.6 0.9M23.4 17.8l-1.2 0.1M17.9 20.7l1.2 0.1M33.7 35.4l0.4 0.3M33.3 33.3h0M28.5 31.0l0.5 0.8M29.0 34.8l0.7 0.6M34.6 35.7h0M24.5 37.4l-0.3 0.3" stroke="#3f2390" stroke-width="0.8" opacity="0.75"/>
<path d="M15.2 20.4l0.4 0.6M14.7 22.8l-0.2 1.2M13.5 26.0l-0.4 0.8M15.9 21.5h0M10.6 19.8h0M12.1 20.1l1.4 -0.1M18.6 18.1l0.8 0.3" stroke="#3f2390" stroke-width="1"/>
<path d="M8.2 19.4l0.4 -0.6M12.9 22.4l-0.2 1.3M12.9 24.1h0M12.5 26.2l-0.2 0.4M18.6 30.7l0.5 0.3M28.7 37.3l-0.6 0.3M34.1 33.6l-0.2 1.1" stroke="#3f2390" stroke-width="0.8"/>
<path d="M12.0 25.9l-0.3 0.6M15.1 25.2l-0.5 0.5M9.3 18.8l0.8 -0.7M7.0 20.1l1.3 -0.2M13.6 25.6l-0.4 0.3M8.3 20.1l0.4 -1.0M23.8 20.6h0M22.1 26.2h0" stroke="#54309c" stroke-width="1"/>
<path d="M11.1 19.7l0.6 0.2M9.7 19.4l1.0 -0.4M14.1 20.8l-0.5 0.8M13.7 19.7l0.8 0.2M14.5 24.3h0M18.2 23.7h0M34.6 34.3l-0.7 0.7M26.6 32.3l0.1 1.0" stroke="#3f2390" stroke-width="1" opacity="0.75"/>
<path d="M6.8 19.3l1.0 -0.5M16.6 23.8l-0.6 0.3M16.3 18.4l-0.7 0.5M27.2 23.5h0M19.8 18.5l-1.1 0.4M38.0 33.2h0M31.2 36.6h0M30.2 30.9l-0.1 1.3" stroke="#4b1f9a" stroke-width="0.8" opacity="0.75"/>
<path d="M19.3 22.0l1.0 0.2M21.2 20.9l-0.6 0.5M21.0 20.5h0M19.1 22.4l-0.9 0.1M20.7 25.9l-0.8 0.8M13.8 25.9l0.5 0.6M34.9 20.6l0.1 1.0M26.1 14.9l-1.1 0.2M33.2 23.2l-0.3 0.7M35.1 24.7h0M24.3 22.2l0.1 0.7M36.7 35.7h0M34.4 32.1h0M35.3 31.5l0.6 0.3M37.2 34.4l-0.5 0.4M28.8 30.8l0.7 0.5M14.3 13.6l-0.9 0.2M15.6 9.5h0M5.2 16.5l0.8 0.5M5.5 19.0h0M6.4 15.0l0.5 0.4M5.0 16.3h0" stroke="#7a60c0" stroke-width="0.8" opacity="0.75"/>
<path d="M16.5 27.7l-0.2 1.2M18.5 18.7l-0.3 0.8M30.6 21.9l-0.5 0.7M23.8 11.4h0M36.8 25.9l-0.7 0.6M31.1 21.2l-0.7 0.1M28.6 32.9l0.7 0.4M20.3 28.4h0M26.4 13.0l0.4 0.8M25.0 35.0h0M16.9 10.5h0M25.6 8.5h0M27.2 7.3l0.1 0.7" stroke="#54309c" stroke-width="0.6" opacity="0.5"/>
<path d="M21.0 19.2h0M21.2 14.5l0.2 0.5M25.8 24.0l0.1 0.7M19.1 24.3h0M18.0 21.9h0M17.1 22.2l1.0 0.2M28.7 17.8l0.7 0.7M32.7 17.9l0.6 0.2M24.7 17.0l0.9 0.3M21.9 33.6l1.0 0.4M29.9 24.2l0.2 1.1M18.6 27.2l-1.0 0.2M26.9 16.7h0M22.4 27.2l0.5 0.9M36.8 18.5h0M21.8 13.0l0.4 0.8M19.6 9.1l-0.7 0.6M21.6 4.8l-0.5 0.1M14.2 12.5h0" stroke="#54309c" stroke-width="0.6" opacity="0.75"/>
<path d="M18.4 26.7l-0.7 0.4" stroke="#43268f" stroke-width="1" opacity="0.5"/>
<path d="M16.8 26.3h0M24.0 26.3l-0.6 0.5M22.6 25.2h0M17.1 18.2l0.7 0.7M34.4 31.9l0.5 0.4" stroke="#6a48b0" stroke-width="1"/>
<path d="M18.2 23.6h0M20.0 20.9l-0.7 0.3M29.5 29.1l-0.2 0.6M34.8 25.3h0M29.7 18.9l-0.4 0.3M26.5 33.2l1.0 0.2M31.6 24.1h0M33.3 14.2h0M32.2 24.3l0.4 1.0M27.9 27.2l-0.5 0.2M32.2 22.2l-1.1 0.1M22.1 12.7l0.6 0.2M27.4 17.6l-0.5 0.3M28.1 14.6l0.1 0.6M21.2 8.2h0M2.1 4.3l0.6 0.2M26.3 9.6h0M17.2 10.3h0M28.0 16.4l-0.4 0.3" stroke="#6a48b0" stroke-width="0.6" opacity="0.75"/>
<path d="M24.0 24.3l0.3 0.8M11.9 26.1l1.0 0.3M18.5 24.9h0M19.4 25.5l-0.9 0.8M18.1 24.3l-0.9 0.2M30.8 19.6l-0.4 0.3M35.1 31.5l-1.0 0.5M26.2 22.3h0M32.3 29.1h0M25.6 22.3h0M38.0 24.4l-0.6 0.2M27.6 14.3l0.3 0.6M34.9 33.5h0M25.0 34.5h0M31.1 34.5l-0.7 0.1M30.4 33.8l-0.9 0.2M36.5 31.4l-1.0 0.7M8.3 6.4h0M13.6 14.6h0M7.2 13.4h0" stroke="#8a74c8" stroke-width="0.8" opacity="0.75"/>
<path d="M16.1 22.9l0.1 0.6M18.8 27.5h0M15.2 20.9l0.8 0.2M20.7 25.6l-0.3 0.6M23.3 24.8l0.3 0.5M31.6 22.7h0M25.2 26.1l0.8 0.3M26.9 13.3l0.1 0.5M28.1 17.1l0.1 0.5M26.2 14.5l0.5 0.4M25.9 23.6l-0.1 0.9M26.1 23.2h0M19.4 4.5h0M8.8 7.7l-0.8 0.3M27.1 9.6h0M23.1 12.4h0M16.6 8.8h0M36.6 4.5h0" stroke="#7a60c0" stroke-width="0.6" opacity="0.75"/>
<path d="M25.6 28.8h0M21.0 21.9l0.7 0.1M15.9 19.5l-1.2 0.5" stroke="#3f2390" stroke-width="0.6"/>
<path d="M22.8 22.7l0.3 0.9M19.1 22.6l0.1 0.6M21.6 22.0h0M25.9 17.8l-0.2 0.5M29.6 13.0h0M34.0 32.9h0M32.8 32.3h0M32.5 36.6l-0.8 0.1M6.2 15.6l0.7 0.4" stroke="#8a74c8" stroke-width="0.8"/>
<path d="M23.8 22.2l-0.2 0.5M16.1 25.6h0M15.6 27.8h0M36.3 17.6h0M27.3 23.8h0M31.0 27.0l0.0 1.0M26.4 21.1h0M22.9 19.0h0M28.5 19.0l0.3 0.4M28.3 28.5l0.2 0.5M25.1 19.5l-0.3 1.0M35.2 32.5h0M29.7 17.0l-0.1 0.7M21.2 16.1l0.2 0.7M37.6 23.1l-0.0 0.9M23.7 24.8l0.2 0.9M32.3 32.1l1.0 0.7M27.7 34.9h0M26.8 32.8l1.2 0.1M32.4 37.4l-0.9 0.7M29.2 33.2l0.2 0.8M29.1 34.6l-0.1 1.1M28.8 33.2l-0.4 0.8M12.2 6.3l-0.1 0.5M17.2 11.6l0.5 0.5M14.6 5.7l0.4 0.5M4.0 11.2h0" stroke="#6a48b0" stroke-width="0.8" opacity="0.75"/>
<path d="M24.1 18.2h0M17.4 23.2l0.4 0.4M33.3 35.0l0.3 0.9M31.5 36.1l-1.2 0.2" stroke="#8a74c8" stroke-width="1" opacity="0.75"/>
<path d="M26.2 17.8l-0.5 0.6M27.3 34.7l0.7 0.3M33.4 39.1h0M26.2 31.5l-0.1 0.8M27.7 33.4l0.1 0.7M28.2 33.7l-0.8 0.9M37.4 36.9h0" stroke="#7a60c0" stroke-width="1" opacity="0.75"/>
<path d="M13.8 22.5l0.4 0.7" stroke="#43268f" stroke-width="0.8" opacity="0.5"/>
<path d="M15.2 17.8h0M24.4 22.2h0M16.0 21.1l0.8 0.7M21.7 25.0l-0.2 0.5M19.9 23.5l0.7 0.2M23.9 21.1h0M26.9 28.3l0.1 1.1M30.8 16.7l-0.7 0.5M25.4 23.5l-0.4 0.5M6.1 17.6l0.5 0.5" stroke="#6a48b0" stroke-width="0.6"/>
<path d="M21.7 19.8l-0.4 0.6M16.9 21.3l1.0 0.3M21.7 23.1l0.0 0.7" stroke="#3f2390" stroke-width="0.6" opacity="0.75"/>
<path d="M23.7 25.9l-0.4 1.1M33.5 16.3l-0.6 0.2M24.5 25.3h0M30.7 24.6l1.0 0.1M32.3 17.2l-1.1 0.1M12.3 8.7h0M20.7 8.6h0M22.1 7.0h0M11.3 10.5l0.1 0.7M4.1 14.0l0.2 0.5" stroke="#8a74c8" stroke-width="0.6" opacity="0.75"/>
<path d="M20.1 21.7h0" stroke="#3f2390" stroke-width="0.6" opacity="0.5"/>
<path d="M21.0 26.4l-0.5 1.0M22.9 22.0l-0.8 0.3M15.5 24.3h0M29.1 16.8h0M21.2 18.8l0.9 0.8" stroke="#7a60c0" stroke-width="0.6"/>
<path d="M17.0 16.3l-0.6 0.9" stroke="#43268f" stroke-width="0.6" opacity="0.5"/>
<path d="M17.1 22.6l1.0 0.3M24.8 27.6l-0.5 0.9M32.0 38.1l-0.6 0.1M29.6 30.9l0.5 0.7" stroke="#7a60c0" stroke-width="1"/>
<path d="M21.9 25.8h0" stroke="#4b1f9a" stroke-width="0.6" opacity="0.75"/>
<path d="M22.2 17.7l-0.1 1.1M21.1 25.7l0.0 0.6M27.2 17.6l-0.3 0.4M28.4 24.2l-0.5 0.9M30.8 22.1l0.7 0.4M30.3 35.3l0.8 0.7M29.7 31.2l-0.5 0.8M28.8 32.9l-0.2 0.6M6.0 14.4h0M3.5 13.0l0.5 0.4" stroke="#6a48b0" stroke-width="0.8"/>
<path d="M17.0 23.9l0.4 1.2M30.5 31.1l0.1 0.9" stroke="#6a48b0" stroke-width="1" opacity="0.75"/>
<path d="M17.2 22.1l0.4 1.1M18.5 20.3h0M31.6 30.7h0M18.1 23.4h0M25.6 29.8l0.7 0.2M1.9 12.4h0" stroke="#54309c" stroke-width="0.6"/>
<path d="M22.4 23.6h0M22.0 19.1l0.1 0.5M27.5 20.7l-0.8 0.6M24.8 23.3l-0.6 0.0M22.9 16.9l0.7 0.6M24.6 14.3l-0.7 0.0M21.8 4.0l-0.6 0.0M22.6 10.4l0.6 0.2" stroke="#6a48b0" stroke-width="0.8" opacity="0.5"/>
<path d="M27.9 23.8l0.5 0.6M36.4 7.4l0.9 0.7M29.2 29.9h0M31.0 20.8h0M23.8 24.1l-0.8 0.8" stroke="#7a60c0" stroke-width="0.8" opacity="0.5"/>
<path d="M33.4 27.4l-0.4 0.4M27.0 25.3l-0.6 0.6M28.0 24.4h0M25.7 28.5l0.4 0.2M26.9 15.2l-0.6 0.5M23.7 24.8l0.0 0.7M30.5 22.2l-1.0 0.6M32.4 21.2l0.4 1.1M25.5 11.0h0" stroke="#8a74c8" stroke-width="0.6" opacity="0.5"/>
<path d="M30.6 18.6l-1.0 0.6M23.4 20.6l-0.3 0.4M37.6 22.7l0.9 0.1M6.7 12.9l0.6 0.3" stroke="#8a74c8" stroke-width="0.6"/>
<path d="M25.7 17.6l-0.3 0.5M26.5 23.4l-0.5 1.1M20.5 11.7h0M36.0 18.6h0M30.0 4.8h0M21.7 8.2l0.5 0.4" stroke="#7a60c0" stroke-width="0.6" opacity="0.5"/>
<path d="M26.4 27.9l1.1 0.3M26.0 31.3h0M27.9 21.1l-0.9 0.5M32.8 34.1h0M30.7 30.5l-0.7 1.0M4.2 12.9l0.9 0.3M7.0 16.5h0M10.1 12.9h0" stroke="#7a60c0" stroke-width="0.8"/>
<path d="M32.3 13.1l0.5 0.6M26.9 25.4l-0.2 0.8M28.2 22.5l-0.9 0.1M23.1 15.7l0.9 0.1M33.5 25.1l0.9 0.5M20.3 8.4l0.2 0.8M13.7 12.9l-0.6 0.5" stroke="#6a48b0" stroke-width="0.6" opacity="0.5"/>
<path d="M31.1 26.2h0M31.2 12.2l-0.4 0.2M8.9 3.4l0.9 0.0M25.4 11.0h0" stroke="#54309c" stroke-width="0.8" opacity="0.5"/>
<path d="M27.2 28.2l0.9 0.1" stroke="#8a74c8" stroke-width="0.8" opacity="0.5"/>
<path d="M0.8 16.2h0M2.1 17.0h0" stroke="#3c8ed2" stroke-width="0.8"/>
<path d="M1.6 16.0l-0.1 0.5M3.4 17.1h0M1.4 16.2l0.0 0.8" stroke="#3c8ed2" stroke-width="1"/>
</g>
<text x="37.1" y="35.3" font-size="4.4" text-anchor="end" fill="#333">10µm</text>
<rect x="29.6" y="36.1" width="7.5" height="0.7" fill="#333"/>
</svg>
<svg x="229.50" y="459.10" width="38.7" height="38.7" viewBox="0 0 38.7 38.7">
<rect width="38.7" height="38.7" fill="#000"/>
<g fill="none" stroke-linecap="round" stroke-linejoin="round" filter="url(#b2)">
<path d="M8.6 7.5h0M7.7 10.4h0" stroke="#1f7a2c" stroke-width="0.8"/>
<path d="M-0.0 2.8l0.7 0.4M37.4 5.1l0.8 0.8M6.5 12.3h0M29.7 36.0h0M11.2 21.7h0M1.5 28.1l0.2 0.9M3.7 32.2l0.2 0.6M17.9 29.3h0M9.7 38.6l0.5 0.1M7.2 22.5l-0.5 0.8M2.6 19.1l-0.2 0.7M2.4 4.3h0M0.3 9.5h0M3.7 19.1l1.1 0.3M38.2 2.3h0" stroke="#38b048" stroke-width="0.8"/>
<path d="M1.0 21.4h0M2.5 0.1l0.9 0.7M13.4 27.0l0.4 0.8M11.5 3.3h0M1.4 17.3l-0.4 0.3M5.7 30.9h0M11.6 17.4h0M22.6 1.2h0M17.9 6.2l-0.5 0.9M0.8 29.3h0M2.9 5.0l-1.1 0.2M8.9 38.0l-0.9 0.2M9.1 31.1l-1.1 0.4M9.2 15.8l0.1 0.7" stroke="#2b9a3a" stroke-width="0.8" opacity="0.5"/>
<path d="M2.7 9.9l-0.5 0.2M5.8 22.3l-0.8 0.1M12.6 37.3h0M0.1 3.3l1.1 0.6M1.7 11.4l0.5 0.4M3.9 19.6l0.5 0.6M12.5 16.2l-0.2 0.7M4.6 19.0l0.5 0.5M38.5 13.0h0M0.0 6.6h0" stroke="#38b048" stroke-width="1.2"/>
<path d="M15.1 11.1h0M14.4 7.8h0M4.5 36.1h0M8.6 5.4l0.4 0.8M3.7 11.6l-0.8 0.4M1.2 27.7l0.2 0.8M19.4 10.9l0.4 0.5M10.9 16.7h0M6.6 13.6h0M6.9 3.6l-0.3 0.6M10.7 28.7l-0.5 0.5M9.1 7.3h0M4.8 20.8l0.7 1.0M8.0 17.6l0.5 0.1M4.9 3.6l0.5 0.2M4.0 11.2l0.5 0.0M12.3 1.1l1.1 0.1M5.7 28.2l0.6 0.1" stroke="#2b9a3a" stroke-width="1" opacity="0.5"/>
<path d="M4.5 12.5l-0.9 0.7M5.9 9.9l-0.8 0.8M10.6 6.1l1.0 0.1M9.0 8.1l-1.1 0.6M31.5 11.5h0M1.5 7.1l0.3 0.8M1.1 10.4l0.6 0.4" stroke="#5fd065" stroke-width="1" opacity="0.5"/>
<path d="M4.7 33.0l0.3 1.0M19.1 8.9l-1.1 0.7M2.5 33.6l-0.9 0.6M1.3 17.1h0M7.6 32.9l0.3 1.3" stroke="#4cc457" stroke-width="0.8"/>
<path d="M7.8 12.3l0.5 0.1M3.8 0.9l0.6 0.2M4.3 31.2l-0.3 0.7M2.2 3.1l0.7 0.6M12.4 1.5h0M5.5 4.5h0M9.9 7.2l0.2 0.5M5.5 22.1h0M3.6 6.3h0" stroke="#38b048" stroke-width="1"/>
<path d="M3.6 34.3l0.7 0.5M5.9 5.7l-0.8 0.7M2.9 12.4h0M7.6 31.5l-0.8 0.5M13.3 30.2h0M2.1 0.6l-0.2 0.6M14.1 13.6l-0.4 0.5" stroke="#38b048" stroke-width="1.2" opacity="0.5"/>
<path d="M0.1 26.7l0.4 0.8M8.2 37.2l0.0 0.9M7.1 10.7h0M5.0 17.0l-0.9 0.7M5.6 25.4l0.3 0.4M8.7 14.0l-0.0 1.1M14.7 20.9l-0.1 0.9M5.1 14.1l-0.1 0.8M8.6 29.6h0" stroke="#2b9a3a" stroke-width="0.8" opacity="0.75"/>
<path d="M1.9 13.6l-1.1 0.3M10.0 33.0l-1.2 0.0M16.9 2.3h0M8.5 14.3h0" stroke="#4cc457" stroke-width="1"/>
<path d="M2.3 23.7h0M4.8 29.4l-0.4 0.5M5.6 7.6l-1.0 0.5M3.2 25.3l0.7 0.8M4.8 12.1l-0.5 0.1" stroke="#2b9a3a" stroke-width="1.2" opacity="0.75"/>
<path d="M19.9 10.8l0.8 0.5M16.7 21.5h0M12.2 26.5l-0.7 0.4M12.0 7.2h0M8.9 29.3l0.5 0.1M6.1 15.6l-0.6 0.1M1.0 8.9l-1.0 0.6M6.8 1.7l0.5 1.0M10.8 0.3h0M0.8 31.6l-0.4 0.2" stroke="#5fd065" stroke-width="1" opacity="0.75"/>
<path d="M7.7 7.9h0M10.5 23.3l0.8 0.0M9.3 11.5l-0.5 0.6M17.5 23.1l0.5 1.1M2.6 18.8l-0.1 0.9M31.3 26.1h0M7.5 6.1l0.4 0.3" stroke="#5fd065" stroke-width="0.8" opacity="0.5"/>
<path d="M2.3 10.4l-1.1 0.6M1.7 11.5l0.9 0.5M9.9 15.9l0.5 0.1M1.2 9.6h0M4.9 29.6h0M3.4 33.3l-0.6 1.0M12.2 20.2l-1.0 0.5M5.2 8.6l0.1 0.6M35.3 20.2h0M10.9 11.1h0M8.0 25.6h0M4.1 33.2l0.2 0.8M3.6 18.0l-0.6 0.5M4.9 7.4h0M7.7 21.0l1.0 0.5M3.8 15.9h0M0.7 24.9l-1.0 0.4M1.7 23.7l0.4 0.7M5.6 6.5l-0.5 0.2M8.9 32.2h0" stroke="#38b048" stroke-width="1" opacity="0.5"/>
<path d="M2.8 8.7l0.5 1.0M1.7 6.3h0M1.9 31.1h0M27.8 15.8h0M26.7 26.2l-0.1 0.5M0.2 20.6h0M4.6 28.1h0M14.3 16.6h0" stroke="#2b9a3a" stroke-width="1" opacity="0.75"/>
<path d="M14.9 17.9h0M8.0 10.7h0M2.1 18.0l0.6 1.1M7.6 10.5h0M12.7 25.5l0.3 1.1" stroke="#2b9a3a" stroke-width="1.2" opacity="0.5"/>
<path d="M24.6 30.6l0.6 1.0M5.6 1.4l-0.8 0.0M13.6 0.8l0.9 0.0M16.9 16.6h0M9.7 10.5l-0.0 0.5M10.4 7.7l0.1 0.5M1.8 10.1l0.8 0.4M4.3 28.8l-0.6 0.8M15.9 6.3l0.5 1.2M10.9 19.6h0M10.9 33.1l0.9 0.8M7.7 7.8l-0.3 0.9M13.1 3.8h0M6.7 15.4h0M2.7 8.4h0" stroke="#38b048" stroke-width="0.8" opacity="0.75"/>
<path d="M8.6 9.1l-0.5 0.1M1.5 28.1l-0.2 1.0M13.1 15.2h0" stroke="#5fd065" stroke-width="0.8"/>
<path d="M29.6 15.2l0.0 1.1M8.3 29.4l0.2 1.1M5.9 5.3l0.4 0.5M12.6 7.1l-0.3 1.1M14.8 7.8h0M1.8 7.4l-0.5 0.7M6.5 20.0l-0.3 0.4M2.0 22.5l-0.4 1.1" stroke="#4cc457" stroke-width="1" opacity="0.5"/>
<path d="M7.1 13.7l-0.1 1.0M3.9 25.8l0.7 1.0M0.3 8.3l0.8 0.1M3.6 32.8h0" stroke="#1f7a2c" stroke-width="1"/>
<path d="M12.6 12.5l1.2 0.2M6.2 20.2l-1.0 0.1M11.7 36.6l-0.1 0.6M10.6 12.0l-0.3 1.2M17.4 9.1l0.1 0.8M14.3 19.4l0.6 0.8" stroke="#38b048" stroke-width="0.8" opacity="0.5"/>
<path d="M27.4 32.7h0M28.0 7.6l-0.2 0.9M33.7 6.3h0M3.3 37.6h0" stroke="#4cc457" stroke-width="1.2"/>
<path d="M12.2 4.9l0.4 0.9M0.8 23.3l0.9 0.5M11.6 19.8l1.2 0.0M3.6 30.8l0.8 0.2M12.3 9.8l1.1 0.8M11.0 10.2l0.7 0.3M0.5 2.3l0.6 0.2" stroke="#5fd065" stroke-width="0.8" opacity="0.75"/>
<path d="M15.9 3.7l-0.1 0.8" stroke="#5fd065" stroke-width="1"/>
<path d="M14.8 5.0l1.3 0.0M21.8 37.9l0.7 0.2M0.4 31.5l0.8 0.7M20.6 34.2l0.4 0.7M32.3 22.4l0.4 0.6M7.8 14.3l-0.3 0.5M12.6 30.2l0.1 0.5M33.9 18.5l-0.2 0.6" stroke="#2b9a3a" stroke-width="0.8"/>
<path d="M7.4 2.9l-0.3 0.4M5.5 37.0h0" stroke="#1f7a2c" stroke-width="1.2"/>
<path d="M4.5 23.6h0M11.8 19.5l-0.9 0.8M7.0 1.0l-0.3 0.8M7.2 35.8l0.1 1.2" stroke="#5fd065" stroke-width="1.2" opacity="0.75"/>
<path d="M1.0 38.2l-0.2 0.8M0.7 6.1l-0.7 0.6M8.3 29.0l-0.7 0.1M7.8 30.3h0M10.3 0.7l0.5 1.0M0.8 1.5l1.0 0.3" stroke="#4cc457" stroke-width="1.2" opacity="0.5"/>
<path d="M2.1 0.7l-0.4 0.6M8.1 3.2h0M30.1 36.2l-1.1 0.6M0.7 14.6h0M-0.2 22.7l0.7 0.1M21.4 28.8l-0.7 0.3M8.2 2.7h0M16.9 0.6l-0.9 0.6M13.4 29.8l-0.4 0.5M6.6 23.7h0M19.4 25.5l-0.1 0.5M2.2 15.1l-0.4 0.3" stroke="#38b048" stroke-width="1" opacity="0.75"/>
<path d="M6.3 18.5h0M8.2 14.5h0M5.8 18.2l0.3 0.7M0.3 26.6h0M5.1 30.3h0M4.1 15.8h0M4.0 8.7h0M4.6 8.0h0" stroke="#4cc457" stroke-width="0.8" opacity="0.5"/>
<path d="M19.2 38.6l-0.7 0.1M4.4 22.5l0.8 0.1M7.3 14.5h0" stroke="#1f7a2c" stroke-width="1" opacity="0.5"/>
<path d="M5.8 3.9l-0.9 0.3M6.8 5.1l-0.4 0.4M7.3 14.3l1.2 0.4M3.9 6.7l-0.6 0.8" stroke="#4cc457" stroke-width="1" opacity="0.75"/>
<path d="M27.9 29.7l0.1 1.3M0.3 13.6h0" stroke="#1f7a2c" stroke-width="1.2" opacity="0.5"/>
<path d="M6.5 16.6l-0.3 0.4M2.0 3.0l0.8 0.4M9.7 18.4h0" stroke="#1f7a2c" stroke-width="0.8" opacity="0.5"/>
<path d="M2.4 28.9l0.2 1.2M9.7 21.3l-0.2 0.5M7.7 33.6l-0.6 0.4M5.9 32.4l0.3 1.1M3.5 8.7l0.6 0.7M2.4 1.3h0" stroke="#1f7a2c" stroke-width="1" opacity="0.75"/>
<path d="M2.7 10.8l-0.8 0.2M1.7 31.6l0.4 0.3M10.3 7.2l0.2 0.5M18.4 11.1l0.0 0.5M8.4 23.5h0M15.7 17.7h0M1.8 36.9l1.2 0.2M11.3 13.1h0M4.5 30.0h0" stroke="#4cc457" stroke-width="0.8" opacity="0.75"/>
<path d="M13.4 30.6h0M0.2 15.8h0M36.7 0.2l1.0 0.0M13.9 8.3l0.7 0.6" stroke="#38b048" stroke-width="1.2" opacity="0.75"/>
<path d="M5.1 17.7l-0.4 1.2M3.1 20.4l0.8 0.9M2.8 23.3l-0.9 0.0" stroke="#5fd065" stroke-width="1.2" opacity="0.5"/>
<path d="M-0.0 3.9l0.1 0.5" stroke="#1f7a2c" stroke-width="1.2" opacity="0.75"/>
<path d="M2.1 35.3l0.7 0.2M7.3 11.7h0M2.1 16.4h0M5.0 5.3l-0.5 0.1M19.6 21.8l-1.0 0.0M7.8 35.1l-0.7 0.3" stroke="#1f7a2c" stroke-width="0.8" opacity="0.75"/>
<path d="M5.7 27.1h0M0.2 37.4h0M8.6 24.8l0.6 0.3" stroke="#2b9a3a" stroke-width="1"/>
<path d="M5.0 15.7l-0.2 0.7M3.4 17.7h0" stroke="#2b9a3a" stroke-width="1.2"/>
</g>
<path transform="translate(25.1 16.2)" d="M-0.3 -0.3 L6.6 3.0 L3.5 3.9 L2.7 6.7 Z" fill="#d41d4c"/>
<path transform="translate(15.4 28.5)" d="M-0.3 -0.3 L6.6 3.0 L3.5 3.9 L2.7 6.7 Z" fill="#d41d4c"/>
<text x="1.6" y="5.0" font-size="5.0" fill="#fff">ii</text>
<text x="37.1" y="35.3" font-size="4.4" text-anchor="end" fill="#fff">5µm</text>
<rect x="30.6" y="36.1" width="6.5" height="0.7" fill="#fff"/>
</svg>
<svg x="269.80" y="459.10" width="38.7" height="38.7" viewBox="0 0 38.7 38.7">
<rect width="38.7" height="38.7" fill="#cfcfcf"/>
<g fill="none" stroke-linecap="round" stroke-linejoin="round" filter="url(#b2)">
<path d="M2.5 20.7l1.2 -0.9M7.1 10.2l1.1 -0.4M11.7 31.5h0M1.0 19.7l0.7 -0.6M6.1 7.9l-0.3 -1.0M5.4 17.2l0.8 -0.2M6.5 23.6l-0.0 -1.3M13.2 1.8l0.7 -1.3M-0.2 17.4l0.7 -0.4M6.0 35.3l0.5 -1.1M5.0 1.3l0.7 -0.9" stroke="#43268f" stroke-width="1"/>
<path d="M0.2 22.2h0M5.5 14.2l0.6 -0.1M8.4 3.1l1.2 -0.8M6.7 7.4l1.1 -0.2M-0.2 0.3l1.3 -0.1M5.4 30.8l0.5 -0.2M7.1 9.4l0.3 -0.5M1.2 18.5h0M11.0 30.9l0.2 -0.8M5.8 33.1l-0.1 -0.8M14.9 15.6l1.2 -0.5M2.2 11.8l1.3 -0.5M17.7 34.6l0.4 -1.1M7.6 33.2l0.5 -1.1" stroke="#3f2390" stroke-width="1" opacity="0.75"/>
<path d="M23.4 37.7l0.5 -0.3M26.3 3.8l0.6 -0.6M0.2 18.4l-0.2 -0.8M3.3 18.1l0.9 0.2M8.4 20.9l0.7 -0.2M28.3 19.0l0.5 -0.7M0.4 14.5l1.0 -0.6M15.5 5.4l0.6 -0.0M13.5 20.1l0.4 -0.5M6.8 35.8l0.3 -1.5M-0.7 2.5l1.5 -0.5M4.1 4.4l1.1 -0.1M6.5 13.8l0.4 -0.8" stroke="#54309c" stroke-width="1" opacity="0.75"/>
<path d="M15.6 3.1l1.1 -0.6M6.3 16.2h0M6.4 32.3l0.1 -0.5M19.6 24.8l0.9 -0.6M2.2 13.5l0.6 -0.6M13.7 8.6l0.8 -0.1M-0.3 15.6l1.1 -0.6" stroke="#3a2390" stroke-width="1" opacity="0.75"/>
<path d="M9.7 28.2l0.1 -0.7M10.8 0.8l1.1 -0.8M8.0 10.0l-0.5 -0.7M1.7 30.4l0.6 -0.2M3.6 15.4l0.8 -0.7M6.0 7.0l0.7 -0.6M4.1 35.8l0.3 -1.3M1.7 13.5l0.9 -0.9M12.0 15.7l0.1 -1.0" stroke="#3f2390" stroke-width="0.8"/>
<path d="M6.1 13.7l0.7 -0.7M7.8 15.3l0.6 -0.7M17.3 19.4l0.6 -1.1M2.0 21.4l-0.2 -0.7M3.1 24.7l-0.1 -0.4M4.0 12.2l0.1 -0.5M7.2 9.5l-0.0 -0.9" stroke="#43268f" stroke-width="1" opacity="0.75"/>
<path d="M10.9 2.9h0M5.8 28.5l0.4 -0.2M0.6 1.7l-0.5 -1.0M7.2 19.0l0.8 -0.6M17.9 10.8l0.1 -1.0M1.8 15.0h0M13.4 16.7l0.1 -1.2M14.2 15.3l0.5 -1.1M23.5 33.4h0" stroke="#4b1f9a" stroke-width="0.8"/>
<path d="M14.6 32.7l1.0 -1.1M6.8 29.1l0.4 -0.3M2.7 12.6l0.3 -0.4M9.2 34.9l0.4 -0.4M33.7 30.0l-0.2 -1.4M12.8 0.7l0.3 -0.7M31.0 9.5l0.7 -0.0M4.7 23.2l0.5 -1.0M25.9 2.2h0M10.2 16.8l0.9 -0.8" stroke="#54309c" stroke-width="0.8"/>
<path d="M10.2 20.5l1.0 -0.4M8.1 10.5l0.4 -1.1M16.8 1.5l-0.3 -1.5M11.0 29.3l0.1 -0.5M14.6 16.3l0.9 -0.5M16.0 11.6h0M4.4 34.7l0.3 -0.6M9.7 16.1l0.8 -0.3" stroke="#3f2390" stroke-width="0.8" opacity="0.75"/>
<path d="M5.9 32.6h0M5.1 24.4l-0.0 -0.7M6.4 19.6l0.2 -0.4M7.9 33.2l0.7 0.3M1.7 28.4l0.7 -0.7M3.2 9.8l0.4 -0.3M12.0 11.1l0.4 -0.6M13.7 37.8l0.1 -0.5M17.8 14.8l0.6 -1.2M6.9 35.4l0.9 -0.1" stroke="#3f2390" stroke-width="1.2"/>
<path d="M4.7 37.9h0M9.2 1.0h0M1.3 22.3l1.5 0.2M9.7 36.5l0.8 -0.3M32.3 21.2l-0.0 -0.9M3.2 34.6l-0.3 -0.7" stroke="#3f2390" stroke-width="1.2" opacity="0.75"/>
<path d="M7.6 31.2l1.3 -0.9M3.2 9.7l0.5 -0.9M6.0 27.1l0.1 -0.7M9.8 20.8l1.0 -0.2M14.1 6.4l0.6 -1.0" stroke="#3f2390" stroke-width="1"/>
<path d="M12.4 3.0l-0.2 -1.4M2.2 9.3l0.6 -0.4M1.5 24.8l0.1 -0.9M0.6 32.7l1.2 -0.6M9.2 34.7l0.1 -0.5M2.9 33.0l0.7 -0.6M4.0 36.8h0" stroke="#54309c" stroke-width="0.8" opacity="0.75"/>
<path d="M7.9 6.3l0.4 -0.4M7.2 15.1l0.4 -1.4M3.8 12.2h0M15.3 9.5l0.3 -1.0M1.1 0.4h0M5.9 5.3l0.2 -0.5M3.5 3.0l0.3 -1.0M-0.2 35.7l0.5 -0.3M8.4 21.5l0.6 -0.3M2.9 11.6l0.5 -0.8" stroke="#43268f" stroke-width="0.8" opacity="0.75"/>
<path d="M3.3 36.2l0.5 -0.1M4.0 5.1l0.3 -0.4M11.7 28.3l1.1 -0.4M8.9 2.8l0.3 -1.2M13.8 29.5l0.3 -1.4M15.0 6.6l0.2 -0.7M2.2 34.4l-0.0 -0.7M5.5 24.3l0.5 -0.8M-0.3 22.0l0.9 -0.2" stroke="#54309c" stroke-width="1"/>
<path d="M9.5 21.8l0.4 -1.2M4.4 18.0l0.3 -0.8M32.5 18.9l-0.1 -0.7M25.3 30.7l0.1 -1.3M2.9 12.6l1.3 -0.9M14.1 21.1l0.8 -0.5M5.8 20.4l0.9 -0.6M2.0 38.8l0.8 -1.1" stroke="#3a2390" stroke-width="0.8" opacity="0.75"/>
<path d="M0.8 12.1l0.5 -1.2M12.7 10.0h0M5.3 12.8h0M7.3 23.7l0.1 -0.8" stroke="#43268f" stroke-width="1.2" opacity="0.75"/>
<path d="M6.4 18.2l0.7 -0.3M7.2 5.2l0.3 -0.4M9.4 30.4l0.5 -0.6M2.0 7.5l0.8 -1.0" stroke="#43268f" stroke-width="1.2"/>
<path d="M15.8 4.9l0.4 -0.4M21.7 33.8l1.2 -0.3M1.0 37.1l0.4 -0.7M0.5 33.7h0M3.3 13.0l0.5 -0.3M21.3 27.4l0.7 -1.3M18.4 35.5l0.3 -0.7M2.2 24.2l-0.1 -1.0M11.2 25.4l0.2 -0.7" stroke="#3a2390" stroke-width="0.8"/>
<path d="M9.2 16.2l0.6 -0.8M5.2 21.0l0.8 -0.8M14.7 35.5l0.9 -0.6M7.2 8.2l-0.2 -0.9M4.6 16.5l0.6 0.1M7.7 38.0l0.7 -0.0M8.9 2.5l-0.0 -0.7M3.9 17.6l0.1 -0.7" stroke="#43268f" stroke-width="0.8"/>
<path d="M4.4 35.4l0.6 -0.2M3.1 27.7l0.2 -0.5M14.0 0.7l0.2 -0.7M33.3 8.0l0.1 -1.5M11.5 3.5l1.3 -0.0M30.5 20.8l0.2 -0.6M6.1 32.0l0.8 -1.1M15.5 17.7l0.6 -0.9M1.4 30.3l0.3 -0.6M10.6 1.5h0" stroke="#4b1f9a" stroke-width="1"/>
<path d="M8.7 15.6l0.0 -1.2M15.2 16.6l-0.1 -1.0M1.1 1.0l-0.6 -1.1" stroke="#3a2390" stroke-width="1.2" opacity="0.75"/>
<path d="M12.9 26.2l-0.1 -1.5M8.4 1.7l1.0 0.1M2.5 29.4l0.6 -0.3M27.7 38.8l-0.5 -1.3M8.5 6.5l0.8 -0.9M8.0 33.0h0M8.3 14.2h0M1.2 20.4l0.1 -0.8" stroke="#4b1f9a" stroke-width="0.8" opacity="0.75"/>
<path d="M4.7 6.0l0.2 -0.6M4.2 13.6l-0.1 -1.0M22.0 17.8l0.3 -0.6M4.9 17.3h0M9.6 22.3h0M6.2 34.3l0.0 -0.8" stroke="#3a2390" stroke-width="1"/>
<path d="M4.8 2.8h0M6.7 34.2h0M23.5 22.2l1.3 -0.9M7.5 37.6l0.8 -0.6" stroke="#4b1f9a" stroke-width="1.2"/>
<path d="M0.9 26.2l0.5 -1.1M11.2 8.6l0.7 -1.3M5.8 18.5l0.3 -1.1M9.6 11.5l0.7 -0.0M0.2 14.1l0.1 -1.2M4.6 27.9l0.8 -1.4" stroke="#4b1f9a" stroke-width="1.2" opacity="0.75"/>
<path d="M12.3 31.4l0.4 -1.4M0.4 32.0l0.2 -0.5M7.4 29.0l-0.0 -0.6M32.6 14.1l1.0 -0.7M6.8 6.6l0.2 -0.8" stroke="#3a2390" stroke-width="1.2"/>
<path d="M5.6 2.3l0.5 -0.6M0.7 6.1l0.3 -1.3M28.9 19.8l0.6 -0.3" stroke="#4b1f9a" stroke-width="1" opacity="0.75"/>
<path d="M18.4 3.4l-0.7 -1.0" stroke="#54309c" stroke-width="1.2"/>
<path d="M4.3 29.3l0.5 -1.3M4.2 19.2l0.3 -1.1" stroke="#54309c" stroke-width="1.2" opacity="0.75"/>
</g>
<text x="1.6" y="5.0" font-size="5.0" fill="#333">ii</text>
<text x="37.1" y="35.3" font-size="4.4" text-anchor="end" fill="#333">5µm</text>
<rect x="30.6" y="36.1" width="6.5" height="0.7" fill="#333"/>
</svg>
<rect x="188.80" y="500.60" width="26.30" height="3.40" fill="url(#cbar)"/>
<text x="186.40" y="504.10" font-size="5.6" text-anchor="end" fill="#231f20" textLength="10.60" lengthAdjust="spacingAndGlyphs">0.05</text>
<text x="217.60" y="504.10" font-size="5.6" text-anchor="start" fill="#231f20">25µm<tspan font-size="3.6" dy="-2">3</tspan></text>
<text x="201.90" y="512.20" font-size="5.6" text-anchor="middle" fill="#231f20" textLength="17.40" lengthAdjust="spacingAndGlyphs">Volume</text>
<rect x="271.40" y="500.60" width="26.30" height="3.40" fill="url(#cbar)"/>
<text x="269.00" y="504.10" font-size="5.6" text-anchor="end" fill="#231f20" textLength="10.60" lengthAdjust="spacingAndGlyphs">0.05</text>
<text x="300.20" y="504.10" font-size="5.6" text-anchor="start" fill="#231f20">25µm<tspan font-size="3.6" dy="-2">3</tspan></text>
<text x="284.50" y="512.20" font-size="5.6" text-anchor="middle" fill="#231f20" textLength="17.40" lengthAdjust="spacingAndGlyphs">Volume</text>
</g>
<rect x="0" y="0" width="520" height="1.1" fill="#000"/><rect x="0" y="0" width="0.95" height="664" fill="#000"/>
<rect x="518.75" y="0" width="1.25" height="664" fill="#000"/><rect x="0" y="662.75" width="520" height="1.25" fill="#000"/>
</svg>
</body></html>
